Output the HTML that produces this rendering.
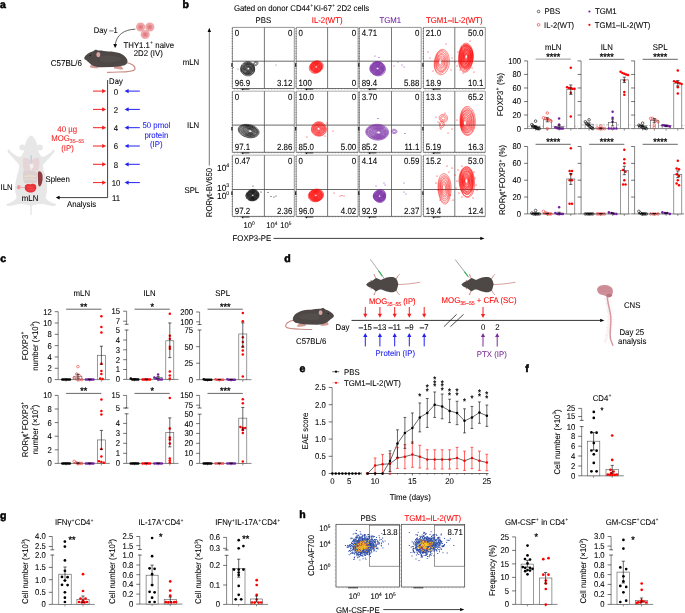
<!DOCTYPE html>
<html><head><meta charset="utf-8"><style>
html,body{margin:0;padding:0;background:#fff;}
svg{display:block;will-change:transform;text-rendering:geometricPrecision;font-family:"Liberation Sans", sans-serif;}
</style></head><body>
<svg width="685" height="613" viewBox="0 0 685 613">
<rect width="685" height="613" fill="#fff"/>
<text x="0.00" y="7.60" font-size="10.50" text-anchor="start" fill="#000" stroke="#000" font-weight="bold" stroke-width="0.55">a</text>
<circle cx="140.60" cy="27.00" r="4.6" fill="#f0a9ab" stroke="none" stroke-width="0.6" />
<circle cx="140.60" cy="27.00" r="2.6" fill="#e58a90" stroke="none" stroke-width="0.6" />
<circle cx="140.60" cy="27.00" r="1.0" fill="#d9737b" stroke="none" stroke-width="0.6" />
<circle cx="149.80" cy="27.00" r="4.6" fill="#f0a9ab" stroke="none" stroke-width="0.6" />
<circle cx="149.80" cy="27.00" r="2.6" fill="#e58a90" stroke="none" stroke-width="0.6" />
<circle cx="149.80" cy="27.00" r="1.0" fill="#d9737b" stroke="none" stroke-width="0.6" />
<circle cx="145.20" cy="34.50" r="4.6" fill="#f0a9ab" stroke="none" stroke-width="0.6" />
<circle cx="145.20" cy="34.50" r="2.6" fill="#e58a90" stroke="none" stroke-width="0.6" />
<circle cx="145.20" cy="34.50" r="1.0" fill="#d9737b" stroke="none" stroke-width="0.6" />
<path d="M135.3,29.2 C124,29.5 116.5,35 115.3,44.5" fill="none" stroke="#000" stroke-width="0.6" />
<path d="M115.1,48 L113.3,43.9 L117.1,44.3 Z" fill="#000" stroke="none" stroke-width="0.7" />
<text transform="translate(93.70,32.80) scale(1,1.07)" font-size="7.60" text-anchor="start" fill="#000" stroke="#000" stroke-width="0.07" >Day –1</text>
<text transform="translate(123.50,47.60) scale(1,1.07)" font-size="7.80" text-anchor="start" fill="#000" stroke="#000" stroke-width="0.07" >THY1.1<tspan font-size="4.4" dx="0.35" dy="-3.3">+</tspan><tspan dx="0.3" dy="3.3"> naive</tspan></text>
<text transform="translate(148.30,56.40) scale(1,1.07)" font-size="7.80" text-anchor="middle" fill="#000" stroke="#000" stroke-width="0.07" >2D2 (IV)</text>
<text transform="translate(50.80,65.60) scale(1,1.07)" font-size="8.00" text-anchor="start" fill="#000" stroke="#000" stroke-width="0.07" >C57BL/6</text>

<g id="mouseside">
<path d="M126,62.5 C131,63.2 136.2,66.2 134.8,69.6 C133,72.6 121,71.6 107.5,72.4" fill="none" stroke="#c98b86" stroke-width="1.1" stroke-linecap="round"/>
<path d="M91,64 L89.8,67.3 C92,68.2 95.5,68.5 98.5,68.3 L97,65.5 Z" fill="#d49a95"/>
<path d="M113.5,65.5 L114.2,68.6 C117,69.3 120.5,69.6 123.5,69.2 L121,65.8 Z" fill="#d49a95"/>
<path d="M84.4,57.4 C85.6,55.0 89.2,52.4 93.2,51.3 C94.5,49.5 96.8,49.0 97.9,50.6 C101.5,50.4 105,51.2 108.5,51.6 C116.5,51.6 123.5,53.6 126.6,58.4 C128.6,61.6 127.2,64.6 123.5,65.6 C120,66.5 116.5,66.9 112,67.1 L102,67.3 C97.5,67.3 93.6,66.4 90.8,64.2 C88.5,62.3 86.6,60.6 85.1,59.6 C84.3,59 84.1,58.1 84.4,57.4 Z" fill="#4d4745"/>
<path d="M100,56 C106,54.5 116,55 122,59 C118,62.5 108,63.2 100,61.5 Z" fill="#575150" opacity="0.7"/>
<ellipse cx="98.3" cy="54.6" rx="2.0" ry="2.6" fill="#d8a3a0"/>
<circle cx="90.3" cy="55.6" r="0.7" fill="#111"/>
</g>
<line x1="107.60" y1="80.00" x2="107.60" y2="197.60" stroke="#000" stroke-width="0.75" />
<line x1="107.60" y1="197.60" x2="58.50" y2="197.60" stroke="#000" stroke-width="0.75" />
<path d="M55.8,197.6 L59.6,195.8 L59.6,199.4 Z" fill="#000" stroke="none" stroke-width="0.7" />
<text transform="translate(109.10,83.50) scale(1,1.07)" font-size="7.70" text-anchor="start" fill="#000" stroke="#000" stroke-width="0.07" >Day</text>
<text transform="translate(116.00,94.50) scale(1,1.08)" font-size="7.80" text-anchor="middle" fill="#000" stroke="#000" stroke-width="0.07" >0</text>
<line x1="93.00" y1="91.10" x2="103.00" y2="91.10" stroke="#f42020" stroke-width="1.0" />
<path d="M106.20,91.10 L102.20,89.00 L102.20,93.20 Z" fill="#f42020" stroke="none" stroke-width="0.7" />
<line x1="139.80" y1="91.10" x2="127.80" y2="91.10" stroke="#2222f2" stroke-width="1.0" />
<path d="M124.60,91.10 L128.60,89.00 L128.60,93.20 Z" fill="#2222f2" stroke="none" stroke-width="0.7" />
<text transform="translate(116.00,112.80) scale(1,1.08)" font-size="7.80" text-anchor="middle" fill="#000" stroke="#000" stroke-width="0.07" >2</text>
<line x1="93.00" y1="109.40" x2="103.00" y2="109.40" stroke="#f42020" stroke-width="1.0" />
<path d="M106.20,109.40 L102.20,107.30 L102.20,111.50 Z" fill="#f42020" stroke="none" stroke-width="0.7" />
<line x1="139.80" y1="109.40" x2="127.80" y2="109.40" stroke="#2222f2" stroke-width="1.0" />
<path d="M124.60,109.40 L128.60,107.30 L128.60,111.50 Z" fill="#2222f2" stroke="none" stroke-width="0.7" />
<text transform="translate(116.00,131.10) scale(1,1.08)" font-size="7.80" text-anchor="middle" fill="#000" stroke="#000" stroke-width="0.07" >4</text>
<line x1="93.00" y1="127.70" x2="103.00" y2="127.70" stroke="#f42020" stroke-width="1.0" />
<path d="M106.20,127.70 L102.20,125.60 L102.20,129.80 Z" fill="#f42020" stroke="none" stroke-width="0.7" />
<line x1="139.80" y1="127.70" x2="127.80" y2="127.70" stroke="#2222f2" stroke-width="1.0" />
<path d="M124.60,127.70 L128.60,125.60 L128.60,129.80 Z" fill="#2222f2" stroke="none" stroke-width="0.7" />
<text transform="translate(116.00,149.40) scale(1,1.08)" font-size="7.80" text-anchor="middle" fill="#000" stroke="#000" stroke-width="0.07" >6</text>
<line x1="93.00" y1="146.00" x2="103.00" y2="146.00" stroke="#f42020" stroke-width="1.0" />
<path d="M106.20,146.00 L102.20,143.90 L102.20,148.10 Z" fill="#f42020" stroke="none" stroke-width="0.7" />
<line x1="139.80" y1="146.00" x2="127.80" y2="146.00" stroke="#2222f2" stroke-width="1.0" />
<path d="M124.60,146.00 L128.60,143.90 L128.60,148.10 Z" fill="#2222f2" stroke="none" stroke-width="0.7" />
<text transform="translate(116.00,167.70) scale(1,1.08)" font-size="7.80" text-anchor="middle" fill="#000" stroke="#000" stroke-width="0.07" >8</text>
<line x1="93.00" y1="164.30" x2="103.00" y2="164.30" stroke="#f42020" stroke-width="1.0" />
<path d="M106.20,164.30 L102.20,162.20 L102.20,166.40 Z" fill="#f42020" stroke="none" stroke-width="0.7" />
<line x1="139.80" y1="164.30" x2="127.80" y2="164.30" stroke="#2222f2" stroke-width="1.0" />
<path d="M124.60,164.30 L128.60,162.20 L128.60,166.40 Z" fill="#2222f2" stroke="none" stroke-width="0.7" />
<text transform="translate(116.00,186.00) scale(1,1.08)" font-size="7.80" text-anchor="middle" fill="#000" stroke="#000" stroke-width="0.07" >10</text>
<line x1="93.00" y1="182.60" x2="103.00" y2="182.60" stroke="#f42020" stroke-width="1.0" />
<path d="M106.20,182.60 L102.20,180.50 L102.20,184.70 Z" fill="#f42020" stroke="none" stroke-width="0.7" />
<line x1="139.80" y1="182.60" x2="127.80" y2="182.60" stroke="#2222f2" stroke-width="1.0" />
<path d="M124.60,182.60 L128.60,180.50 L128.60,184.70 Z" fill="#2222f2" stroke="none" stroke-width="0.7" />
<text transform="translate(116.00,200.80) scale(1,1.08)" font-size="7.80" text-anchor="middle" fill="#000" stroke="#000" stroke-width="0.07" >11</text>
<text transform="translate(67.20,131.90) scale(1,1.07)" font-size="7.80" text-anchor="middle" fill="#f42020" stroke="#f42020" stroke-width="0.07" >40 µg</text>
<text transform="translate(51.20,140.60) scale(1,1.07)" font-size="7.80" text-anchor="start" fill="#f42020" stroke="#f42020" stroke-width="0.07" >MOG<tspan font-size="5.2" dy="2.6">35–55</tspan></text>
<text transform="translate(67.50,150.50) scale(1,1.07)" font-size="7.80" text-anchor="middle" fill="#f42020" stroke="#f42020" stroke-width="0.07" >(IP)</text>
<text transform="translate(156.40,128.00) scale(1,1.07)" font-size="7.80" text-anchor="middle" fill="#2222f2" stroke="#2222f2" stroke-width="0.07" >50 pmol</text>
<text transform="translate(156.30,138.10) scale(1,1.07)" font-size="7.80" text-anchor="middle" fill="#2222f2" stroke="#2222f2" stroke-width="0.07" >protein</text>
<text transform="translate(156.30,147.10) scale(1,1.07)" font-size="7.80" text-anchor="middle" fill="#2222f2" stroke="#2222f2" stroke-width="0.07" >(IP)</text>
<g>
<path d="M31.10,135.60C30.75,135.83 29.68,136.30 29.00,137.00C28.32,137.70 27.57,138.80 27.00,139.80C26.43,140.80 26.00,141.88 25.60,143.00C25.20,144.12 24.83,145.30 24.60,146.50C24.37,147.70 24.50,149.02 24.20,150.20C23.90,151.38 23.40,152.53 22.80,153.60C22.20,154.67 21.50,156.17 20.60,156.60C19.70,157.03 18.57,156.67 17.40,156.20C16.23,155.73 14.73,154.60 13.60,153.80C12.47,153.00 11.37,152.10 10.60,151.40C9.83,150.70 9.48,149.78 9.00,149.60C8.52,149.42 7.88,149.87 7.70,150.30C7.52,150.73 7.58,151.58 7.90,152.20C8.22,152.82 8.82,153.10 9.60,154.00C10.38,154.90 11.50,156.33 12.60,157.60C13.70,158.87 15.13,160.37 16.20,161.60C17.27,162.83 18.57,163.68 19.00,165.00C19.43,166.32 19.17,167.58 18.80,169.50C18.43,171.42 17.38,174.00 16.80,176.50C16.22,179.00 15.55,181.92 15.30,184.50C15.05,187.08 15.08,189.82 15.30,192.00C15.52,194.18 16.75,196.23 16.60,197.60C16.45,198.97 15.40,199.37 14.40,200.20C13.40,201.03 11.87,201.97 10.60,202.60C9.33,203.23 7.47,203.50 6.80,204.00C6.13,204.50 6.07,205.28 6.60,205.60C7.13,205.92 8.60,206.02 10.00,205.90C11.40,205.78 13.25,205.20 15.00,204.90C16.75,204.60 18.75,204.18 20.50,204.10C22.25,204.02 24.02,204.22 25.50,204.40C26.98,204.58 28.60,204.93 29.40,205.20C30.20,205.47 29.88,205.87 30.30,206.00C30.72,206.13 31.48,206.13 31.90,206.00C32.32,205.87 32.00,205.47 32.80,205.20C33.60,204.93 35.22,204.58 36.70,204.40C38.18,204.22 39.95,204.02 41.70,204.10C43.45,204.18 45.45,204.60 47.20,204.90C48.95,205.20 50.80,205.78 52.20,205.90C53.60,206.02 55.07,205.92 55.60,205.60C56.13,205.28 56.07,204.50 55.40,204.00C54.73,203.50 52.87,203.23 51.60,202.60C50.33,201.97 48.80,201.03 47.80,200.20C46.80,199.37 45.75,198.97 45.60,197.60C45.45,196.23 46.68,194.18 46.90,192.00C47.12,189.82 47.15,187.08 46.90,184.50C46.65,181.92 45.98,179.00 45.40,176.50C44.82,174.00 43.77,171.42 43.40,169.50C43.03,167.58 42.77,166.32 43.20,165.00C43.63,163.68 44.93,162.83 46.00,161.60C47.07,160.37 48.50,158.87 49.60,157.60C50.70,156.33 51.82,154.90 52.60,154.00C53.38,153.10 53.98,152.82 54.30,152.20C54.62,151.58 54.68,150.73 54.50,150.30C54.32,149.87 53.68,149.42 53.20,149.60C52.72,149.78 52.37,150.70 51.60,151.40C50.83,152.10 49.73,153.00 48.60,153.80C47.47,154.60 45.97,155.73 44.80,156.20C43.63,156.67 42.50,157.03 41.60,156.60C40.70,156.17 40.00,154.67 39.40,153.60C38.80,152.53 38.30,151.38 38.00,150.20C37.70,149.02 37.83,147.70 37.60,146.50C37.37,145.30 37.00,144.12 36.60,143.00C36.20,141.88 35.77,140.80 35.20,139.80C34.63,138.80 33.88,137.70 33.20,137.00C32.52,136.30 31.45,135.83 31.10,135.60C30.75,135.37 31.45,135.37 31.10,135.60Z" fill="#e7e7e7"/>
<circle cx="22.4" cy="147.6" r="3.0" fill="#e7e7e7"/>
<circle cx="39.8" cy="147.6" r="3.0" fill="#e7e7e7"/>
<rect x="30.4" y="205" width="1.4" height="10" rx="0.6" fill="#e7e7e7"/>
<path d="M29.0,139 L27.5,135.5 M33.2,139 L34.7,135.5 M28.5,140.5 L24.5,138.5 M33.7,140.5 L37.7,138.5" stroke="#efefef" stroke-width="0.4"/>
<path d="M23.3,158.0 C22.6,162 22.6,167 24.0,170.8 L30.2,170.8 L30.2,160.5 C28.8,158.2 25.6,157.2 23.3,158.0 Z" fill="#e6d4d7"/>
<path d="M38.9,158.0 C39.6,162 39.6,167 38.2,170.8 L32.0,170.8 L32.0,160.5 C33.4,158.2 36.6,157.2 38.9,158.0 Z" fill="#e6d4d7"/>
<ellipse cx="31.6" cy="165.8" rx="2.0" ry="2.6" fill="#f4f0f0"/>
<line x1="31.1" y1="155.3" x2="31.1" y2="163.8" stroke="#98a8c8" stroke-width="0.6"/>
<path d="M23.2,171.6 C26,170.2 34,170.2 37.2,172.2 C38.2,175.8 37.6,180.6 36.2,183.2 L24.4,183.2 C22.8,180 22.7,175 23.2,171.6 Z" fill="#ddd0d1"/>
<path d="M24.4,176.4 C28,175.4 32,175.7 36.1,176.4" stroke="#ece2c6" stroke-width="1.2" fill="none"/>
<path d="M24.6,179.4 C28,178.8 32,179 35.8,179.4" stroke="#e9dfd0" stroke-width="0.8" fill="none"/>
<path d="M38.5,171.4 C41.5,170.9 43.0,174.4 42.6,178.9 C42.2,182.9 41.0,186.4 39.5,186.4 C38.0,186.4 38.0,182.0 38.0,178.0 C38.0,175.0 37.5,172.0 38.5,171.4 Z" fill="#8f3d42"/>
<path d="M25.3,185.2 C27.2,183.2 29.8,184 31.0,184.3 C33.0,183.2 36.0,184.0 36.3,186.5 C36.8,189.5 34.5,192.5 31.0,192.6 C27.5,192.6 24.7,190.5 24.8,188.0 C24.8,186.6 24.9,185.8 25.3,185.2 Z" fill="#ea3238"/>
<path d="M27,187.2 C29,186 31,188.2 33,187 M28,190 C30,189 32,190.2 34,189.4" stroke="#f47a7e" stroke-width="0.5" fill="none"/>
<line x1="20.5" y1="187.2" x2="25" y2="187.6" stroke="#e88a90" stroke-width="0.6"/>
<ellipse cx="18.8" cy="187.2" rx="1.9" ry="2.2" fill="#eba0a5"/>
</g>
<text transform="translate(45.50,182.20) scale(1,1.07)" font-size="7.80" text-anchor="start" fill="#000" stroke="#000" stroke-width="0.07" >Spleen</text>
<text transform="translate(0.60,190.20) scale(1,1.07)" font-size="7.80" text-anchor="start" fill="#000" stroke="#000" stroke-width="0.07" >ILN</text>
<text transform="translate(21.80,200.50) scale(1,1.07)" font-size="7.80" text-anchor="start" fill="#000" stroke="#000" stroke-width="0.07" >mLN</text>
<text transform="translate(67.00,206.60) scale(1,1.07)" font-size="7.80" text-anchor="start" fill="#000" stroke="#000" stroke-width="0.07" >Analysis</text>
<text x="182.60" y="7.60" font-size="10.50" text-anchor="start" fill="#000" stroke="#000" font-weight="bold" stroke-width="0.55">b</text>
<text transform="translate(233.90,11.00) scale(1,1.07)" font-size="7.80" text-anchor="start" fill="#000" stroke="#000" stroke-width="0.07" >Gated on donor CD44<tspan font-size="4.4" dx="0.4" dy="-3.3">+</tspan><tspan dx="0.6" dy="3.3">Ki-67</tspan><tspan font-size="4.4" dx="0.4" dy="-3.3">+</tspan><tspan dy="3.3"> 2D2 cells</tspan></text>
<text transform="translate(263.35,23.10) scale(1,1.07)" font-size="7.80" text-anchor="middle" fill="#000" stroke="#000" stroke-width="0.07" >PBS</text>
<text transform="translate(327.15,23.10) scale(1,1.07)" font-size="7.80" text-anchor="middle" fill="#ff0000" stroke="#ff0000" stroke-width="0.07" >IL-2(WT)</text>
<text transform="translate(390.25,23.10) scale(1,1.07)" font-size="7.80" text-anchor="middle" fill="#7222a0" stroke="#7222a0" stroke-width="0.07" >TGM1</text>
<text transform="translate(454.35,23.10) scale(1,1.07)" font-size="7.80" text-anchor="middle" fill="#ff0000" stroke="#ff0000" stroke-width="0.07" >TGM1–IL-2(WT)</text>
<text transform="translate(199.20,65.00) scale(1,1.07)" font-size="7.80" text-anchor="end" fill="#000" stroke="#000" stroke-width="0.07" >mLN</text>
<text transform="translate(199.20,128.30) scale(1,1.07)" font-size="7.80" text-anchor="end" fill="#000" stroke="#000" stroke-width="0.07" >ILN</text>
<text transform="translate(199.20,193.40) scale(1,1.07)" font-size="7.80" text-anchor="end" fill="#000" stroke="#000" stroke-width="0.07" >SPL</text>
<line x1="209.30" y1="31.00" x2="209.30" y2="165.50" stroke="#555" stroke-width="0.8" />
<path d="M209.3,27.8 L207.6,32 L211.0,32 Z" fill="#000" stroke="none" stroke-width="0.7" />
<text x="0.00" y="0.00" font-size="7.80" text-anchor="middle" fill="#000" stroke="#000" stroke-width="0.07" transform="translate(212.3,192.5) rotate(-90) scale(1,1.07)">RORγt-BV650</text>
<text transform="translate(232.60,241.00) scale(1,1.07)" font-size="7.80" text-anchor="start" fill="#000" stroke="#000" stroke-width="0.07" >FOXP3-PE</text>
<line x1="273.50" y1="238.40" x2="481.00" y2="238.40" stroke="#000" stroke-width="0.75" />
<path d="M484.5,238.4 L480.3,236.7 L480.3,240.1 Z" fill="#000" stroke="none" stroke-width="0.7" />
<text transform="translate(229.20,171.00) scale(1,1.05)" font-size="8.40" text-anchor="end" fill="#000" stroke="#000" stroke-width="0.07" >10<tspan font-size="5.2" dy="-3.4">4</tspan></text>
<text transform="translate(229.20,191.00) scale(1,1.05)" font-size="8.40" text-anchor="end" fill="#000" stroke="#000" stroke-width="0.07" >10<tspan font-size="5.2" dy="-3.4">3</tspan></text>
<text transform="translate(229.20,198.60) scale(1,1.05)" font-size="8.40" text-anchor="end" fill="#000" stroke="#000" stroke-width="0.07" >10<tspan font-size="5.2" dy="-3.4">0</tspan></text>
<text transform="translate(243.60,227.80) scale(1,1.08)" font-size="7.60" text-anchor="start" fill="#000" stroke="#000" stroke-width="0.07" >10<tspan font-size="4.8" dy="-2.8">0</tspan></text>
<text transform="translate(266.30,227.80) scale(1,1.08)" font-size="7.60" text-anchor="start" fill="#000" stroke="#000" stroke-width="0.07" >10<tspan font-size="4.8" dy="-2.8">4</tspan></text>
<text transform="translate(280.30,227.80) scale(1,1.08)" font-size="7.60" text-anchor="start" fill="#000" stroke="#000" stroke-width="0.07" >10<tspan font-size="4.8" dy="-2.8">5</tspan></text>
<line x1="232.40" y1="27.40" x2="294.30" y2="27.40" stroke="#8a8a8a" stroke-width="0.9" />
<line x1="294.30" y1="27.40" x2="294.30" y2="88.50" stroke="#8a8a8a" stroke-width="0.9" />
<line x1="232.40" y1="88.50" x2="294.30" y2="88.50" stroke="#555" stroke-width="0.85" />
<line x1="232.40" y1="27.40" x2="232.40" y2="88.50" stroke="#777" stroke-width="0.8" />
<line x1="232.20" y1="28.40" x2="232.20" y2="88.50" stroke="#333" stroke-width="0.9" stroke-dasharray="0.6,1.9"/>
<line x1="264.40" y1="27.40" x2="264.40" y2="88.50" stroke="#555" stroke-width="0.8" />
<line x1="232.40" y1="61.20" x2="294.30" y2="61.20" stroke="#444" stroke-width="0.8" />
<g stroke="#666" stroke-width="0.45"><line x1="234.4" y1="88.5" x2="234.4" y2="89.6"/><line x1="237.5" y1="88.5" x2="237.5" y2="89.6"/><line x1="240.6" y1="88.5" x2="240.6" y2="89.6"/><line x1="243.7" y1="88.5" x2="243.7" y2="89.6"/><line x1="246.8" y1="88.5" x2="246.8" y2="89.6"/><line x1="249.9" y1="88.5" x2="249.9" y2="89.6"/><line x1="253.0" y1="88.5" x2="253.0" y2="89.6"/><line x1="256.1" y1="88.5" x2="256.1" y2="89.6"/><line x1="259.2" y1="88.5" x2="259.2" y2="89.6"/><line x1="262.3" y1="88.5" x2="262.3" y2="89.6"/><line x1="265.4" y1="88.5" x2="265.4" y2="89.6"/><line x1="268.5" y1="88.5" x2="268.5" y2="89.6"/><line x1="271.6" y1="88.5" x2="271.6" y2="89.6"/><line x1="274.7" y1="88.5" x2="274.7" y2="89.6"/><line x1="277.8" y1="88.5" x2="277.8" y2="89.6"/><line x1="280.9" y1="88.5" x2="280.9" y2="89.6"/><line x1="284.0" y1="88.5" x2="284.0" y2="89.6"/><line x1="287.1" y1="88.5" x2="287.1" y2="89.6"/><line x1="290.2" y1="88.5" x2="290.2" y2="89.6"/><line x1="293.3" y1="88.5" x2="293.3" y2="89.6"/></g>
<line x1="241.40" y1="89.10" x2="249.40" y2="89.10" stroke="#222" stroke-width="0.9" />
<line x1="242.70" y1="89.00" x2="242.70" y2="90.30" stroke="#111" stroke-width="1.1" />
<line x1="231.90" y1="63.20" x2="231.90" y2="66.70" stroke="#111" stroke-width="1.1" />
<text transform="translate(234.80,36.20) scale(1,1.13)" font-size="7.90" text-anchor="start" fill="#000" stroke="#000" stroke-width="0.07" >0</text>
<text transform="translate(292.40,36.20) scale(1,1.13)" font-size="7.90" text-anchor="end" fill="#000" stroke="#000" stroke-width="0.07" >0</text>
<text transform="translate(234.80,85.70) scale(1,1.13)" font-size="7.90" text-anchor="start" fill="#000" stroke="#000" stroke-width="0.07" >96.9</text>
<text transform="translate(292.40,85.70) scale(1,1.13)" font-size="7.90" text-anchor="end" fill="#000" stroke="#000" stroke-width="0.07" >3.12</text>
<line x1="296.20" y1="27.40" x2="358.10" y2="27.40" stroke="#8a8a8a" stroke-width="0.9" />
<line x1="358.10" y1="27.40" x2="358.10" y2="88.50" stroke="#8a8a8a" stroke-width="0.9" />
<line x1="296.20" y1="88.50" x2="358.10" y2="88.50" stroke="#555" stroke-width="0.85" />
<line x1="296.20" y1="27.40" x2="296.20" y2="88.50" stroke="#777" stroke-width="0.8" />
<line x1="296.00" y1="28.40" x2="296.00" y2="88.50" stroke="#333" stroke-width="0.9" stroke-dasharray="0.6,1.9"/>
<line x1="327.60" y1="27.40" x2="327.60" y2="88.50" stroke="#555" stroke-width="0.8" />
<line x1="296.20" y1="61.20" x2="358.10" y2="61.20" stroke="#444" stroke-width="0.8" />
<g stroke="#666" stroke-width="0.45"><line x1="298.2" y1="88.5" x2="298.2" y2="89.6"/><line x1="301.3" y1="88.5" x2="301.3" y2="89.6"/><line x1="304.4" y1="88.5" x2="304.4" y2="89.6"/><line x1="307.5" y1="88.5" x2="307.5" y2="89.6"/><line x1="310.6" y1="88.5" x2="310.6" y2="89.6"/><line x1="313.7" y1="88.5" x2="313.7" y2="89.6"/><line x1="316.8" y1="88.5" x2="316.8" y2="89.6"/><line x1="319.9" y1="88.5" x2="319.9" y2="89.6"/><line x1="323.0" y1="88.5" x2="323.0" y2="89.6"/><line x1="326.1" y1="88.5" x2="326.1" y2="89.6"/><line x1="329.2" y1="88.5" x2="329.2" y2="89.6"/><line x1="332.3" y1="88.5" x2="332.3" y2="89.6"/><line x1="335.4" y1="88.5" x2="335.4" y2="89.6"/><line x1="338.5" y1="88.5" x2="338.5" y2="89.6"/><line x1="341.6" y1="88.5" x2="341.6" y2="89.6"/><line x1="344.7" y1="88.5" x2="344.7" y2="89.6"/><line x1="347.8" y1="88.5" x2="347.8" y2="89.6"/><line x1="350.9" y1="88.5" x2="350.9" y2="89.6"/><line x1="354.0" y1="88.5" x2="354.0" y2="89.6"/><line x1="357.1" y1="88.5" x2="357.1" y2="89.6"/></g>
<line x1="305.20" y1="89.10" x2="313.20" y2="89.10" stroke="#222" stroke-width="0.9" />
<line x1="306.50" y1="89.00" x2="306.50" y2="90.30" stroke="#111" stroke-width="1.1" />
<line x1="295.70" y1="63.20" x2="295.70" y2="66.70" stroke="#111" stroke-width="1.1" />
<text transform="translate(298.60,36.20) scale(1,1.13)" font-size="7.90" text-anchor="start" fill="#000" stroke="#000" stroke-width="0.07" >0</text>
<text transform="translate(356.20,36.20) scale(1,1.13)" font-size="7.90" text-anchor="end" fill="#000" stroke="#000" stroke-width="0.07" >0</text>
<text transform="translate(298.60,85.70) scale(1,1.13)" font-size="7.90" text-anchor="start" fill="#000" stroke="#000" stroke-width="0.07" >100</text>
<text transform="translate(356.20,85.70) scale(1,1.13)" font-size="7.90" text-anchor="end" fill="#000" stroke="#000" stroke-width="0.07" >0</text>
<line x1="359.30" y1="27.40" x2="421.20" y2="27.40" stroke="#8a8a8a" stroke-width="0.9" />
<line x1="421.20" y1="27.40" x2="421.20" y2="88.50" stroke="#8a8a8a" stroke-width="0.9" />
<line x1="359.30" y1="88.50" x2="421.20" y2="88.50" stroke="#555" stroke-width="0.85" />
<line x1="359.30" y1="27.40" x2="359.30" y2="88.50" stroke="#777" stroke-width="0.8" />
<line x1="359.10" y1="28.40" x2="359.10" y2="88.50" stroke="#333" stroke-width="0.9" stroke-dasharray="0.6,1.9"/>
<line x1="391.50" y1="27.40" x2="391.50" y2="88.50" stroke="#555" stroke-width="0.8" />
<line x1="359.30" y1="61.20" x2="421.20" y2="61.20" stroke="#444" stroke-width="0.8" />
<g stroke="#666" stroke-width="0.45"><line x1="361.3" y1="88.5" x2="361.3" y2="89.6"/><line x1="364.4" y1="88.5" x2="364.4" y2="89.6"/><line x1="367.5" y1="88.5" x2="367.5" y2="89.6"/><line x1="370.6" y1="88.5" x2="370.6" y2="89.6"/><line x1="373.7" y1="88.5" x2="373.7" y2="89.6"/><line x1="376.8" y1="88.5" x2="376.8" y2="89.6"/><line x1="379.9" y1="88.5" x2="379.9" y2="89.6"/><line x1="383.0" y1="88.5" x2="383.0" y2="89.6"/><line x1="386.1" y1="88.5" x2="386.1" y2="89.6"/><line x1="389.2" y1="88.5" x2="389.2" y2="89.6"/><line x1="392.3" y1="88.5" x2="392.3" y2="89.6"/><line x1="395.4" y1="88.5" x2="395.4" y2="89.6"/><line x1="398.5" y1="88.5" x2="398.5" y2="89.6"/><line x1="401.6" y1="88.5" x2="401.6" y2="89.6"/><line x1="404.7" y1="88.5" x2="404.7" y2="89.6"/><line x1="407.8" y1="88.5" x2="407.8" y2="89.6"/><line x1="410.9" y1="88.5" x2="410.9" y2="89.6"/><line x1="414.0" y1="88.5" x2="414.0" y2="89.6"/><line x1="417.1" y1="88.5" x2="417.1" y2="89.6"/><line x1="420.2" y1="88.5" x2="420.2" y2="89.6"/></g>
<line x1="368.30" y1="89.10" x2="376.30" y2="89.10" stroke="#222" stroke-width="0.9" />
<line x1="369.60" y1="89.00" x2="369.60" y2="90.30" stroke="#111" stroke-width="1.1" />
<line x1="358.80" y1="63.20" x2="358.80" y2="66.70" stroke="#111" stroke-width="1.1" />
<text transform="translate(361.70,36.20) scale(1,1.13)" font-size="7.90" text-anchor="start" fill="#000" stroke="#000" stroke-width="0.07" >4.71</text>
<text transform="translate(419.30,36.20) scale(1,1.13)" font-size="7.90" text-anchor="end" fill="#000" stroke="#000" stroke-width="0.07" >0</text>
<text transform="translate(361.70,85.70) scale(1,1.13)" font-size="7.90" text-anchor="start" fill="#000" stroke="#000" stroke-width="0.07" >89.4</text>
<text transform="translate(419.30,85.70) scale(1,1.13)" font-size="7.90" text-anchor="end" fill="#000" stroke="#000" stroke-width="0.07" >5.88</text>
<line x1="423.40" y1="27.40" x2="485.30" y2="27.40" stroke="#8a8a8a" stroke-width="0.9" />
<line x1="485.30" y1="27.40" x2="485.30" y2="88.50" stroke="#8a8a8a" stroke-width="0.9" />
<line x1="423.40" y1="88.50" x2="485.30" y2="88.50" stroke="#555" stroke-width="0.85" />
<line x1="423.40" y1="27.40" x2="423.40" y2="88.50" stroke="#777" stroke-width="0.8" />
<line x1="423.20" y1="28.40" x2="423.20" y2="88.50" stroke="#333" stroke-width="0.9" stroke-dasharray="0.6,1.9"/>
<line x1="454.80" y1="27.40" x2="454.80" y2="88.50" stroke="#555" stroke-width="0.8" />
<line x1="423.40" y1="61.20" x2="485.30" y2="61.20" stroke="#444" stroke-width="0.8" />
<g stroke="#666" stroke-width="0.45"><line x1="425.4" y1="88.5" x2="425.4" y2="89.6"/><line x1="428.5" y1="88.5" x2="428.5" y2="89.6"/><line x1="431.6" y1="88.5" x2="431.6" y2="89.6"/><line x1="434.7" y1="88.5" x2="434.7" y2="89.6"/><line x1="437.8" y1="88.5" x2="437.8" y2="89.6"/><line x1="440.9" y1="88.5" x2="440.9" y2="89.6"/><line x1="444.0" y1="88.5" x2="444.0" y2="89.6"/><line x1="447.1" y1="88.5" x2="447.1" y2="89.6"/><line x1="450.2" y1="88.5" x2="450.2" y2="89.6"/><line x1="453.3" y1="88.5" x2="453.3" y2="89.6"/><line x1="456.4" y1="88.5" x2="456.4" y2="89.6"/><line x1="459.5" y1="88.5" x2="459.5" y2="89.6"/><line x1="462.6" y1="88.5" x2="462.6" y2="89.6"/><line x1="465.7" y1="88.5" x2="465.7" y2="89.6"/><line x1="468.8" y1="88.5" x2="468.8" y2="89.6"/><line x1="471.9" y1="88.5" x2="471.9" y2="89.6"/><line x1="475.0" y1="88.5" x2="475.0" y2="89.6"/><line x1="478.1" y1="88.5" x2="478.1" y2="89.6"/><line x1="481.2" y1="88.5" x2="481.2" y2="89.6"/><line x1="484.3" y1="88.5" x2="484.3" y2="89.6"/></g>
<line x1="432.40" y1="89.10" x2="440.40" y2="89.10" stroke="#222" stroke-width="0.9" />
<line x1="433.70" y1="89.00" x2="433.70" y2="90.30" stroke="#111" stroke-width="1.1" />
<line x1="422.90" y1="63.20" x2="422.90" y2="66.70" stroke="#111" stroke-width="1.1" />
<text transform="translate(425.80,36.20) scale(1,1.13)" font-size="7.90" text-anchor="start" fill="#000" stroke="#000" stroke-width="0.07" >21.0</text>
<text transform="translate(483.40,36.20) scale(1,1.13)" font-size="7.90" text-anchor="end" fill="#000" stroke="#000" stroke-width="0.07" >50.0</text>
<text transform="translate(425.80,85.70) scale(1,1.13)" font-size="7.90" text-anchor="start" fill="#000" stroke="#000" stroke-width="0.07" >18.9</text>
<text transform="translate(483.40,85.70) scale(1,1.13)" font-size="7.90" text-anchor="end" fill="#000" stroke="#000" stroke-width="0.07" >10.1</text>
<line x1="232.40" y1="91.20" x2="294.30" y2="91.20" stroke="#c8c8c8" stroke-width="1.5" />
<line x1="294.30" y1="91.20" x2="294.30" y2="152.30" stroke="#8a8a8a" stroke-width="0.9" />
<line x1="232.40" y1="152.30" x2="294.30" y2="152.30" stroke="#555" stroke-width="0.85" />
<line x1="232.40" y1="91.20" x2="232.40" y2="152.30" stroke="#777" stroke-width="0.8" />
<line x1="232.20" y1="92.20" x2="232.20" y2="152.30" stroke="#333" stroke-width="0.9" stroke-dasharray="0.6,1.9"/>
<line x1="264.40" y1="91.20" x2="264.40" y2="152.30" stroke="#555" stroke-width="0.8" />
<line x1="232.40" y1="125.10" x2="294.30" y2="125.10" stroke="#444" stroke-width="0.8" />
<g stroke="#666" stroke-width="0.45"><line x1="234.4" y1="152.3" x2="234.4" y2="153.4"/><line x1="237.5" y1="152.3" x2="237.5" y2="153.4"/><line x1="240.6" y1="152.3" x2="240.6" y2="153.4"/><line x1="243.7" y1="152.3" x2="243.7" y2="153.4"/><line x1="246.8" y1="152.3" x2="246.8" y2="153.4"/><line x1="249.9" y1="152.3" x2="249.9" y2="153.4"/><line x1="253.0" y1="152.3" x2="253.0" y2="153.4"/><line x1="256.1" y1="152.3" x2="256.1" y2="153.4"/><line x1="259.2" y1="152.3" x2="259.2" y2="153.4"/><line x1="262.3" y1="152.3" x2="262.3" y2="153.4"/><line x1="265.4" y1="152.3" x2="265.4" y2="153.4"/><line x1="268.5" y1="152.3" x2="268.5" y2="153.4"/><line x1="271.6" y1="152.3" x2="271.6" y2="153.4"/><line x1="274.7" y1="152.3" x2="274.7" y2="153.4"/><line x1="277.8" y1="152.3" x2="277.8" y2="153.4"/><line x1="280.9" y1="152.3" x2="280.9" y2="153.4"/><line x1="284.0" y1="152.3" x2="284.0" y2="153.4"/><line x1="287.1" y1="152.3" x2="287.1" y2="153.4"/><line x1="290.2" y1="152.3" x2="290.2" y2="153.4"/><line x1="293.3" y1="152.3" x2="293.3" y2="153.4"/></g>
<line x1="241.40" y1="152.90" x2="249.40" y2="152.90" stroke="#222" stroke-width="0.9" />
<line x1="242.70" y1="152.80" x2="242.70" y2="154.10" stroke="#111" stroke-width="1.1" />
<line x1="231.90" y1="127.10" x2="231.90" y2="130.60" stroke="#111" stroke-width="1.1" />
<text transform="translate(234.80,100.00) scale(1,1.13)" font-size="7.90" text-anchor="start" fill="#000" stroke="#000" stroke-width="0.07" >0</text>
<text transform="translate(292.40,100.00) scale(1,1.13)" font-size="7.90" text-anchor="end" fill="#000" stroke="#000" stroke-width="0.07" >0</text>
<text transform="translate(234.80,149.50) scale(1,1.13)" font-size="7.90" text-anchor="start" fill="#000" stroke="#000" stroke-width="0.07" >97.1</text>
<text transform="translate(292.40,149.50) scale(1,1.13)" font-size="7.90" text-anchor="end" fill="#000" stroke="#000" stroke-width="0.07" >2.86</text>
<line x1="296.20" y1="91.20" x2="358.10" y2="91.20" stroke="#c8c8c8" stroke-width="1.5" />
<line x1="358.10" y1="91.20" x2="358.10" y2="152.30" stroke="#8a8a8a" stroke-width="0.9" />
<line x1="296.20" y1="152.30" x2="358.10" y2="152.30" stroke="#555" stroke-width="0.85" />
<line x1="296.20" y1="91.20" x2="296.20" y2="152.30" stroke="#777" stroke-width="0.8" />
<line x1="296.00" y1="92.20" x2="296.00" y2="152.30" stroke="#333" stroke-width="0.9" stroke-dasharray="0.6,1.9"/>
<line x1="327.60" y1="91.20" x2="327.60" y2="152.30" stroke="#555" stroke-width="0.8" />
<line x1="296.20" y1="125.10" x2="358.10" y2="125.10" stroke="#444" stroke-width="0.8" />
<g stroke="#666" stroke-width="0.45"><line x1="298.2" y1="152.3" x2="298.2" y2="153.4"/><line x1="301.3" y1="152.3" x2="301.3" y2="153.4"/><line x1="304.4" y1="152.3" x2="304.4" y2="153.4"/><line x1="307.5" y1="152.3" x2="307.5" y2="153.4"/><line x1="310.6" y1="152.3" x2="310.6" y2="153.4"/><line x1="313.7" y1="152.3" x2="313.7" y2="153.4"/><line x1="316.8" y1="152.3" x2="316.8" y2="153.4"/><line x1="319.9" y1="152.3" x2="319.9" y2="153.4"/><line x1="323.0" y1="152.3" x2="323.0" y2="153.4"/><line x1="326.1" y1="152.3" x2="326.1" y2="153.4"/><line x1="329.2" y1="152.3" x2="329.2" y2="153.4"/><line x1="332.3" y1="152.3" x2="332.3" y2="153.4"/><line x1="335.4" y1="152.3" x2="335.4" y2="153.4"/><line x1="338.5" y1="152.3" x2="338.5" y2="153.4"/><line x1="341.6" y1="152.3" x2="341.6" y2="153.4"/><line x1="344.7" y1="152.3" x2="344.7" y2="153.4"/><line x1="347.8" y1="152.3" x2="347.8" y2="153.4"/><line x1="350.9" y1="152.3" x2="350.9" y2="153.4"/><line x1="354.0" y1="152.3" x2="354.0" y2="153.4"/><line x1="357.1" y1="152.3" x2="357.1" y2="153.4"/></g>
<line x1="305.20" y1="152.90" x2="313.20" y2="152.90" stroke="#222" stroke-width="0.9" />
<line x1="306.50" y1="152.80" x2="306.50" y2="154.10" stroke="#111" stroke-width="1.1" />
<line x1="295.70" y1="127.10" x2="295.70" y2="130.60" stroke="#111" stroke-width="1.1" />
<text transform="translate(298.60,100.00) scale(1,1.13)" font-size="7.90" text-anchor="start" fill="#000" stroke="#000" stroke-width="0.07" >10.0</text>
<text transform="translate(356.20,100.00) scale(1,1.13)" font-size="7.90" text-anchor="end" fill="#000" stroke="#000" stroke-width="0.07" >0</text>
<text transform="translate(298.60,149.50) scale(1,1.13)" font-size="7.90" text-anchor="start" fill="#000" stroke="#000" stroke-width="0.07" >85.0</text>
<text transform="translate(356.20,149.50) scale(1,1.13)" font-size="7.90" text-anchor="end" fill="#000" stroke="#000" stroke-width="0.07" >5.00</text>
<line x1="359.30" y1="91.20" x2="421.20" y2="91.20" stroke="#c8c8c8" stroke-width="1.5" />
<line x1="421.20" y1="91.20" x2="421.20" y2="152.30" stroke="#8a8a8a" stroke-width="0.9" />
<line x1="359.30" y1="152.30" x2="421.20" y2="152.30" stroke="#555" stroke-width="0.85" />
<line x1="359.30" y1="91.20" x2="359.30" y2="152.30" stroke="#777" stroke-width="0.8" />
<line x1="359.10" y1="92.20" x2="359.10" y2="152.30" stroke="#333" stroke-width="0.9" stroke-dasharray="0.6,1.9"/>
<line x1="391.50" y1="91.20" x2="391.50" y2="152.30" stroke="#555" stroke-width="0.8" />
<line x1="359.30" y1="125.10" x2="421.20" y2="125.10" stroke="#444" stroke-width="0.8" />
<g stroke="#666" stroke-width="0.45"><line x1="361.3" y1="152.3" x2="361.3" y2="153.4"/><line x1="364.4" y1="152.3" x2="364.4" y2="153.4"/><line x1="367.5" y1="152.3" x2="367.5" y2="153.4"/><line x1="370.6" y1="152.3" x2="370.6" y2="153.4"/><line x1="373.7" y1="152.3" x2="373.7" y2="153.4"/><line x1="376.8" y1="152.3" x2="376.8" y2="153.4"/><line x1="379.9" y1="152.3" x2="379.9" y2="153.4"/><line x1="383.0" y1="152.3" x2="383.0" y2="153.4"/><line x1="386.1" y1="152.3" x2="386.1" y2="153.4"/><line x1="389.2" y1="152.3" x2="389.2" y2="153.4"/><line x1="392.3" y1="152.3" x2="392.3" y2="153.4"/><line x1="395.4" y1="152.3" x2="395.4" y2="153.4"/><line x1="398.5" y1="152.3" x2="398.5" y2="153.4"/><line x1="401.6" y1="152.3" x2="401.6" y2="153.4"/><line x1="404.7" y1="152.3" x2="404.7" y2="153.4"/><line x1="407.8" y1="152.3" x2="407.8" y2="153.4"/><line x1="410.9" y1="152.3" x2="410.9" y2="153.4"/><line x1="414.0" y1="152.3" x2="414.0" y2="153.4"/><line x1="417.1" y1="152.3" x2="417.1" y2="153.4"/><line x1="420.2" y1="152.3" x2="420.2" y2="153.4"/></g>
<line x1="368.30" y1="152.90" x2="376.30" y2="152.90" stroke="#222" stroke-width="0.9" />
<line x1="369.60" y1="152.80" x2="369.60" y2="154.10" stroke="#111" stroke-width="1.1" />
<line x1="358.80" y1="127.10" x2="358.80" y2="130.60" stroke="#111" stroke-width="1.1" />
<text transform="translate(361.70,100.00) scale(1,1.13)" font-size="7.90" text-anchor="start" fill="#000" stroke="#000" stroke-width="0.07" >3.70</text>
<text transform="translate(419.30,100.00) scale(1,1.13)" font-size="7.90" text-anchor="end" fill="#000" stroke="#000" stroke-width="0.07" >0</text>
<text transform="translate(361.70,149.50) scale(1,1.13)" font-size="7.90" text-anchor="start" fill="#000" stroke="#000" stroke-width="0.07" >85.2</text>
<text transform="translate(419.30,149.50) scale(1,1.13)" font-size="7.90" text-anchor="end" fill="#000" stroke="#000" stroke-width="0.07" >11.1</text>
<line x1="423.40" y1="91.20" x2="485.30" y2="91.20" stroke="#c8c8c8" stroke-width="1.5" />
<line x1="485.30" y1="91.20" x2="485.30" y2="152.30" stroke="#8a8a8a" stroke-width="0.9" />
<line x1="423.40" y1="152.30" x2="485.30" y2="152.30" stroke="#555" stroke-width="0.85" />
<line x1="423.40" y1="91.20" x2="423.40" y2="152.30" stroke="#777" stroke-width="0.8" />
<line x1="423.20" y1="92.20" x2="423.20" y2="152.30" stroke="#333" stroke-width="0.9" stroke-dasharray="0.6,1.9"/>
<line x1="454.80" y1="91.20" x2="454.80" y2="152.30" stroke="#555" stroke-width="0.8" />
<line x1="423.40" y1="125.10" x2="485.30" y2="125.10" stroke="#444" stroke-width="0.8" />
<g stroke="#666" stroke-width="0.45"><line x1="425.4" y1="152.3" x2="425.4" y2="153.4"/><line x1="428.5" y1="152.3" x2="428.5" y2="153.4"/><line x1="431.6" y1="152.3" x2="431.6" y2="153.4"/><line x1="434.7" y1="152.3" x2="434.7" y2="153.4"/><line x1="437.8" y1="152.3" x2="437.8" y2="153.4"/><line x1="440.9" y1="152.3" x2="440.9" y2="153.4"/><line x1="444.0" y1="152.3" x2="444.0" y2="153.4"/><line x1="447.1" y1="152.3" x2="447.1" y2="153.4"/><line x1="450.2" y1="152.3" x2="450.2" y2="153.4"/><line x1="453.3" y1="152.3" x2="453.3" y2="153.4"/><line x1="456.4" y1="152.3" x2="456.4" y2="153.4"/><line x1="459.5" y1="152.3" x2="459.5" y2="153.4"/><line x1="462.6" y1="152.3" x2="462.6" y2="153.4"/><line x1="465.7" y1="152.3" x2="465.7" y2="153.4"/><line x1="468.8" y1="152.3" x2="468.8" y2="153.4"/><line x1="471.9" y1="152.3" x2="471.9" y2="153.4"/><line x1="475.0" y1="152.3" x2="475.0" y2="153.4"/><line x1="478.1" y1="152.3" x2="478.1" y2="153.4"/><line x1="481.2" y1="152.3" x2="481.2" y2="153.4"/><line x1="484.3" y1="152.3" x2="484.3" y2="153.4"/></g>
<line x1="432.40" y1="152.90" x2="440.40" y2="152.90" stroke="#222" stroke-width="0.9" />
<line x1="433.70" y1="152.80" x2="433.70" y2="154.10" stroke="#111" stroke-width="1.1" />
<line x1="422.90" y1="127.10" x2="422.90" y2="130.60" stroke="#111" stroke-width="1.1" />
<text transform="translate(425.80,100.00) scale(1,1.13)" font-size="7.90" text-anchor="start" fill="#000" stroke="#000" stroke-width="0.07" >13.3</text>
<text transform="translate(483.40,100.00) scale(1,1.13)" font-size="7.90" text-anchor="end" fill="#000" stroke="#000" stroke-width="0.07" >65.2</text>
<text transform="translate(425.80,149.50) scale(1,1.13)" font-size="7.90" text-anchor="start" fill="#000" stroke="#000" stroke-width="0.07" >5.19</text>
<text transform="translate(483.40,149.50) scale(1,1.13)" font-size="7.90" text-anchor="end" fill="#000" stroke="#000" stroke-width="0.07" >16.3</text>
<line x1="232.40" y1="155.30" x2="294.30" y2="155.30" stroke="#c8c8c8" stroke-width="1.5" />
<line x1="294.30" y1="155.30" x2="294.30" y2="216.40" stroke="#8a8a8a" stroke-width="0.9" />
<line x1="232.40" y1="216.40" x2="294.30" y2="216.40" stroke="#555" stroke-width="0.85" />
<line x1="232.40" y1="155.30" x2="232.40" y2="216.40" stroke="#777" stroke-width="0.8" />
<line x1="232.20" y1="156.30" x2="232.20" y2="216.40" stroke="#333" stroke-width="0.9" stroke-dasharray="0.6,1.9"/>
<line x1="264.40" y1="155.30" x2="264.40" y2="216.40" stroke="#555" stroke-width="0.8" />
<line x1="232.40" y1="189.50" x2="294.30" y2="189.50" stroke="#444" stroke-width="0.8" />
<g stroke="#666" stroke-width="0.45"><line x1="234.4" y1="216.4" x2="234.4" y2="217.5"/><line x1="237.5" y1="216.4" x2="237.5" y2="217.5"/><line x1="240.6" y1="216.4" x2="240.6" y2="217.5"/><line x1="243.7" y1="216.4" x2="243.7" y2="217.5"/><line x1="246.8" y1="216.4" x2="246.8" y2="217.5"/><line x1="249.9" y1="216.4" x2="249.9" y2="217.5"/><line x1="253.0" y1="216.4" x2="253.0" y2="217.5"/><line x1="256.1" y1="216.4" x2="256.1" y2="217.5"/><line x1="259.2" y1="216.4" x2="259.2" y2="217.5"/><line x1="262.3" y1="216.4" x2="262.3" y2="217.5"/><line x1="265.4" y1="216.4" x2="265.4" y2="217.5"/><line x1="268.5" y1="216.4" x2="268.5" y2="217.5"/><line x1="271.6" y1="216.4" x2="271.6" y2="217.5"/><line x1="274.7" y1="216.4" x2="274.7" y2="217.5"/><line x1="277.8" y1="216.4" x2="277.8" y2="217.5"/><line x1="280.9" y1="216.4" x2="280.9" y2="217.5"/><line x1="284.0" y1="216.4" x2="284.0" y2="217.5"/><line x1="287.1" y1="216.4" x2="287.1" y2="217.5"/><line x1="290.2" y1="216.4" x2="290.2" y2="217.5"/><line x1="293.3" y1="216.4" x2="293.3" y2="217.5"/></g>
<line x1="241.40" y1="217.00" x2="249.40" y2="217.00" stroke="#222" stroke-width="0.9" />
<line x1="242.70" y1="216.90" x2="242.70" y2="218.20" stroke="#111" stroke-width="1.1" />
<line x1="231.90" y1="191.50" x2="231.90" y2="195.00" stroke="#111" stroke-width="1.1" />
<text transform="translate(234.80,164.10) scale(1,1.13)" font-size="7.90" text-anchor="start" fill="#000" stroke="#000" stroke-width="0.07" >0.47</text>
<text transform="translate(292.40,164.10) scale(1,1.13)" font-size="7.90" text-anchor="end" fill="#000" stroke="#000" stroke-width="0.07" >0</text>
<text transform="translate(234.80,213.60) scale(1,1.13)" font-size="7.90" text-anchor="start" fill="#000" stroke="#000" stroke-width="0.07" >97.2</text>
<text transform="translate(292.40,213.60) scale(1,1.13)" font-size="7.90" text-anchor="end" fill="#000" stroke="#000" stroke-width="0.07" >2.36</text>
<line x1="296.20" y1="155.30" x2="358.10" y2="155.30" stroke="#c8c8c8" stroke-width="1.5" />
<line x1="358.10" y1="155.30" x2="358.10" y2="216.40" stroke="#8a8a8a" stroke-width="0.9" />
<line x1="296.20" y1="216.40" x2="358.10" y2="216.40" stroke="#555" stroke-width="0.85" />
<line x1="296.20" y1="155.30" x2="296.20" y2="216.40" stroke="#777" stroke-width="0.8" />
<line x1="296.00" y1="156.30" x2="296.00" y2="216.40" stroke="#333" stroke-width="0.9" stroke-dasharray="0.6,1.9"/>
<line x1="327.60" y1="155.30" x2="327.60" y2="216.40" stroke="#555" stroke-width="0.8" />
<line x1="296.20" y1="189.50" x2="358.10" y2="189.50" stroke="#444" stroke-width="0.8" />
<g stroke="#666" stroke-width="0.45"><line x1="298.2" y1="216.4" x2="298.2" y2="217.5"/><line x1="301.3" y1="216.4" x2="301.3" y2="217.5"/><line x1="304.4" y1="216.4" x2="304.4" y2="217.5"/><line x1="307.5" y1="216.4" x2="307.5" y2="217.5"/><line x1="310.6" y1="216.4" x2="310.6" y2="217.5"/><line x1="313.7" y1="216.4" x2="313.7" y2="217.5"/><line x1="316.8" y1="216.4" x2="316.8" y2="217.5"/><line x1="319.9" y1="216.4" x2="319.9" y2="217.5"/><line x1="323.0" y1="216.4" x2="323.0" y2="217.5"/><line x1="326.1" y1="216.4" x2="326.1" y2="217.5"/><line x1="329.2" y1="216.4" x2="329.2" y2="217.5"/><line x1="332.3" y1="216.4" x2="332.3" y2="217.5"/><line x1="335.4" y1="216.4" x2="335.4" y2="217.5"/><line x1="338.5" y1="216.4" x2="338.5" y2="217.5"/><line x1="341.6" y1="216.4" x2="341.6" y2="217.5"/><line x1="344.7" y1="216.4" x2="344.7" y2="217.5"/><line x1="347.8" y1="216.4" x2="347.8" y2="217.5"/><line x1="350.9" y1="216.4" x2="350.9" y2="217.5"/><line x1="354.0" y1="216.4" x2="354.0" y2="217.5"/><line x1="357.1" y1="216.4" x2="357.1" y2="217.5"/></g>
<line x1="305.20" y1="217.00" x2="313.20" y2="217.00" stroke="#222" stroke-width="0.9" />
<line x1="306.50" y1="216.90" x2="306.50" y2="218.20" stroke="#111" stroke-width="1.1" />
<line x1="295.70" y1="191.50" x2="295.70" y2="195.00" stroke="#111" stroke-width="1.1" />
<text transform="translate(298.60,164.10) scale(1,1.13)" font-size="7.90" text-anchor="start" fill="#000" stroke="#000" stroke-width="0.07" >0</text>
<text transform="translate(356.20,164.10) scale(1,1.13)" font-size="7.90" text-anchor="end" fill="#000" stroke="#000" stroke-width="0.07" >0</text>
<text transform="translate(298.60,213.60) scale(1,1.13)" font-size="7.90" text-anchor="start" fill="#000" stroke="#000" stroke-width="0.07" >96.0</text>
<text transform="translate(356.20,213.60) scale(1,1.13)" font-size="7.90" text-anchor="end" fill="#000" stroke="#000" stroke-width="0.07" >4.02</text>
<line x1="359.30" y1="155.30" x2="421.20" y2="155.30" stroke="#c8c8c8" stroke-width="1.5" />
<line x1="421.20" y1="155.30" x2="421.20" y2="216.40" stroke="#8a8a8a" stroke-width="0.9" />
<line x1="359.30" y1="216.40" x2="421.20" y2="216.40" stroke="#555" stroke-width="0.85" />
<line x1="359.30" y1="155.30" x2="359.30" y2="216.40" stroke="#777" stroke-width="0.8" />
<line x1="359.10" y1="156.30" x2="359.10" y2="216.40" stroke="#333" stroke-width="0.9" stroke-dasharray="0.6,1.9"/>
<line x1="391.50" y1="155.30" x2="391.50" y2="216.40" stroke="#555" stroke-width="0.8" />
<line x1="359.30" y1="189.50" x2="421.20" y2="189.50" stroke="#444" stroke-width="0.8" />
<g stroke="#666" stroke-width="0.45"><line x1="361.3" y1="216.4" x2="361.3" y2="217.5"/><line x1="364.4" y1="216.4" x2="364.4" y2="217.5"/><line x1="367.5" y1="216.4" x2="367.5" y2="217.5"/><line x1="370.6" y1="216.4" x2="370.6" y2="217.5"/><line x1="373.7" y1="216.4" x2="373.7" y2="217.5"/><line x1="376.8" y1="216.4" x2="376.8" y2="217.5"/><line x1="379.9" y1="216.4" x2="379.9" y2="217.5"/><line x1="383.0" y1="216.4" x2="383.0" y2="217.5"/><line x1="386.1" y1="216.4" x2="386.1" y2="217.5"/><line x1="389.2" y1="216.4" x2="389.2" y2="217.5"/><line x1="392.3" y1="216.4" x2="392.3" y2="217.5"/><line x1="395.4" y1="216.4" x2="395.4" y2="217.5"/><line x1="398.5" y1="216.4" x2="398.5" y2="217.5"/><line x1="401.6" y1="216.4" x2="401.6" y2="217.5"/><line x1="404.7" y1="216.4" x2="404.7" y2="217.5"/><line x1="407.8" y1="216.4" x2="407.8" y2="217.5"/><line x1="410.9" y1="216.4" x2="410.9" y2="217.5"/><line x1="414.0" y1="216.4" x2="414.0" y2="217.5"/><line x1="417.1" y1="216.4" x2="417.1" y2="217.5"/><line x1="420.2" y1="216.4" x2="420.2" y2="217.5"/></g>
<line x1="368.30" y1="217.00" x2="376.30" y2="217.00" stroke="#222" stroke-width="0.9" />
<line x1="369.60" y1="216.90" x2="369.60" y2="218.20" stroke="#111" stroke-width="1.1" />
<line x1="358.80" y1="191.50" x2="358.80" y2="195.00" stroke="#111" stroke-width="1.1" />
<text transform="translate(361.70,164.10) scale(1,1.13)" font-size="7.90" text-anchor="start" fill="#000" stroke="#000" stroke-width="0.07" >4.14</text>
<text transform="translate(419.30,164.10) scale(1,1.13)" font-size="7.90" text-anchor="end" fill="#000" stroke="#000" stroke-width="0.07" >0.59</text>
<text transform="translate(361.70,213.60) scale(1,1.13)" font-size="7.90" text-anchor="start" fill="#000" stroke="#000" stroke-width="0.07" >92.9</text>
<text transform="translate(419.30,213.60) scale(1,1.13)" font-size="7.90" text-anchor="end" fill="#000" stroke="#000" stroke-width="0.07" >2.37</text>
<line x1="423.40" y1="155.30" x2="485.30" y2="155.30" stroke="#c8c8c8" stroke-width="1.5" />
<line x1="485.30" y1="155.30" x2="485.30" y2="216.40" stroke="#8a8a8a" stroke-width="0.9" />
<line x1="423.40" y1="216.40" x2="485.30" y2="216.40" stroke="#555" stroke-width="0.85" />
<line x1="423.40" y1="155.30" x2="423.40" y2="216.40" stroke="#777" stroke-width="0.8" />
<line x1="423.20" y1="156.30" x2="423.20" y2="216.40" stroke="#333" stroke-width="0.9" stroke-dasharray="0.6,1.9"/>
<line x1="454.80" y1="155.30" x2="454.80" y2="216.40" stroke="#555" stroke-width="0.8" />
<line x1="423.40" y1="189.50" x2="485.30" y2="189.50" stroke="#444" stroke-width="0.8" />
<g stroke="#666" stroke-width="0.45"><line x1="425.4" y1="216.4" x2="425.4" y2="217.5"/><line x1="428.5" y1="216.4" x2="428.5" y2="217.5"/><line x1="431.6" y1="216.4" x2="431.6" y2="217.5"/><line x1="434.7" y1="216.4" x2="434.7" y2="217.5"/><line x1="437.8" y1="216.4" x2="437.8" y2="217.5"/><line x1="440.9" y1="216.4" x2="440.9" y2="217.5"/><line x1="444.0" y1="216.4" x2="444.0" y2="217.5"/><line x1="447.1" y1="216.4" x2="447.1" y2="217.5"/><line x1="450.2" y1="216.4" x2="450.2" y2="217.5"/><line x1="453.3" y1="216.4" x2="453.3" y2="217.5"/><line x1="456.4" y1="216.4" x2="456.4" y2="217.5"/><line x1="459.5" y1="216.4" x2="459.5" y2="217.5"/><line x1="462.6" y1="216.4" x2="462.6" y2="217.5"/><line x1="465.7" y1="216.4" x2="465.7" y2="217.5"/><line x1="468.8" y1="216.4" x2="468.8" y2="217.5"/><line x1="471.9" y1="216.4" x2="471.9" y2="217.5"/><line x1="475.0" y1="216.4" x2="475.0" y2="217.5"/><line x1="478.1" y1="216.4" x2="478.1" y2="217.5"/><line x1="481.2" y1="216.4" x2="481.2" y2="217.5"/><line x1="484.3" y1="216.4" x2="484.3" y2="217.5"/></g>
<line x1="432.40" y1="217.00" x2="440.40" y2="217.00" stroke="#222" stroke-width="0.9" />
<line x1="433.70" y1="216.90" x2="433.70" y2="218.20" stroke="#111" stroke-width="1.1" />
<line x1="422.90" y1="191.50" x2="422.90" y2="195.00" stroke="#111" stroke-width="1.1" />
<text transform="translate(425.80,164.10) scale(1,1.13)" font-size="7.90" text-anchor="start" fill="#000" stroke="#000" stroke-width="0.07" >15.2</text>
<text transform="translate(483.40,164.10) scale(1,1.13)" font-size="7.90" text-anchor="end" fill="#000" stroke="#000" stroke-width="0.07" >53.0</text>
<text transform="translate(425.80,213.60) scale(1,1.13)" font-size="7.90" text-anchor="start" fill="#000" stroke="#000" stroke-width="0.07" >19.4</text>
<text transform="translate(483.40,213.60) scale(1,1.13)" font-size="7.90" text-anchor="end" fill="#000" stroke="#000" stroke-width="0.07" >12.4</text>
<g fill="none" stroke="#000" stroke-width="0.5" transform="rotate(-25 248.00 68.80)"><ellipse cx="248.00" cy="68.80" rx="7.22" ry="6.27" fill="#000" fill-opacity="0.3" stroke="none"/><path d="M254.6,68.8C254.5,69.7 254.4,70.5 254.1,71.4C253.8,72.2 253.4,73.2 252.7,73.9C252.0,74.6 250.9,75.3 249.8,75.6C248.7,75.9 247.3,75.9 246.2,75.7C245.1,75.4 244.0,74.7 243.2,74.1C242.4,73.4 241.7,72.5 241.3,71.6C240.9,70.7 240.7,69.7 240.6,68.8C240.6,67.9 240.8,66.8 241.2,65.9C241.6,65.0 242.2,64.1 243.0,63.4C243.9,62.7 245.0,62.1 246.2,61.8C247.3,61.5 248.7,61.5 249.8,61.8C251.0,62.1 252.1,62.8 252.8,63.5C253.6,64.3 254.0,65.3 254.3,66.2C254.6,67.0 254.6,67.9 254.6,68.8Z"/><path d="M254.1,68.8C254.1,69.6 254.1,70.4 253.8,71.2C253.5,72.0 253.1,73.0 252.5,73.6C251.8,74.3 250.7,74.9 249.7,75.1C248.7,75.3 247.4,75.1 246.5,74.8C245.5,74.5 244.7,73.8 244.0,73.2C243.3,72.6 242.8,71.9 242.4,71.2C241.9,70.4 241.5,69.6 241.4,68.8C241.2,68.0 241.2,66.9 241.5,66.1C241.9,65.2 242.6,64.3 243.4,63.7C244.2,63.1 245.3,62.7 246.4,62.5C247.4,62.3 248.7,62.4 249.7,62.7C250.6,63.0 251.6,63.6 252.3,64.2C253.0,64.8 253.4,65.7 253.7,66.4C254.0,67.2 254.1,68.0 254.1,68.8Z"/><path d="M253.5,68.8C253.5,69.5 253.4,70.2 253.2,70.9C252.9,71.6 252.5,72.4 251.9,72.9C251.3,73.5 250.4,74.0 249.5,74.1C248.6,74.3 247.6,74.2 246.7,74.0C245.9,73.8 245.1,73.3 244.4,72.8C243.7,72.4 243.1,71.7 242.7,71.1C242.2,70.4 241.9,69.6 241.8,68.8C241.7,68.0 241.8,67.1 242.2,66.3C242.6,65.6 243.2,64.8 244.0,64.3C244.7,63.8 245.7,63.4 246.6,63.2C247.6,63.1 248.7,63.1 249.5,63.4C250.4,63.6 251.3,64.1 251.9,64.7C252.5,65.3 252.8,66.0 253.1,66.7C253.4,67.4 253.4,68.1 253.5,68.8Z"/><path d="M253.0,68.8C253.0,69.4 252.9,70.1 252.6,70.7C252.4,71.3 252.0,71.9 251.5,72.4C250.9,72.9 250.2,73.4 249.4,73.6C248.6,73.8 247.7,73.7 246.9,73.5C246.1,73.4 245.4,72.9 244.8,72.5C244.2,72.0 243.7,71.4 243.4,70.8C243.0,70.2 242.8,69.5 242.7,68.8C242.7,68.1 242.8,67.3 243.1,66.7C243.4,66.1 244.0,65.4 244.6,65.0C245.3,64.5 246.1,64.2 246.9,64.1C247.7,63.9 248.6,63.9 249.4,64.1C250.1,64.3 250.9,64.7 251.5,65.2C252.0,65.6 252.4,66.3 252.7,66.9C252.9,67.5 253.0,68.2 253.0,68.8Z"/><path d="M252.1,68.8C252.1,69.3 252.1,69.8 251.9,70.3C251.7,70.9 251.5,71.5 251.0,71.9C250.6,72.3 249.9,72.7 249.3,72.9C248.6,73.1 247.8,73.1 247.1,72.9C246.5,72.7 245.8,72.3 245.3,71.9C244.8,71.6 244.4,71.0 244.1,70.5C243.8,70.0 243.6,69.4 243.6,68.8C243.6,68.2 243.7,67.6 243.9,67.0C244.2,66.5 244.6,65.9 245.1,65.5C245.7,65.0 246.4,64.7 247.1,64.5C247.8,64.4 248.6,64.4 249.3,64.5C250.0,64.7 250.7,65.2 251.1,65.6C251.6,66.0 251.8,66.7 252.0,67.2C252.2,67.7 252.2,68.3 252.1,68.8Z"/><path d="M251.5,68.8C251.4,69.2 251.4,69.6 251.2,70.1C251.1,70.5 250.9,71.0 250.6,71.3C250.2,71.7 249.7,72.1 249.1,72.2C248.6,72.4 247.9,72.3 247.3,72.2C246.8,72.1 246.3,71.7 245.8,71.4C245.4,71.1 245.1,70.6 244.9,70.2C244.6,69.8 244.5,69.3 244.4,68.8C244.4,68.3 244.4,67.8 244.6,67.3C244.8,66.8 245.2,66.3 245.6,65.9C246.0,65.5 246.7,65.2 247.3,65.0C247.9,64.9 248.6,64.9 249.2,65.1C249.8,65.2 250.4,65.7 250.8,66.1C251.1,66.5 251.3,67.0 251.4,67.5C251.5,67.9 251.5,68.4 251.5,68.8Z"/><path d="M250.9,68.8C250.9,69.2 251.0,69.5 250.9,69.9C250.8,70.2 250.6,70.7 250.3,71.0C250.0,71.3 249.5,71.6 249.1,71.7C248.6,71.8 248.0,71.8 247.5,71.6C247.1,71.5 246.7,71.2 246.3,70.9C246.0,70.6 245.8,70.3 245.6,69.9C245.4,69.6 245.2,69.2 245.2,68.8C245.2,68.4 245.2,68.0 245.4,67.6C245.6,67.2 245.9,66.8 246.2,66.5C246.6,66.3 247.1,66.0 247.5,65.9C248.0,65.8 248.6,65.8 249.0,66.0C249.5,66.1 249.9,66.4 250.2,66.7C250.5,67.0 250.7,67.4 250.8,67.7C250.9,68.1 250.9,68.4 250.9,68.8Z"/><path d="M250.4,68.8C250.4,69.1 250.4,69.3 250.3,69.6C250.2,69.9 250.0,70.2 249.8,70.4C249.6,70.6 249.2,70.8 248.9,70.8C248.6,70.9 248.1,70.9 247.8,70.8C247.5,70.7 247.2,70.6 246.9,70.4C246.6,70.2 246.4,70.0 246.2,69.7C246.0,69.4 245.9,69.1 245.8,68.8C245.8,68.5 245.8,68.1 246.0,67.8C246.1,67.5 246.4,67.2 246.7,67.0C247.0,66.8 247.4,66.7 247.8,66.6C248.1,66.5 248.6,66.5 248.9,66.6C249.3,66.7 249.6,66.9 249.9,67.1C250.1,67.4 250.3,67.7 250.4,68.0C250.4,68.2 250.4,68.5 250.4,68.8Z"/><path d="M249.8,68.8C249.8,69.0 249.8,69.2 249.7,69.3C249.6,69.5 249.5,69.7 249.4,69.9C249.2,70.0 249.0,70.2 248.8,70.2C248.5,70.3 248.2,70.3 248.0,70.2C247.8,70.2 247.5,70.1 247.3,69.9C247.2,69.8 247.0,69.6 246.9,69.4C246.8,69.2 246.7,69.0 246.7,68.8C246.6,68.6 246.7,68.3 246.8,68.1C246.9,67.9 247.1,67.7 247.3,67.6C247.5,67.5 247.8,67.4 248.0,67.3C248.2,67.3 248.5,67.3 248.8,67.3C249.0,67.4 249.3,67.5 249.4,67.7C249.6,67.8 249.7,68.0 249.7,68.2C249.8,68.4 249.8,68.6 249.8,68.8Z"/><ellipse cx="248.45" cy="68.80" rx="0.76" ry="0.66" fill="#fff" fill-opacity="0.9" stroke="none"/></g>
<g fill="none" stroke="#000" stroke-width="0.45" transform="rotate(0 255.60 63.60)"><ellipse cx="255.60" cy="63.60" rx="2.28" ry="1.90" fill="#000" fill-opacity="0.1" stroke="none"/><path d="M257.9,63.6C257.9,63.9 257.8,64.2 257.6,64.4C257.4,64.6 257.2,64.9 257.0,65.1C256.8,65.3 256.5,65.4 256.1,65.6C255.8,65.7 255.4,65.7 255.0,65.7C254.7,65.7 254.2,65.6 253.9,65.4C253.6,65.2 253.4,64.8 253.3,64.5C253.1,64.2 253.2,63.9 253.2,63.6C253.3,63.3 253.5,63.1 253.7,62.8C253.8,62.6 254.0,62.4 254.3,62.2C254.5,62.0 254.8,61.8 255.1,61.7C255.4,61.6 255.8,61.6 256.2,61.6C256.5,61.6 256.9,61.7 257.2,61.9C257.5,62.1 257.7,62.4 257.8,62.7C258.0,63.0 258.0,63.3 257.9,63.6Z"/><path d="M256.9,63.6C256.9,63.8 256.8,63.9 256.8,64.1C256.7,64.2 256.5,64.3 256.4,64.4C256.3,64.5 256.1,64.6 255.9,64.7C255.7,64.7 255.5,64.8 255.3,64.7C255.1,64.7 254.9,64.7 254.7,64.6C254.5,64.4 254.4,64.3 254.3,64.1C254.2,64.0 254.2,63.8 254.2,63.6C254.2,63.4 254.3,63.3 254.4,63.1C254.5,63.0 254.7,62.9 254.8,62.8C255.0,62.7 255.1,62.6 255.3,62.6C255.5,62.5 255.7,62.5 255.9,62.5C256.1,62.5 256.3,62.6 256.5,62.7C256.6,62.8 256.7,63.0 256.8,63.1C256.9,63.3 256.9,63.4 256.9,63.6Z"/><ellipse cx="255.60" cy="63.60" rx="0.50" ry="0.50" fill="#fff" fill-opacity="0.9" stroke="none"/></g>
<g fill="#000"><circle cx="233.50" cy="67.50" r="0.45"/><circle cx="238.00" cy="69.00" r="0.45"/><circle cx="241.00" cy="71.00" r="0.45"/><circle cx="276.00" cy="65.00" r="0.45"/><circle cx="258.00" cy="62.00" r="0.45"/></g>
<g fill="none" stroke="#ff0000" stroke-width="0.55" transform="rotate(0 316.20 66.80)"><ellipse cx="316.20" cy="66.80" rx="6.27" ry="6.08" fill="#ff0000" fill-opacity="0.55" stroke="none"/><path d="M323.1,66.8C323.0,67.8 322.5,68.7 322.0,69.5C321.4,70.3 320.7,70.9 320.0,71.4C319.3,72.0 318.5,72.4 317.6,72.8C316.7,73.1 315.7,73.4 314.7,73.3C313.7,73.3 312.5,72.9 311.6,72.4C310.8,71.8 310.0,70.8 309.6,69.9C309.2,69.0 309.2,67.8 309.4,66.8C309.5,65.8 310.1,64.9 310.6,64.2C311.1,63.4 311.9,62.9 312.6,62.4C313.3,61.9 314.1,61.5 314.9,61.3C315.7,61.0 316.7,60.8 317.6,60.8C318.5,60.9 319.7,61.1 320.5,61.6C321.3,62.1 322.2,62.9 322.7,63.8C323.1,64.7 323.2,65.8 323.1,66.8Z"/><path d="M322.3,66.8C322.2,67.6 321.7,68.5 321.3,69.2C320.8,69.9 320.3,70.5 319.6,71.0C319.0,71.5 318.3,72.0 317.5,72.3C316.7,72.6 315.7,72.9 314.8,72.8C313.9,72.7 312.8,72.4 312.1,71.8C311.3,71.3 310.7,70.4 310.4,69.5C310.0,68.7 310.0,67.6 310.2,66.8C310.3,66.0 310.8,65.1 311.2,64.5C311.7,63.8 312.3,63.3 312.9,62.8C313.6,62.4 314.2,62.0 315.0,61.7C315.8,61.5 316.6,61.2 317.5,61.3C318.4,61.3 319.4,61.6 320.1,62.0C320.9,62.5 321.6,63.3 322.0,64.1C322.4,64.9 322.4,66.0 322.3,66.8Z"/><path d="M321.7,66.8C321.6,67.6 321.2,68.3 320.9,69.0C320.5,69.6 319.9,70.2 319.3,70.6C318.8,71.1 318.1,71.5 317.4,71.7C316.6,72.0 315.8,72.1 315.0,72.0C314.2,72.0 313.3,71.6 312.6,71.2C312.0,70.7 311.4,69.9 311.1,69.2C310.8,68.5 310.7,67.6 310.8,66.8C310.8,66.0 311.2,65.3 311.6,64.6C312.0,64.0 312.5,63.5 313.1,63.1C313.7,62.7 314.4,62.4 315.1,62.2C315.8,62.0 316.6,61.9 317.3,62.0C318.1,62.1 318.9,62.3 319.6,62.7C320.2,63.1 320.9,63.8 321.2,64.5C321.6,65.1 321.7,66.0 321.7,66.8Z"/><path d="M321.1,66.8C321.0,67.5 320.7,68.2 320.4,68.7C320.0,69.3 319.5,69.8 319.0,70.2C318.5,70.6 317.9,71.0 317.2,71.2C316.6,71.4 315.8,71.5 315.1,71.5C314.4,71.4 313.6,71.1 313.0,70.7C312.4,70.3 311.8,69.6 311.5,69.0C311.3,68.3 311.2,67.5 311.3,66.8C311.4,66.1 311.8,65.4 312.2,64.9C312.5,64.4 313.1,64.0 313.6,63.7C314.2,63.4 314.7,63.1 315.3,63.0C315.9,62.9 316.5,62.7 317.1,62.8C317.8,62.8 318.5,62.9 319.1,63.3C319.7,63.6 320.3,64.1 320.6,64.7C321.0,65.3 321.1,66.1 321.1,66.8Z"/><path d="M320.2,66.8C320.2,67.4 319.9,67.9 319.7,68.4C319.4,68.9 319.0,69.3 318.6,69.7C318.2,70.1 317.7,70.5 317.1,70.7C316.5,70.9 315.8,71.0 315.2,71.0C314.6,70.9 313.9,70.6 313.4,70.2C312.9,69.9 312.5,69.2 312.2,68.6C312.0,68.1 312.0,67.4 312.1,66.8C312.2,66.2 312.5,65.7 312.8,65.2C313.0,64.7 313.5,64.3 313.9,64.0C314.3,63.7 314.9,63.4 315.4,63.3C315.9,63.2 316.5,63.1 317.0,63.2C317.6,63.3 318.2,63.5 318.7,63.8C319.1,64.1 319.6,64.6 319.9,65.1C320.1,65.6 320.2,66.2 320.2,66.8Z"/><path d="M319.7,66.8C319.6,67.3 319.3,67.8 319.1,68.1C318.8,68.5 318.5,68.8 318.1,69.1C317.7,69.4 317.4,69.7 316.9,69.8C316.5,70.0 315.9,70.2 315.4,70.1C314.9,70.1 314.3,70.0 313.8,69.7C313.4,69.4 313.0,68.9 312.8,68.4C312.6,67.9 312.6,67.3 312.6,66.8C312.7,66.3 313.0,65.8 313.3,65.4C313.6,65.1 313.9,64.8 314.3,64.5C314.7,64.3 315.1,64.1 315.5,64.0C316.0,63.8 316.4,63.7 316.9,63.7C317.4,63.8 318.0,63.9 318.4,64.1C318.8,64.4 319.3,64.8 319.5,65.3C319.7,65.7 319.7,66.3 319.7,66.8Z"/><path d="M319.0,66.8C319.0,67.2 318.8,67.6 318.6,67.9C318.4,68.2 318.1,68.5 317.8,68.7C317.5,69.0 317.2,69.2 316.8,69.3C316.4,69.4 316.0,69.5 315.6,69.5C315.2,69.4 314.7,69.3 314.4,69.0C314.0,68.8 313.7,68.4 313.5,68.0C313.4,67.7 313.3,67.2 313.4,66.8C313.4,66.4 313.6,66.0 313.8,65.7C314.0,65.4 314.3,65.1 314.6,64.9C314.9,64.6 315.3,64.5 315.6,64.4C316.0,64.3 316.4,64.3 316.8,64.3C317.2,64.4 317.6,64.5 317.9,64.7C318.2,64.9 318.6,65.3 318.8,65.6C318.9,66.0 319.0,66.4 319.0,66.8Z"/><path d="M318.4,66.8C318.3,67.1 318.2,67.4 318.1,67.7C317.9,67.9 317.7,68.2 317.5,68.3C317.2,68.5 317.0,68.7 316.7,68.8C316.4,68.9 316.0,68.9 315.7,68.9C315.4,68.8 315.0,68.7 314.8,68.5C314.5,68.3 314.3,68.0 314.2,67.7C314.1,67.5 314.0,67.1 314.1,66.8C314.1,66.5 314.2,66.2 314.4,66.0C314.6,65.7 314.8,65.5 315.0,65.4C315.2,65.2 315.5,65.1 315.8,65.0C316.1,65.0 316.3,64.9 316.6,65.0C316.9,65.0 317.2,65.1 317.5,65.2C317.8,65.4 318.0,65.6 318.2,65.9C318.3,66.1 318.4,66.5 318.4,66.8Z"/><path d="M317.6,66.8C317.6,67.0 317.5,67.2 317.4,67.4C317.3,67.5 317.2,67.7 317.0,67.8C316.9,67.9 316.7,68.1 316.5,68.2C316.3,68.2 316.1,68.3 315.9,68.3C315.6,68.3 315.4,68.2 315.2,68.0C315.0,67.9 314.9,67.7 314.8,67.5C314.7,67.3 314.7,67.0 314.7,66.8C314.8,66.6 314.9,66.4 315.0,66.2C315.1,66.1 315.2,65.9 315.4,65.8C315.5,65.7 315.7,65.6 315.9,65.6C316.1,65.5 316.3,65.5 316.5,65.5C316.7,65.5 316.9,65.6 317.1,65.7C317.3,65.8 317.5,66.0 317.6,66.2C317.6,66.4 317.7,66.6 317.6,66.8Z"/><ellipse cx="316.20" cy="66.80" rx="0.66" ry="0.64" fill="#fff" fill-opacity="0.9" stroke="none"/></g>
<g fill="none" stroke="#7222a0" stroke-width="0.6" transform="rotate(0 377.60 68.40)"><ellipse cx="377.60" cy="68.40" rx="7.22" ry="7.03" fill="#7222a0" fill-opacity="0.55" stroke="none"/><path d="M385.5,68.4C385.6,69.5 385.4,70.8 384.9,71.8C384.5,72.9 383.6,73.9 382.7,74.6C381.7,75.2 380.5,75.6 379.3,75.8C378.2,76.0 377.0,75.8 375.9,75.5C374.9,75.2 373.8,74.8 372.9,74.1C372.0,73.5 371.2,72.6 370.6,71.7C370.1,70.7 369.7,69.5 369.7,68.4C369.8,67.3 370.1,66.1 370.7,65.1C371.2,64.2 372.1,63.4 373.0,62.8C373.9,62.2 375.0,61.8 376.0,61.6C377.0,61.4 378.2,61.5 379.2,61.7C380.2,61.9 381.2,62.4 382.1,63.0C382.9,63.5 383.7,64.3 384.3,65.3C384.9,66.2 385.3,67.3 385.5,68.4Z"/><path d="M384.7,68.4C384.7,69.4 384.5,70.5 384.1,71.4C383.6,72.3 382.9,73.2 382.0,73.8C381.2,74.4 380.2,74.9 379.2,75.1C378.2,75.3 377.0,75.3 376.0,75.1C375.0,74.9 374.0,74.4 373.1,73.8C372.3,73.2 371.5,72.4 371.0,71.5C370.6,70.6 370.3,69.4 370.3,68.4C370.4,67.4 370.8,66.3 371.3,65.4C371.8,64.6 372.6,63.9 373.5,63.3C374.3,62.8 375.2,62.5 376.2,62.3C377.1,62.1 378.1,62.1 379.0,62.3C380.0,62.5 380.9,62.8 381.7,63.4C382.5,63.9 383.3,64.7 383.8,65.5C384.3,66.3 384.6,67.4 384.7,68.4Z"/><path d="M383.9,68.4C383.9,69.3 383.8,70.3 383.4,71.1C383.0,71.9 382.4,72.8 381.6,73.3C380.9,73.9 379.9,74.3 379.0,74.5C378.1,74.6 377.1,74.6 376.2,74.4C375.3,74.2 374.4,73.8 373.6,73.3C372.9,72.7 372.1,72.0 371.7,71.2C371.2,70.4 371.0,69.3 371.0,68.4C371.0,67.5 371.3,66.5 371.8,65.7C372.3,64.9 373.0,64.2 373.8,63.7C374.5,63.2 375.4,62.9 376.3,62.8C377.1,62.6 378.1,62.7 378.9,62.9C379.7,63.1 380.6,63.4 381.3,63.9C381.9,64.4 382.6,65.1 383.0,65.9C383.5,66.6 383.8,67.5 383.9,68.4Z"/><path d="M383.2,68.4C383.3,69.2 383.1,70.1 382.8,70.8C382.4,71.6 381.8,72.3 381.2,72.8C380.5,73.3 379.7,73.6 378.9,73.7C378.0,73.9 377.2,73.8 376.4,73.7C375.6,73.5 374.7,73.2 374.1,72.7C373.4,72.2 372.7,71.6 372.3,70.9C372.0,70.1 371.7,69.2 371.7,68.4C371.7,67.6 372.0,66.7 372.4,66.0C372.8,65.3 373.5,64.6 374.2,64.2C374.8,63.8 375.6,63.5 376.4,63.3C377.2,63.2 378.0,63.2 378.8,63.4C379.5,63.6 380.3,63.9 380.9,64.3C381.5,64.8 382.1,65.4 382.5,66.1C382.9,66.8 383.2,67.6 383.2,68.4Z"/><path d="M382.7,68.4C382.7,69.1 382.6,70.0 382.3,70.6C382.0,71.3 381.5,72.0 380.9,72.4C380.3,72.8 379.4,73.1 378.7,73.2C378.0,73.3 377.2,73.2 376.5,73.0C375.8,72.8 375.1,72.5 374.5,72.1C374.0,71.7 373.4,71.2 373.0,70.6C372.6,69.9 372.4,69.1 372.4,68.4C372.3,67.7 372.6,66.8 372.9,66.2C373.3,65.6 373.9,65.0 374.5,64.7C375.2,64.3 375.9,64.1 376.6,64.0C377.3,64.0 377.9,64.0 378.6,64.2C379.2,64.4 379.8,64.6 380.4,65.0C380.9,65.4 381.5,65.8 381.9,66.4C382.2,67.0 382.6,67.7 382.7,68.4Z"/><path d="M381.9,68.4C382.0,69.0 381.9,69.7 381.6,70.3C381.4,70.9 380.9,71.4 380.4,71.8C379.9,72.2 379.2,72.4 378.6,72.5C377.9,72.6 377.3,72.6 376.7,72.4C376.0,72.3 375.4,72.0 374.9,71.7C374.4,71.3 373.9,70.8 373.6,70.3C373.3,69.7 373.1,69.0 373.1,68.4C373.1,67.8 373.3,67.1 373.6,66.5C373.9,66.0 374.5,65.5 375.0,65.2C375.5,64.9 376.1,64.7 376.7,64.6C377.3,64.5 377.9,64.6 378.5,64.7C379.0,64.9 379.6,65.1 380.0,65.4C380.5,65.8 380.9,66.2 381.3,66.7C381.6,67.2 381.8,67.8 381.9,68.4Z"/><path d="M381.3,68.4C381.4,68.9 381.3,69.5 381.1,70.0C380.8,70.5 380.4,71.0 380.0,71.3C379.5,71.6 378.9,71.8 378.4,71.8C377.9,71.9 377.3,71.9 376.8,71.8C376.3,71.6 375.8,71.4 375.4,71.1C374.9,70.8 374.5,70.4 374.3,70.0C374.0,69.5 373.8,68.9 373.8,68.4C373.8,67.9 374.0,67.3 374.3,66.8C374.5,66.4 375.0,66.0 375.4,65.7C375.9,65.5 376.4,65.3 376.9,65.3C377.3,65.2 377.9,65.2 378.3,65.3C378.8,65.4 379.3,65.6 379.7,65.9C380.1,66.1 380.5,66.5 380.8,66.9C381.1,67.3 381.3,67.9 381.3,68.4Z"/><path d="M380.6,68.4C380.6,68.8 380.6,69.3 380.4,69.7C380.2,70.1 379.8,70.5 379.5,70.7C379.1,71.0 378.7,71.1 378.3,71.2C377.8,71.2 377.4,71.2 377.0,71.1C376.5,71.1 376.1,70.9 375.7,70.7C375.4,70.4 375.0,70.1 374.8,69.7C374.6,69.3 374.4,68.8 374.4,68.4C374.4,68.0 374.6,67.5 374.9,67.1C375.1,66.8 375.5,66.5 375.8,66.2C376.2,66.0 376.6,65.9 377.0,65.9C377.4,65.8 377.8,65.8 378.2,65.9C378.6,66.0 378.9,66.1 379.3,66.4C379.6,66.6 379.9,66.9 380.2,67.2C380.4,67.5 380.6,68.0 380.6,68.4Z"/><path d="M379.9,68.4C379.9,68.7 379.8,69.1 379.7,69.4C379.6,69.7 379.3,70.0 379.1,70.2C378.8,70.4 378.4,70.5 378.1,70.6C377.8,70.6 377.4,70.6 377.1,70.5C376.8,70.5 376.4,70.3 376.2,70.1C375.9,69.9 375.7,69.7 375.5,69.4C375.3,69.1 375.2,68.7 375.2,68.4C375.3,68.1 375.4,67.7 375.5,67.4C375.7,67.1 375.9,66.9 376.2,66.7C376.5,66.5 376.8,66.4 377.1,66.4C377.4,66.3 377.8,66.3 378.1,66.4C378.4,66.5 378.7,66.6 378.9,66.8C379.2,67.0 379.4,67.2 379.6,67.5C379.7,67.7 379.8,68.1 379.9,68.4Z"/><path d="M379.3,68.4C379.3,68.6 379.2,68.9 379.1,69.1C379.0,69.3 378.8,69.5 378.6,69.7C378.4,69.8 378.2,69.9 378.0,69.9C377.7,69.9 377.5,69.9 377.3,69.9C377.0,69.8 376.8,69.7 376.6,69.6C376.4,69.5 376.2,69.3 376.1,69.1C376.0,68.9 375.9,68.6 375.9,68.4C375.9,68.2 376.0,67.9 376.1,67.7C376.3,67.5 376.5,67.4 376.6,67.2C376.8,67.1 377.1,67.1 377.3,67.0C377.5,67.0 377.7,67.0 377.9,67.0C378.1,67.1 378.3,67.1 378.5,67.3C378.7,67.4 378.9,67.5 379.0,67.7C379.1,67.9 379.2,68.2 379.3,68.4Z"/><ellipse cx="377.60" cy="68.40" rx="0.76" ry="0.74" fill="#fff" fill-opacity="0.9" stroke="none"/></g>
<g fill="#7222a0"><circle cx="375.00" cy="56.00" r="0.5"/><circle cx="379.00" cy="57.50" r="0.5"/><circle cx="398.00" cy="62.00" r="0.5"/><circle cx="402.00" cy="65.00" r="0.5"/><circle cx="404.00" cy="67.00" r="0.5"/><circle cx="394.00" cy="66.00" r="0.5"/></g>
<g fill="none" stroke="#ff0000" stroke-width="0.45" transform="rotate(0 441.00 62.00)"><ellipse cx="441.00" cy="62.00" rx="7.22" ry="11.88" fill="#ff0000" fill-opacity="0.05" stroke="none"/><path d="M449.4,62.0C449.3,64.0 448.9,66.1 448.3,67.8C447.7,69.4 446.8,70.9 445.9,72.0C444.9,73.1 443.8,73.9 442.7,74.4C441.6,74.8 440.4,74.9 439.3,74.5C438.2,74.1 437.0,73.2 436.2,72.0C435.3,70.8 434.7,68.9 434.4,67.2C434.1,65.6 434.1,63.6 434.3,62.0C434.5,60.4 434.9,58.9 435.3,57.5C435.8,56.1 436.3,54.8 436.9,53.6C437.6,52.4 438.4,51.2 439.4,50.5C440.4,49.7 441.6,49.2 442.8,49.3C443.9,49.4 445.2,50.1 446.2,51.2C447.2,52.3 448.1,54.1 448.7,55.9C449.2,57.7 449.4,60.0 449.4,62.0Z"/><path d="M448.1,62.0C448.0,63.7 447.5,65.4 447.0,66.8C446.5,68.2 445.7,69.4 444.9,70.3C444.2,71.3 443.3,72.1 442.4,72.5C441.4,73.0 440.3,73.4 439.3,73.1C438.4,72.9 437.2,72.3 436.4,71.2C435.7,70.2 435.0,68.4 434.7,66.9C434.4,65.4 434.5,63.5 434.7,62.0C434.8,60.5 435.3,59.1 435.7,57.9C436.1,56.6 436.5,55.4 437.2,54.3C437.8,53.2 438.5,52.1 439.4,51.4C440.3,50.8 441.5,50.3 442.5,50.5C443.5,50.6 444.7,51.4 445.6,52.4C446.4,53.4 447.2,55.1 447.6,56.7C448.0,58.3 448.2,60.3 448.1,62.0Z"/><path d="M447.1,62.0C447.1,63.5 446.8,65.1 446.4,66.4C445.9,67.7 445.2,68.9 444.5,69.7C443.8,70.6 442.9,71.2 442.1,71.5C441.3,71.8 440.3,71.8 439.5,71.5C438.6,71.2 437.7,70.5 437.1,69.6C436.5,68.7 435.9,67.3 435.7,66.0C435.4,64.8 435.4,63.3 435.5,62.0C435.6,60.7 435.9,59.5 436.2,58.4C436.5,57.2 436.9,56.0 437.4,55.1C438.0,54.1 438.7,53.0 439.5,52.5C440.3,51.9 441.3,51.6 442.2,51.8C443.1,52.0 444.1,52.7 444.8,53.7C445.6,54.6 446.2,56.0 446.6,57.4C447.0,58.8 447.2,60.5 447.1,62.0Z"/><path d="M446.1,62.0C446.1,63.3 445.8,64.7 445.5,65.8C445.2,67.0 444.6,68.1 444.0,68.9C443.4,69.7 442.6,70.3 441.9,70.7C441.1,71.0 440.2,71.0 439.5,70.7C438.7,70.4 437.9,69.7 437.4,68.8C436.8,67.9 436.5,66.6 436.3,65.5C436.1,64.3 436.2,63.1 436.2,62.0C436.3,60.9 436.6,59.9 436.8,59.0C437.1,58.0 437.4,57.0 437.9,56.2C438.3,55.4 438.9,54.5 439.6,54.1C440.2,53.6 441.1,53.4 441.8,53.6C442.6,53.7 443.4,54.3 444.0,55.1C444.7,55.8 445.2,57.0 445.5,58.1C445.9,59.3 446.1,60.7 446.1,62.0Z"/><path d="M445.0,62.0C444.9,63.0 444.7,64.1 444.4,65.0C444.1,65.9 443.7,66.8 443.2,67.4C442.7,68.0 442.1,68.6 441.5,68.9C440.9,69.1 440.2,69.3 439.6,69.1C439.0,68.9 438.3,68.4 437.8,67.7C437.3,67.0 437.0,65.9 436.8,65.0C436.6,64.0 436.6,62.9 436.7,62.0C436.8,61.1 437.0,60.2 437.3,59.4C437.5,58.6 437.8,57.8 438.2,57.1C438.6,56.4 439.0,55.6 439.6,55.2C440.2,54.8 440.9,54.5 441.6,54.6C442.2,54.8 443.0,55.3 443.5,56.0C444.0,56.6 444.4,57.7 444.7,58.7C444.9,59.7 445.0,61.0 445.0,62.0Z"/><path d="M444.2,62.0C444.2,62.9 444.0,63.9 443.8,64.6C443.5,65.4 443.1,66.1 442.7,66.6C442.3,67.1 441.7,67.5 441.2,67.6C440.7,67.8 440.2,67.8 439.7,67.6C439.2,67.4 438.7,66.9 438.3,66.3C438.0,65.8 437.8,64.9 437.6,64.2C437.5,63.5 437.5,62.7 437.6,62.0C437.6,61.3 437.7,60.6 437.9,60.0C438.0,59.3 438.2,58.6 438.5,58.0C438.8,57.4 439.2,56.8 439.7,56.5C440.1,56.2 440.7,56.0 441.3,56.2C441.8,56.3 442.3,56.7 442.8,57.2C443.2,57.7 443.6,58.5 443.8,59.3C444.1,60.1 444.2,61.1 444.2,62.0Z"/><path d="M443.2,62.0C443.1,62.7 443.0,63.4 442.8,63.9C442.6,64.5 442.3,65.0 442.0,65.4C441.7,65.7 441.3,66.0 440.9,66.2C440.6,66.3 440.1,66.4 439.8,66.2C439.4,66.1 439.0,65.8 438.7,65.4C438.4,65.0 438.2,64.3 438.1,63.8C438.0,63.2 438.0,62.6 438.0,62.0C438.1,61.4 438.2,60.9 438.4,60.4C438.5,59.9 438.7,59.5 438.9,59.1C439.2,58.7 439.4,58.2 439.8,58.0C440.1,57.8 440.6,57.6 440.9,57.7C441.3,57.7 441.8,58.0 442.1,58.4C442.4,58.7 442.8,59.3 442.9,60.0C443.1,60.6 443.2,61.3 443.2,62.0Z"/><path d="M442.0,62.0C442.0,62.4 441.9,62.9 441.8,63.2C441.7,63.6 441.5,63.9 441.3,64.2C441.1,64.4 440.9,64.7 440.6,64.8C440.4,64.9 440.1,65.0 439.8,64.9C439.6,64.8 439.3,64.6 439.1,64.3C438.9,64.0 438.8,63.6 438.7,63.2C438.7,62.8 438.7,62.4 438.7,62.0C438.7,61.6 438.8,61.3 438.9,60.9C439.0,60.6 439.1,60.2 439.2,59.9C439.4,59.6 439.6,59.3 439.8,59.1C440.1,58.9 440.4,58.8 440.7,58.9C440.9,58.9 441.2,59.2 441.5,59.5C441.7,59.7 441.9,60.2 442.0,60.6C442.0,61.1 442.1,61.6 442.0,62.0Z"/><ellipse cx="440.10" cy="62.00" rx="0.76" ry="1.25" fill="#fff" fill-opacity="0.9" stroke="none"/></g>
<g fill="none" stroke="#ff0000" stroke-width="0.6" transform="rotate(0 466.30 56.80)"><ellipse cx="466.30" cy="56.80" rx="7.31" ry="12.92" fill="#ff0000" fill-opacity="0.4" stroke="none"/><path d="M473.2,56.8C473.1,58.6 472.8,60.3 472.4,62.0C472.0,63.6 471.5,65.3 470.8,66.7C470.1,68.2 469.2,69.8 468.1,70.7C467.0,71.7 465.5,72.4 464.3,72.1C463.1,71.9 461.6,70.7 460.7,69.2C459.8,67.7 459.1,65.3 458.8,63.2C458.4,61.1 458.5,58.8 458.6,56.8C458.7,54.8 459.0,52.8 459.5,51.0C460.0,49.3 460.7,47.4 461.5,46.2C462.3,44.9 463.5,43.9 464.6,43.5C465.7,43.1 466.9,43.2 468.0,43.8C469.0,44.3 470.1,45.4 470.9,46.7C471.7,47.9 472.3,49.7 472.7,51.4C473.1,53.0 473.2,55.0 473.2,56.8Z"/><path d="M472.9,56.8C472.8,58.5 472.4,60.1 472.0,61.6C471.6,63.1 471.0,64.4 470.3,65.7C469.6,67.0 468.9,68.5 467.9,69.4C466.9,70.3 465.6,71.2 464.5,71.0C463.3,70.8 461.9,69.7 461.1,68.3C460.2,67.0 459.7,64.6 459.4,62.7C459.1,60.8 459.2,58.7 459.3,56.8C459.4,54.9 459.6,53.1 460.0,51.4C460.4,49.8 461.0,48.0 461.8,46.8C462.6,45.7 463.7,44.9 464.7,44.6C465.7,44.3 466.9,44.7 467.8,45.2C468.7,45.7 469.6,46.7 470.4,47.7C471.1,48.8 471.9,50.2 472.3,51.7C472.7,53.2 472.9,55.1 472.9,56.8Z"/><path d="M472.3,56.8C472.2,58.3 471.6,59.7 471.2,61.0C470.8,62.2 470.3,63.2 469.7,64.3C469.1,65.5 468.6,66.9 467.7,67.7C466.9,68.6 465.7,69.5 464.7,69.4C463.7,69.3 462.4,68.4 461.6,67.1C460.9,65.9 460.3,63.9 460.0,62.2C459.7,60.4 459.7,58.5 459.7,56.8C459.8,55.1 459.9,53.3 460.3,51.7C460.7,50.1 461.3,48.5 462.1,47.5C462.9,46.5 463.9,45.8 464.9,45.6C465.8,45.3 466.8,45.6 467.7,46.0C468.6,46.4 469.5,47.1 470.2,48.1C471.0,49.1 471.7,50.4 472.1,51.9C472.4,53.4 472.5,55.3 472.3,56.8Z"/><path d="M471.6,56.8C471.6,58.1 471.2,59.5 470.9,60.7C470.5,61.9 470.0,62.9 469.5,63.9C468.9,64.8 468.3,65.9 467.6,66.6C466.8,67.3 465.8,68.1 464.9,68.0C463.9,68.0 462.8,67.3 462.0,66.3C461.3,65.2 460.7,63.4 460.4,61.8C460.1,60.2 460.2,58.4 460.3,56.8C460.3,55.2 460.5,53.6 460.9,52.2C461.3,50.8 461.8,49.2 462.4,48.2C463.1,47.3 464.1,46.5 464.9,46.3C465.8,46.0 466.8,46.4 467.6,46.9C468.4,47.4 469.1,48.4 469.7,49.3C470.3,50.3 470.8,51.4 471.1,52.7C471.4,53.9 471.6,55.5 471.6,56.8Z"/><path d="M471.3,56.8C471.1,58.0 470.7,59.2 470.3,60.2C469.9,61.2 469.5,62.0 469.0,62.9C468.6,63.8 468.1,64.9 467.4,65.6C466.8,66.3 465.8,67.2 465.0,67.2C464.1,67.1 463.0,66.4 462.4,65.4C461.8,64.5 461.3,62.6 461.1,61.2C460.9,59.8 461.0,58.2 461.1,56.8C461.2,55.4 461.4,54.1 461.7,52.9C462.1,51.7 462.5,50.4 463.0,49.6C463.6,48.7 464.4,48.0 465.1,47.7C465.9,47.4 466.7,47.6 467.5,47.9C468.2,48.2 469.0,48.8 469.5,49.6C470.1,50.4 470.8,51.6 471.0,52.8C471.3,54.0 471.4,55.6 471.3,56.8Z"/><path d="M470.6,56.8C470.6,57.9 470.2,59.0 469.9,59.9C469.6,60.8 469.3,61.6 468.8,62.4C468.4,63.2 467.9,64.1 467.3,64.7C466.7,65.3 465.9,66.1 465.1,66.0C464.4,66.0 463.4,65.4 462.8,64.5C462.2,63.7 461.8,62.1 461.6,60.8C461.4,59.5 461.6,58.0 461.7,56.8C461.8,55.6 462.0,54.4 462.3,53.4C462.6,52.4 463.0,51.3 463.5,50.6C464.0,49.8 464.7,49.2 465.3,49.0C465.9,48.7 466.7,48.8 467.3,49.1C467.9,49.4 468.6,50.0 469.1,50.7C469.6,51.4 470.1,52.3 470.3,53.4C470.6,54.4 470.7,55.7 470.6,56.8Z"/><path d="M470.1,56.8C470.0,57.8 469.7,58.7 469.4,59.4C469.1,60.2 468.8,60.8 468.4,61.4C468.0,62.0 467.6,62.8 467.1,63.3C466.6,63.8 465.9,64.4 465.3,64.4C464.7,64.4 463.9,64.0 463.4,63.3C462.9,62.6 462.5,61.3 462.3,60.2C462.1,59.1 462.2,57.9 462.3,56.8C462.4,55.7 462.6,54.8 462.9,53.9C463.1,53.0 463.4,52.0 463.8,51.4C464.3,50.7 464.8,50.1 465.4,49.8C466.0,49.5 466.6,49.5 467.2,49.8C467.8,50.0 468.4,50.5 468.9,51.1C469.3,51.8 469.8,52.7 470.0,53.7C470.2,54.6 470.2,55.8 470.1,56.8Z"/><path d="M469.3,56.8C469.3,57.6 469.1,58.3 468.9,59.0C468.7,59.7 468.4,60.3 468.1,60.9C467.8,61.5 467.5,62.2 467.1,62.6C466.6,63.1 466.0,63.4 465.5,63.4C464.9,63.3 464.3,62.8 463.9,62.2C463.5,61.5 463.2,60.5 463.0,59.6C462.9,58.7 462.9,57.7 463.0,56.8C463.0,55.9 463.1,55.1 463.3,54.3C463.5,53.5 463.8,52.7 464.2,52.1C464.5,51.5 465.0,50.9 465.5,50.7C466.0,50.4 466.6,50.5 467.1,50.7C467.6,50.9 468.1,51.4 468.5,52.0C468.8,52.6 469.1,53.5 469.3,54.3C469.4,55.1 469.4,56.0 469.3,56.8Z"/><path d="M468.8,56.8C468.7,57.4 468.6,58.0 468.4,58.6C468.2,59.1 468.1,59.6 467.8,60.2C467.6,60.7 467.3,61.3 466.9,61.7C466.6,62.0 466.0,62.4 465.6,62.3C465.2,62.2 464.6,61.7 464.3,61.2C464.0,60.6 463.8,59.7 463.7,59.0C463.6,58.3 463.6,57.5 463.6,56.8C463.6,56.1 463.6,55.3 463.8,54.6C463.9,54.0 464.1,53.2 464.5,52.7C464.8,52.2 465.2,51.9 465.7,51.8C466.1,51.7 466.5,51.8 466.9,52.0C467.3,52.3 467.7,52.6 468.0,53.1C468.3,53.5 468.5,54.2 468.7,54.8C468.8,55.4 468.8,56.2 468.8,56.8Z"/><path d="M468.3,56.8C468.3,57.3 468.1,57.8 468.0,58.3C467.9,58.7 467.7,59.1 467.5,59.5C467.3,59.9 467.1,60.4 466.8,60.6C466.5,60.9 466.1,61.1 465.7,61.1C465.4,61.0 465.0,60.7 464.7,60.3C464.5,59.9 464.2,59.2 464.1,58.6C464.0,58.1 464.0,57.4 464.1,56.8C464.1,56.2 464.2,55.6 464.4,55.2C464.5,54.7 464.7,54.2 465.0,53.9C465.2,53.6 465.5,53.3 465.8,53.2C466.1,53.1 466.5,53.2 466.8,53.3C467.0,53.4 467.3,53.6 467.6,54.0C467.8,54.3 468.0,54.8 468.2,55.2C468.3,55.7 468.3,56.3 468.3,56.8Z"/><path d="M467.7,56.8C467.7,57.2 467.6,57.5 467.5,57.8C467.4,58.1 467.2,58.3 467.1,58.6C467.0,58.8 466.8,59.2 466.6,59.4C466.4,59.6 466.2,59.9 465.9,59.8C465.7,59.8 465.3,59.6 465.2,59.3C465.0,59.0 464.8,58.5 464.8,58.1C464.7,57.7 464.8,57.2 464.8,56.8C464.8,56.4 464.9,56.0 464.9,55.6C465.0,55.3 465.2,54.9 465.3,54.6C465.5,54.4 465.7,54.2 465.9,54.1C466.2,54.0 466.4,54.0 466.6,54.2C466.9,54.3 467.1,54.4 467.3,54.7C467.4,54.9 467.6,55.3 467.7,55.6C467.8,56.0 467.8,56.4 467.7,56.8Z"/><ellipse cx="466.30" cy="56.80" rx="0.77" ry="1.36" fill="#fff" fill-opacity="0.9" stroke="none"/></g>
<g fill="#ff0000"><circle cx="428.00" cy="52.00" r="0.5"/><circle cx="430.00" cy="58.00" r="0.5"/><circle cx="433.00" cy="71.00" r="0.5"/><circle cx="446.00" cy="44.00" r="0.5"/><circle cx="452.00" cy="58.00" r="0.5"/><circle cx="455.00" cy="62.00" r="0.5"/><circle cx="457.00" cy="66.00" r="0.5"/><circle cx="460.00" cy="70.00" r="0.5"/><circle cx="463.00" cy="73.00" r="0.5"/><circle cx="470.00" cy="41.00" r="0.5"/><circle cx="472.00" cy="68.00" r="0.5"/><circle cx="474.00" cy="72.00" r="0.5"/><circle cx="458.00" cy="52.00" r="0.5"/><circle cx="451.00" cy="70.00" r="0.5"/></g>
<g fill="none" stroke="#000" stroke-width="0.5" transform="rotate(14 248.00 130.60)"><ellipse cx="248.00" cy="130.60" rx="10.45" ry="5.89" fill="#000" fill-opacity="0.25" stroke="none"/><path d="M259.3,130.6C259.3,131.5 259.0,132.5 258.3,133.4C257.7,134.3 256.7,135.2 255.4,135.8C254.1,136.5 252.4,137.1 250.7,137.3C249.0,137.5 247.0,137.4 245.4,137.1C243.8,136.8 242.2,136.1 241.1,135.5C240.0,134.8 239.3,133.9 238.8,133.1C238.4,132.3 238.2,131.4 238.3,130.6C238.3,129.8 238.6,129.0 239.2,128.2C239.8,127.5 240.6,126.7 241.7,126.1C242.8,125.6 244.2,125.0 245.6,124.8C247.1,124.5 248.9,124.4 250.5,124.5C252.1,124.6 253.8,125.0 255.1,125.6C256.4,126.1 257.6,127.0 258.3,127.8C258.9,128.7 259.3,129.7 259.3,130.6Z"/><path d="M258.5,130.6C258.6,131.4 258.2,132.4 257.6,133.1C257.0,133.9 256.1,134.8 255.0,135.4C253.8,136.0 252.2,136.5 250.7,136.7C249.2,136.9 247.3,136.9 245.8,136.6C244.3,136.3 242.9,135.7 241.9,135.1C240.9,134.5 240.2,133.7 239.7,132.9C239.3,132.2 239.1,131.3 239.2,130.6C239.3,129.9 239.6,129.1 240.2,128.4C240.8,127.8 241.7,127.1 242.7,126.7C243.7,126.2 244.9,125.8 246.2,125.6C247.5,125.4 249.0,125.3 250.4,125.4C251.7,125.5 253.3,125.7 254.5,126.2C255.7,126.6 256.8,127.4 257.5,128.1C258.2,128.8 258.5,129.8 258.5,130.6Z"/><path d="M257.7,130.6C257.6,131.4 257.3,132.2 256.8,132.9C256.3,133.6 255.4,134.3 254.4,134.8C253.4,135.3 252.0,135.7 250.6,135.9C249.3,136.0 247.7,135.9 246.4,135.7C245.2,135.4 244.0,134.9 243.1,134.4C242.2,133.9 241.6,133.2 241.2,132.6C240.8,131.9 240.6,131.3 240.6,130.6C240.6,129.9 240.8,129.3 241.3,128.6C241.7,128.0 242.5,127.4 243.3,127.0C244.2,126.5 245.4,126.1 246.6,125.9C247.8,125.6 249.2,125.5 250.5,125.6C251.8,125.7 253.2,126.0 254.3,126.5C255.4,126.9 256.3,127.6 256.9,128.3C257.4,129.0 257.7,129.8 257.7,130.6Z"/><path d="M257.0,130.6C257.0,131.3 256.7,132.0 256.2,132.6C255.7,133.2 254.9,133.9 254.0,134.3C253.1,134.8 251.8,135.2 250.6,135.3C249.5,135.5 248.0,135.4 246.9,135.2C245.7,135.0 244.7,134.5 243.9,134.0C243.1,133.6 242.6,132.9 242.3,132.4C241.9,131.8 241.8,131.2 241.9,130.6C241.9,130.0 242.2,129.4 242.6,128.9C243.0,128.4 243.6,127.9 244.4,127.5C245.1,127.1 246.1,126.8 247.1,126.6C248.1,126.4 249.3,126.3 250.4,126.4C251.6,126.4 252.8,126.7 253.8,127.0C254.7,127.4 255.6,128.0 256.2,128.6C256.7,129.2 257.0,129.9 257.0,130.6Z"/><path d="M256.0,130.6C256.0,131.2 255.7,131.8 255.3,132.3C254.9,132.8 254.2,133.4 253.4,133.7C252.6,134.1 251.6,134.5 250.6,134.6C249.6,134.7 248.4,134.6 247.4,134.5C246.5,134.3 245.6,133.9 244.9,133.5C244.3,133.1 243.9,132.5 243.6,132.1C243.3,131.6 243.2,131.1 243.1,130.6C243.1,130.1 243.2,129.6 243.5,129.1C243.9,128.7 244.4,128.2 245.0,127.8C245.7,127.4 246.6,127.1 247.5,127.0C248.4,126.8 249.5,126.7 250.5,126.8C251.5,126.9 252.6,127.1 253.4,127.5C254.2,127.8 255.0,128.3 255.4,128.9C255.9,129.4 256.1,130.0 256.0,130.6Z"/><path d="M255.0,130.6C255.0,131.1 254.8,131.6 254.4,132.0C254.1,132.5 253.6,132.9 252.9,133.2C252.3,133.5 251.4,133.8 250.6,133.9C249.7,134.0 248.7,134.0 247.9,133.9C247.1,133.7 246.3,133.4 245.7,133.1C245.2,132.7 244.8,132.3 244.5,131.9C244.2,131.5 244.1,131.0 244.1,130.6C244.1,130.2 244.2,129.7 244.5,129.3C244.8,128.9 245.3,128.5 245.9,128.2C246.5,128.0 247.2,127.7 248.0,127.6C248.8,127.5 249.7,127.5 250.5,127.5C251.3,127.6 252.1,127.8 252.8,128.1C253.5,128.3 254.1,128.8 254.5,129.2C254.8,129.6 255.0,130.1 255.0,130.6Z"/><path d="M254.2,130.6C254.2,131.0 254.0,131.4 253.7,131.8C253.4,132.1 253.0,132.5 252.5,132.7C252.0,133.0 251.2,133.2 250.6,133.3C249.9,133.4 249.1,133.3 248.4,133.2C247.8,133.1 247.1,132.8 246.7,132.6C246.2,132.3 245.9,132.0 245.7,131.6C245.4,131.3 245.3,130.9 245.3,130.6C245.3,130.3 245.5,129.9 245.7,129.6C246.0,129.3 246.4,129.0 246.8,128.7C247.3,128.5 247.9,128.3 248.5,128.2C249.1,128.1 249.8,128.0 250.5,128.1C251.1,128.1 251.9,128.3 252.4,128.5C253.0,128.7 253.5,129.1 253.8,129.4C254.1,129.8 254.2,130.2 254.2,130.6Z"/><path d="M253.4,130.6C253.4,130.9 253.3,131.2 253.0,131.5C252.8,131.8 252.5,132.1 252.0,132.2C251.6,132.4 251.1,132.6 250.5,132.6C250.0,132.7 249.4,132.7 248.9,132.6C248.4,132.5 248.0,132.3 247.7,132.1C247.3,131.9 247.1,131.6 246.9,131.4C246.8,131.1 246.7,130.9 246.6,130.6C246.6,130.3 246.7,130.1 246.9,129.8C247.0,129.6 247.3,129.3 247.7,129.2C248.0,129.0 248.5,128.8 249.0,128.7C249.4,128.7 250.0,128.6 250.5,128.6C251.0,128.7 251.6,128.8 252.0,129.0C252.4,129.2 252.8,129.4 253.1,129.7C253.3,130.0 253.4,130.3 253.4,130.6Z"/><path d="M252.4,130.6C252.4,130.8 252.3,131.0 252.2,131.2C252.0,131.4 251.8,131.6 251.5,131.7C251.3,131.9 250.9,132.0 250.5,132.0C250.2,132.1 249.7,132.1 249.4,132.0C249.0,131.9 248.7,131.8 248.5,131.7C248.2,131.5 248.0,131.3 247.9,131.2C247.8,131.0 247.7,130.8 247.7,130.6C247.8,130.4 247.8,130.2 248.0,130.1C248.1,129.9 248.3,129.7 248.6,129.6C248.8,129.5 249.1,129.4 249.4,129.3C249.8,129.3 250.1,129.3 250.5,129.3C250.8,129.3 251.2,129.4 251.5,129.5C251.8,129.6 252.0,129.8 252.2,130.0C252.3,130.2 252.4,130.4 252.4,130.6Z"/><ellipse cx="250.25" cy="130.60" rx="1.10" ry="0.62" fill="#fff" fill-opacity="0.9" stroke="none"/></g>
<g fill="none" stroke="#ff0000" stroke-width="0.45" transform="rotate(-20 318.60 128.80)"><ellipse cx="318.60" cy="128.80" rx="7.41" ry="6.65" fill="#ff0000" fill-opacity="0.25" stroke="none"/><path d="M326.2,128.8C326.3,129.8 326.3,130.9 325.9,131.9C325.5,132.9 324.8,134.0 323.9,134.8C323.0,135.5 321.7,136.0 320.5,136.2C319.3,136.4 317.9,136.3 316.8,136.0C315.7,135.6 314.6,135.0 313.7,134.3C312.9,133.6 312.2,132.7 311.8,131.7C311.4,130.8 311.2,129.8 311.2,128.8C311.3,127.8 311.6,126.8 312.0,126.0C312.5,125.1 313.2,124.2 314.0,123.6C314.8,122.9 315.8,122.3 316.9,122.0C317.9,121.8 319.3,121.7 320.4,121.9C321.4,122.1 322.6,122.7 323.4,123.4C324.3,124.0 324.9,125.0 325.4,125.9C325.8,126.8 326.1,127.8 326.2,128.8Z"/><path d="M325.2,128.8C325.4,129.7 325.5,130.7 325.2,131.6C324.9,132.6 324.3,133.7 323.5,134.4C322.7,135.1 321.5,135.6 320.4,135.8C319.3,136.0 317.9,135.8 316.9,135.4C315.9,135.1 314.9,134.4 314.2,133.7C313.5,133.1 312.9,132.2 312.5,131.4C312.2,130.6 311.9,129.7 311.9,128.8C311.9,127.9 312.2,127.0 312.6,126.2C312.9,125.4 313.6,124.6 314.3,124.0C315.1,123.4 316.1,122.9 317.0,122.7C318.0,122.4 319.2,122.5 320.2,122.7C321.1,122.9 322.1,123.5 322.8,124.1C323.5,124.7 324.0,125.5 324.4,126.3C324.8,127.1 325.1,127.9 325.2,128.8Z"/><path d="M324.7,128.8C324.8,129.6 324.7,130.5 324.4,131.3C324.1,132.1 323.6,133.0 322.9,133.6C322.2,134.2 321.1,134.7 320.2,134.9C319.2,135.1 318.0,135.0 317.1,134.7C316.2,134.5 315.3,133.9 314.6,133.3C313.9,132.7 313.4,131.9 313.1,131.2C312.8,130.4 312.7,129.6 312.7,128.8C312.8,128.0 313.0,127.2 313.4,126.5C313.8,125.9 314.3,125.2 314.9,124.7C315.6,124.2 316.4,123.7 317.2,123.5C318.1,123.2 319.1,123.2 320.0,123.3C320.9,123.5 321.8,123.9 322.5,124.4C323.2,125.0 323.7,125.7 324.1,126.4C324.4,127.2 324.7,128.0 324.7,128.8Z"/><path d="M324.1,128.8C324.1,129.5 324.1,130.3 323.8,131.0C323.5,131.8 323.0,132.5 322.4,133.0C321.7,133.5 320.8,134.0 319.9,134.1C319.1,134.3 318.1,134.2 317.3,133.9C316.5,133.7 315.7,133.2 315.1,132.7C314.5,132.2 314.1,131.5 313.8,130.9C313.5,130.2 313.4,129.5 313.5,128.8C313.5,128.1 313.7,127.4 314.0,126.8C314.4,126.2 314.8,125.6 315.4,125.2C315.9,124.7 316.6,124.3 317.4,124.1C318.1,123.9 319.1,123.8 319.8,124.0C320.6,124.1 321.4,124.5 322.0,125.0C322.6,125.4 323.1,126.1 323.4,126.7C323.7,127.4 324.0,128.1 324.1,128.8Z"/><path d="M323.2,128.8C323.3,129.4 323.3,130.1 323.1,130.7C322.9,131.4 322.5,132.1 321.9,132.6C321.4,133.0 320.5,133.4 319.8,133.5C319.1,133.6 318.2,133.5 317.5,133.2C316.8,133.0 316.2,132.6 315.7,132.1C315.2,131.7 314.8,131.1 314.5,130.6C314.3,130.0 314.1,129.4 314.1,128.8C314.1,128.2 314.3,127.6 314.5,127.0C314.8,126.5 315.2,125.9 315.7,125.5C316.2,125.1 316.9,124.8 317.5,124.7C318.2,124.5 319.0,124.5 319.6,124.7C320.3,124.9 320.9,125.2 321.4,125.6C321.9,126.0 322.3,126.6 322.6,127.1C322.8,127.6 323.1,128.2 323.2,128.8Z"/><path d="M322.4,128.8C322.4,129.3 322.4,129.9 322.2,130.4C322.0,130.9 321.7,131.4 321.3,131.8C320.8,132.2 320.2,132.5 319.6,132.6C319.0,132.7 318.2,132.6 317.7,132.5C317.1,132.3 316.5,132.0 316.1,131.6C315.7,131.3 315.3,130.8 315.1,130.3C314.9,129.8 314.8,129.3 314.9,128.8C314.9,128.3 315.1,127.8 315.3,127.4C315.5,126.9 315.8,126.5 316.2,126.1C316.6,125.7 317.1,125.4 317.7,125.2C318.2,125.0 319.0,125.0 319.5,125.1C320.1,125.3 320.7,125.6 321.1,126.0C321.5,126.4 321.8,126.9 322.0,127.3C322.2,127.8 322.3,128.3 322.4,128.8Z"/><path d="M321.7,128.8C321.7,129.2 321.7,129.7 321.5,130.1C321.4,130.5 321.1,130.9 320.8,131.2C320.4,131.5 319.9,131.8 319.4,131.9C318.9,132.0 318.3,132.0 317.8,131.8C317.4,131.7 316.9,131.4 316.5,131.1C316.2,130.8 315.9,130.4 315.7,130.0C315.6,129.6 315.5,129.2 315.5,128.8C315.6,128.4 315.7,128.0 315.9,127.6C316.0,127.2 316.3,126.9 316.6,126.6C317.0,126.3 317.4,126.1 317.9,126.0C318.3,125.9 318.9,125.9 319.3,126.0C319.8,126.1 320.2,126.3 320.5,126.6C320.9,126.9 321.1,127.3 321.3,127.6C321.5,128.0 321.6,128.4 321.7,128.8Z"/><path d="M321.0,128.8C321.0,129.1 321.0,129.5 320.9,129.8C320.8,130.1 320.5,130.4 320.3,130.7C320.0,130.9 319.6,131.1 319.2,131.1C318.8,131.2 318.4,131.1 318.0,131.0C317.7,130.9 317.3,130.7 317.1,130.5C316.8,130.3 316.6,130.0 316.5,129.7C316.3,129.4 316.3,129.1 316.3,128.8C316.3,128.5 316.4,128.2 316.5,127.9C316.6,127.6 316.8,127.3 317.1,127.1C317.3,126.9 317.7,126.7 318.0,126.6C318.4,126.5 318.8,126.5 319.2,126.6C319.5,126.7 319.9,126.9 320.1,127.1C320.4,127.3 320.6,127.6 320.7,127.9C320.8,128.2 320.9,128.5 321.0,128.8Z"/><path d="M320.2,128.8C320.2,129.0 320.2,129.2 320.1,129.5C320.1,129.7 319.9,129.9 319.7,130.1C319.5,130.2 319.3,130.4 319.0,130.4C318.8,130.5 318.4,130.5 318.2,130.4C317.9,130.3 317.7,130.2 317.5,130.0C317.3,129.9 317.2,129.6 317.1,129.4C317.0,129.2 317.0,129.0 317.0,128.8C317.0,128.6 317.1,128.4 317.2,128.2C317.3,128.0 317.4,127.8 317.6,127.7C317.8,127.5 318.0,127.3 318.2,127.3C318.4,127.2 318.8,127.2 319.0,127.2C319.2,127.3 319.5,127.4 319.7,127.6C319.8,127.8 320.0,128.0 320.0,128.2C320.1,128.4 320.2,128.6 320.2,128.8Z"/><ellipse cx="318.60" cy="128.80" rx="0.78" ry="0.70" fill="#fff" fill-opacity="0.9" stroke="none"/></g>
<g fill="#ff0000"><circle cx="307.00" cy="137.00" r="0.5"/><circle cx="333.00" cy="131.00" r="0.5"/><circle cx="325.00" cy="136.00" r="0.5"/><circle cx="327.00" cy="123.00" r="0.5"/></g>
<g fill="none" stroke="#7222a0" stroke-width="0.55" transform="rotate(10 376.80 132.20)"><ellipse cx="376.80" cy="132.20" rx="10.92" ry="7.41" fill="#7222a0" fill-opacity="0.35" stroke="none"/><path d="M388.4,132.2C388.2,133.4 387.7,134.5 386.9,135.5C386.1,136.5 385.1,137.5 383.8,138.2C382.6,138.9 380.9,139.5 379.3,139.8C377.8,140.1 375.9,140.1 374.2,139.8C372.6,139.6 370.9,139.0 369.6,138.3C368.3,137.6 367.2,136.6 366.5,135.6C365.9,134.5 365.7,133.3 365.8,132.2C365.9,131.1 366.5,130.0 367.2,129.1C368.0,128.1 369.0,127.3 370.2,126.5C371.3,125.8 372.7,125.1 374.3,124.7C375.8,124.3 377.8,123.9 379.5,124.1C381.3,124.2 383.3,124.7 384.7,125.5C386.1,126.2 387.3,127.5 387.9,128.6C388.5,129.7 388.6,131.0 388.4,132.2Z"/><path d="M387.7,132.2C387.5,133.3 387.0,134.3 386.2,135.2C385.5,136.1 384.4,136.9 383.3,137.6C382.1,138.2 380.7,138.7 379.2,138.9C377.8,139.2 376.1,139.3 374.6,139.1C373.1,139.0 371.5,138.5 370.3,137.9C369.1,137.3 367.9,136.3 367.3,135.4C366.7,134.4 366.6,133.2 366.7,132.2C366.8,131.2 367.5,130.2 368.2,129.3C368.9,128.5 369.9,127.7 370.9,127.1C372.0,126.4 373.3,125.8 374.7,125.4C376.1,125.1 377.9,124.8 379.4,124.9C381.0,125.0 382.8,125.5 384.1,126.1C385.4,126.8 386.5,127.9 387.1,128.9C387.7,129.9 387.8,131.1 387.7,132.2Z"/><path d="M387.0,132.2C386.8,133.2 386.2,134.1 385.5,134.9C384.8,135.7 383.8,136.4 382.7,137.0C381.7,137.5 380.4,137.9 379.1,138.1C377.9,138.3 376.4,138.4 375.1,138.2C373.8,138.1 372.4,137.8 371.2,137.2C370.1,136.7 369.0,135.9 368.4,135.1C367.8,134.2 367.5,133.1 367.6,132.2C367.7,131.3 368.4,130.3 369.0,129.5C369.7,128.8 370.7,128.1 371.7,127.6C372.7,127.0 373.8,126.5 375.1,126.2C376.4,125.8 377.9,125.5 379.4,125.6C380.8,125.7 382.5,126.0 383.7,126.6C384.9,127.2 386.0,128.2 386.6,129.1C387.1,130.1 387.2,131.2 387.0,132.2Z"/><path d="M386.0,132.2C385.9,133.1 385.5,133.9 384.9,134.7C384.3,135.4 383.4,136.1 382.5,136.6C381.5,137.1 380.3,137.5 379.2,137.7C378.0,137.9 376.7,137.9 375.5,137.7C374.3,137.5 373.0,137.2 372.1,136.7C371.1,136.2 370.2,135.4 369.7,134.7C369.2,134.0 369.0,133.0 369.0,132.2C369.1,131.4 369.6,130.6 370.2,129.9C370.8,129.2 371.6,128.6 372.5,128.1C373.4,127.6 374.4,127.1 375.5,126.8C376.6,126.5 378.0,126.2 379.3,126.3C380.6,126.4 382.1,126.7 383.2,127.2C384.2,127.8 385.1,128.7 385.6,129.5C386.1,130.3 386.2,131.3 386.0,132.2Z"/><path d="M385.2,132.2C385.1,133.0 384.7,133.7 384.2,134.4C383.7,135.0 382.9,135.6 382.1,136.1C381.2,136.5 380.1,136.8 379.1,137.0C378.1,137.2 376.9,137.2 375.9,137.1C374.8,136.9 373.7,136.7 372.8,136.2C371.9,135.8 371.0,135.1 370.6,134.5C370.1,133.8 369.9,132.9 370.1,132.2C370.2,131.5 370.7,130.7 371.2,130.1C371.8,129.6 372.5,129.1 373.3,128.6C374.1,128.2 375.0,127.8 375.9,127.5C376.9,127.3 378.1,127.1 379.2,127.1C380.3,127.2 381.6,127.5 382.5,127.9C383.5,128.4 384.3,129.1 384.7,129.8C385.2,130.5 385.3,131.4 385.2,132.2Z"/><path d="M384.5,132.2C384.4,132.9 384.1,133.6 383.6,134.1C383.1,134.7 382.4,135.2 381.7,135.6C380.9,136.0 380.0,136.2 379.1,136.4C378.2,136.5 377.2,136.5 376.3,136.4C375.4,136.3 374.4,136.0 373.7,135.6C372.9,135.2 372.2,134.7 371.8,134.1C371.4,133.5 371.3,132.8 371.4,132.2C371.5,131.6 371.9,131.0 372.4,130.5C372.8,130.0 373.4,129.5 374.1,129.2C374.8,128.8 375.5,128.4 376.3,128.2C377.2,128.0 378.2,127.8 379.2,127.8C380.1,127.8 381.3,128.1 382.1,128.5C382.9,128.8 383.6,129.5 384.0,130.1C384.4,130.7 384.6,131.5 384.5,132.2Z"/><path d="M383.5,132.2C383.4,132.8 383.1,133.3 382.7,133.8C382.3,134.2 381.7,134.7 381.1,135.0C380.5,135.3 379.8,135.5 379.0,135.6C378.3,135.8 377.4,135.8 376.7,135.7C375.9,135.6 375.1,135.4 374.5,135.0C373.9,134.7 373.3,134.3 373.0,133.8C372.7,133.3 372.5,132.7 372.6,132.2C372.6,131.7 372.9,131.1 373.2,130.7C373.6,130.2 374.1,129.8 374.6,129.5C375.2,129.1 375.9,128.8 376.7,128.6C377.4,128.4 378.3,128.3 379.1,128.4C380.0,128.5 380.9,128.7 381.6,129.0C382.2,129.4 382.8,129.9 383.1,130.5C383.5,131.0 383.5,131.6 383.5,132.2Z"/><path d="M382.7,132.2C382.6,132.7 382.4,133.1 382.1,133.5C381.8,133.9 381.3,134.3 380.8,134.5C380.3,134.8 379.6,135.0 379.0,135.0C378.4,135.1 377.7,135.1 377.1,135.0C376.5,134.9 375.8,134.8 375.3,134.5C374.8,134.2 374.3,133.9 374.1,133.5C373.8,133.1 373.6,132.6 373.7,132.2C373.7,131.8 374.0,131.3 374.3,131.0C374.6,130.6 375.0,130.3 375.5,130.0C376.0,129.8 376.5,129.5 377.1,129.4C377.7,129.2 378.4,129.1 379.0,129.2C379.7,129.2 380.5,129.4 381.0,129.7C381.5,129.9 382.0,130.4 382.3,130.8C382.6,131.2 382.7,131.7 382.7,132.2Z"/><path d="M381.7,132.2C381.7,132.5 381.5,132.9 381.3,133.2C381.0,133.5 380.7,133.8 380.3,134.0C379.9,134.2 379.4,134.3 379.0,134.4C378.5,134.5 377.9,134.5 377.5,134.4C377.0,134.4 376.5,134.2 376.1,134.0C375.7,133.8 375.3,133.5 375.1,133.2C374.9,132.9 374.9,132.5 374.9,132.2C374.9,131.9 375.1,131.5 375.4,131.3C375.6,131.0 375.9,130.8 376.3,130.6C376.6,130.3 377.0,130.1 377.5,130.0C377.9,129.9 378.5,129.8 379.0,129.8C379.5,129.9 380.1,130.0 380.6,130.2C381.0,130.4 381.3,130.8 381.5,131.1C381.7,131.4 381.8,131.9 381.7,132.2Z"/><path d="M380.8,132.2C380.8,132.4 380.6,132.7 380.5,132.9C380.3,133.1 380.1,133.3 379.8,133.4C379.6,133.6 379.3,133.7 378.9,133.8C378.6,133.9 378.2,133.9 377.8,133.8C377.5,133.8 377.1,133.6 376.9,133.5C376.6,133.3 376.4,133.1 376.2,132.9C376.1,132.7 376.1,132.4 376.1,132.2C376.2,132.0 376.3,131.8 376.5,131.6C376.6,131.4 376.8,131.2 377.0,131.1C377.3,130.9 377.5,130.8 377.9,130.7C378.2,130.6 378.6,130.5 379.0,130.5C379.3,130.5 379.8,130.6 380.0,130.8C380.3,130.9 380.6,131.2 380.7,131.4C380.8,131.7 380.9,132.0 380.8,132.2Z"/><ellipse cx="378.60" cy="132.20" rx="1.15" ry="0.78" fill="#fff" fill-opacity="0.9" stroke="none"/></g>
<g fill="none" stroke="#7222a0" stroke-width="0.5" transform="rotate(0 394.30 131.40)"><ellipse cx="394.30" cy="131.40" rx="2.66" ry="2.09" fill="#7222a0" fill-opacity="0.18" stroke="none"/><path d="M397.1,131.4C397.1,131.7 397.0,132.1 396.9,132.4C396.7,132.7 396.4,132.9 396.0,133.1C395.7,133.3 395.3,133.4 394.9,133.5C394.5,133.6 394.1,133.6 393.7,133.5C393.3,133.5 392.8,133.4 392.5,133.2C392.2,133.0 391.9,132.7 391.7,132.4C391.5,132.1 391.4,131.7 391.4,131.4C391.4,131.1 391.5,130.7 391.7,130.4C391.9,130.1 392.1,129.8 392.5,129.6C392.8,129.4 393.3,129.3 393.7,129.2C394.1,129.2 394.5,129.2 394.9,129.3C395.3,129.4 395.6,129.6 395.9,129.8C396.2,130.0 396.5,130.2 396.7,130.5C396.9,130.8 397.0,131.1 397.1,131.4Z"/><path d="M395.8,131.4C395.8,131.6 395.8,131.8 395.7,131.9C395.6,132.1 395.5,132.3 395.3,132.4C395.1,132.5 394.9,132.6 394.6,132.6C394.4,132.6 394.2,132.6 393.9,132.6C393.7,132.6 393.5,132.5 393.3,132.4C393.1,132.3 392.9,132.1 392.8,132.0C392.7,131.8 392.6,131.6 392.6,131.4C392.6,131.2 392.7,131.0 392.8,130.8C392.9,130.7 393.1,130.5 393.3,130.4C393.5,130.3 393.7,130.2 394.0,130.2C394.2,130.2 394.4,130.2 394.6,130.3C394.8,130.3 395.0,130.4 395.2,130.5C395.3,130.6 395.5,130.8 395.6,130.9C395.7,131.1 395.8,131.2 395.8,131.4Z"/><ellipse cx="394.30" cy="131.40" rx="0.50" ry="0.50" fill="#fff" fill-opacity="0.9" stroke="none"/></g>
<g fill="#7222a0"><circle cx="378.00" cy="118.50" r="0.6"/><circle cx="405.00" cy="133.50" r="0.6"/></g>
<g fill="none" stroke="#ff0000" stroke-width="0.45" transform="rotate(0 443.20 118.40)"><ellipse cx="443.20" cy="118.40" rx="4.37" ry="3.42" fill="#ff0000" fill-opacity="0.0" stroke="none"/><path d="M447.6,118.4C447.6,118.9 447.5,119.5 447.3,119.9C447.1,120.4 446.7,121.0 446.2,121.3C445.7,121.7 444.9,122.0 444.3,122.1C443.6,122.2 442.8,122.0 442.2,121.9C441.6,121.7 441.0,121.3 440.6,120.9C440.2,120.6 439.9,120.2 439.7,119.7C439.4,119.3 439.2,118.9 439.2,118.4C439.1,117.9 439.1,117.4 439.3,116.9C439.5,116.4 439.8,115.9 440.2,115.5C440.7,115.1 441.4,114.7 442.1,114.5C442.7,114.3 443.7,114.2 444.4,114.4C445.1,114.5 445.8,114.9 446.3,115.3C446.8,115.7 447.2,116.3 447.4,116.8C447.6,117.3 447.7,117.9 447.6,118.4Z"/><path d="M446.4,118.4C446.4,118.8 446.3,119.2 446.1,119.5C445.9,119.8 445.7,120.2 445.3,120.5C444.9,120.7 444.4,120.9 444.0,121.0C443.5,121.1 442.9,121.0 442.5,120.9C442.0,120.8 441.6,120.5 441.3,120.2C441.0,120.0 440.8,119.7 440.6,119.4C440.5,119.1 440.4,118.7 440.3,118.4C440.3,118.1 440.3,117.7 440.5,117.4C440.6,117.0 440.8,116.7 441.2,116.4C441.5,116.1 441.9,115.8 442.4,115.7C442.9,115.6 443.5,115.5 444.0,115.6C444.5,115.7 445.0,116.0 445.4,116.2C445.8,116.5 446.0,116.9 446.2,117.3C446.3,117.6 446.4,118.0 446.4,118.4Z"/><path d="M445.1,118.4C445.1,118.6 445.0,118.9 444.9,119.1C444.8,119.3 444.6,119.5 444.4,119.6C444.2,119.7 443.9,119.8 443.6,119.9C443.4,119.9 443.0,119.9 442.8,119.8C442.5,119.7 442.3,119.6 442.1,119.5C441.9,119.3 441.8,119.2 441.7,119.0C441.6,118.8 441.5,118.6 441.4,118.4C441.4,118.2 441.4,118.0 441.5,117.8C441.6,117.6 441.8,117.3 442.0,117.2C442.2,117.0 442.5,116.9 442.7,116.8C443.0,116.8 443.4,116.8 443.7,116.8C443.9,116.9 444.2,117.0 444.5,117.2C444.7,117.3 444.8,117.5 444.9,117.7C445.0,118.0 445.1,118.2 445.1,118.4Z"/><ellipse cx="443.20" cy="118.40" rx="0.50" ry="0.50" fill="#fff" fill-opacity="0.9" stroke="none"/></g>
<g fill="none" stroke="#ff0000" stroke-width="0.45" transform="rotate(0 441.60 124.60)"><ellipse cx="441.60" cy="124.60" rx="2.28" ry="3.23" fill="#ff0000" fill-opacity="0.0" stroke="none"/><path d="M444.3,124.6C444.3,125.1 444.1,125.7 443.9,126.2C443.7,126.6 443.3,126.9 443.0,127.2C442.7,127.4 442.4,127.6 442.1,127.7C441.8,127.8 441.4,127.9 441.1,127.8C440.8,127.7 440.4,127.5 440.2,127.2C439.9,126.9 439.7,126.4 439.5,126.0C439.4,125.6 439.3,125.1 439.3,124.6C439.2,124.1 439.2,123.5 439.3,123.1C439.5,122.6 439.7,122.1 440.0,121.8C440.3,121.5 440.7,121.4 441.1,121.4C441.4,121.4 441.8,121.5 442.1,121.6C442.4,121.7 442.7,121.8 443.1,122.0C443.4,122.3 443.8,122.6 444.0,123.0C444.2,123.4 444.4,124.1 444.3,124.6Z"/><path d="M443.2,124.6C443.2,124.9 443.1,125.3 442.9,125.5C442.8,125.8 442.6,125.9 442.4,126.1C442.2,126.2 442.1,126.2 441.9,126.3C441.7,126.3 441.5,126.4 441.3,126.3C441.1,126.3 440.9,126.2 440.8,126.0C440.6,125.9 440.5,125.6 440.4,125.4C440.4,125.2 440.3,124.9 440.3,124.6C440.3,124.3 440.3,124.0 440.4,123.8C440.4,123.5 440.6,123.2 440.7,123.1C440.9,122.9 441.1,122.8 441.3,122.8C441.5,122.8 441.7,122.8 441.9,122.9C442.1,123.0 442.2,123.0 442.4,123.2C442.6,123.3 442.8,123.5 442.9,123.7C443.1,123.9 443.2,124.3 443.2,124.6Z"/><ellipse cx="441.60" cy="124.60" rx="0.50" ry="0.50" fill="#fff" fill-opacity="0.9" stroke="none"/></g>
<g fill="none" stroke="#ff0000" stroke-width="0.5" transform="rotate(0 467.00 120.50)"><ellipse cx="467.00" cy="120.50" rx="7.79" ry="12.82" fill="#ff0000" fill-opacity="0.15" stroke="none"/><path d="M475.3,120.5C475.4,122.5 475.2,124.7 474.8,126.7C474.3,128.6 473.5,130.6 472.6,132.0C471.6,133.4 470.3,134.7 469.0,135.1C467.8,135.6 466.2,135.4 465.0,134.7C463.8,134.0 462.7,132.5 461.9,131.0C461.1,129.5 460.7,127.5 460.4,125.7C460.1,124.0 460.0,122.2 460.1,120.5C460.1,118.8 460.2,117.0 460.5,115.4C460.8,113.7 461.3,111.7 462.1,110.4C462.9,109.0 464.0,107.6 465.1,107.0C466.3,106.4 467.7,106.4 468.9,106.8C470.1,107.3 471.3,108.5 472.2,109.8C473.1,111.1 473.9,112.8 474.4,114.6C474.9,116.4 475.3,118.5 475.3,120.5Z"/><path d="M474.2,120.8C474.3,122.6 474.3,124.6 473.9,126.4C473.5,128.2 472.9,130.2 472.0,131.5C471.1,132.9 469.9,134.0 468.7,134.5C467.5,134.9 466.0,134.7 464.9,134.0C463.8,133.4 462.8,131.9 462.1,130.5C461.4,129.1 461.0,127.2 460.7,125.6C460.5,123.9 460.5,122.3 460.5,120.8C460.6,119.2 460.6,117.7 460.9,116.1C461.2,114.6 461.6,112.8 462.3,111.5C463.0,110.2 464.0,108.8 465.1,108.3C466.1,107.8 467.4,107.9 468.5,108.4C469.6,108.9 470.6,110.1 471.4,111.3C472.2,112.5 472.8,114.1 473.2,115.6C473.7,117.2 474.1,119.0 474.2,120.8Z"/><path d="M473.6,121.0C473.7,122.7 473.5,124.6 473.1,126.2C472.7,127.8 472.0,129.4 471.2,130.5C470.3,131.6 469.2,132.6 468.2,132.9C467.2,133.3 465.9,133.2 464.9,132.7C464.0,132.2 463.0,131.0 462.3,129.8C461.6,128.6 461.2,126.9 461.0,125.5C460.7,124.0 460.7,122.5 460.8,121.0C460.8,119.6 461.0,118.2 461.3,116.9C461.6,115.5 462.0,114.0 462.6,112.9C463.3,111.8 464.2,110.8 465.1,110.3C466.0,109.8 467.1,109.7 468.1,110.0C469.0,110.3 470.1,111.2 470.8,112.2C471.6,113.2 472.3,114.6 472.8,116.1C473.2,117.6 473.6,119.3 473.6,121.0Z"/><path d="M472.3,121.3C472.4,122.7 472.3,124.4 472.0,125.8C471.7,127.2 471.2,128.7 470.5,129.8C469.8,130.9 468.8,131.8 467.8,132.2C466.9,132.5 465.8,132.4 464.9,131.9C464.0,131.3 463.1,130.2 462.6,129.1C462.0,128.0 461.7,126.5 461.5,125.2C461.2,123.9 461.2,122.6 461.2,121.3C461.2,120.0 461.3,118.7 461.5,117.5C461.8,116.2 462.1,114.7 462.7,113.7C463.2,112.7 464.1,111.6 464.9,111.2C465.8,110.8 466.9,110.8 467.7,111.2C468.6,111.6 469.4,112.6 470.1,113.5C470.7,114.5 471.2,115.8 471.6,117.1C472.0,118.4 472.2,119.8 472.3,121.3Z"/><path d="M471.6,121.6C471.7,122.9 471.5,124.4 471.2,125.6C470.9,126.8 470.4,128.1 469.7,129.0C469.1,129.9 468.2,130.6 467.4,130.9C466.6,131.2 465.6,131.2 464.8,130.8C464.1,130.4 463.3,129.4 462.8,128.5C462.2,127.5 461.9,126.2 461.7,125.0C461.5,123.9 461.6,122.7 461.6,121.6C461.7,120.4 461.8,119.4 462.0,118.3C462.3,117.3 462.6,116.1 463.1,115.2C463.5,114.3 464.2,113.4 464.9,113.0C465.7,112.6 466.6,112.5 467.3,112.8C468.1,113.0 468.9,113.7 469.5,114.5C470.1,115.4 470.7,116.5 471.0,117.7C471.4,118.8 471.6,120.2 471.6,121.6Z"/><path d="M470.5,121.8C470.5,122.9 470.4,124.2 470.2,125.2C469.9,126.3 469.5,127.4 469.0,128.1C468.4,128.9 467.7,129.5 467.0,129.8C466.3,130.0 465.5,130.0 464.8,129.6C464.2,129.3 463.5,128.5 463.1,127.7C462.6,126.9 462.3,125.8 462.1,124.8C461.9,123.8 461.8,122.8 461.8,121.8C461.8,120.8 461.9,119.8 462.1,118.8C462.3,117.8 462.6,116.7 463.0,115.9C463.5,115.1 464.2,114.4 464.8,114.2C465.5,113.9 466.3,113.9 467.0,114.2C467.6,114.5 468.3,115.2 468.8,115.9C469.3,116.6 469.7,117.6 470.0,118.6C470.3,119.6 470.5,120.7 470.5,121.8Z"/><path d="M469.7,122.1C469.7,123.0 469.6,124.1 469.4,125.0C469.2,125.9 468.8,126.8 468.3,127.5C467.8,128.1 467.2,128.6 466.6,128.8C466.0,129.0 465.3,128.9 464.8,128.6C464.2,128.3 463.7,127.7 463.3,127.0C462.9,126.3 462.7,125.4 462.5,124.6C462.3,123.8 462.3,122.9 462.3,122.1C462.3,121.3 462.4,120.4 462.6,119.6C462.8,118.8 463.0,118.0 463.4,117.3C463.8,116.7 464.3,116.1 464.8,115.8C465.3,115.5 466.0,115.5 466.6,115.7C467.1,115.9 467.7,116.4 468.1,117.0C468.6,117.6 469.0,118.4 469.2,119.3C469.5,120.1 469.7,121.1 469.7,122.1Z"/><path d="M468.6,122.3C468.7,123.1 468.6,124.0 468.5,124.7C468.3,125.5 468.0,126.3 467.6,126.8C467.2,127.3 466.7,127.8 466.2,127.9C465.7,128.1 465.2,128.0 464.7,127.8C464.3,127.5 463.8,127.0 463.5,126.4C463.2,125.9 463.0,125.1 462.8,124.4C462.7,123.8 462.7,123.0 462.7,122.3C462.7,121.7 462.7,121.0 462.9,120.3C463.0,119.7 463.2,118.9 463.6,118.4C463.9,117.9 464.3,117.4 464.8,117.2C465.2,117.1 465.7,117.1 466.2,117.3C466.6,117.5 467.0,117.9 467.4,118.4C467.7,118.9 468.0,119.5 468.2,120.2C468.4,120.8 468.6,121.6 468.6,122.3Z"/><path d="M467.6,122.6C467.6,123.2 467.6,123.8 467.5,124.4C467.3,124.9 467.1,125.5 466.9,126.0C466.6,126.4 466.2,126.8 465.8,126.9C465.5,127.1 465.0,127.1 464.7,126.9C464.3,126.7 464.0,126.2 463.7,125.7C463.5,125.3 463.4,124.7 463.3,124.2C463.2,123.6 463.2,123.1 463.2,122.6C463.2,122.1 463.2,121.6 463.3,121.1C463.4,120.5 463.5,119.9 463.7,119.5C464.0,119.1 464.3,118.6 464.7,118.5C465.0,118.3 465.5,118.3 465.8,118.5C466.2,118.7 466.5,119.1 466.8,119.5C467.0,119.9 467.2,120.4 467.4,120.9C467.5,121.5 467.6,122.0 467.6,122.6Z"/><path d="M466.7,122.9C466.7,123.3 466.7,123.8 466.6,124.2C466.6,124.6 466.4,125.0 466.2,125.3C466.0,125.6 465.7,125.9 465.4,126.0C465.2,126.1 464.9,126.0 464.6,125.8C464.4,125.7 464.1,125.4 464.0,125.0C463.8,124.7 463.7,124.3 463.7,124.0C463.6,123.6 463.6,123.2 463.6,122.9C463.6,122.5 463.6,122.2 463.7,121.8C463.7,121.4 463.8,121.0 464.0,120.7C464.1,120.4 464.4,120.1 464.6,120.0C464.9,119.9 465.2,119.9 465.4,120.0C465.7,120.1 465.9,120.4 466.1,120.7C466.2,121.0 466.4,121.4 466.5,121.7C466.6,122.1 466.7,122.5 466.7,122.9Z"/><ellipse cx="464.75" cy="123.20" rx="0.82" ry="1.35" fill="#fff" fill-opacity="0.9" stroke="none"/></g>
<g fill="#ff0000"><circle cx="436.00" cy="117.00" r="0.5"/><circle cx="438.00" cy="122.00" r="0.5"/><circle cx="441.00" cy="129.00" r="0.5"/><circle cx="448.00" cy="133.00" r="0.5"/><circle cx="452.00" cy="129.00" r="0.5"/><circle cx="445.00" cy="113.00" r="0.5"/><circle cx="457.00" cy="120.00" r="0.5"/><circle cx="440.00" cy="128.00" r="0.5"/></g>
<g fill="none" stroke="#000" stroke-width="0.6" transform="rotate(0 252.80 195.30)"><ellipse cx="252.80" cy="195.30" rx="6.08" ry="5.61" fill="#000" fill-opacity="0.45" stroke="none"/><path d="M259.1,195.3C259.1,196.1 258.8,197.1 258.4,197.8C258.0,198.5 257.3,199.2 256.6,199.7C255.9,200.1 255.0,200.5 254.1,200.7C253.3,200.8 252.3,200.9 251.4,200.8C250.5,200.7 249.5,200.5 248.7,200.0C247.9,199.6 247.1,198.8 246.6,198.1C246.1,197.3 245.9,196.2 245.9,195.3C246.0,194.4 246.4,193.4 246.9,192.7C247.4,191.9 248.1,191.3 248.9,190.8C249.6,190.3 250.5,189.8 251.4,189.6C252.3,189.4 253.3,189.3 254.3,189.4C255.2,189.6 256.2,190.0 256.9,190.6C257.6,191.1 258.3,191.9 258.6,192.7C259.0,193.5 259.2,194.5 259.1,195.3Z"/><path d="M258.5,195.3C258.5,196.1 258.1,196.9 257.7,197.5C257.3,198.1 256.7,198.7 256.1,199.1C255.4,199.5 254.7,199.8 254.0,200.0C253.2,200.3 252.4,200.4 251.5,200.4C250.7,200.3 249.7,200.2 248.9,199.8C248.1,199.4 247.2,198.7 246.8,198.0C246.4,197.2 246.1,196.1 246.2,195.3C246.3,194.5 246.8,193.5 247.3,192.9C247.8,192.2 248.6,191.7 249.3,191.3C250.0,190.8 250.8,190.5 251.6,190.3C252.4,190.1 253.3,190.0 254.1,190.1C254.9,190.2 255.8,190.5 256.5,191.0C257.2,191.5 257.8,192.2 258.2,192.9C258.5,193.6 258.6,194.5 258.5,195.3Z"/><path d="M258.2,195.3C258.2,196.0 258.0,196.8 257.6,197.4C257.2,198.0 256.5,198.5 255.9,198.9C255.3,199.2 254.6,199.4 253.9,199.6C253.2,199.7 252.4,199.8 251.7,199.7C251.0,199.7 250.1,199.6 249.4,199.2C248.7,198.9 247.9,198.3 247.5,197.6C247.1,197.0 246.9,196.1 246.9,195.3C247.0,194.5 247.4,193.7 247.8,193.1C248.3,192.5 249.0,192.0 249.6,191.6C250.2,191.2 251.0,191.0 251.7,190.8C252.4,190.7 253.2,190.7 253.9,190.8C254.7,190.9 255.4,191.1 256.1,191.5C256.7,191.9 257.3,192.5 257.7,193.1C258.0,193.8 258.3,194.6 258.2,195.3Z"/><path d="M257.4,195.3C257.4,195.9 257.2,196.6 256.9,197.1C256.5,197.6 256.0,198.1 255.5,198.4C255.0,198.8 254.4,199.0 253.8,199.2C253.1,199.3 252.5,199.4 251.8,199.3C251.1,199.3 250.4,199.1 249.8,198.8C249.1,198.5 248.5,198.0 248.1,197.4C247.8,196.8 247.6,196.0 247.6,195.3C247.7,194.6 248.0,193.9 248.4,193.4C248.8,192.8 249.4,192.4 249.9,192.0C250.5,191.6 251.1,191.3 251.8,191.2C252.4,191.0 253.2,190.9 253.9,191.0C254.5,191.1 255.3,191.4 255.8,191.8C256.4,192.2 256.8,192.8 257.1,193.4C257.4,194.0 257.5,194.7 257.4,195.3Z"/><path d="M257.0,195.3C256.9,195.8 256.7,196.4 256.4,196.9C256.1,197.3 255.6,197.7 255.1,198.0C254.6,198.2 254.1,198.4 253.6,198.5C253.1,198.6 252.5,198.7 252.0,198.7C251.4,198.6 250.7,198.6 250.1,198.4C249.6,198.1 248.9,197.7 248.6,197.2C248.2,196.7 248.0,195.9 248.1,195.3C248.1,194.7 248.5,194.0 248.8,193.5C249.2,193.0 249.7,192.7 250.2,192.3C250.8,192.0 251.3,191.8 251.9,191.7C252.5,191.5 253.1,191.5 253.7,191.6C254.3,191.7 255.0,191.9 255.5,192.2C256.0,192.6 256.4,193.1 256.7,193.6C256.9,194.1 257.0,194.8 257.0,195.3Z"/><path d="M256.5,195.3C256.5,195.8 256.3,196.3 256.0,196.7C255.8,197.1 255.3,197.5 254.9,197.7C254.5,198.0 254.0,198.1 253.5,198.2C253.0,198.3 252.6,198.3 252.1,198.2C251.6,198.2 251.0,198.1 250.5,197.9C250.1,197.7 249.5,197.3 249.2,196.9C248.9,196.5 248.7,195.8 248.7,195.3C248.7,194.8 249.0,194.2 249.3,193.8C249.6,193.3 250.1,193.0 250.6,192.7C251.0,192.5 251.6,192.4 252.1,192.3C252.5,192.2 253.1,192.2 253.6,192.3C254.0,192.3 254.6,192.5 255.0,192.8C255.4,193.0 255.8,193.4 256.1,193.8C256.3,194.3 256.5,194.8 256.5,195.3Z"/><path d="M255.8,195.3C255.8,195.7 255.6,196.1 255.4,196.5C255.2,196.8 254.9,197.1 254.6,197.3C254.2,197.6 253.8,197.7 253.4,197.8C253.0,197.9 252.6,197.9 252.2,197.9C251.7,197.9 251.2,197.8 250.8,197.6C250.4,197.4 250.0,197.0 249.8,196.6C249.6,196.3 249.4,195.7 249.5,195.3C249.5,194.9 249.7,194.4 250.0,194.0C250.2,193.7 250.6,193.4 251.0,193.2C251.3,192.9 251.7,192.8 252.2,192.7C252.6,192.6 253.0,192.6 253.5,192.6C253.9,192.7 254.3,192.9 254.7,193.1C255.0,193.4 255.4,193.7 255.5,194.1C255.7,194.4 255.8,194.9 255.8,195.3Z"/><path d="M255.3,195.3C255.2,195.6 255.1,196.0 254.9,196.2C254.7,196.5 254.5,196.7 254.2,196.9C253.9,197.1 253.6,197.2 253.3,197.2C253.0,197.3 252.6,197.4 252.3,197.4C251.9,197.3 251.5,197.3 251.2,197.1C250.9,197.0 250.5,196.7 250.3,196.4C250.1,196.1 250.0,195.7 250.0,195.3C250.0,194.9 250.2,194.5 250.4,194.2C250.6,193.9 251.0,193.7 251.3,193.5C251.6,193.4 251.9,193.3 252.3,193.2C252.6,193.1 253.0,193.1 253.3,193.2C253.7,193.2 254.0,193.3 254.3,193.5C254.6,193.7 254.9,194.0 255.1,194.3C255.2,194.6 255.3,195.0 255.3,195.3Z"/><path d="M254.6,195.3C254.6,195.5 254.5,195.8 254.4,196.0C254.3,196.2 254.1,196.4 253.9,196.6C253.7,196.7 253.4,196.8 253.2,196.9C252.9,196.9 252.7,197.0 252.4,196.9C252.1,196.9 251.8,196.9 251.6,196.7C251.3,196.6 251.1,196.4 250.9,196.1C250.8,195.9 250.7,195.6 250.7,195.3C250.7,195.0 250.8,194.7 251.0,194.5C251.1,194.3 251.4,194.1 251.6,193.9C251.8,193.8 252.1,193.7 252.4,193.6C252.7,193.6 253.0,193.6 253.2,193.6C253.5,193.7 253.8,193.8 254.0,194.0C254.2,194.1 254.3,194.3 254.4,194.6C254.6,194.8 254.6,195.1 254.6,195.3Z"/><path d="M254.1,195.3C254.1,195.5 254.0,195.6 253.9,195.8C253.8,195.9 253.7,196.1 253.5,196.1C253.4,196.2 253.2,196.3 253.1,196.4C252.9,196.4 252.7,196.4 252.5,196.4C252.3,196.4 252.1,196.4 251.9,196.3C251.7,196.2 251.5,196.1 251.4,195.9C251.3,195.7 251.3,195.5 251.3,195.3C251.3,195.1 251.4,194.9 251.5,194.7C251.7,194.6 251.8,194.5 252.0,194.4C252.2,194.3 252.3,194.2 252.5,194.1C252.7,194.1 252.9,194.1 253.1,194.1C253.3,194.1 253.5,194.2 253.7,194.3C253.8,194.4 254.0,194.6 254.0,194.8C254.1,194.9 254.1,195.1 254.1,195.3Z"/><ellipse cx="252.80" cy="195.30" rx="0.64" ry="0.59" fill="#fff" fill-opacity="0.9" stroke="none"/></g>
<g fill="#000"><circle cx="253.00" cy="186.00" r="0.5"/><circle cx="261.00" cy="192.00" r="0.5"/><circle cx="268.00" cy="192.50" r="0.5"/><circle cx="271.00" cy="196.50" r="0.5"/><circle cx="274.00" cy="197.00" r="0.5"/><circle cx="276.00" cy="196.00" r="0.5"/></g>
<g fill="none" stroke="#ff0000" stroke-width="0.55" transform="rotate(0 315.80 195.30)"><ellipse cx="315.80" cy="195.30" rx="6.93" ry="6.27" fill="#ff0000" fill-opacity="0.55" stroke="none"/><path d="M323.6,195.3C323.5,196.3 323.0,197.4 322.5,198.2C321.9,199.0 321.1,199.7 320.2,200.3C319.3,200.8 318.4,201.2 317.4,201.5C316.4,201.7 315.2,201.8 314.2,201.7C313.1,201.6 312.0,201.2 311.1,200.7C310.2,200.1 309.3,199.2 308.8,198.3C308.4,197.4 308.2,196.3 308.3,195.3C308.4,194.3 308.9,193.3 309.5,192.5C310.0,191.8 310.9,191.1 311.7,190.6C312.5,190.1 313.4,189.7 314.3,189.5C315.3,189.2 316.3,189.0 317.4,189.1C318.4,189.2 319.6,189.4 320.5,189.9C321.5,190.4 322.4,191.3 323.0,192.2C323.5,193.1 323.7,194.3 323.6,195.3Z"/><path d="M322.9,195.3C322.9,196.2 322.5,197.2 322.0,198.0C321.5,198.8 320.7,199.5 319.9,200.0C319.1,200.5 318.2,200.9 317.3,201.1C316.3,201.3 315.3,201.3 314.3,201.2C313.4,201.0 312.3,200.7 311.5,200.1C310.7,199.6 310.0,198.8 309.6,198.0C309.2,197.2 309.0,196.2 309.1,195.3C309.1,194.4 309.6,193.5 310.1,192.8C310.6,192.1 311.3,191.5 312.0,191.0C312.8,190.6 313.6,190.2 314.5,190.0C315.3,189.8 316.3,189.6 317.2,189.7C318.2,189.8 319.2,190.0 320.1,190.4C320.9,190.9 321.8,191.7 322.3,192.5C322.8,193.3 323.0,194.4 322.9,195.3Z"/><path d="M322.4,195.3C322.4,196.1 322.0,197.1 321.5,197.8C321.0,198.5 320.3,199.1 319.5,199.5C318.8,200.0 317.9,200.2 317.1,200.4C316.2,200.5 315.3,200.6 314.5,200.4C313.7,200.3 312.7,200.0 312.0,199.6C311.3,199.1 310.5,198.5 310.1,197.8C309.7,197.0 309.5,196.1 309.6,195.3C309.6,194.5 310.0,193.6 310.5,193.0C311.0,192.4 311.7,191.8 312.4,191.4C313.1,191.0 313.8,190.8 314.6,190.6C315.4,190.4 316.2,190.3 317.1,190.3C317.9,190.4 318.9,190.5 319.7,190.9C320.4,191.3 321.3,192.0 321.7,192.7C322.2,193.4 322.5,194.5 322.4,195.3Z"/><path d="M321.8,195.3C321.8,196.1 321.4,196.9 321.0,197.6C320.6,198.2 319.8,198.7 319.2,199.1C318.5,199.5 317.7,199.7 317.0,199.9C316.2,200.0 315.4,200.0 314.6,199.9C313.9,199.8 313.1,199.5 312.4,199.1C311.8,198.7 311.1,198.1 310.7,197.5C310.4,196.9 310.2,196.0 310.2,195.3C310.3,194.6 310.7,193.8 311.1,193.2C311.5,192.7 312.2,192.2 312.8,191.9C313.4,191.5 314.1,191.3 314.8,191.2C315.4,191.0 316.2,190.9 316.9,190.9C317.6,191.0 318.5,191.1 319.2,191.4C319.9,191.8 320.7,192.3 321.1,193.0C321.6,193.6 321.8,194.5 321.8,195.3Z"/><path d="M321.0,195.3C321.0,196.0 320.7,196.7 320.4,197.3C320.0,197.8 319.4,198.3 318.8,198.7C318.2,199.0 317.5,199.3 316.8,199.4C316.2,199.5 315.4,199.5 314.8,199.4C314.1,199.3 313.4,199.0 312.8,198.7C312.3,198.3 311.7,197.8 311.4,197.2C311.1,196.6 311.0,195.9 311.0,195.3C311.1,194.7 311.4,194.0 311.7,193.5C312.1,193.0 312.6,192.6 313.1,192.3C313.7,192.0 314.3,191.8 314.9,191.6C315.5,191.5 316.1,191.4 316.8,191.4C317.4,191.4 318.2,191.6 318.8,191.9C319.4,192.2 320.1,192.7 320.4,193.3C320.8,193.8 321.0,194.6 321.0,195.3Z"/><path d="M320.3,195.3C320.3,195.9 320.1,196.5 319.7,197.0C319.4,197.5 318.9,197.9 318.3,198.2C317.8,198.5 317.2,198.6 316.7,198.7C316.1,198.8 315.5,198.8 314.9,198.7C314.4,198.6 313.8,198.4 313.3,198.1C312.8,197.8 312.3,197.4 312.0,197.0C311.7,196.5 311.5,195.8 311.6,195.3C311.6,194.8 311.8,194.2 312.1,193.7C312.4,193.3 313.0,192.9 313.4,192.6C313.9,192.3 314.4,192.2 315.0,192.0C315.5,191.9 316.1,191.9 316.7,191.9C317.2,192.0 317.9,192.1 318.4,192.3C318.9,192.6 319.5,193.1 319.8,193.5C320.2,194.0 320.4,194.7 320.3,195.3Z"/><path d="M319.5,195.3C319.5,195.8 319.3,196.3 319.1,196.7C318.8,197.1 318.4,197.5 318.0,197.7C317.5,198.0 317.0,198.2 316.5,198.2C316.1,198.3 315.5,198.3 315.1,198.2C314.6,198.1 314.1,198.0 313.7,197.7C313.3,197.5 312.9,197.1 312.6,196.7C312.4,196.3 312.3,195.8 312.3,195.3C312.3,194.8 312.5,194.3 312.7,194.0C313.0,193.6 313.4,193.2 313.8,193.0C314.2,192.8 314.6,192.6 315.1,192.5C315.6,192.4 316.0,192.4 316.5,192.4C317.0,192.5 317.5,192.6 318.0,192.8C318.4,193.1 318.8,193.4 319.1,193.9C319.4,194.3 319.5,194.8 319.5,195.3Z"/><path d="M318.8,195.3C318.8,195.7 318.6,196.1 318.4,196.4C318.1,196.7 317.8,197.0 317.5,197.2C317.1,197.4 316.8,197.6 316.4,197.7C316.0,197.7 315.6,197.8 315.2,197.8C314.8,197.7 314.3,197.6 314.0,197.4C313.6,197.2 313.3,196.8 313.1,196.5C312.9,196.1 312.9,195.7 312.9,195.3C313.0,194.9 313.2,194.5 313.4,194.2C313.6,194.0 313.9,193.7 314.2,193.5C314.5,193.3 314.9,193.2 315.2,193.1C315.6,193.0 316.0,192.9 316.4,192.9C316.8,192.9 317.3,193.0 317.6,193.2C318.0,193.4 318.4,193.7 318.6,194.1C318.8,194.4 318.8,194.9 318.8,195.3Z"/><path d="M318.1,195.3C318.1,195.6 318.0,195.9 317.8,196.2C317.7,196.4 317.4,196.7 317.2,196.8C316.9,197.0 316.6,197.2 316.3,197.2C316.0,197.3 315.6,197.3 315.3,197.2C315.0,197.2 314.7,197.1 314.4,196.9C314.2,196.7 313.9,196.4 313.8,196.2C313.7,195.9 313.6,195.6 313.6,195.3C313.7,195.0 313.8,194.7 314.0,194.5C314.1,194.3 314.3,194.1 314.6,193.9C314.8,193.7 315.1,193.6 315.4,193.5C315.6,193.5 316.0,193.4 316.3,193.5C316.6,193.5 316.9,193.6 317.2,193.7C317.4,193.9 317.7,194.1 317.9,194.4C318.0,194.7 318.1,195.0 318.1,195.3Z"/><path d="M317.4,195.3C317.4,195.5 317.3,195.7 317.2,195.9C317.1,196.1 316.9,196.2 316.7,196.3C316.5,196.5 316.3,196.5 316.1,196.6C315.9,196.6 315.7,196.7 315.5,196.6C315.2,196.6 315.0,196.5 314.8,196.4C314.6,196.3 314.5,196.1 314.4,195.9C314.3,195.7 314.2,195.5 314.2,195.3C314.3,195.1 314.4,194.9 314.5,194.7C314.6,194.6 314.8,194.4 314.9,194.3C315.1,194.2 315.3,194.1 315.5,194.1C315.7,194.0 315.9,194.0 316.1,194.0C316.3,194.0 316.6,194.1 316.8,194.2C317.0,194.3 317.2,194.5 317.3,194.7C317.4,194.8 317.4,195.1 317.4,195.3Z"/><ellipse cx="315.80" cy="195.30" rx="0.73" ry="0.66" fill="#fff" fill-opacity="0.9" stroke="none"/></g>
<g fill="#ff0000"><circle cx="334.00" cy="193.00" r="0.5"/><circle cx="340.00" cy="196.00" r="0.5"/><circle cx="342.00" cy="195.50" r="0.5"/><circle cx="344.00" cy="196.00" r="0.5"/></g>
<g fill="none" stroke="#7222a0" stroke-width="0.6" transform="rotate(0 379.60 196.20)"><ellipse cx="379.60" cy="196.20" rx="6.27" ry="5.89" fill="#7222a0" fill-opacity="0.55" stroke="none"/><path d="M385.7,196.2C385.6,197.1 385.5,197.9 385.2,198.7C384.9,199.5 384.4,200.5 383.8,201.1C383.1,201.7 382.1,202.3 381.1,202.5C380.2,202.7 379.0,202.5 378.1,202.3C377.2,202.0 376.4,201.4 375.7,200.8C375.0,200.2 374.4,199.5 374.0,198.7C373.6,198.0 373.3,197.1 373.2,196.2C373.2,195.3 373.4,194.4 373.8,193.6C374.2,192.8 374.8,192.0 375.5,191.4C376.2,190.8 377.1,190.2 378.1,189.9C379.0,189.5 380.2,189.3 381.2,189.5C382.2,189.7 383.4,190.2 384.1,190.9C384.8,191.6 385.3,192.6 385.6,193.5C385.8,194.4 385.8,195.3 385.7,196.2Z"/><path d="M385.2,196.2C385.2,197.0 385.1,197.8 384.7,198.5C384.4,199.3 383.9,200.0 383.3,200.6C382.7,201.1 381.7,201.5 380.9,201.6C380.1,201.8 379.1,201.6 378.3,201.4C377.5,201.2 376.7,200.9 376.0,200.4C375.3,200.0 374.6,199.4 374.2,198.7C373.7,198.0 373.4,197.0 373.4,196.2C373.4,195.4 373.8,194.5 374.2,193.7C374.6,193.0 375.2,192.4 375.9,191.8C376.6,191.3 377.3,190.7 378.2,190.5C379.1,190.2 380.2,190.0 381.1,190.1C382.0,190.3 383.0,190.8 383.7,191.4C384.3,192.0 384.7,193.0 385.0,193.8C385.3,194.6 385.2,195.4 385.2,196.2Z"/><path d="M384.7,196.2C384.7,196.9 384.6,197.7 384.3,198.3C384.0,199.0 383.5,199.7 382.9,200.1C382.4,200.6 381.5,200.9 380.8,201.1C380.0,201.2 379.2,201.1 378.4,201.0C377.7,200.8 377.0,200.5 376.3,200.0C375.7,199.6 375.1,199.1 374.7,198.4C374.3,197.8 374.1,196.9 374.1,196.2C374.1,195.5 374.4,194.7 374.8,194.0C375.2,193.4 375.7,192.8 376.3,192.3C376.9,191.8 377.6,191.2 378.3,191.0C379.1,190.7 380.1,190.5 380.9,190.7C381.8,190.8 382.7,191.3 383.3,191.8C383.9,192.4 384.3,193.2 384.5,194.0C384.8,194.7 384.8,195.5 384.7,196.2Z"/><path d="M384.1,196.2C384.1,196.8 384.0,197.5 383.7,198.1C383.5,198.7 383.1,199.3 382.6,199.8C382.1,200.2 381.4,200.6 380.7,200.7C380.0,200.9 379.2,200.8 378.5,200.6C377.9,200.4 377.2,200.1 376.7,199.7C376.1,199.3 375.6,198.7 375.3,198.2C374.9,197.6 374.7,196.9 374.7,196.2C374.7,195.5 375.0,194.8 375.3,194.3C375.6,193.7 376.1,193.2 376.6,192.7C377.2,192.3 377.8,191.9 378.5,191.6C379.2,191.4 380.0,191.2 380.8,191.3C381.5,191.5 382.3,191.9 382.9,192.3C383.4,192.8 383.8,193.6 384.0,194.2C384.2,194.9 384.2,195.6 384.1,196.2Z"/><path d="M383.5,196.2C383.5,196.8 383.5,197.3 383.3,197.9C383.1,198.4 382.8,199.0 382.3,199.4C381.9,199.8 381.2,200.1 380.6,200.2C380.0,200.3 379.3,200.2 378.7,200.0C378.1,199.8 377.5,199.5 377.1,199.2C376.6,198.9 376.1,198.4 375.8,197.9C375.5,197.4 375.3,196.8 375.3,196.2C375.3,195.6 375.5,195.0 375.7,194.5C376.0,193.9 376.5,193.5 376.9,193.1C377.4,192.7 378.0,192.3 378.6,192.1C379.2,191.9 380.0,191.8 380.6,191.9C381.3,192.0 382.0,192.4 382.4,192.8C382.9,193.3 383.2,193.9 383.4,194.5C383.5,195.1 383.5,195.6 383.5,196.2Z"/><path d="M383.2,196.2C383.1,196.7 383.0,197.2 382.8,197.7C382.6,198.1 382.3,198.6 381.9,198.9C381.5,199.2 380.9,199.5 380.4,199.6C379.9,199.7 379.3,199.6 378.8,199.5C378.3,199.3 377.8,199.1 377.4,198.8C377.0,198.5 376.7,198.1 376.4,197.6C376.2,197.2 376.0,196.7 376.0,196.2C376.0,195.7 376.1,195.2 376.3,194.7C376.6,194.3 376.9,193.8 377.3,193.5C377.7,193.1 378.2,192.8 378.7,192.6C379.3,192.5 379.9,192.4 380.5,192.5C381.1,192.6 381.7,192.9 382.1,193.2C382.5,193.6 382.8,194.2 383.0,194.7C383.2,195.1 383.2,195.7 383.2,196.2Z"/><path d="M382.5,196.2C382.5,196.6 382.4,197.0 382.3,197.4C382.1,197.8 381.8,198.2 381.5,198.5C381.2,198.7 380.7,199.0 380.3,199.1C379.9,199.2 379.3,199.2 378.9,199.1C378.5,199.0 378.0,198.7 377.7,198.5C377.3,198.2 377.0,197.8 376.8,197.5C376.7,197.1 376.6,196.6 376.6,196.2C376.6,195.8 376.7,195.4 376.9,195.0C377.1,194.6 377.4,194.3 377.7,194.0C378.0,193.7 378.4,193.4 378.9,193.2C379.3,193.1 379.9,193.0 380.4,193.1C380.8,193.2 381.4,193.4 381.7,193.7C382.0,194.0 382.3,194.5 382.4,194.9C382.6,195.3 382.6,195.8 382.5,196.2Z"/><path d="M381.9,196.2C381.9,196.5 381.8,196.8 381.7,197.2C381.6,197.5 381.4,197.8 381.2,198.0C380.9,198.3 380.5,198.5 380.2,198.5C379.8,198.6 379.4,198.5 379.1,198.4C378.7,198.3 378.4,198.2 378.1,198.0C377.8,197.8 377.5,197.5 377.3,197.2C377.2,196.9 377.0,196.5 377.0,196.2C377.0,195.9 377.1,195.5 377.3,195.2C377.5,194.8 377.7,194.6 378.0,194.3C378.3,194.1 378.6,193.9 379.0,193.7C379.4,193.6 379.8,193.5 380.2,193.6C380.6,193.7 381.1,193.9 381.3,194.2C381.6,194.4 381.7,194.8 381.8,195.2C381.9,195.5 381.9,195.9 381.9,196.2Z"/><path d="M381.4,196.2C381.4,196.5 381.3,196.7 381.3,196.9C381.2,197.2 381.0,197.5 380.8,197.6C380.6,197.8 380.3,197.9 380.0,198.0C379.8,198.0 379.5,198.0 379.2,197.9C378.9,197.8 378.7,197.7 378.4,197.6C378.2,197.4 378.0,197.2 377.9,197.0C377.7,196.8 377.7,196.5 377.7,196.2C377.7,195.9 377.8,195.7 377.9,195.4C378.0,195.2 378.2,195.0 378.4,194.8C378.6,194.6 378.8,194.4 379.1,194.2C379.4,194.1 379.8,194.1 380.1,194.1C380.4,194.2 380.7,194.4 380.9,194.6C381.1,194.8 381.2,195.2 381.3,195.4C381.4,195.7 381.4,195.9 381.4,196.2Z"/><path d="M380.9,196.2C380.9,196.4 380.8,196.6 380.7,196.7C380.7,196.9 380.6,197.0 380.4,197.2C380.3,197.3 380.1,197.4 379.9,197.4C379.7,197.5 379.5,197.5 379.3,197.4C379.1,197.4 378.9,197.3 378.8,197.2C378.6,197.1 378.5,196.9 378.4,196.7C378.3,196.6 378.2,196.4 378.2,196.2C378.2,196.0 378.3,195.8 378.4,195.6C378.4,195.5 378.6,195.3 378.7,195.2C378.9,195.0 379.1,194.9 379.3,194.9C379.5,194.8 379.7,194.8 379.9,194.8C380.1,194.8 380.4,195.0 380.5,195.1C380.7,195.2 380.8,195.5 380.8,195.6C380.9,195.8 380.9,196.0 380.9,196.2Z"/><ellipse cx="379.60" cy="196.20" rx="0.66" ry="0.62" fill="#fff" fill-opacity="0.9" stroke="none"/></g>
<g fill="#7222a0"><circle cx="384.00" cy="183.00" r="0.5"/><circle cx="385.00" cy="185.00" r="0.5"/><circle cx="376.00" cy="186.00" r="0.5"/><circle cx="404.00" cy="183.00" r="0.5"/><circle cx="406.00" cy="194.00" r="0.5"/><circle cx="404.00" cy="192.00" r="0.5"/></g>
<g fill="none" stroke="#ff0000" stroke-width="0.45" transform="rotate(0 444.80 187.50)"><ellipse cx="444.80" cy="187.50" rx="6.27" ry="14.25" fill="#ff0000" fill-opacity="0.06" stroke="none"/><path d="M451.1,187.5C451.2,189.6 451.0,191.9 450.7,193.9C450.3,195.9 449.8,198.1 449.1,199.8C448.4,201.4 447.4,203.0 446.4,203.6C445.4,204.3 444.2,204.2 443.2,203.6C442.2,202.9 441.2,201.3 440.5,199.7C439.8,198.1 439.2,196.1 438.8,194.0C438.4,192.0 438.1,189.7 438.0,187.5C438.0,185.3 438.1,182.6 438.5,180.6C438.9,178.6 439.8,176.7 440.6,175.5C441.4,174.4 442.5,173.9 443.4,173.7C444.3,173.6 445.3,174.0 446.1,174.5C447.0,175.0 447.8,175.8 448.5,177.0C449.2,178.1 449.9,179.7 450.3,181.4C450.8,183.2 451.1,185.4 451.1,187.5Z"/><path d="M450.1,187.5C450.2,189.3 450.1,191.3 449.8,193.1C449.6,195.0 449.2,197.2 448.6,198.7C448.0,200.2 447.1,201.8 446.2,202.4C445.3,202.9 444.1,202.8 443.2,202.1C442.3,201.5 441.5,200.0 440.8,198.5C440.1,197.1 439.6,195.3 439.2,193.5C438.8,191.7 438.5,189.5 438.4,187.5C438.4,185.5 438.6,183.1 439.1,181.3C439.5,179.6 440.3,178.1 441.1,177.2C441.8,176.3 442.7,176.0 443.5,175.8C444.3,175.7 445.1,175.8 445.8,176.2C446.6,176.6 447.3,177.2 447.9,178.2C448.6,179.2 449.1,180.7 449.5,182.2C449.9,183.8 450.0,185.7 450.1,187.5Z"/><path d="M449.4,187.5C449.4,189.1 449.3,190.8 449.1,192.4C448.9,194.1 448.6,196.0 448.0,197.4C447.5,198.7 446.7,200.1 445.9,200.6C445.1,201.1 444.1,200.9 443.3,200.3C442.5,199.7 441.8,198.3 441.2,197.0C440.7,195.8 440.2,194.2 439.9,192.6C439.6,191.0 439.3,189.2 439.3,187.5C439.3,185.8 439.4,183.7 439.8,182.2C440.1,180.8 440.8,179.4 441.4,178.6C442.1,177.7 442.8,177.4 443.5,177.2C444.2,176.9 444.9,177.0 445.6,177.3C446.3,177.6 447.0,178.1 447.5,179.1C448.1,180.0 448.6,181.4 448.9,182.8C449.2,184.2 449.3,185.9 449.4,187.5Z"/><path d="M448.7,187.5C448.7,188.9 448.7,190.5 448.5,191.9C448.3,193.4 448.0,195.0 447.5,196.2C447.0,197.3 446.3,198.4 445.6,198.8C444.9,199.1 444.0,198.9 443.4,198.4C442.7,197.9 442.1,196.7 441.6,195.6C441.1,194.5 440.8,193.2 440.5,191.8C440.2,190.5 440.0,189.0 440.0,187.5C440.0,186.0 440.1,184.3 440.4,183.0C440.7,181.7 441.2,180.5 441.8,179.8C442.3,179.0 443.0,178.7 443.6,178.5C444.2,178.4 444.8,178.5 445.3,178.9C445.9,179.2 446.5,179.7 446.9,180.5C447.4,181.3 447.8,182.3 448.1,183.5C448.4,184.7 448.6,186.1 448.7,187.5Z"/><path d="M447.8,187.5C447.9,188.7 447.8,189.9 447.6,191.1C447.5,192.3 447.2,193.6 446.8,194.5C446.4,195.4 445.8,196.4 445.3,196.7C444.7,197.0 444.0,196.8 443.5,196.4C442.9,196.0 442.4,195.1 442.0,194.2C441.6,193.3 441.3,192.3 441.0,191.2C440.8,190.0 440.5,188.8 440.5,187.5C440.4,186.2 440.5,184.7 440.8,183.6C441.0,182.5 441.6,181.5 442.0,180.9C442.5,180.2 443.1,180.1 443.6,179.9C444.1,179.8 444.6,180.0 445.1,180.2C445.6,180.5 446.1,180.9 446.5,181.5C446.8,182.2 447.2,183.1 447.5,184.1C447.7,185.1 447.8,186.3 447.8,187.5Z"/><path d="M447.0,187.5C447.0,188.4 447.0,189.4 446.9,190.4C446.8,191.4 446.6,192.6 446.3,193.4C446.0,194.2 445.5,195.0 445.0,195.2C444.6,195.5 444.0,195.3 443.5,194.9C443.1,194.5 442.7,193.7 442.3,193.0C442.0,192.2 441.7,191.4 441.5,190.5C441.3,189.6 441.1,188.5 441.1,187.5C441.1,186.5 441.2,185.2 441.4,184.4C441.6,183.5 442.0,182.7 442.4,182.2C442.8,181.8 443.3,181.7 443.7,181.6C444.1,181.5 444.4,181.7 444.8,181.9C445.2,182.1 445.5,182.5 445.8,183.0C446.1,183.5 446.4,184.2 446.6,184.9C446.8,185.7 446.9,186.6 447.0,187.5Z"/><path d="M446.3,187.5C446.3,188.2 446.3,189.0 446.2,189.8C446.1,190.5 445.9,191.3 445.7,191.9C445.4,192.4 445.1,193.0 444.7,193.1C444.4,193.3 443.9,193.2 443.6,192.9C443.3,192.6 443.0,192.0 442.7,191.5C442.5,190.9 442.3,190.3 442.2,189.6C442.1,189.0 442.0,188.2 441.9,187.5C441.9,186.8 441.9,185.9 442.1,185.2C442.2,184.6 442.5,183.9 442.7,183.5C443.0,183.1 443.3,182.8 443.7,182.7C444.0,182.6 444.3,182.7 444.6,182.9C444.9,183.1 445.2,183.4 445.4,183.8C445.7,184.2 445.9,184.8 446.0,185.4C446.2,186.0 446.3,186.8 446.3,187.5Z"/><path d="M445.4,187.5C445.5,188.0 445.5,188.5 445.4,189.0C445.3,189.5 445.2,190.0 445.1,190.4C444.9,190.8 444.6,191.2 444.4,191.3C444.2,191.4 443.9,191.4 443.7,191.2C443.4,191.1 443.2,190.7 443.0,190.4C442.8,190.0 442.7,189.5 442.6,189.1C442.5,188.6 442.4,188.0 442.4,187.5C442.4,187.0 442.5,186.4 442.6,185.9C442.7,185.5 442.9,185.1 443.1,184.9C443.3,184.6 443.5,184.5 443.7,184.5C443.9,184.4 444.1,184.5 444.3,184.6C444.5,184.7 444.7,184.9 444.9,185.1C445.0,185.4 445.2,185.8 445.3,186.2C445.4,186.5 445.4,187.0 445.4,187.5Z"/><ellipse cx="443.90" cy="187.50" rx="0.66" ry="1.50" fill="#fff" fill-opacity="0.9" stroke="none"/></g>
<g fill="none" stroke="#ff0000" stroke-width="0.55" transform="rotate(0 466.40 181.00)"><ellipse cx="466.40" cy="181.00" rx="7.79" ry="13.49" fill="#ff0000" fill-opacity="0.22" stroke="none"/><path d="M474.4,181.0C474.5,183.1 474.6,185.4 474.2,187.5C473.9,189.7 473.3,192.3 472.3,193.9C471.4,195.5 469.9,196.9 468.5,197.3C467.2,197.6 465.6,196.9 464.4,196.0C463.3,195.0 462.3,193.1 461.5,191.5C460.8,189.9 460.3,188.2 459.9,186.4C459.5,184.6 459.2,182.9 459.1,181.0C459.1,179.1 459.2,177.1 459.5,175.3C459.9,173.5 460.6,171.6 461.5,170.3C462.3,168.9 463.5,167.8 464.6,167.2C465.7,166.7 467.1,166.6 468.2,167.1C469.4,167.5 470.6,168.7 471.5,170.0C472.3,171.4 473.0,173.3 473.5,175.1C474.0,176.9 474.3,178.9 474.4,181.0Z"/><path d="M473.3,181.0C473.4,182.8 473.4,184.7 473.1,186.6C472.8,188.5 472.5,190.9 471.7,192.5C470.9,194.2 469.6,195.9 468.4,196.5C467.2,197.0 465.6,196.5 464.5,195.6C463.4,194.7 462.4,192.6 461.8,191.0C461.2,189.4 460.9,187.5 460.6,185.8C460.3,184.2 460.1,182.7 460.1,181.0C460.0,179.3 459.9,177.5 460.2,175.8C460.5,174.1 461.0,172.2 461.7,170.8C462.4,169.4 463.5,168.1 464.6,167.5C465.7,166.9 467.1,166.8 468.2,167.3C469.3,167.8 470.5,169.0 471.3,170.4C472.1,171.8 472.6,173.8 472.9,175.6C473.2,177.3 473.3,179.2 473.3,181.0Z"/><path d="M473.1,181.0C473.1,182.7 473.0,184.5 472.7,186.3C472.4,188.0 471.9,190.0 471.1,191.3C470.4,192.6 469.2,193.9 468.1,194.3C467.1,194.6 465.7,194.3 464.7,193.6C463.8,192.9 462.9,191.4 462.2,190.1C461.6,188.8 461.1,187.2 460.8,185.7C460.5,184.2 460.2,182.6 460.2,181.0C460.1,179.4 460.1,177.6 460.4,176.0C460.8,174.4 461.3,172.7 462.0,171.5C462.7,170.3 463.8,169.2 464.8,168.7C465.8,168.2 467.0,168.1 468.0,168.6C469.1,169.0 470.1,170.1 470.9,171.3C471.6,172.5 472.2,174.3 472.5,175.9C472.9,177.5 473.0,179.3 473.1,181.0Z"/><path d="M472.4,181.0C472.5,182.6 472.5,184.2 472.3,185.9C472.0,187.5 471.6,189.5 470.9,190.8C470.2,192.2 469.1,193.5 468.1,193.9C467.1,194.3 465.7,193.9 464.8,193.1C463.9,192.4 463.1,190.7 462.5,189.4C462.0,188.1 461.7,186.5 461.5,185.1C461.2,183.7 461.1,182.4 461.0,181.0C461.0,179.6 460.9,178.0 461.1,176.6C461.4,175.2 461.8,173.5 462.4,172.4C463.1,171.2 464.0,170.2 464.9,169.7C465.8,169.3 467.0,169.3 467.9,169.8C468.8,170.2 469.7,171.3 470.4,172.4C471.0,173.5 471.5,175.0 471.8,176.5C472.2,177.9 472.3,179.4 472.4,181.0Z"/><path d="M472.2,181.0C472.2,182.5 472.2,184.1 471.9,185.6C471.6,187.1 471.2,188.8 470.5,189.9C469.8,191.1 468.8,192.1 467.9,192.4C467.0,192.7 465.8,192.3 465.0,191.6C464.2,190.9 463.5,189.6 463.0,188.4C462.5,187.3 462.2,186.0 461.9,184.7C461.7,183.5 461.5,182.3 461.5,181.0C461.4,179.7 461.4,178.3 461.7,177.1C461.9,175.8 462.3,174.4 462.9,173.4C463.5,172.4 464.3,171.6 465.1,171.2C465.9,170.8 466.9,170.7 467.7,171.0C468.5,171.3 469.4,172.1 470.1,173.1C470.7,174.0 471.2,175.4 471.6,176.7C471.9,178.0 472.1,179.5 472.2,181.0Z"/><path d="M471.5,181.0C471.5,182.3 471.4,183.7 471.2,185.0C471.0,186.3 470.6,187.9 470.1,188.9C469.5,190.0 468.6,191.1 467.8,191.4C466.9,191.7 465.9,191.4 465.1,190.9C464.3,190.3 463.7,188.9 463.3,187.8C462.8,186.7 462.6,185.4 462.5,184.3C462.3,183.1 462.2,182.1 462.2,181.0C462.2,179.9 462.1,178.7 462.3,177.6C462.5,176.5 462.8,175.2 463.3,174.3C463.8,173.3 464.5,172.4 465.2,172.0C465.9,171.6 466.9,171.5 467.6,171.8C468.4,172.0 469.2,172.8 469.8,173.7C470.3,174.6 470.8,175.9 471.0,177.1C471.3,178.3 471.4,179.7 471.5,181.0Z"/><path d="M471.1,181.0C471.1,182.2 471.0,183.5 470.7,184.6C470.5,185.8 470.1,187.1 469.6,187.9C469.0,188.7 468.3,189.5 467.5,189.7C466.8,189.9 466.0,189.5 465.3,189.0C464.7,188.5 464.2,187.5 463.8,186.7C463.4,185.9 463.1,184.9 462.9,184.0C462.6,183.0 462.4,182.0 462.3,181.0C462.3,180.0 462.3,178.7 462.5,177.7C462.7,176.7 463.1,175.6 463.6,174.9C464.1,174.1 464.7,173.5 465.4,173.2C466.0,172.9 466.8,172.9 467.4,173.1C468.1,173.3 468.8,173.9 469.3,174.6C469.9,175.3 470.3,176.4 470.6,177.5C470.9,178.5 471.0,179.8 471.1,181.0Z"/><path d="M470.2,181.0C470.3,182.0 470.3,183.1 470.1,184.1C469.9,185.1 469.6,186.2 469.2,187.0C468.7,187.8 468.0,188.5 467.4,188.8C466.8,189.0 466.0,188.8 465.4,188.4C464.9,187.9 464.3,187.0 464.0,186.3C463.6,185.5 463.4,184.5 463.2,183.7C463.0,182.8 462.9,181.9 462.9,181.0C462.8,180.1 462.8,179.1 463.0,178.2C463.2,177.3 463.5,176.3 463.9,175.6C464.3,174.9 464.9,174.4 465.5,174.2C466.1,173.9 466.7,174.0 467.3,174.2C467.9,174.5 468.4,175.0 468.8,175.7C469.3,176.3 469.6,177.2 469.8,178.1C470.1,179.0 470.2,180.0 470.2,181.0Z"/><path d="M469.5,181.0C469.6,181.8 469.6,182.7 469.5,183.5C469.3,184.4 469.1,185.4 468.8,186.1C468.4,186.8 467.8,187.5 467.3,187.7C466.7,187.9 466.1,187.6 465.6,187.2C465.1,186.9 464.7,186.1 464.4,185.4C464.1,184.7 463.9,184.0 463.7,183.3C463.5,182.5 463.4,181.8 463.4,181.0C463.3,180.2 463.3,179.3 463.5,178.6C463.7,177.8 463.9,177.0 464.3,176.4C464.6,175.8 465.1,175.3 465.6,175.1C466.1,174.9 466.7,174.9 467.2,175.1C467.7,175.3 468.2,175.8 468.5,176.4C468.9,177.0 469.1,177.8 469.3,178.6C469.5,179.4 469.5,180.2 469.5,181.0Z"/><path d="M469.0,181.0C469.1,181.7 469.1,182.4 469.0,183.2C468.9,183.9 468.7,184.8 468.4,185.4C468.1,186.0 467.6,186.6 467.2,186.7C466.7,186.9 466.1,186.7 465.7,186.4C465.3,186.0 464.9,185.3 464.7,184.7C464.4,184.1 464.3,183.4 464.2,182.8C464.1,182.2 464.1,181.6 464.1,181.0C464.1,180.4 464.0,179.7 464.1,179.1C464.3,178.5 464.4,177.8 464.7,177.3C465.0,176.8 465.4,176.4 465.8,176.2C466.2,176.0 466.6,176.0 467.0,176.2C467.4,176.4 467.8,176.8 468.1,177.3C468.4,177.8 468.6,178.4 468.8,179.0C468.9,179.7 469.0,180.3 469.0,181.0Z"/><path d="M468.5,181.0C468.5,181.5 468.5,182.1 468.4,182.7C468.3,183.2 468.2,183.9 467.9,184.3C467.7,184.7 467.3,185.2 467.0,185.3C466.6,185.4 466.2,185.2 465.9,185.0C465.6,184.8 465.3,184.3 465.1,183.8C464.9,183.4 464.7,183.0 464.6,182.5C464.5,182.0 464.4,181.5 464.4,181.0C464.4,180.5 464.4,179.9 464.5,179.4C464.6,179.0 464.8,178.5 465.1,178.1C465.3,177.8 465.6,177.5 465.9,177.3C466.2,177.2 466.6,177.1 466.9,177.2C467.2,177.4 467.5,177.6 467.8,178.0C468.0,178.4 468.2,178.9 468.3,179.4C468.4,179.9 468.5,180.5 468.5,181.0Z"/><path d="M468.0,181.0C468.0,181.4 468.0,181.8 467.9,182.2C467.8,182.6 467.7,183.1 467.5,183.3C467.3,183.6 467.0,183.9 466.8,184.0C466.6,184.1 466.3,183.9 466.0,183.8C465.8,183.6 465.6,183.2 465.5,183.0C465.4,182.7 465.3,182.3 465.2,182.0C465.1,181.7 465.0,181.4 465.0,181.0C465.0,180.6 464.9,180.2 465.0,179.8C465.1,179.5 465.2,179.1 465.4,178.9C465.6,178.6 465.8,178.4 466.0,178.3C466.3,178.2 466.5,178.2 466.8,178.3C467.0,178.4 467.2,178.5 467.4,178.8C467.6,179.0 467.8,179.4 467.9,179.8C468.0,180.1 468.0,180.6 468.0,181.0Z"/><ellipse cx="466.40" cy="181.00" rx="0.82" ry="1.42" fill="#fff" fill-opacity="0.9" stroke="none"/></g>
<g fill="#ff0000"><circle cx="437.00" cy="176.00" r="0.55"/><circle cx="438.00" cy="190.00" r="0.55"/><circle cx="440.00" cy="200.00" r="0.55"/><circle cx="452.00" cy="168.00" r="0.55"/><circle cx="455.00" cy="175.00" r="0.55"/><circle cx="456.00" cy="188.00" r="0.55"/><circle cx="459.00" cy="193.00" r="0.55"/><circle cx="462.00" cy="197.00" r="0.55"/><circle cx="470.00" cy="170.00" r="0.55"/><circle cx="474.00" cy="172.00" r="0.55"/><circle cx="476.00" cy="185.00" r="0.55"/><circle cx="450.00" cy="195.00" r="0.55"/><circle cx="436.00" cy="183.00" r="0.55"/><circle cx="449.00" cy="172.00" r="0.55"/><circle cx="453.00" cy="200.00" r="0.55"/><circle cx="457.00" cy="181.00" r="0.55"/><circle cx="473.00" cy="198.00" r="0.55"/><circle cx="477.00" cy="190.00" r="0.55"/><circle cx="447.00" cy="166.00" r="0.55"/><circle cx="458.00" cy="170.00" r="0.55"/><circle cx="462.00" cy="166.00" r="0.55"/><circle cx="475.00" cy="178.00" r="0.55"/></g>
<circle cx="538.60" cy="11.50" r="1.3" fill="none" stroke="#000" stroke-width="0.55" />
<text transform="translate(544.60,14.30) scale(1,1.07)" font-size="7.80" text-anchor="start" fill="#000" stroke="#000" stroke-width="0.07" >PBS</text>
<circle cx="589.40" cy="11.50" r="1.1" fill="#7222a0" stroke="none" stroke-width="0.6" />
<text transform="translate(594.90,14.30) scale(1,1.07)" font-size="7.80" text-anchor="start" fill="#000" stroke="#000" stroke-width="0.07" >TGM1</text>
<circle cx="538.60" cy="24.80" r="1.3" fill="none" stroke="#ff0000" stroke-width="0.55" />
<text transform="translate(544.10,28.10) scale(1,1.07)" font-size="7.60" text-anchor="start" fill="#000" stroke="#000" stroke-width="0.07" >IL-2(WT)</text>
<circle cx="589.40" cy="24.80" r="1.1" fill="#ff0000" stroke="none" stroke-width="0.6" />
<text transform="translate(594.80,28.10) scale(1,1.07)" font-size="7.65" text-anchor="start" fill="#000" stroke="#000" stroke-width="0.07" >TGM1–IL-2(WT)</text>
<line x1="527.60" y1="60.90" x2="527.60" y2="128.60" stroke="#444" stroke-width="0.65" />
<line x1="524.10" y1="128.60" x2="527.60" y2="128.60" stroke="#000" stroke-width="0.55" />
<text transform="translate(521.10,131.55) scale(1,1.1)" font-size="7.70" text-anchor="end" fill="#000" stroke="#000" stroke-width="0.07" >0</text>
<line x1="524.10" y1="115.06" x2="527.60" y2="115.06" stroke="#000" stroke-width="0.55" />
<text transform="translate(521.10,118.01) scale(1,1.1)" font-size="7.70" text-anchor="end" fill="#000" stroke="#000" stroke-width="0.07" >20</text>
<line x1="524.10" y1="101.52" x2="527.60" y2="101.52" stroke="#000" stroke-width="0.55" />
<text transform="translate(521.10,104.47) scale(1,1.1)" font-size="7.70" text-anchor="end" fill="#000" stroke="#000" stroke-width="0.07" >40</text>
<line x1="524.10" y1="87.98" x2="527.60" y2="87.98" stroke="#000" stroke-width="0.55" />
<text transform="translate(521.10,90.93) scale(1,1.1)" font-size="7.70" text-anchor="end" fill="#000" stroke="#000" stroke-width="0.07" >60</text>
<line x1="524.10" y1="74.44" x2="527.60" y2="74.44" stroke="#000" stroke-width="0.55" />
<text transform="translate(521.10,77.39) scale(1,1.1)" font-size="7.70" text-anchor="end" fill="#000" stroke="#000" stroke-width="0.07" >80</text>
<line x1="524.10" y1="60.90" x2="527.60" y2="60.90" stroke="#000" stroke-width="0.55" />
<text transform="translate(521.10,63.85) scale(1,1.1)" font-size="7.70" text-anchor="end" fill="#000" stroke="#000" stroke-width="0.07" >100</text>
<line x1="581.10" y1="60.90" x2="581.10" y2="128.60" stroke="#444" stroke-width="0.65" />
<line x1="577.60" y1="128.60" x2="581.10" y2="128.60" stroke="#000" stroke-width="0.55" />
<line x1="577.60" y1="115.06" x2="581.10" y2="115.06" stroke="#000" stroke-width="0.55" />
<line x1="577.60" y1="101.52" x2="581.10" y2="101.52" stroke="#000" stroke-width="0.55" />
<line x1="577.60" y1="87.98" x2="581.10" y2="87.98" stroke="#000" stroke-width="0.55" />
<line x1="577.60" y1="74.44" x2="581.10" y2="74.44" stroke="#000" stroke-width="0.55" />
<line x1="577.60" y1="60.90" x2="581.10" y2="60.90" stroke="#000" stroke-width="0.55" />
<line x1="634.60" y1="60.90" x2="634.60" y2="128.60" stroke="#444" stroke-width="0.65" />
<line x1="631.10" y1="128.60" x2="634.60" y2="128.60" stroke="#000" stroke-width="0.55" />
<line x1="631.10" y1="115.06" x2="634.60" y2="115.06" stroke="#000" stroke-width="0.55" />
<line x1="631.10" y1="101.52" x2="634.60" y2="101.52" stroke="#000" stroke-width="0.55" />
<line x1="631.10" y1="87.98" x2="634.60" y2="87.98" stroke="#000" stroke-width="0.55" />
<line x1="631.10" y1="74.44" x2="634.60" y2="74.44" stroke="#000" stroke-width="0.55" />
<line x1="631.10" y1="60.90" x2="634.60" y2="60.90" stroke="#000" stroke-width="0.55" />
<text x="0.00" y="0.00" font-size="7.80" text-anchor="middle" fill="#000" stroke="#000" stroke-width="0.07" transform="translate(502.6,94.5) rotate(-90) scale(1,1.07)">FOXP3<tspan font-size="4.4" dx="0.35" dy="-3.3">+</tspan><tspan dx="0.5" dy="3.3"> (%)</tspan></text>
<text x="0.00" y="0.00" font-size="7.80" text-anchor="middle" fill="#000" stroke="#000" stroke-width="0.07" transform="translate(505.2,180) rotate(-90) scale(1,1.07)">RORγt<tspan font-size="4.4" dx="0.35" dy="-3.3">+</tspan><tspan dx="0.5" dy="3.3">FOXP3</tspan><tspan font-size="4.4" dx="0.35" dy="-3.3">+</tspan><tspan dx="0.5" dy="3.3"> (%)</tspan></text>
<text transform="translate(553.20,49.80) scale(1,1.07)" font-size="7.80" text-anchor="middle" fill="#000" stroke="#000" stroke-width="0.07" >mLN</text>
<text transform="translate(606.70,49.80) scale(1,1.07)" font-size="7.80" text-anchor="middle" fill="#000" stroke="#000" stroke-width="0.07" >ILN</text>
<text transform="translate(660.20,49.80) scale(1,1.07)" font-size="7.80" text-anchor="middle" fill="#000" stroke="#000" stroke-width="0.07" >SPL</text>
<line x1="527.60" y1="128.60" x2="577.10" y2="128.60" stroke="#444" stroke-width="0.65" />
<line x1="535.60" y1="128.60" x2="535.60" y2="130.60" stroke="#444" stroke-width="0.6" />
<line x1="547.30" y1="128.60" x2="547.30" y2="130.60" stroke="#444" stroke-width="0.6" />
<line x1="559.10" y1="128.60" x2="559.10" y2="130.60" stroke="#444" stroke-width="0.6" />
<line x1="570.80" y1="128.60" x2="570.80" y2="130.60" stroke="#444" stroke-width="0.6" />
<line x1="528.10" y1="126.23" x2="577.60" y2="126.23" stroke="#777" stroke-width="0.5" stroke-dasharray="2.2,1.3"/>
<rect x="531.60" y="126.57" width="8.00" height="2.03" fill="#fff" stroke="#555" stroke-width="0.6" />
<g fill="none" stroke="#000" stroke-width="0.6"><circle cx="535.60" cy="121.15" r="1.3"/><circle cx="531.85" cy="124.54" r="1.3"/><circle cx="532.79" cy="125.89" r="1.3"/><circle cx="533.73" cy="126.57" r="1.3"/><circle cx="534.66" cy="127.25" r="1.3"/><circle cx="535.60" cy="127.25" r="1.3"/><circle cx="536.54" cy="127.92" r="1.3"/><circle cx="537.48" cy="128.60" r="1.3"/><circle cx="538.41" cy="128.60" r="1.3"/><circle cx="539.35" cy="128.60" r="1.3"/></g>
<line x1="535.60" y1="127.25" x2="535.60" y2="125.89" stroke="#000" stroke-width="0.6" />
<line x1="534.00" y1="127.25" x2="537.20" y2="127.25" stroke="#000" stroke-width="0.6" />
<line x1="534.00" y1="125.89" x2="537.20" y2="125.89" stroke="#000" stroke-width="0.6" />
<rect x="543.30" y="119.80" width="8.00" height="8.80" fill="#fff" stroke="#555" stroke-width="0.6" />
<g fill="none" stroke="#f03838" stroke-width="0.6"><circle cx="547.30" cy="113.03" r="1.3"/><circle cx="543.55" cy="117.77" r="1.3"/><circle cx="545.43" cy="118.44" r="1.3"/><circle cx="547.30" cy="119.12" r="1.3"/><circle cx="549.18" cy="119.80" r="1.3"/><circle cx="551.05" cy="121.15" r="1.3"/><circle cx="547.30" cy="128.60" r="1.3"/></g>
<line x1="547.30" y1="121.83" x2="547.30" y2="117.77" stroke="#000" stroke-width="0.6" />
<line x1="545.70" y1="121.83" x2="548.90" y2="121.83" stroke="#000" stroke-width="0.6" />
<line x1="545.70" y1="117.77" x2="548.90" y2="117.77" stroke="#000" stroke-width="0.6" />
<rect x="555.10" y="126.57" width="8.00" height="2.03" fill="#fff" stroke="#555" stroke-width="0.6" />
<g fill="#7222a0"><circle cx="559.10" cy="118.44" r="1.25"/><circle cx="559.10" cy="124.54" r="1.25"/><circle cx="555.35" cy="127.25" r="1.25"/><circle cx="556.85" cy="127.92" r="1.25"/><circle cx="558.35" cy="128.60" r="1.25"/><circle cx="559.85" cy="128.60" r="1.25"/><circle cx="561.35" cy="128.60" r="1.25"/><circle cx="562.85" cy="128.60" r="1.25"/></g>
<line x1="559.10" y1="127.92" x2="559.10" y2="125.21" stroke="#000" stroke-width="0.6" />
<line x1="557.50" y1="127.92" x2="560.70" y2="127.92" stroke="#000" stroke-width="0.6" />
<line x1="557.50" y1="125.21" x2="560.70" y2="125.21" stroke="#000" stroke-width="0.6" />
<rect x="566.80" y="89.67" width="8.00" height="38.93" fill="#fff" stroke="#555" stroke-width="0.6" />
<g fill="#ff0000"><circle cx="570.80" cy="67.67" r="1.25"/><circle cx="567.05" cy="87.30" r="1.25"/><circle cx="568.93" cy="87.98" r="1.25"/><circle cx="570.80" cy="87.98" r="1.25"/><circle cx="572.68" cy="88.66" r="1.25"/><circle cx="574.55" cy="88.66" r="1.25"/><circle cx="570.80" cy="92.72" r="1.25"/><circle cx="570.80" cy="116.41" r="1.25"/></g>
<line x1="570.80" y1="94.41" x2="570.80" y2="84.93" stroke="#000" stroke-width="0.6" />
<line x1="569.20" y1="94.41" x2="572.40" y2="94.41" stroke="#000" stroke-width="0.6" />
<line x1="569.20" y1="84.93" x2="572.40" y2="84.93" stroke="#000" stroke-width="0.6" />
<line x1="535.60" y1="59.10" x2="570.80" y2="59.10" stroke="#aaa" stroke-width="1.3" />
<text transform="translate(553.20,60.20) scale(1,1.07)" font-size="9.00" text-anchor="middle" fill="#000" stroke="#000" stroke-width="0.25">****</text>
<line x1="581.10" y1="128.60" x2="630.60" y2="128.60" stroke="#444" stroke-width="0.65" />
<line x1="589.10" y1="128.60" x2="589.10" y2="130.60" stroke="#444" stroke-width="0.6" />
<line x1="600.80" y1="128.60" x2="600.80" y2="130.60" stroke="#444" stroke-width="0.6" />
<line x1="612.60" y1="128.60" x2="612.60" y2="130.60" stroke="#444" stroke-width="0.6" />
<line x1="624.30" y1="128.60" x2="624.30" y2="130.60" stroke="#444" stroke-width="0.6" />
<line x1="581.60" y1="124.88" x2="631.10" y2="124.88" stroke="#777" stroke-width="0.5" stroke-dasharray="2.2,1.3"/>
<rect x="585.10" y="124.20" width="8.00" height="4.40" fill="#fff" stroke="#555" stroke-width="0.6" />
<g fill="none" stroke="#000" stroke-width="0.6"><circle cx="589.10" cy="119.80" r="1.3"/><circle cx="585.35" cy="121.83" r="1.3"/><circle cx="586.42" cy="123.18" r="1.3"/><circle cx="587.49" cy="124.54" r="1.3"/><circle cx="588.56" cy="125.21" r="1.3"/><circle cx="589.64" cy="126.57" r="1.3"/><circle cx="590.71" cy="127.25" r="1.3"/><circle cx="591.78" cy="127.92" r="1.3"/><circle cx="592.85" cy="128.60" r="1.3"/></g>
<line x1="589.10" y1="125.55" x2="589.10" y2="122.85" stroke="#000" stroke-width="0.6" />
<line x1="587.50" y1="125.55" x2="590.70" y2="125.55" stroke="#000" stroke-width="0.6" />
<line x1="587.50" y1="122.85" x2="590.70" y2="122.85" stroke="#000" stroke-width="0.6" />
<rect x="596.80" y="128.26" width="8.00" height="0.34" fill="#fff" stroke="#555" stroke-width="0.6" />
<g fill="none" stroke="#f03838" stroke-width="0.6"><circle cx="600.80" cy="125.89" r="1.3"/><circle cx="597.05" cy="127.92" r="1.3"/><circle cx="598.93" cy="128.60" r="1.3"/><circle cx="600.80" cy="128.60" r="1.3"/><circle cx="602.68" cy="128.60" r="1.3"/><circle cx="604.55" cy="128.60" r="1.3"/></g>
<line x1="600.80" y1="128.60" x2="600.80" y2="127.92" stroke="#000" stroke-width="0.6" />
<line x1="599.20" y1="128.60" x2="602.40" y2="128.60" stroke="#000" stroke-width="0.6" />
<line x1="599.20" y1="127.92" x2="602.40" y2="127.92" stroke="#000" stroke-width="0.6" />
<rect x="608.60" y="122.51" width="8.00" height="6.09" fill="#fff" stroke="#555" stroke-width="0.6" />
<g fill="#7222a0"><circle cx="612.60" cy="111.67" r="1.25"/><circle cx="612.60" cy="117.77" r="1.25"/><circle cx="612.60" cy="121.83" r="1.25"/><circle cx="608.85" cy="128.60" r="1.25"/><circle cx="611.35" cy="128.60" r="1.25"/><circle cx="613.85" cy="128.60" r="1.25"/><circle cx="616.35" cy="128.60" r="1.25"/></g>
<line x1="612.60" y1="125.89" x2="612.60" y2="119.12" stroke="#000" stroke-width="0.6" />
<line x1="611.00" y1="125.89" x2="614.20" y2="125.89" stroke="#000" stroke-width="0.6" />
<line x1="611.00" y1="119.12" x2="614.20" y2="119.12" stroke="#000" stroke-width="0.6" />
<rect x="620.30" y="79.86" width="8.00" height="48.74" fill="#fff" stroke="#555" stroke-width="0.6" />
<g fill="#ff0000"><circle cx="620.55" cy="71.73" r="1.25"/><circle cx="622.43" cy="73.09" r="1.25"/><circle cx="624.30" cy="73.76" r="1.25"/><circle cx="626.18" cy="74.44" r="1.25"/><circle cx="628.05" cy="75.12" r="1.25"/><circle cx="624.30" cy="80.53" r="1.25"/><circle cx="624.30" cy="92.04" r="1.25"/><circle cx="624.30" cy="94.75" r="1.25"/></g>
<line x1="624.30" y1="82.56" x2="624.30" y2="77.15" stroke="#000" stroke-width="0.6" />
<line x1="622.70" y1="82.56" x2="625.90" y2="82.56" stroke="#000" stroke-width="0.6" />
<line x1="622.70" y1="77.15" x2="625.90" y2="77.15" stroke="#000" stroke-width="0.6" />
<line x1="589.10" y1="59.30" x2="624.30" y2="59.30" stroke="#000" stroke-width="0.6" />
<text transform="translate(606.70,60.20) scale(1,1.07)" font-size="9.00" text-anchor="middle" fill="#000" stroke="#000" stroke-width="0.25">****</text>
<line x1="634.60" y1="128.60" x2="684.10" y2="128.60" stroke="#444" stroke-width="0.65" />
<line x1="642.60" y1="128.60" x2="642.60" y2="130.60" stroke="#444" stroke-width="0.6" />
<line x1="654.30" y1="128.60" x2="654.30" y2="130.60" stroke="#444" stroke-width="0.6" />
<line x1="666.10" y1="128.60" x2="666.10" y2="130.60" stroke="#444" stroke-width="0.6" />
<line x1="677.80" y1="128.60" x2="677.80" y2="130.60" stroke="#444" stroke-width="0.6" />
<line x1="635.10" y1="125.55" x2="684.60" y2="125.55" stroke="#777" stroke-width="0.5" stroke-dasharray="2.2,1.3"/>
<rect x="638.60" y="125.89" width="8.00" height="2.71" fill="#fff" stroke="#555" stroke-width="0.6" />
<g fill="none" stroke="#000" stroke-width="0.6"><circle cx="642.60" cy="123.18" r="1.3"/><circle cx="638.85" cy="125.21" r="1.3"/><circle cx="640.10" cy="125.89" r="1.3"/><circle cx="641.35" cy="126.57" r="1.3"/><circle cx="642.60" cy="127.25" r="1.3"/><circle cx="643.85" cy="127.92" r="1.3"/><circle cx="645.10" cy="127.92" r="1.3"/><circle cx="646.35" cy="128.60" r="1.3"/></g>
<line x1="642.60" y1="126.57" x2="642.60" y2="125.21" stroke="#000" stroke-width="0.6" />
<line x1="641.00" y1="126.57" x2="644.20" y2="126.57" stroke="#000" stroke-width="0.6" />
<line x1="641.00" y1="125.21" x2="644.20" y2="125.21" stroke="#000" stroke-width="0.6" />
<rect x="650.30" y="120.68" width="8.00" height="7.92" fill="#fff" stroke="#555" stroke-width="0.6" />
<g fill="none" stroke="#f03838" stroke-width="0.6"><circle cx="650.55" cy="118.44" r="1.3"/><circle cx="652.43" cy="118.44" r="1.3"/><circle cx="654.30" cy="119.80" r="1.3"/><circle cx="656.18" cy="120.48" r="1.3"/><circle cx="658.05" cy="121.83" r="1.3"/><circle cx="654.30" cy="125.21" r="1.3"/><circle cx="654.30" cy="127.25" r="1.3"/></g>
<line x1="654.30" y1="122.71" x2="654.30" y2="118.65" stroke="#000" stroke-width="0.6" />
<line x1="652.70" y1="122.71" x2="655.90" y2="122.71" stroke="#000" stroke-width="0.6" />
<line x1="652.70" y1="118.65" x2="655.90" y2="118.65" stroke="#000" stroke-width="0.6" />
<rect x="662.10" y="125.55" width="8.00" height="3.05" fill="#fff" stroke="#555" stroke-width="0.6" />
<g fill="#7222a0"><circle cx="662.35" cy="125.21" r="1.25"/><circle cx="663.85" cy="125.21" r="1.25"/><circle cx="665.35" cy="125.89" r="1.25"/><circle cx="666.85" cy="125.89" r="1.25"/><circle cx="668.35" cy="125.89" r="1.25"/><circle cx="669.85" cy="126.57" r="1.25"/></g>
<line x1="666.10" y1="126.23" x2="666.10" y2="124.88" stroke="#000" stroke-width="0.6" />
<line x1="664.50" y1="126.23" x2="667.70" y2="126.23" stroke="#000" stroke-width="0.6" />
<line x1="664.50" y1="124.88" x2="667.70" y2="124.88" stroke="#000" stroke-width="0.6" />
<rect x="673.80" y="83.24" width="8.00" height="45.36" fill="#fff" stroke="#555" stroke-width="0.6" />
<g fill="#ff0000"><circle cx="677.80" cy="70.38" r="1.25"/><circle cx="674.05" cy="81.21" r="1.25"/><circle cx="675.93" cy="81.89" r="1.25"/><circle cx="677.80" cy="82.56" r="1.25"/><circle cx="679.68" cy="83.24" r="1.25"/><circle cx="681.55" cy="83.92" r="1.25"/><circle cx="677.80" cy="87.30" r="1.25"/><circle cx="677.80" cy="93.40" r="1.25"/></g>
<line x1="677.80" y1="85.95" x2="677.80" y2="80.53" stroke="#000" stroke-width="0.6" />
<line x1="676.20" y1="85.95" x2="679.40" y2="85.95" stroke="#000" stroke-width="0.6" />
<line x1="676.20" y1="80.53" x2="679.40" y2="80.53" stroke="#000" stroke-width="0.6" />
<line x1="642.60" y1="59.30" x2="677.80" y2="59.30" stroke="#000" stroke-width="0.6" />
<text transform="translate(660.20,60.20) scale(1,1.07)" font-size="9.00" text-anchor="middle" fill="#000" stroke="#000" stroke-width="0.25">****</text>
<line x1="527.60" y1="146.50" x2="527.60" y2="213.90" stroke="#444" stroke-width="0.65" />
<line x1="524.10" y1="213.90" x2="527.60" y2="213.90" stroke="#000" stroke-width="0.55" />
<text transform="translate(521.10,216.85) scale(1,1.1)" font-size="7.70" text-anchor="end" fill="#000" stroke="#000" stroke-width="0.07" >0</text>
<line x1="524.10" y1="197.05" x2="527.60" y2="197.05" stroke="#000" stroke-width="0.55" />
<text transform="translate(521.10,200.00) scale(1,1.1)" font-size="7.70" text-anchor="end" fill="#000" stroke="#000" stroke-width="0.07" >20</text>
<line x1="524.10" y1="180.20" x2="527.60" y2="180.20" stroke="#000" stroke-width="0.55" />
<text transform="translate(521.10,183.15) scale(1,1.1)" font-size="7.70" text-anchor="end" fill="#000" stroke="#000" stroke-width="0.07" >40</text>
<line x1="524.10" y1="163.35" x2="527.60" y2="163.35" stroke="#000" stroke-width="0.55" />
<text transform="translate(521.10,166.30) scale(1,1.1)" font-size="7.70" text-anchor="end" fill="#000" stroke="#000" stroke-width="0.07" >60</text>
<line x1="524.10" y1="146.50" x2="527.60" y2="146.50" stroke="#000" stroke-width="0.55" />
<text transform="translate(521.10,149.45) scale(1,1.1)" font-size="7.70" text-anchor="end" fill="#000" stroke="#000" stroke-width="0.07" >80</text>
<line x1="527.60" y1="213.90" x2="577.10" y2="213.90" stroke="#444" stroke-width="0.65" />
<line x1="535.60" y1="213.90" x2="535.60" y2="215.90" stroke="#444" stroke-width="0.6" />
<line x1="547.30" y1="213.90" x2="547.30" y2="215.90" stroke="#444" stroke-width="0.6" />
<line x1="559.10" y1="213.90" x2="559.10" y2="215.90" stroke="#444" stroke-width="0.6" />
<line x1="570.80" y1="213.90" x2="570.80" y2="215.90" stroke="#444" stroke-width="0.6" />
<rect x="531.60" y="213.48" width="8.00" height="0.42" fill="#fff" stroke="#555" stroke-width="0.6" />
<g fill="none" stroke="#000" stroke-width="0.6"><circle cx="535.60" cy="210.53" r="1.3"/><circle cx="531.85" cy="213.06" r="1.3"/><circle cx="533.35" cy="213.90" r="1.3"/><circle cx="534.85" cy="213.90" r="1.3"/><circle cx="536.35" cy="213.90" r="1.3"/><circle cx="537.85" cy="213.90" r="1.3"/><circle cx="539.35" cy="213.90" r="1.3"/></g>
<line x1="535.60" y1="213.73" x2="535.60" y2="213.23" stroke="#000" stroke-width="0.6" />
<line x1="534.00" y1="213.73" x2="537.20" y2="213.73" stroke="#000" stroke-width="0.6" />
<line x1="534.00" y1="213.23" x2="537.20" y2="213.23" stroke="#000" stroke-width="0.6" />
<rect x="543.30" y="213.48" width="8.00" height="0.42" fill="#fff" stroke="#555" stroke-width="0.6" />
<g fill="none" stroke="#f03838" stroke-width="0.6"><circle cx="543.55" cy="211.37" r="1.3"/><circle cx="545.05" cy="213.06" r="1.3"/><circle cx="546.55" cy="213.06" r="1.3"/><circle cx="548.05" cy="213.90" r="1.3"/><circle cx="549.55" cy="213.90" r="1.3"/><circle cx="551.05" cy="213.90" r="1.3"/></g>
<line x1="547.30" y1="213.73" x2="547.30" y2="213.23" stroke="#000" stroke-width="0.6" />
<line x1="545.70" y1="213.73" x2="548.90" y2="213.73" stroke="#000" stroke-width="0.6" />
<line x1="545.70" y1="213.23" x2="548.90" y2="213.23" stroke="#000" stroke-width="0.6" />
<rect x="555.10" y="213.06" width="8.00" height="0.84" fill="#fff" stroke="#555" stroke-width="0.6" />
<g fill="#7222a0"><circle cx="559.10" cy="207.16" r="1.25"/><circle cx="555.35" cy="213.06" r="1.25"/><circle cx="557.23" cy="213.90" r="1.25"/><circle cx="559.10" cy="213.90" r="1.25"/><circle cx="560.98" cy="213.90" r="1.25"/><circle cx="562.85" cy="213.90" r="1.25"/></g>
<line x1="559.10" y1="213.90" x2="559.10" y2="212.22" stroke="#000" stroke-width="0.6" />
<line x1="557.50" y1="213.90" x2="560.70" y2="213.90" stroke="#000" stroke-width="0.6" />
<line x1="557.50" y1="212.22" x2="560.70" y2="212.22" stroke="#000" stroke-width="0.6" />
<rect x="566.80" y="178.94" width="8.00" height="34.96" fill="#fff" stroke="#555" stroke-width="0.6" />
<g fill="#ff0000"><circle cx="570.80" cy="148.19" r="1.25"/><circle cx="569.60" cy="170.93" r="1.25"/><circle cx="572.00" cy="170.93" r="1.25"/><circle cx="570.80" cy="174.30" r="1.25"/><circle cx="569.60" cy="180.20" r="1.25"/><circle cx="572.00" cy="180.20" r="1.25"/><circle cx="569.60" cy="203.79" r="1.25"/><circle cx="572.00" cy="203.79" r="1.25"/></g>
<line x1="570.80" y1="184.41" x2="570.80" y2="173.46" stroke="#000" stroke-width="0.6" />
<line x1="569.20" y1="184.41" x2="572.40" y2="184.41" stroke="#000" stroke-width="0.6" />
<line x1="569.20" y1="173.46" x2="572.40" y2="173.46" stroke="#000" stroke-width="0.6" />
<line x1="535.60" y1="144.30" x2="570.80" y2="144.30" stroke="#000" stroke-width="0.6" />
<text transform="translate(553.20,145.20) scale(1,1.07)" font-size="9.00" text-anchor="middle" fill="#000" stroke="#000" stroke-width="0.25">****</text>
<line x1="581.10" y1="146.50" x2="581.10" y2="213.90" stroke="#444" stroke-width="0.65" />
<line x1="577.60" y1="213.90" x2="581.10" y2="213.90" stroke="#000" stroke-width="0.55" />
<line x1="577.60" y1="197.05" x2="581.10" y2="197.05" stroke="#000" stroke-width="0.55" />
<line x1="577.60" y1="180.20" x2="581.10" y2="180.20" stroke="#000" stroke-width="0.55" />
<line x1="577.60" y1="163.35" x2="581.10" y2="163.35" stroke="#000" stroke-width="0.55" />
<line x1="577.60" y1="146.50" x2="581.10" y2="146.50" stroke="#000" stroke-width="0.55" />
<line x1="581.10" y1="213.90" x2="630.60" y2="213.90" stroke="#444" stroke-width="0.65" />
<line x1="589.10" y1="213.90" x2="589.10" y2="215.90" stroke="#444" stroke-width="0.6" />
<line x1="600.80" y1="213.90" x2="600.80" y2="215.90" stroke="#444" stroke-width="0.6" />
<line x1="612.60" y1="213.90" x2="612.60" y2="215.90" stroke="#444" stroke-width="0.6" />
<line x1="624.30" y1="213.90" x2="624.30" y2="215.90" stroke="#444" stroke-width="0.6" />
<rect x="585.10" y="213.65" width="8.00" height="0.25" fill="#fff" stroke="#555" stroke-width="0.6" />
<g fill="none" stroke="#000" stroke-width="0.6"><circle cx="585.35" cy="213.90" r="1.3"/><circle cx="587.23" cy="213.90" r="1.3"/><circle cx="589.10" cy="213.90" r="1.3"/><circle cx="590.98" cy="213.90" r="1.3"/><circle cx="592.85" cy="213.90" r="1.3"/></g>
<line x1="589.10" y1="213.82" x2="589.10" y2="213.48" stroke="#000" stroke-width="0.6" />
<line x1="587.50" y1="213.82" x2="590.70" y2="213.82" stroke="#000" stroke-width="0.6" />
<line x1="587.50" y1="213.48" x2="590.70" y2="213.48" stroke="#000" stroke-width="0.6" />
<rect x="596.80" y="213.65" width="8.00" height="0.25" fill="#fff" stroke="#555" stroke-width="0.6" />
<g fill="none" stroke="#f03838" stroke-width="0.6"><circle cx="597.05" cy="213.90" r="1.3"/><circle cx="598.93" cy="213.90" r="1.3"/><circle cx="600.80" cy="213.90" r="1.3"/><circle cx="602.68" cy="213.90" r="1.3"/><circle cx="604.55" cy="213.90" r="1.3"/></g>
<line x1="600.80" y1="213.82" x2="600.80" y2="213.48" stroke="#000" stroke-width="0.6" />
<line x1="599.20" y1="213.82" x2="602.40" y2="213.82" stroke="#000" stroke-width="0.6" />
<line x1="599.20" y1="213.48" x2="602.40" y2="213.48" stroke="#000" stroke-width="0.6" />
<rect x="608.60" y="213.06" width="8.00" height="0.84" fill="#fff" stroke="#555" stroke-width="0.6" />
<g fill="#7222a0"><circle cx="608.85" cy="212.22" r="1.25"/><circle cx="611.35" cy="213.06" r="1.25"/><circle cx="613.85" cy="213.90" r="1.25"/><circle cx="616.35" cy="213.90" r="1.25"/></g>
<line x1="612.60" y1="213.48" x2="612.60" y2="212.64" stroke="#000" stroke-width="0.6" />
<line x1="611.00" y1="213.48" x2="614.20" y2="213.48" stroke="#000" stroke-width="0.6" />
<line x1="611.00" y1="212.64" x2="614.20" y2="212.64" stroke="#000" stroke-width="0.6" />
<rect x="620.30" y="170.51" width="8.00" height="43.39" fill="#fff" stroke="#555" stroke-width="0.6" />
<g fill="#ff0000"><circle cx="624.30" cy="149.87" r="1.25"/><circle cx="624.30" cy="159.14" r="1.25"/><circle cx="624.30" cy="163.35" r="1.25"/><circle cx="623.10" cy="170.09" r="1.25"/><circle cx="625.50" cy="171.78" r="1.25"/><circle cx="624.30" cy="180.20" r="1.25"/><circle cx="623.10" cy="184.41" r="1.25"/><circle cx="625.50" cy="184.41" r="1.25"/></g>
<line x1="624.30" y1="174.72" x2="624.30" y2="166.30" stroke="#000" stroke-width="0.6" />
<line x1="622.70" y1="174.72" x2="625.90" y2="174.72" stroke="#000" stroke-width="0.6" />
<line x1="622.70" y1="166.30" x2="625.90" y2="166.30" stroke="#000" stroke-width="0.6" />
<line x1="589.10" y1="144.30" x2="624.30" y2="144.30" stroke="#000" stroke-width="0.6" />
<text transform="translate(606.70,145.20) scale(1,1.07)" font-size="9.00" text-anchor="middle" fill="#000" stroke="#000" stroke-width="0.25">****</text>
<line x1="634.60" y1="146.50" x2="634.60" y2="213.90" stroke="#444" stroke-width="0.65" />
<line x1="631.10" y1="213.90" x2="634.60" y2="213.90" stroke="#000" stroke-width="0.55" />
<line x1="631.10" y1="197.05" x2="634.60" y2="197.05" stroke="#000" stroke-width="0.55" />
<line x1="631.10" y1="180.20" x2="634.60" y2="180.20" stroke="#000" stroke-width="0.55" />
<line x1="631.10" y1="163.35" x2="634.60" y2="163.35" stroke="#000" stroke-width="0.55" />
<line x1="631.10" y1="146.50" x2="634.60" y2="146.50" stroke="#000" stroke-width="0.55" />
<line x1="634.60" y1="213.90" x2="684.10" y2="213.90" stroke="#444" stroke-width="0.65" />
<line x1="642.60" y1="213.90" x2="642.60" y2="215.90" stroke="#444" stroke-width="0.6" />
<line x1="654.30" y1="213.90" x2="654.30" y2="215.90" stroke="#444" stroke-width="0.6" />
<line x1="666.10" y1="213.90" x2="666.10" y2="215.90" stroke="#444" stroke-width="0.6" />
<line x1="677.80" y1="213.90" x2="677.80" y2="215.90" stroke="#444" stroke-width="0.6" />
<rect x="638.60" y="213.31" width="8.00" height="0.59" fill="#fff" stroke="#555" stroke-width="0.6" />
<g fill="none" stroke="#000" stroke-width="0.6"><circle cx="638.85" cy="211.37" r="1.3"/><circle cx="640.35" cy="213.06" r="1.3"/><circle cx="641.85" cy="213.90" r="1.3"/><circle cx="643.35" cy="213.90" r="1.3"/><circle cx="644.85" cy="213.90" r="1.3"/><circle cx="646.35" cy="213.90" r="1.3"/></g>
<line x1="642.60" y1="213.56" x2="642.60" y2="213.06" stroke="#000" stroke-width="0.6" />
<line x1="641.00" y1="213.56" x2="644.20" y2="213.56" stroke="#000" stroke-width="0.6" />
<line x1="641.00" y1="213.06" x2="644.20" y2="213.06" stroke="#000" stroke-width="0.6" />
<rect x="650.30" y="213.65" width="8.00" height="0.25" fill="#fff" stroke="#555" stroke-width="0.6" />
<g fill="none" stroke="#f03838" stroke-width="0.6"><circle cx="650.55" cy="213.90" r="1.3"/><circle cx="653.05" cy="213.90" r="1.3"/><circle cx="655.55" cy="213.90" r="1.3"/><circle cx="658.05" cy="213.90" r="1.3"/></g>
<line x1="654.30" y1="213.82" x2="654.30" y2="213.48" stroke="#000" stroke-width="0.6" />
<line x1="652.70" y1="213.82" x2="655.90" y2="213.82" stroke="#000" stroke-width="0.6" />
<line x1="652.70" y1="213.48" x2="655.90" y2="213.48" stroke="#000" stroke-width="0.6" />
<rect x="662.10" y="213.06" width="8.00" height="0.84" fill="#fff" stroke="#555" stroke-width="0.6" />
<g fill="#7222a0"><circle cx="662.35" cy="212.22" r="1.25"/><circle cx="664.85" cy="213.06" r="1.25"/><circle cx="667.35" cy="213.06" r="1.25"/><circle cx="669.85" cy="213.90" r="1.25"/></g>
<line x1="666.10" y1="213.48" x2="666.10" y2="212.64" stroke="#000" stroke-width="0.6" />
<line x1="664.50" y1="213.48" x2="667.70" y2="213.48" stroke="#000" stroke-width="0.6" />
<line x1="664.50" y1="212.64" x2="667.70" y2="212.64" stroke="#000" stroke-width="0.6" />
<rect x="673.80" y="174.30" width="8.00" height="39.60" fill="#fff" stroke="#555" stroke-width="0.6" />
<g fill="#ff0000"><circle cx="677.80" cy="160.82" r="1.25"/><circle cx="676.60" cy="168.41" r="1.25"/><circle cx="679.00" cy="169.25" r="1.25"/><circle cx="676.60" cy="174.30" r="1.25"/><circle cx="679.00" cy="175.99" r="1.25"/><circle cx="677.80" cy="180.20" r="1.25"/><circle cx="676.60" cy="183.57" r="1.25"/><circle cx="679.00" cy="185.25" r="1.25"/></g>
<line x1="677.80" y1="177.67" x2="677.80" y2="170.93" stroke="#000" stroke-width="0.6" />
<line x1="676.20" y1="177.67" x2="679.40" y2="177.67" stroke="#000" stroke-width="0.6" />
<line x1="676.20" y1="170.93" x2="679.40" y2="170.93" stroke="#000" stroke-width="0.6" />
<line x1="642.60" y1="144.30" x2="677.80" y2="144.30" stroke="#000" stroke-width="0.6" />
<text transform="translate(660.20,145.20) scale(1,1.07)" font-size="9.00" text-anchor="middle" fill="#000" stroke="#000" stroke-width="0.25">****</text>
<text x="0.30" y="262.30" font-size="10.50" text-anchor="start" fill="#000" stroke="#000" font-weight="bold" stroke-width="0.55">c</text>
<text transform="translate(81.80,295.70) scale(1,1.07)" font-size="7.80" text-anchor="middle" fill="#000" stroke="#000" stroke-width="0.07" >mLN</text>
<text transform="translate(149.50,295.70) scale(1,1.07)" font-size="7.80" text-anchor="middle" fill="#000" stroke="#000" stroke-width="0.07" >ILN</text>
<text transform="translate(222.70,295.70) scale(1,1.07)" font-size="7.80" text-anchor="middle" fill="#000" stroke="#000" stroke-width="0.07" >SPL</text>
<text x="0.00" y="0.00" font-size="7.80" text-anchor="middle" fill="#000" stroke="#000" stroke-width="0.07" transform="translate(28.00,346.00) rotate(-90) scale(1,1.07)">FOXP3<tspan font-size="4.4" dx="0.35" dy="-3.3">+</tspan></text>
<text x="0.00" y="0.00" font-size="7.80" text-anchor="middle" fill="#000" stroke="#000" stroke-width="0.07" transform="translate(37.60,346.00) rotate(-90) scale(1,1.07)">number (×10<tspan font-size="4.6" dy="-3">3</tspan><tspan dy="3">)</tspan></text>
<text x="0.00" y="0.00" font-size="7.80" text-anchor="middle" fill="#000" stroke="#000" stroke-width="0.07" transform="translate(28.00,429.50) rotate(-90) scale(1,1.07)">RORγt<tspan font-size="4.4" dx="0.35" dy="-3.3">+</tspan><tspan dx="0.5" dy="3.3">FOXP3</tspan><tspan font-size="4.4" dx="0.35" dy="-3.3">+</tspan></text>
<text x="0.00" y="0.00" font-size="7.80" text-anchor="middle" fill="#000" stroke="#000" stroke-width="0.07" transform="translate(37.60,429.50) rotate(-90) scale(1,1.07)">number (×10<tspan font-size="4.6" dy="-3">3</tspan><tspan dy="3">)</tspan></text>
<line x1="58.20" y1="311.70" x2="58.20" y2="379.60" stroke="#444" stroke-width="0.65" />
<line x1="54.70" y1="379.60" x2="58.20" y2="379.60" stroke="#000" stroke-width="0.55" />
<text transform="translate(51.70,382.55) scale(1,1.1)" font-size="7.70" text-anchor="end" fill="#000" stroke="#000" stroke-width="0.07" >0</text>
<line x1="54.70" y1="368.28" x2="58.20" y2="368.28" stroke="#000" stroke-width="0.55" />
<text transform="translate(51.70,371.23) scale(1,1.1)" font-size="7.70" text-anchor="end" fill="#000" stroke="#000" stroke-width="0.07" >2</text>
<line x1="54.70" y1="356.96" x2="58.20" y2="356.96" stroke="#000" stroke-width="0.55" />
<text transform="translate(51.70,359.91) scale(1,1.1)" font-size="7.70" text-anchor="end" fill="#000" stroke="#000" stroke-width="0.07" >4</text>
<line x1="54.70" y1="345.64" x2="58.20" y2="345.64" stroke="#000" stroke-width="0.55" />
<text transform="translate(51.70,348.59) scale(1,1.1)" font-size="7.70" text-anchor="end" fill="#000" stroke="#000" stroke-width="0.07" >6</text>
<line x1="54.70" y1="334.32" x2="58.20" y2="334.32" stroke="#000" stroke-width="0.55" />
<text transform="translate(51.70,337.27) scale(1,1.1)" font-size="7.70" text-anchor="end" fill="#000" stroke="#000" stroke-width="0.07" >8</text>
<line x1="54.70" y1="323.00" x2="58.20" y2="323.00" stroke="#000" stroke-width="0.55" />
<text transform="translate(51.70,325.95) scale(1,1.1)" font-size="7.70" text-anchor="end" fill="#000" stroke="#000" stroke-width="0.07" >10</text>
<line x1="54.70" y1="311.68" x2="58.20" y2="311.68" stroke="#000" stroke-width="0.55" />
<text transform="translate(51.70,314.63) scale(1,1.1)" font-size="7.70" text-anchor="end" fill="#000" stroke="#000" stroke-width="0.07" >12</text>
<line x1="58.20" y1="379.60" x2="109.80" y2="379.60" stroke="#444" stroke-width="0.65" />
<line x1="66.10" y1="379.60" x2="66.10" y2="381.60" stroke="#444" stroke-width="0.6" />
<line x1="77.90" y1="379.60" x2="77.90" y2="381.60" stroke="#444" stroke-width="0.6" />
<line x1="89.70" y1="379.60" x2="89.70" y2="381.60" stroke="#444" stroke-width="0.6" />
<line x1="101.40" y1="379.60" x2="101.40" y2="381.60" stroke="#444" stroke-width="0.6" />
<rect x="62.10" y="379.32" width="8.00" height="0.28" fill="#fff" stroke="#555" stroke-width="0.6" />
<g fill="#000"><circle cx="62.35" cy="379.60" r="1.25"/><circle cx="63.85" cy="379.60" r="1.25"/><circle cx="65.35" cy="379.60" r="1.25"/><circle cx="66.85" cy="379.60" r="1.25"/><circle cx="68.35" cy="379.60" r="1.25"/><circle cx="69.85" cy="379.60" r="1.25"/></g>
<line x1="66.10" y1="379.43" x2="66.10" y2="379.20" stroke="#000" stroke-width="0.6" />
<line x1="64.50" y1="379.43" x2="67.70" y2="379.43" stroke="#000" stroke-width="0.6" />
<line x1="64.50" y1="379.20" x2="67.70" y2="379.20" stroke="#000" stroke-width="0.6" />
<rect x="73.90" y="376.20" width="8.00" height="3.40" fill="#fff" stroke="#555" stroke-width="0.6" />
<g fill="none" stroke="#f03838" stroke-width="0.6"><circle cx="77.90" cy="366.58" r="1.3"/><circle cx="76.70" cy="373.94" r="1.3"/><circle cx="79.10" cy="375.64" r="1.3"/><circle cx="74.15" cy="377.90" r="1.3"/><circle cx="76.65" cy="379.03" r="1.3"/><circle cx="79.15" cy="379.60" r="1.3"/><circle cx="81.65" cy="379.60" r="1.3"/></g>
<line x1="77.90" y1="378.19" x2="77.90" y2="374.22" stroke="#000" stroke-width="0.6" />
<line x1="76.30" y1="378.19" x2="79.50" y2="378.19" stroke="#000" stroke-width="0.6" />
<line x1="76.30" y1="374.22" x2="79.50" y2="374.22" stroke="#000" stroke-width="0.6" />
<rect x="85.70" y="379.32" width="8.00" height="0.28" fill="#fff" stroke="#555" stroke-width="0.6" />
<g fill="#7222a0"><circle cx="85.95" cy="379.60" r="1.25"/><circle cx="87.45" cy="379.60" r="1.25"/><circle cx="88.95" cy="379.60" r="1.25"/><circle cx="90.45" cy="379.60" r="1.25"/><circle cx="91.95" cy="379.60" r="1.25"/><circle cx="93.45" cy="379.60" r="1.25"/></g>
<line x1="89.70" y1="379.43" x2="89.70" y2="379.20" stroke="#000" stroke-width="0.6" />
<line x1="88.10" y1="379.43" x2="91.30" y2="379.43" stroke="#000" stroke-width="0.6" />
<line x1="88.10" y1="379.20" x2="91.30" y2="379.20" stroke="#000" stroke-width="0.6" />
<rect x="97.40" y="355.26" width="8.00" height="24.34" fill="#fff" stroke="#555" stroke-width="0.6" />
<g fill="#ff0000"><circle cx="101.40" cy="316.21" r="1.25"/><circle cx="101.40" cy="326.96" r="1.25"/><circle cx="101.40" cy="332.62" r="1.25"/><circle cx="101.40" cy="363.75" r="1.25"/><circle cx="101.40" cy="371.11" r="1.25"/><circle cx="101.40" cy="373.94" r="1.25"/><circle cx="100.20" cy="378.47" r="1.25"/><circle cx="102.60" cy="379.03" r="1.25"/></g>
<line x1="101.40" y1="364.32" x2="101.40" y2="346.21" stroke="#000" stroke-width="0.6" />
<line x1="99.80" y1="364.32" x2="103.00" y2="364.32" stroke="#000" stroke-width="0.6" />
<line x1="99.80" y1="346.21" x2="103.00" y2="346.21" stroke="#000" stroke-width="0.6" />
<line x1="66.10" y1="309.20" x2="101.40" y2="309.20" stroke="#000" stroke-width="0.6" />
<text transform="translate(83.75,310.20) scale(1,1.07)" font-size="9.00" text-anchor="middle" fill="#000" stroke="#000" stroke-width="0.25">**</text>
<line x1="126.60" y1="311.20" x2="126.60" y2="324.30" stroke="#444" stroke-width="0.65" />
<line x1="124.70" y1="324.30" x2="128.50" y2="324.30" stroke="#000" stroke-width="0.6" />
<line x1="126.60" y1="330.00" x2="126.60" y2="379.40" stroke="#444" stroke-width="0.65" />
<line x1="124.70" y1="330.00" x2="128.50" y2="330.00" stroke="#000" stroke-width="0.6" />
<line x1="123.10" y1="311.20" x2="126.60" y2="311.20" stroke="#000" stroke-width="0.55" />
<text transform="translate(120.10,314.15) scale(1,1.1)" font-size="7.70" text-anchor="end" fill="#000" stroke="#000" stroke-width="0.07" >15</text>
<line x1="123.10" y1="321.20" x2="126.60" y2="321.20" stroke="#000" stroke-width="0.55" />
<text transform="translate(120.10,324.15) scale(1,1.1)" font-size="7.70" text-anchor="end" fill="#000" stroke="#000" stroke-width="0.07" >7</text>
<text transform="translate(120.10,332.95) scale(1,1.1)" font-size="7.70" text-anchor="end" fill="#000" stroke="#000" stroke-width="0.07" >5</text>
<line x1="123.10" y1="340.00" x2="126.60" y2="340.00" stroke="#000" stroke-width="0.55" />
<text transform="translate(120.10,342.95) scale(1,1.1)" font-size="7.70" text-anchor="end" fill="#000" stroke="#000" stroke-width="0.07" >4</text>
<line x1="123.10" y1="349.80" x2="126.60" y2="349.80" stroke="#000" stroke-width="0.55" />
<text transform="translate(120.10,352.75) scale(1,1.1)" font-size="7.70" text-anchor="end" fill="#000" stroke="#000" stroke-width="0.07" >3</text>
<line x1="123.10" y1="359.70" x2="126.60" y2="359.70" stroke="#000" stroke-width="0.55" />
<text transform="translate(120.10,362.65) scale(1,1.1)" font-size="7.70" text-anchor="end" fill="#000" stroke="#000" stroke-width="0.07" >2</text>
<line x1="123.10" y1="369.50" x2="126.60" y2="369.50" stroke="#000" stroke-width="0.55" />
<text transform="translate(120.10,372.45) scale(1,1.1)" font-size="7.70" text-anchor="end" fill="#000" stroke="#000" stroke-width="0.07" >1</text>
<line x1="123.10" y1="379.40" x2="126.60" y2="379.40" stroke="#000" stroke-width="0.55" />
<text transform="translate(120.10,382.35) scale(1,1.1)" font-size="7.70" text-anchor="end" fill="#000" stroke="#000" stroke-width="0.07" >0</text>
<line x1="126.60" y1="379.40" x2="178.50" y2="379.40" stroke="#444" stroke-width="0.65" />
<line x1="134.50" y1="379.40" x2="134.50" y2="381.40" stroke="#444" stroke-width="0.6" />
<line x1="146.30" y1="379.40" x2="146.30" y2="381.40" stroke="#444" stroke-width="0.6" />
<line x1="158.10" y1="379.40" x2="158.10" y2="381.40" stroke="#444" stroke-width="0.6" />
<line x1="169.80" y1="379.40" x2="169.80" y2="381.40" stroke="#444" stroke-width="0.6" />
<rect x="130.50" y="378.90" width="8.00" height="0.50" fill="#fff" stroke="#555" stroke-width="0.6" />
<g fill="#000"><circle cx="130.75" cy="378.41" r="1.25"/><circle cx="132.25" cy="379.40" r="1.25"/><circle cx="133.75" cy="379.40" r="1.25"/><circle cx="135.25" cy="379.40" r="1.25"/><circle cx="136.75" cy="379.40" r="1.25"/><circle cx="138.25" cy="379.40" r="1.25"/></g>
<line x1="134.50" y1="379.10" x2="134.50" y2="378.71" stroke="#000" stroke-width="0.6" />
<line x1="132.90" y1="379.10" x2="136.10" y2="379.10" stroke="#000" stroke-width="0.6" />
<line x1="132.90" y1="378.71" x2="136.10" y2="378.71" stroke="#000" stroke-width="0.6" />
<rect x="142.30" y="379.20" width="8.00" height="0.20" fill="#fff" stroke="#555" stroke-width="0.6" />
<g fill="#ff0000"><circle cx="142.55" cy="379.40" r="1.25"/><circle cx="144.05" cy="379.40" r="1.25"/><circle cx="145.55" cy="379.40" r="1.25"/><circle cx="147.05" cy="379.40" r="1.25"/><circle cx="148.55" cy="379.40" r="1.25"/><circle cx="150.05" cy="379.40" r="1.25"/></g>
<line x1="146.30" y1="379.30" x2="146.30" y2="379.10" stroke="#000" stroke-width="0.6" />
<line x1="144.70" y1="379.30" x2="147.90" y2="379.30" stroke="#000" stroke-width="0.6" />
<line x1="144.70" y1="379.10" x2="147.90" y2="379.10" stroke="#000" stroke-width="0.6" />
<rect x="154.10" y="377.42" width="8.00" height="1.98" fill="#fff" stroke="#555" stroke-width="0.6" />
<g fill="#7222a0"><circle cx="158.10" cy="374.45" r="1.25"/><circle cx="154.35" cy="377.42" r="1.25"/><circle cx="156.22" cy="378.41" r="1.25"/><circle cx="158.10" cy="379.40" r="1.25"/><circle cx="159.97" cy="379.40" r="1.25"/><circle cx="161.85" cy="379.40" r="1.25"/></g>
<line x1="158.10" y1="378.41" x2="158.10" y2="376.43" stroke="#000" stroke-width="0.6" />
<line x1="156.50" y1="378.41" x2="159.70" y2="378.41" stroke="#000" stroke-width="0.6" />
<line x1="156.50" y1="376.43" x2="159.70" y2="376.43" stroke="#000" stroke-width="0.6" />
<rect x="165.80" y="340.79" width="8.00" height="38.61" fill="#fff" stroke="#555" stroke-width="0.6" />
<g fill="#ff0000"><circle cx="169.80" cy="313.70" r="1.25"/><circle cx="169.80" cy="335.84" r="1.25"/><circle cx="169.80" cy="338.81" r="1.25"/><circle cx="169.80" cy="346.73" r="1.25"/><circle cx="169.80" cy="348.71" r="1.25"/><circle cx="169.80" cy="371.48" r="1.25"/><circle cx="169.80" cy="375.44" r="1.25"/><circle cx="169.80" cy="378.41" r="1.25"/></g>
<line x1="169.80" y1="357.62" x2="169.80" y2="322.95" stroke="#000" stroke-width="0.6" />
<line x1="168.20" y1="357.62" x2="171.40" y2="357.62" stroke="#000" stroke-width="0.6" />
<line x1="168.20" y1="322.95" x2="171.40" y2="322.95" stroke="#000" stroke-width="0.6" />
<line x1="134.50" y1="309.20" x2="169.80" y2="309.20" stroke="#000" stroke-width="0.6" />
<text transform="translate(152.15,310.20) scale(1,1.07)" font-size="9.00" text-anchor="middle" fill="#000" stroke="#000" stroke-width="0.25">*</text>
<line x1="199.60" y1="312.00" x2="199.60" y2="324.50" stroke="#444" stroke-width="0.65" />
<line x1="197.70" y1="324.50" x2="201.50" y2="324.50" stroke="#000" stroke-width="0.6" />
<line x1="199.60" y1="330.00" x2="199.60" y2="379.70" stroke="#444" stroke-width="0.65" />
<line x1="197.70" y1="330.00" x2="201.50" y2="330.00" stroke="#000" stroke-width="0.6" />
<line x1="196.10" y1="312.00" x2="199.60" y2="312.00" stroke="#000" stroke-width="0.55" />
<text transform="translate(193.10,314.95) scale(1,1.1)" font-size="7.70" text-anchor="end" fill="#000" stroke="#000" stroke-width="0.07" >200</text>
<line x1="196.10" y1="321.80" x2="199.60" y2="321.80" stroke="#000" stroke-width="0.55" />
<text transform="translate(193.10,324.75) scale(1,1.1)" font-size="7.70" text-anchor="end" fill="#000" stroke="#000" stroke-width="0.07" >100</text>
<text transform="translate(193.10,332.95) scale(1,1.1)" font-size="7.70" text-anchor="end" fill="#000" stroke="#000" stroke-width="0.07" >75</text>
<line x1="196.10" y1="346.70" x2="199.60" y2="346.70" stroke="#000" stroke-width="0.55" />
<text transform="translate(193.10,349.65) scale(1,1.1)" font-size="7.70" text-anchor="end" fill="#000" stroke="#000" stroke-width="0.07" >50</text>
<line x1="196.10" y1="363.20" x2="199.60" y2="363.20" stroke="#000" stroke-width="0.55" />
<text transform="translate(193.10,366.15) scale(1,1.1)" font-size="7.70" text-anchor="end" fill="#000" stroke="#000" stroke-width="0.07" >25</text>
<line x1="196.10" y1="379.70" x2="199.60" y2="379.70" stroke="#000" stroke-width="0.55" />
<text transform="translate(193.10,382.65) scale(1,1.1)" font-size="7.70" text-anchor="end" fill="#000" stroke="#000" stroke-width="0.07" >0</text>
<line x1="199.60" y1="379.70" x2="251.50" y2="379.70" stroke="#444" stroke-width="0.65" />
<line x1="207.50" y1="379.70" x2="207.50" y2="381.70" stroke="#444" stroke-width="0.6" />
<line x1="219.30" y1="379.70" x2="219.30" y2="381.70" stroke="#444" stroke-width="0.6" />
<line x1="231.10" y1="379.70" x2="231.10" y2="381.70" stroke="#444" stroke-width="0.6" />
<line x1="242.80" y1="379.70" x2="242.80" y2="381.70" stroke="#444" stroke-width="0.6" />
<rect x="203.50" y="379.50" width="8.00" height="0.20" fill="#fff" stroke="#555" stroke-width="0.6" />
<g fill="#000"><circle cx="203.75" cy="379.37" r="1.25"/><circle cx="205.25" cy="379.70" r="1.25"/><circle cx="206.75" cy="379.70" r="1.25"/><circle cx="208.25" cy="379.70" r="1.25"/><circle cx="209.75" cy="379.70" r="1.25"/><circle cx="211.25" cy="379.70" r="1.25"/></g>
<line x1="207.50" y1="379.57" x2="207.50" y2="379.43" stroke="#000" stroke-width="0.6" />
<line x1="205.90" y1="379.57" x2="209.10" y2="379.57" stroke="#000" stroke-width="0.6" />
<line x1="205.90" y1="379.43" x2="209.10" y2="379.43" stroke="#000" stroke-width="0.6" />
<rect x="215.30" y="379.50" width="8.00" height="0.20" fill="#fff" stroke="#555" stroke-width="0.6" />
<g fill="#f04848"><circle cx="215.55" cy="379.37" r="1.25"/><circle cx="217.05" cy="379.70" r="1.25"/><circle cx="218.55" cy="379.70" r="1.25"/><circle cx="220.05" cy="379.70" r="1.25"/><circle cx="221.55" cy="379.70" r="1.25"/><circle cx="223.05" cy="379.70" r="1.25"/></g>
<line x1="219.30" y1="379.57" x2="219.30" y2="379.43" stroke="#000" stroke-width="0.6" />
<line x1="217.70" y1="379.57" x2="220.90" y2="379.57" stroke="#000" stroke-width="0.6" />
<line x1="217.70" y1="379.43" x2="220.90" y2="379.43" stroke="#000" stroke-width="0.6" />
<rect x="227.10" y="379.50" width="8.00" height="0.20" fill="#fff" stroke="#555" stroke-width="0.6" />
<g fill="#7222a0"><circle cx="227.35" cy="379.37" r="1.25"/><circle cx="228.85" cy="379.70" r="1.25"/><circle cx="230.35" cy="379.70" r="1.25"/><circle cx="231.85" cy="379.70" r="1.25"/><circle cx="233.35" cy="379.70" r="1.25"/><circle cx="234.85" cy="379.70" r="1.25"/></g>
<line x1="231.10" y1="379.57" x2="231.10" y2="379.43" stroke="#000" stroke-width="0.6" />
<line x1="229.50" y1="379.57" x2="232.70" y2="379.57" stroke="#000" stroke-width="0.6" />
<line x1="229.50" y1="379.43" x2="232.70" y2="379.43" stroke="#000" stroke-width="0.6" />
<rect x="238.80" y="333.97" width="8.00" height="45.73" fill="#fff" stroke="#555" stroke-width="0.6" />
<g fill="#ff0000"><circle cx="242.80" cy="312.98" r="1.25"/><circle cx="242.80" cy="321.31" r="1.25"/><circle cx="242.80" cy="337.29" r="1.25"/><circle cx="242.80" cy="341.93" r="1.25"/><circle cx="242.80" cy="346.56" r="1.25"/><circle cx="242.80" cy="350.54" r="1.25"/><circle cx="242.80" cy="354.52" r="1.25"/><circle cx="242.80" cy="376.39" r="1.25"/></g>
<line x1="242.80" y1="347.23" x2="242.80" y2="322.88" stroke="#000" stroke-width="0.6" />
<line x1="241.20" y1="347.23" x2="244.40" y2="347.23" stroke="#000" stroke-width="0.6" />
<line x1="241.20" y1="322.88" x2="244.40" y2="322.88" stroke="#000" stroke-width="0.6" />
<line x1="207.50" y1="309.20" x2="242.80" y2="309.20" stroke="#000" stroke-width="0.6" />
<text transform="translate(225.15,310.20) scale(1,1.07)" font-size="9.00" text-anchor="middle" fill="#000" stroke="#000" stroke-width="0.25">***</text>
<line x1="58.20" y1="395.40" x2="58.20" y2="463.40" stroke="#444" stroke-width="0.65" />
<line x1="54.70" y1="463.40" x2="58.20" y2="463.40" stroke="#000" stroke-width="0.55" />
<text transform="translate(51.70,466.35) scale(1,1.1)" font-size="7.70" text-anchor="end" fill="#000" stroke="#000" stroke-width="0.07" >0</text>
<line x1="54.70" y1="449.80" x2="58.20" y2="449.80" stroke="#000" stroke-width="0.55" />
<text transform="translate(51.70,452.75) scale(1,1.1)" font-size="7.70" text-anchor="end" fill="#000" stroke="#000" stroke-width="0.07" >2</text>
<line x1="54.70" y1="436.20" x2="58.20" y2="436.20" stroke="#000" stroke-width="0.55" />
<text transform="translate(51.70,439.15) scale(1,1.1)" font-size="7.70" text-anchor="end" fill="#000" stroke="#000" stroke-width="0.07" >4</text>
<line x1="54.70" y1="422.60" x2="58.20" y2="422.60" stroke="#000" stroke-width="0.55" />
<text transform="translate(51.70,425.55) scale(1,1.1)" font-size="7.70" text-anchor="end" fill="#000" stroke="#000" stroke-width="0.07" >6</text>
<line x1="54.70" y1="409.00" x2="58.20" y2="409.00" stroke="#000" stroke-width="0.55" />
<text transform="translate(51.70,411.95) scale(1,1.1)" font-size="7.70" text-anchor="end" fill="#000" stroke="#000" stroke-width="0.07" >8</text>
<line x1="54.70" y1="395.40" x2="58.20" y2="395.40" stroke="#000" stroke-width="0.55" />
<text transform="translate(51.70,398.35) scale(1,1.1)" font-size="7.70" text-anchor="end" fill="#000" stroke="#000" stroke-width="0.07" >10</text>
<line x1="58.20" y1="463.40" x2="109.80" y2="463.40" stroke="#444" stroke-width="0.65" />
<line x1="66.10" y1="463.40" x2="66.10" y2="465.40" stroke="#444" stroke-width="0.6" />
<line x1="77.90" y1="463.40" x2="77.90" y2="465.40" stroke="#444" stroke-width="0.6" />
<line x1="89.70" y1="463.40" x2="89.70" y2="465.40" stroke="#444" stroke-width="0.6" />
<line x1="101.40" y1="463.40" x2="101.40" y2="465.40" stroke="#444" stroke-width="0.6" />
<rect x="62.10" y="463.26" width="8.00" height="0.14" fill="#fff" stroke="#555" stroke-width="0.6" />
<g fill="#000"><circle cx="62.35" cy="463.40" r="1.25"/><circle cx="63.85" cy="463.40" r="1.25"/><circle cx="65.35" cy="463.40" r="1.25"/><circle cx="66.85" cy="463.40" r="1.25"/><circle cx="68.35" cy="463.40" r="1.25"/><circle cx="69.85" cy="463.40" r="1.25"/></g>
<line x1="66.10" y1="463.33" x2="66.10" y2="463.20" stroke="#000" stroke-width="0.6" />
<line x1="64.50" y1="463.33" x2="67.70" y2="463.33" stroke="#000" stroke-width="0.6" />
<line x1="64.50" y1="463.20" x2="67.70" y2="463.20" stroke="#000" stroke-width="0.6" />
<rect x="73.90" y="463.06" width="8.00" height="0.34" fill="#fff" stroke="#555" stroke-width="0.6" />
<g fill="none" stroke="#f03838" stroke-width="0.6"><circle cx="74.15" cy="461.36" r="1.3"/><circle cx="76.03" cy="462.72" r="1.3"/><circle cx="77.90" cy="463.40" r="1.3"/><circle cx="79.78" cy="463.40" r="1.3"/><circle cx="81.65" cy="463.40" r="1.3"/></g>
<line x1="77.90" y1="463.20" x2="77.90" y2="462.92" stroke="#000" stroke-width="0.6" />
<line x1="76.30" y1="463.20" x2="79.50" y2="463.20" stroke="#000" stroke-width="0.6" />
<line x1="76.30" y1="462.92" x2="79.50" y2="462.92" stroke="#000" stroke-width="0.6" />
<rect x="85.70" y="463.26" width="8.00" height="0.14" fill="#fff" stroke="#555" stroke-width="0.6" />
<g fill="#7222a0"><circle cx="85.95" cy="463.40" r="1.25"/><circle cx="87.45" cy="463.40" r="1.25"/><circle cx="88.95" cy="463.40" r="1.25"/><circle cx="90.45" cy="463.40" r="1.25"/><circle cx="91.95" cy="463.40" r="1.25"/><circle cx="93.45" cy="463.40" r="1.25"/></g>
<line x1="89.70" y1="463.33" x2="89.70" y2="463.20" stroke="#000" stroke-width="0.6" />
<line x1="88.10" y1="463.33" x2="91.30" y2="463.33" stroke="#000" stroke-width="0.6" />
<line x1="88.10" y1="463.20" x2="91.30" y2="463.20" stroke="#000" stroke-width="0.6" />
<rect x="97.40" y="439.94" width="8.00" height="23.46" fill="#fff" stroke="#555" stroke-width="0.6" />
<g fill="#ff0000"><circle cx="101.40" cy="399.48" r="1.25"/><circle cx="101.40" cy="411.04" r="1.25"/><circle cx="101.40" cy="414.44" r="1.25"/><circle cx="101.40" cy="449.12" r="1.25"/><circle cx="101.40" cy="456.60" r="1.25"/><circle cx="99.00" cy="461.36" r="1.25"/><circle cx="101.40" cy="462.04" r="1.25"/><circle cx="103.80" cy="462.72" r="1.25"/></g>
<line x1="101.40" y1="449.46" x2="101.40" y2="430.42" stroke="#000" stroke-width="0.6" />
<line x1="99.80" y1="449.46" x2="103.00" y2="449.46" stroke="#000" stroke-width="0.6" />
<line x1="99.80" y1="430.42" x2="103.00" y2="430.42" stroke="#000" stroke-width="0.6" />
<line x1="66.10" y1="393.40" x2="101.40" y2="393.40" stroke="#000" stroke-width="0.6" />
<text transform="translate(83.75,394.40) scale(1,1.07)" font-size="9.00" text-anchor="middle" fill="#000" stroke="#000" stroke-width="0.25">**</text>
<line x1="126.60" y1="395.40" x2="126.60" y2="408.00" stroke="#444" stroke-width="0.65" />
<line x1="124.70" y1="408.00" x2="128.50" y2="408.00" stroke="#000" stroke-width="0.6" />
<line x1="126.60" y1="413.80" x2="126.60" y2="463.40" stroke="#444" stroke-width="0.65" />
<line x1="124.70" y1="413.80" x2="128.50" y2="413.80" stroke="#000" stroke-width="0.6" />
<line x1="123.10" y1="395.40" x2="126.60" y2="395.40" stroke="#000" stroke-width="0.55" />
<text transform="translate(120.10,398.35) scale(1,1.1)" font-size="7.70" text-anchor="end" fill="#000" stroke="#000" stroke-width="0.07" >15</text>
<line x1="123.10" y1="408.00" x2="126.60" y2="408.00" stroke="#000" stroke-width="0.55" />
<text transform="translate(120.10,410.95) scale(1,1.1)" font-size="7.70" text-anchor="end" fill="#000" stroke="#000" stroke-width="0.07" >5</text>
<line x1="123.10" y1="423.40" x2="126.60" y2="423.40" stroke="#000" stroke-width="0.55" />
<text transform="translate(120.10,426.35) scale(1,1.1)" font-size="7.70" text-anchor="end" fill="#000" stroke="#000" stroke-width="0.07" >4</text>
<line x1="123.10" y1="433.40" x2="126.60" y2="433.40" stroke="#000" stroke-width="0.55" />
<text transform="translate(120.10,436.35) scale(1,1.1)" font-size="7.70" text-anchor="end" fill="#000" stroke="#000" stroke-width="0.07" >3</text>
<line x1="123.10" y1="443.30" x2="126.60" y2="443.30" stroke="#000" stroke-width="0.55" />
<text transform="translate(120.10,446.25) scale(1,1.1)" font-size="7.70" text-anchor="end" fill="#000" stroke="#000" stroke-width="0.07" >2</text>
<line x1="123.10" y1="453.30" x2="126.60" y2="453.30" stroke="#000" stroke-width="0.55" />
<text transform="translate(120.10,456.25) scale(1,1.1)" font-size="7.70" text-anchor="end" fill="#000" stroke="#000" stroke-width="0.07" >1</text>
<line x1="123.10" y1="463.40" x2="126.60" y2="463.40" stroke="#000" stroke-width="0.55" />
<text transform="translate(120.10,466.35) scale(1,1.1)" font-size="7.70" text-anchor="end" fill="#000" stroke="#000" stroke-width="0.07" >0</text>
<line x1="126.60" y1="463.40" x2="178.50" y2="463.40" stroke="#444" stroke-width="0.65" />
<line x1="134.50" y1="463.40" x2="134.50" y2="465.40" stroke="#444" stroke-width="0.6" />
<line x1="146.30" y1="463.40" x2="146.30" y2="465.40" stroke="#444" stroke-width="0.6" />
<line x1="158.10" y1="463.40" x2="158.10" y2="465.40" stroke="#444" stroke-width="0.6" />
<line x1="169.80" y1="463.40" x2="169.80" y2="465.40" stroke="#444" stroke-width="0.6" />
<rect x="130.50" y="463.20" width="8.00" height="0.20" fill="#fff" stroke="#555" stroke-width="0.6" />
<g fill="#000"><circle cx="130.75" cy="463.40" r="1.25"/><circle cx="132.25" cy="463.40" r="1.25"/><circle cx="133.75" cy="463.40" r="1.25"/><circle cx="135.25" cy="463.40" r="1.25"/><circle cx="136.75" cy="463.40" r="1.25"/><circle cx="138.25" cy="463.40" r="1.25"/></g>
<line x1="134.50" y1="463.30" x2="134.50" y2="463.10" stroke="#000" stroke-width="0.6" />
<line x1="132.90" y1="463.30" x2="136.10" y2="463.30" stroke="#000" stroke-width="0.6" />
<line x1="132.90" y1="463.10" x2="136.10" y2="463.10" stroke="#000" stroke-width="0.6" />
<rect x="142.30" y="463.20" width="8.00" height="0.20" fill="#fff" stroke="#555" stroke-width="0.6" />
<g fill="#ff0000"><circle cx="142.55" cy="463.40" r="1.25"/><circle cx="144.42" cy="463.40" r="1.25"/><circle cx="146.30" cy="463.40" r="1.25"/><circle cx="148.17" cy="463.40" r="1.25"/><circle cx="150.05" cy="463.40" r="1.25"/></g>
<line x1="146.30" y1="463.30" x2="146.30" y2="463.10" stroke="#000" stroke-width="0.6" />
<line x1="144.70" y1="463.30" x2="147.90" y2="463.30" stroke="#000" stroke-width="0.6" />
<line x1="144.70" y1="463.10" x2="147.90" y2="463.10" stroke="#000" stroke-width="0.6" />
<rect x="154.10" y="463.20" width="8.00" height="0.20" fill="#fff" stroke="#555" stroke-width="0.6" />
<g fill="#7222a0"><circle cx="154.35" cy="463.40" r="1.25"/><circle cx="156.22" cy="463.40" r="1.25"/><circle cx="158.10" cy="463.40" r="1.25"/><circle cx="159.97" cy="463.40" r="1.25"/><circle cx="161.85" cy="463.40" r="1.25"/></g>
<line x1="158.10" y1="463.30" x2="158.10" y2="463.10" stroke="#000" stroke-width="0.6" />
<line x1="156.50" y1="463.30" x2="159.70" y2="463.30" stroke="#000" stroke-width="0.6" />
<line x1="156.50" y1="463.10" x2="159.70" y2="463.10" stroke="#000" stroke-width="0.6" />
<rect x="165.80" y="432.40" width="8.00" height="31.00" fill="#fff" stroke="#555" stroke-width="0.6" />
<g fill="#ff0000"><circle cx="169.80" cy="397.92" r="1.25"/><circle cx="169.80" cy="428.40" r="1.25"/><circle cx="169.80" cy="437.40" r="1.25"/><circle cx="169.80" cy="439.40" r="1.25"/><circle cx="169.80" cy="443.40" r="1.25"/><circle cx="169.80" cy="458.40" r="1.25"/><circle cx="169.80" cy="460.40" r="1.25"/><circle cx="169.80" cy="462.40" r="1.25"/></g>
<line x1="169.80" y1="446.90" x2="169.80" y2="417.90" stroke="#000" stroke-width="0.6" />
<line x1="168.20" y1="446.90" x2="171.40" y2="446.90" stroke="#000" stroke-width="0.6" />
<line x1="168.20" y1="417.90" x2="171.40" y2="417.90" stroke="#000" stroke-width="0.6" />
<line x1="134.50" y1="393.40" x2="169.80" y2="393.40" stroke="#000" stroke-width="0.6" />
<text transform="translate(152.15,394.40) scale(1,1.07)" font-size="9.00" text-anchor="middle" fill="#000" stroke="#000" stroke-width="0.25">*</text>
<line x1="199.60" y1="395.40" x2="199.60" y2="408.00" stroke="#444" stroke-width="0.65" />
<line x1="197.70" y1="408.00" x2="201.50" y2="408.00" stroke="#000" stroke-width="0.6" />
<line x1="199.60" y1="414.20" x2="199.60" y2="463.40" stroke="#444" stroke-width="0.65" />
<line x1="197.70" y1="414.20" x2="201.50" y2="414.20" stroke="#000" stroke-width="0.6" />
<line x1="196.10" y1="395.40" x2="199.60" y2="395.40" stroke="#000" stroke-width="0.55" />
<text transform="translate(193.10,398.35) scale(1,1.1)" font-size="7.70" text-anchor="end" fill="#000" stroke="#000" stroke-width="0.07" >150</text>
<line x1="196.10" y1="405.20" x2="199.60" y2="405.20" stroke="#000" stroke-width="0.55" />
<text transform="translate(193.10,408.15) scale(1,1.1)" font-size="7.70" text-anchor="end" fill="#000" stroke="#000" stroke-width="0.07" >75</text>
<text transform="translate(193.10,417.15) scale(1,1.1)" font-size="7.70" text-anchor="end" fill="#000" stroke="#000" stroke-width="0.07" >50</text>
<line x1="196.10" y1="423.60" x2="199.60" y2="423.60" stroke="#000" stroke-width="0.55" />
<text transform="translate(193.10,426.55) scale(1,1.1)" font-size="7.70" text-anchor="end" fill="#000" stroke="#000" stroke-width="0.07" >40</text>
<line x1="196.10" y1="433.40" x2="199.60" y2="433.40" stroke="#000" stroke-width="0.55" />
<text transform="translate(193.10,436.35) scale(1,1.1)" font-size="7.70" text-anchor="end" fill="#000" stroke="#000" stroke-width="0.07" >30</text>
<line x1="196.10" y1="443.30" x2="199.60" y2="443.30" stroke="#000" stroke-width="0.55" />
<text transform="translate(193.10,446.25) scale(1,1.1)" font-size="7.70" text-anchor="end" fill="#000" stroke="#000" stroke-width="0.07" >20</text>
<line x1="196.10" y1="453.30" x2="199.60" y2="453.30" stroke="#000" stroke-width="0.55" />
<text transform="translate(193.10,456.25) scale(1,1.1)" font-size="7.70" text-anchor="end" fill="#000" stroke="#000" stroke-width="0.07" >10</text>
<line x1="196.10" y1="463.40" x2="199.60" y2="463.40" stroke="#000" stroke-width="0.55" />
<text transform="translate(193.10,466.35) scale(1,1.1)" font-size="7.70" text-anchor="end" fill="#000" stroke="#000" stroke-width="0.07" >0</text>
<line x1="199.60" y1="463.40" x2="251.50" y2="463.40" stroke="#444" stroke-width="0.65" />
<line x1="207.50" y1="463.40" x2="207.50" y2="465.40" stroke="#444" stroke-width="0.6" />
<line x1="219.30" y1="463.40" x2="219.30" y2="465.40" stroke="#444" stroke-width="0.6" />
<line x1="231.10" y1="463.40" x2="231.10" y2="465.40" stroke="#444" stroke-width="0.6" />
<line x1="242.80" y1="463.40" x2="242.80" y2="465.40" stroke="#444" stroke-width="0.6" />
<rect x="203.50" y="463.20" width="8.00" height="0.20" fill="#fff" stroke="#555" stroke-width="0.6" />
<g fill="#000"><circle cx="203.75" cy="463.40" r="1.25"/><circle cx="205.25" cy="463.40" r="1.25"/><circle cx="206.75" cy="463.40" r="1.25"/><circle cx="208.25" cy="463.40" r="1.25"/><circle cx="209.75" cy="463.40" r="1.25"/><circle cx="211.25" cy="463.40" r="1.25"/></g>
<line x1="207.50" y1="463.30" x2="207.50" y2="463.10" stroke="#000" stroke-width="0.6" />
<line x1="205.90" y1="463.30" x2="209.10" y2="463.30" stroke="#000" stroke-width="0.6" />
<line x1="205.90" y1="463.10" x2="209.10" y2="463.10" stroke="#000" stroke-width="0.6" />
<rect x="215.30" y="463.20" width="8.00" height="0.20" fill="#fff" stroke="#555" stroke-width="0.6" />
<g fill="#f04848"><circle cx="215.55" cy="463.40" r="1.25"/><circle cx="217.42" cy="463.40" r="1.25"/><circle cx="219.30" cy="463.40" r="1.25"/><circle cx="221.17" cy="463.40" r="1.25"/><circle cx="223.05" cy="463.40" r="1.25"/></g>
<line x1="219.30" y1="463.30" x2="219.30" y2="463.10" stroke="#000" stroke-width="0.6" />
<line x1="217.70" y1="463.30" x2="220.90" y2="463.30" stroke="#000" stroke-width="0.6" />
<line x1="217.70" y1="463.10" x2="220.90" y2="463.10" stroke="#000" stroke-width="0.6" />
<rect x="227.10" y="463.20" width="8.00" height="0.20" fill="#fff" stroke="#555" stroke-width="0.6" />
<g fill="#7222a0"><circle cx="227.35" cy="463.40" r="1.25"/><circle cx="229.22" cy="463.40" r="1.25"/><circle cx="231.10" cy="463.40" r="1.25"/><circle cx="232.97" cy="463.40" r="1.25"/><circle cx="234.85" cy="463.40" r="1.25"/></g>
<line x1="231.10" y1="463.30" x2="231.10" y2="463.10" stroke="#000" stroke-width="0.6" />
<line x1="229.50" y1="463.30" x2="232.70" y2="463.30" stroke="#000" stroke-width="0.6" />
<line x1="229.50" y1="463.10" x2="232.70" y2="463.10" stroke="#000" stroke-width="0.6" />
<rect x="238.80" y="418.14" width="8.00" height="45.26" fill="#fff" stroke="#555" stroke-width="0.6" />
<g fill="#ff0000"><circle cx="242.80" cy="399.32" r="1.25"/><circle cx="242.80" cy="403.24" r="1.25"/><circle cx="240.40" cy="426.99" r="1.25"/><circle cx="242.80" cy="427.98" r="1.25"/><circle cx="245.20" cy="427.98" r="1.25"/><circle cx="242.80" cy="429.94" r="1.25"/><circle cx="242.80" cy="432.90" r="1.25"/><circle cx="242.80" cy="461.43" r="1.25"/></g>
<line x1="242.80" y1="429.94" x2="242.80" y2="407.42" stroke="#000" stroke-width="0.6" />
<line x1="241.20" y1="429.94" x2="244.40" y2="429.94" stroke="#000" stroke-width="0.6" />
<line x1="241.20" y1="407.42" x2="244.40" y2="407.42" stroke="#000" stroke-width="0.6" />
<line x1="207.50" y1="393.40" x2="242.80" y2="393.40" stroke="#000" stroke-width="0.6" />
<text transform="translate(225.15,394.40) scale(1,1.07)" font-size="9.00" text-anchor="middle" fill="#000" stroke="#000" stroke-width="0.25">***</text>
<text x="284.20" y="261.80" font-size="10.50" text-anchor="start" fill="#000" stroke="#000" font-weight="bold" stroke-width="0.55">d</text>
<use href="#mouseside" transform="matrix(-0.95,0,0,0.95,413.98,260.76)"/>
<text transform="translate(311.20,343.60) scale(1,1.07)" font-size="7.80" text-anchor="middle" fill="#000" stroke="#000" stroke-width="0.07" >C57BL/6</text>
<g id="mousetop">
<path d="M397.8,284.6 C404,284.4 412,283.8 419.8,282.3" fill="none" stroke="#c98b86" stroke-width="0.8" stroke-linecap="round"/>
<path d="M375.8,278.4 L374.5,275.2 M375.8,290.8 L374.5,294.0 M396.0,279.2 L398.3,275.6 L399.4,274.5 M396.0,290.0 L398.3,293.6 L399.4,294.7" fill="none" stroke="#c98b86" stroke-width="0.9" stroke-linecap="round"/>
<circle cx="374.3" cy="274.8" r="0.8" fill="#d49a95"/><circle cx="374.3" cy="294.4" r="0.8" fill="#d49a95"/>
<path d="M366.10,284.60C366.35,284.33 366.93,283.50 367.60,283.00C368.27,282.50 369.27,282.03 370.10,281.60C370.93,281.17 371.85,280.83 372.60,280.40C373.35,279.97 374.00,279.42 374.60,279.00C375.20,278.58 375.70,277.97 376.20,277.90C376.70,277.83 377.03,278.32 377.60,278.60C378.17,278.88 378.93,279.42 379.60,279.60C380.27,279.78 380.87,279.87 381.60,279.70C382.33,279.53 383.13,278.95 384.00,278.60C384.87,278.25 385.80,277.87 386.80,277.60C387.80,277.33 388.97,277.10 390.00,277.00C391.03,276.90 392.10,276.83 393.00,277.00C393.90,277.17 394.73,277.50 395.40,278.00C396.07,278.50 396.58,279.27 397.00,280.00C397.42,280.73 397.70,281.63 397.90,282.40C398.10,283.17 398.35,283.47 398.20,284.60C398.05,285.73 397.47,288.10 397.00,289.20C396.53,290.30 396.07,290.70 395.40,291.20C394.73,291.70 393.90,292.03 393.00,292.20C392.10,292.37 391.03,292.30 390.00,292.20C388.97,292.10 387.80,291.87 386.80,291.60C385.80,291.33 384.87,290.95 384.00,290.60C383.13,290.25 382.33,289.67 381.60,289.50C380.87,289.33 380.27,289.42 379.60,289.60C378.93,289.78 378.17,290.32 377.60,290.60C377.03,290.88 376.70,291.37 376.20,291.30C375.70,291.23 375.20,290.62 374.60,290.20C374.00,289.78 373.35,289.23 372.60,288.80C371.85,288.37 370.93,288.03 370.10,287.60C369.27,287.17 368.27,286.70 367.60,286.20C366.93,285.70 366.35,284.87 366.10,284.60C365.85,284.33 365.85,284.87 366.10,284.60Z" fill="#4d4745"/>
<ellipse cx="371.3" cy="280.6" rx="0.9" ry="0.7" fill="#c98b86"/>
<ellipse cx="371.3" cy="288.6" rx="0.9" ry="0.7" fill="#c98b86"/>
</g>
<line x1="370.20" y1="259.10" x2="384.30" y2="278.60" stroke="#9a9a9a" stroke-width="0.9" />
<line x1="378.60" y1="270.90" x2="382.30" y2="276.10" stroke="#2eb84a" stroke-width="1.1" />
<line x1="370.20" y1="259.10" x2="376.50" y2="267.90" stroke="#d0d0d0" stroke-width="0.5" />
<use href="#mousetop" transform="translate(95.3,0)"/>
<line x1="455.20" y1="259.60" x2="469.00" y2="277.50" stroke="#9a9a9a" stroke-width="0.9" />
<line x1="464.40" y1="271.60" x2="468.00" y2="276.50" stroke="#2eb84a" stroke-width="1.1" />
<text transform="translate(368.90,303.70) scale(1,1.07)" font-size="7.60" text-anchor="start" fill="#ff0000" stroke="#ff0000" stroke-width="0.07" >MOG<tspan font-size="5.1" dy="2.0">35–55</tspan><tspan dy="-2.0"> (IP)</tspan></text>
<text transform="translate(441.60,303.20) scale(1,1.07)" font-size="7.80" text-anchor="start" fill="#ff0000" stroke="#ff0000" stroke-width="0.07" >MOG<tspan font-size="5.2" dy="2.0">35–55</tspan><tspan dy="-2.0"> + CFA (SC)</tspan></text>
<line x1="351.50" y1="320.40" x2="600.50" y2="320.40" stroke="#000" stroke-width="0.8" />
<path d="M604.3,320.4 L600.2,318.7 L600.2,322.1 Z" fill="#000" stroke="none" stroke-width="0.7" />
<line x1="443.90" y1="326.70" x2="456.60" y2="314.30" stroke="#000" stroke-width="0.7" />
<line x1="450.40" y1="326.70" x2="463.60" y2="314.30" stroke="#000" stroke-width="0.7" />
<text transform="translate(335.50,330.20) scale(1,1.07)" font-size="7.80" text-anchor="start" fill="#000" stroke="#000" stroke-width="0.07" >Day</text>
<text transform="translate(365.30,330.20) scale(1,1.07)" font-size="7.80" text-anchor="middle" fill="#000" stroke="#000" stroke-width="0.07" >–15</text>
<line x1="365.30" y1="307.00" x2="365.30" y2="314.60" stroke="#f42020" stroke-width="1.0" />
<path d="M365.30,317.80 L363.20,313.80 L367.40,313.80 Z" fill="#f42020" stroke="none" stroke-width="0.7" />
<line x1="365.30" y1="346.40" x2="365.30" y2="336.20" stroke="#2222f2" stroke-width="1.0" />
<path d="M365.30,333.00 L363.20,337.00 L367.40,337.00 Z" fill="#2222f2" stroke="none" stroke-width="0.7" />
<text transform="translate(379.90,330.20) scale(1,1.07)" font-size="7.80" text-anchor="middle" fill="#000" stroke="#000" stroke-width="0.07" >–13</text>
<line x1="379.90" y1="307.00" x2="379.90" y2="314.60" stroke="#f42020" stroke-width="1.0" />
<path d="M379.90,317.80 L377.80,313.80 L382.00,313.80 Z" fill="#f42020" stroke="none" stroke-width="0.7" />
<line x1="379.90" y1="346.40" x2="379.90" y2="336.20" stroke="#2222f2" stroke-width="1.0" />
<path d="M379.90,333.00 L377.80,337.00 L382.00,337.00 Z" fill="#2222f2" stroke="none" stroke-width="0.7" />
<text transform="translate(394.70,330.20) scale(1,1.07)" font-size="7.80" text-anchor="middle" fill="#000" stroke="#000" stroke-width="0.07" >–11</text>
<line x1="394.70" y1="307.00" x2="394.70" y2="314.60" stroke="#f42020" stroke-width="1.0" />
<path d="M394.70,317.80 L392.60,313.80 L396.80,313.80 Z" fill="#f42020" stroke="none" stroke-width="0.7" />
<line x1="394.70" y1="346.40" x2="394.70" y2="336.20" stroke="#2222f2" stroke-width="1.0" />
<path d="M394.70,333.00 L392.60,337.00 L396.80,337.00 Z" fill="#2222f2" stroke="none" stroke-width="0.7" />
<text transform="translate(409.30,330.20) scale(1,1.07)" font-size="7.80" text-anchor="middle" fill="#000" stroke="#000" stroke-width="0.07" >–9</text>
<line x1="409.30" y1="307.00" x2="409.30" y2="314.60" stroke="#f42020" stroke-width="1.0" />
<path d="M409.30,317.80 L407.20,313.80 L411.40,313.80 Z" fill="#f42020" stroke="none" stroke-width="0.7" />
<line x1="409.30" y1="346.40" x2="409.30" y2="336.20" stroke="#2222f2" stroke-width="1.0" />
<path d="M409.30,333.00 L407.20,337.00 L411.40,337.00 Z" fill="#2222f2" stroke="none" stroke-width="0.7" />
<text transform="translate(424.20,330.20) scale(1,1.07)" font-size="7.80" text-anchor="middle" fill="#000" stroke="#000" stroke-width="0.07" >–7</text>
<line x1="424.20" y1="307.00" x2="424.20" y2="314.60" stroke="#f42020" stroke-width="1.0" />
<path d="M424.20,317.80 L422.10,313.80 L426.30,313.80 Z" fill="#f42020" stroke="none" stroke-width="0.7" />
<line x1="424.20" y1="346.40" x2="424.20" y2="336.20" stroke="#2222f2" stroke-width="1.0" />
<path d="M424.20,333.00 L422.10,337.00 L426.30,337.00 Z" fill="#2222f2" stroke="none" stroke-width="0.7" />
<text transform="translate(395.30,356.40) scale(1,1.07)" font-size="7.80" text-anchor="middle" fill="#2222f2" stroke="#2222f2" stroke-width="0.07" >Protein (IP)</text>
<line x1="483.00" y1="307.00" x2="483.00" y2="314.80" stroke="#f42020" stroke-width="1.0" />
<path d="M483.00,318.00 L480.90,314.00 L485.10,314.00 Z" fill="#f42020" stroke="none" stroke-width="0.7" />
<text transform="translate(483.20,330.20) scale(1,1.07)" font-size="7.80" text-anchor="middle" fill="#000" stroke="#000" stroke-width="0.07" >0</text>
<text transform="translate(497.50,330.20) scale(1,1.07)" font-size="7.80" text-anchor="middle" fill="#000" stroke="#000" stroke-width="0.07" >2</text>
<line x1="483.00" y1="346.60" x2="483.00" y2="336.20" stroke="#7b2d9b" stroke-width="1.0" />
<path d="M483.00,333.00 L480.90,337.00 L485.10,337.00 Z" fill="#7b2d9b" stroke="none" stroke-width="0.7" />
<line x1="497.20" y1="346.60" x2="497.20" y2="336.20" stroke="#7b2d9b" stroke-width="1.0" />
<path d="M497.20,333.00 L495.10,337.00 L499.30,337.00 Z" fill="#7b2d9b" stroke="none" stroke-width="0.7" />
<text transform="translate(491.80,357.00) scale(1,1.07)" font-size="7.80" text-anchor="middle" fill="#7b2d9b" stroke="#7b2d9b" stroke-width="0.07" >PTX (IP)</text>
<g>
<path d="M607.5,299.0 l-3.2,-0.5 M607.9,300.6 l-3.0,-0.4 M608.3,302.2 l-2.7,-0.3 M608.6,303.8 l-3.4,-0.3 M609.0,305.4 l-3.1,-0.6 M609.3,307.0 l-2.9,-0.5 M609.6,308.6 l-2.7,-0.4 M609.8,310.2 l-3.3,-0.3 M610.0,311.8 l-3.1,-0.3 M610.2,313.4 l-2.8,-0.6 M610.4,315.0 l-2.6,-0.5 M610.4,316.6 l-3.3,-0.4 M610.5,318.2 l-3.0,-0.3 M610.5,319.8 l-2.8,-0.3 M610.4,321.4 l-3.4,-0.6 M610.4,323.0 l-3.2,-0.5 M610.2,324.6 l-3.0,-0.4 M610.0,326.2 l-2.7,-0.3 M609.8,327.8 l-3.4,-0.3 M609.6,329.4 l-3.1,-0.6 M609.3,331.0 l-2.9,-0.5 M609.0,332.6 l-2.7,-0.4 M608.6,334.2 l-3.3,-0.3 M608.3,335.8 l-3.1,-0.3 M607.9,337.4 l-2.8,-0.6 M607.5,339.0 l-2.6,-0.5 M607.1,340.6 l-3.3,-0.4 M606.7,342.2 l-3.0,-0.3 " stroke="#f0d0d4" stroke-width="0.5" fill="none"/>
<path d="M609.3,300.0 l1.6,0.4 M609.9,302.4 l1.6,0.4 M610.5,304.8 l1.6,0.4 M610.9,307.2 l1.6,0.4 M611.3,309.6 l1.6,0.4 M611.7,312.0 l1.6,0.4 M611.9,314.4 l1.6,0.4 M612.1,316.8 l1.6,0.4 M612.1,319.2 l1.6,0.4 M612.0,321.6 l1.6,0.4 M611.9,324.0 l1.6,0.4 M611.6,326.4 l1.6,0.4 M611.3,328.8 l1.6,0.4 M610.9,331.2 l1.6,0.4 M610.4,333.6 l1.6,0.4 M609.8,336.0 l1.6,0.4 M609.2,338.4 l1.6,0.4 M608.6,340.8 l1.6,0.4 M608.0,343.2 l1.6,0.4 " stroke="#f2dadd" stroke-width="0.4" fill="none"/>
<path d="M607.3,296.0 C607.3,303 610.2,309 610.8,317 C611.4,325 609.4,332 610.4,338 C611,341.5 612.3,343.8 612.9,345.3" fill="none" stroke="#d49aa2" stroke-width="1.5" stroke-linecap="round"/>
<path d="M597.2,290.5 C596.6,287.5 599.5,285.2 603.5,285.0 C608.5,284.8 612.6,286.8 612.9,290.3 C613.1,292.8 612.4,295.5 610.6,296.8 C609.3,297.6 607.5,297.6 606.4,296.6 C605.5,295.6 603.5,295.2 601.5,294.8 C599.2,294.2 597.6,292.8 597.2,290.5 Z" fill="#cf8f98"/>
<path d="M606.8,294.2 C608.5,293.2 611.5,293.6 612.3,295.2 C611.5,297.2 608.5,297.8 606.8,296.5 Z" fill="#b87580"/>
<path d="M599,289.2 C601.5,287.6 606,287.4 609.5,288.4 M598.8,291.6 C602,290.6 606.5,290.8 610.5,291.6" stroke="#bf7d88" stroke-width="0.45" fill="none"/>
</g>
<text transform="translate(632.20,307.50) scale(1,1.07)" font-size="7.80" text-anchor="middle" fill="#000" stroke="#000" stroke-width="0.07" >CNS</text>
<text transform="translate(631.80,335.00) scale(1,1.07)" font-size="7.80" text-anchor="middle" fill="#000" stroke="#000" stroke-width="0.07" >Day 25</text>
<text transform="translate(632.20,343.70) scale(1,1.07)" font-size="7.80" text-anchor="middle" fill="#000" stroke="#000" stroke-width="0.07" >analysis</text>
<text x="299.60" y="372.30" font-size="10.50" text-anchor="start" fill="#000" stroke="#000" font-weight="bold" stroke-width="0.55">e</text>
<line x1="332.30" y1="371.70" x2="339.30" y2="371.70" stroke="#000" stroke-width="0.6" />
<circle cx="336.00" cy="371.70" r="1.1" fill="#000" stroke="none" stroke-width="0.6" />
<text transform="translate(344.00,374.90) scale(1,1.07)" font-size="7.80" text-anchor="start" fill="#000" stroke="#000" stroke-width="0.07" >PBS</text>
<line x1="332.30" y1="382.80" x2="339.30" y2="382.80" stroke="#ff8080" stroke-width="0.6" />
<circle cx="336.00" cy="382.80" r="1.1" fill="#ff0000" stroke="none" stroke-width="0.6" />
<text transform="translate(344.00,385.80) scale(1,1.07)" font-size="7.80" text-anchor="start" fill="#000" stroke="#000" stroke-width="0.07" >TGM1–IL-2(WT)</text>
<line x1="332.20" y1="387.60" x2="332.20" y2="473.50" stroke="#444" stroke-width="0.65" />
<line x1="328.70" y1="473.50" x2="332.20" y2="473.50" stroke="#000" stroke-width="0.55" />
<text transform="translate(325.70,476.45) scale(1,1.1)" font-size="7.70" text-anchor="end" fill="#000" stroke="#000" stroke-width="0.07" >0</text>
<line x1="328.70" y1="456.30" x2="332.20" y2="456.30" stroke="#000" stroke-width="0.55" />
<text transform="translate(325.70,459.25) scale(1,1.1)" font-size="7.70" text-anchor="end" fill="#000" stroke="#000" stroke-width="0.07" >0.5</text>
<line x1="328.70" y1="439.10" x2="332.20" y2="439.10" stroke="#000" stroke-width="0.55" />
<text transform="translate(325.70,442.05) scale(1,1.1)" font-size="7.70" text-anchor="end" fill="#000" stroke="#000" stroke-width="0.07" >1.0</text>
<line x1="328.70" y1="421.90" x2="332.20" y2="421.90" stroke="#000" stroke-width="0.55" />
<text transform="translate(325.70,424.85) scale(1,1.1)" font-size="7.70" text-anchor="end" fill="#000" stroke="#000" stroke-width="0.07" >1.5</text>
<line x1="328.70" y1="404.70" x2="332.20" y2="404.70" stroke="#000" stroke-width="0.55" />
<text transform="translate(325.70,407.65) scale(1,1.1)" font-size="7.70" text-anchor="end" fill="#000" stroke="#000" stroke-width="0.07" >2.0</text>
<line x1="328.70" y1="387.50" x2="332.20" y2="387.50" stroke="#000" stroke-width="0.55" />
<text transform="translate(325.70,390.45) scale(1,1.1)" font-size="7.70" text-anchor="end" fill="#000" stroke="#000" stroke-width="0.07" >2.5</text>
<line x1="332.20" y1="473.50" x2="361.20" y2="473.50" stroke="#000" stroke-width="0.6" />
<line x1="366.40" y1="473.50" x2="488.50" y2="473.50" stroke="#000" stroke-width="0.6" />
<line x1="332.40" y1="473.50" x2="332.40" y2="475.50" stroke="#000" stroke-width="0.6" />
<line x1="349.05" y1="473.50" x2="349.05" y2="475.50" stroke="#000" stroke-width="0.6" />
<line x1="375.10" y1="473.50" x2="375.10" y2="475.50" stroke="#000" stroke-width="0.6" />
<line x1="412.35" y1="473.50" x2="412.35" y2="475.50" stroke="#000" stroke-width="0.6" />
<line x1="449.60" y1="473.50" x2="449.60" y2="475.50" stroke="#000" stroke-width="0.6" />
<line x1="486.85" y1="473.50" x2="486.85" y2="475.50" stroke="#000" stroke-width="0.6" />
<line x1="335.73" y1="473.50" x2="335.73" y2="474.60" stroke="#000" stroke-width="0.5" />
<line x1="339.06" y1="473.50" x2="339.06" y2="474.60" stroke="#000" stroke-width="0.5" />
<line x1="342.39" y1="473.50" x2="342.39" y2="474.60" stroke="#000" stroke-width="0.5" />
<line x1="345.72" y1="473.50" x2="345.72" y2="474.60" stroke="#000" stroke-width="0.5" />
<line x1="352.38" y1="473.50" x2="352.38" y2="474.60" stroke="#000" stroke-width="0.5" />
<line x1="355.71" y1="473.50" x2="355.71" y2="474.60" stroke="#000" stroke-width="0.5" />
<line x1="359.04" y1="473.50" x2="359.04" y2="474.60" stroke="#000" stroke-width="0.5" />
<line x1="367.65" y1="473.50" x2="367.65" y2="474.60" stroke="#000" stroke-width="0.5" />
<line x1="382.55" y1="473.50" x2="382.55" y2="474.60" stroke="#000" stroke-width="0.5" />
<line x1="390.00" y1="473.50" x2="390.00" y2="474.60" stroke="#000" stroke-width="0.5" />
<line x1="397.45" y1="473.50" x2="397.45" y2="474.60" stroke="#000" stroke-width="0.5" />
<line x1="404.90" y1="473.50" x2="404.90" y2="474.60" stroke="#000" stroke-width="0.5" />
<line x1="419.80" y1="473.50" x2="419.80" y2="474.60" stroke="#000" stroke-width="0.5" />
<line x1="427.25" y1="473.50" x2="427.25" y2="474.60" stroke="#000" stroke-width="0.5" />
<line x1="434.70" y1="473.50" x2="434.70" y2="474.60" stroke="#000" stroke-width="0.5" />
<line x1="442.15" y1="473.50" x2="442.15" y2="474.60" stroke="#000" stroke-width="0.5" />
<line x1="457.05" y1="473.50" x2="457.05" y2="474.60" stroke="#000" stroke-width="0.5" />
<line x1="464.50" y1="473.50" x2="464.50" y2="474.60" stroke="#000" stroke-width="0.5" />
<line x1="471.95" y1="473.50" x2="471.95" y2="474.60" stroke="#000" stroke-width="0.5" />
<line x1="479.40" y1="473.50" x2="479.40" y2="474.60" stroke="#000" stroke-width="0.5" />
<line x1="361.20" y1="472.20" x2="361.20" y2="474.80" stroke="#000" stroke-width="0.5" />
<line x1="366.40" y1="472.20" x2="366.40" y2="474.80" stroke="#000" stroke-width="0.5" />
<text transform="translate(332.40,483.60) scale(1,1.07)" font-size="7.80" text-anchor="middle" fill="#000" stroke="#000" stroke-width="0.07" >0</text>
<text transform="translate(349.05,483.60) scale(1,1.07)" font-size="7.80" text-anchor="middle" fill="#000" stroke="#000" stroke-width="0.07" >5</text>
<text transform="translate(375.10,483.60) scale(1,1.07)" font-size="7.80" text-anchor="middle" fill="#000" stroke="#000" stroke-width="0.07" >10</text>
<text transform="translate(412.35,483.60) scale(1,1.07)" font-size="7.80" text-anchor="middle" fill="#000" stroke="#000" stroke-width="0.07" >15</text>
<text transform="translate(449.60,483.60) scale(1,1.07)" font-size="7.80" text-anchor="middle" fill="#000" stroke="#000" stroke-width="0.07" >20</text>
<text transform="translate(486.85,483.60) scale(1,1.07)" font-size="7.80" text-anchor="middle" fill="#000" stroke="#000" stroke-width="0.07" >25</text>
<text transform="translate(410.30,500.00) scale(1,1.07)" font-size="7.80" text-anchor="middle" fill="#000" stroke="#000" stroke-width="0.07" >Time (days)</text>
<text x="0.00" y="0.00" font-size="7.80" text-anchor="middle" fill="#000" stroke="#000" stroke-width="0.07" transform="translate(308.2,431) rotate(-90) scale(1,1.07)">EAE score</text>
<polyline points="367.65,473.50 375.10,465.59 382.55,464.21 390.00,463.87 397.45,458.02 404.90,456.64 412.35,454.58 419.80,456.64 427.25,459.40 434.70,459.40 442.15,459.40 449.60,459.40 457.05,458.02 464.50,460.77 471.95,458.02 479.40,460.77 486.85,462.49" fill="none" stroke="#000" stroke-width="0.6"/>
<line x1="375.10" y1="473.16" x2="375.10" y2="458.02" stroke="#ff2020" stroke-width="0.7" />
<line x1="373.70" y1="473.16" x2="376.50" y2="473.16" stroke="#ff2020" stroke-width="0.7" />
<line x1="373.70" y1="458.02" x2="376.50" y2="458.02" stroke="#ff2020" stroke-width="0.7" />
<line x1="382.55" y1="473.84" x2="382.55" y2="454.58" stroke="#ff2020" stroke-width="0.7" />
<line x1="381.15" y1="473.84" x2="383.95" y2="473.84" stroke="#ff2020" stroke-width="0.7" />
<line x1="381.15" y1="454.58" x2="383.95" y2="454.58" stroke="#ff2020" stroke-width="0.7" />
<line x1="390.00" y1="474.19" x2="390.00" y2="453.55" stroke="#ff2020" stroke-width="0.7" />
<line x1="388.60" y1="474.19" x2="391.40" y2="474.19" stroke="#ff2020" stroke-width="0.7" />
<line x1="388.60" y1="453.55" x2="391.40" y2="453.55" stroke="#ff2020" stroke-width="0.7" />
<line x1="397.45" y1="468.34" x2="397.45" y2="447.70" stroke="#ff2020" stroke-width="0.7" />
<line x1="396.05" y1="468.34" x2="398.85" y2="468.34" stroke="#ff2020" stroke-width="0.7" />
<line x1="396.05" y1="447.70" x2="398.85" y2="447.70" stroke="#ff2020" stroke-width="0.7" />
<line x1="404.90" y1="468.68" x2="404.90" y2="444.60" stroke="#ff2020" stroke-width="0.7" />
<line x1="403.50" y1="468.68" x2="406.30" y2="468.68" stroke="#ff2020" stroke-width="0.7" />
<line x1="403.50" y1="444.60" x2="406.30" y2="444.60" stroke="#ff2020" stroke-width="0.7" />
<line x1="412.35" y1="467.31" x2="412.35" y2="441.85" stroke="#ff2020" stroke-width="0.7" />
<line x1="410.95" y1="467.31" x2="413.75" y2="467.31" stroke="#ff2020" stroke-width="0.7" />
<line x1="410.95" y1="441.85" x2="413.75" y2="441.85" stroke="#ff2020" stroke-width="0.7" />
<line x1="419.80" y1="468.00" x2="419.80" y2="445.29" stroke="#ff2020" stroke-width="0.7" />
<line x1="418.40" y1="468.00" x2="421.20" y2="468.00" stroke="#ff2020" stroke-width="0.7" />
<line x1="418.40" y1="445.29" x2="421.20" y2="445.29" stroke="#ff2020" stroke-width="0.7" />
<line x1="427.25" y1="469.03" x2="427.25" y2="449.76" stroke="#ff2020" stroke-width="0.7" />
<line x1="425.85" y1="469.03" x2="428.65" y2="469.03" stroke="#ff2020" stroke-width="0.7" />
<line x1="425.85" y1="449.76" x2="428.65" y2="449.76" stroke="#ff2020" stroke-width="0.7" />
<line x1="434.70" y1="469.03" x2="434.70" y2="449.76" stroke="#ff2020" stroke-width="0.7" />
<line x1="433.30" y1="469.03" x2="436.10" y2="469.03" stroke="#ff2020" stroke-width="0.7" />
<line x1="433.30" y1="449.76" x2="436.10" y2="449.76" stroke="#ff2020" stroke-width="0.7" />
<line x1="442.15" y1="469.03" x2="442.15" y2="449.76" stroke="#ff2020" stroke-width="0.7" />
<line x1="440.75" y1="469.03" x2="443.55" y2="469.03" stroke="#ff2020" stroke-width="0.7" />
<line x1="440.75" y1="449.76" x2="443.55" y2="449.76" stroke="#ff2020" stroke-width="0.7" />
<line x1="449.60" y1="469.03" x2="449.60" y2="449.76" stroke="#ff2020" stroke-width="0.7" />
<line x1="448.20" y1="469.03" x2="451.00" y2="469.03" stroke="#ff2020" stroke-width="0.7" />
<line x1="448.20" y1="449.76" x2="451.00" y2="449.76" stroke="#ff2020" stroke-width="0.7" />
<line x1="457.05" y1="468.68" x2="457.05" y2="447.36" stroke="#ff2020" stroke-width="0.7" />
<line x1="455.65" y1="468.68" x2="458.45" y2="468.68" stroke="#ff2020" stroke-width="0.7" />
<line x1="455.65" y1="447.36" x2="458.45" y2="447.36" stroke="#ff2020" stroke-width="0.7" />
<line x1="464.50" y1="470.40" x2="464.50" y2="451.14" stroke="#ff2020" stroke-width="0.7" />
<line x1="463.10" y1="470.40" x2="465.90" y2="470.40" stroke="#ff2020" stroke-width="0.7" />
<line x1="463.10" y1="451.14" x2="465.90" y2="451.14" stroke="#ff2020" stroke-width="0.7" />
<line x1="471.95" y1="468.68" x2="471.95" y2="447.36" stroke="#ff2020" stroke-width="0.7" />
<line x1="470.55" y1="468.68" x2="473.35" y2="468.68" stroke="#ff2020" stroke-width="0.7" />
<line x1="470.55" y1="447.36" x2="473.35" y2="447.36" stroke="#ff2020" stroke-width="0.7" />
<line x1="479.40" y1="470.40" x2="479.40" y2="451.14" stroke="#ff2020" stroke-width="0.7" />
<line x1="478.00" y1="470.40" x2="480.80" y2="470.40" stroke="#ff2020" stroke-width="0.7" />
<line x1="478.00" y1="451.14" x2="480.80" y2="451.14" stroke="#ff2020" stroke-width="0.7" />
<line x1="486.85" y1="470.75" x2="486.85" y2="454.24" stroke="#ff2020" stroke-width="0.7" />
<line x1="485.45" y1="470.75" x2="488.25" y2="470.75" stroke="#ff2020" stroke-width="0.7" />
<line x1="485.45" y1="454.24" x2="488.25" y2="454.24" stroke="#ff2020" stroke-width="0.7" />
<g fill="#ff0000"><circle cx="367.65" cy="473.50" r="1.25"/><circle cx="375.10" cy="465.59" r="1.25"/><circle cx="382.55" cy="464.21" r="1.25"/><circle cx="390.00" cy="463.87" r="1.25"/><circle cx="397.45" cy="458.02" r="1.25"/><circle cx="404.90" cy="456.64" r="1.25"/><circle cx="412.35" cy="454.58" r="1.25"/><circle cx="419.80" cy="456.64" r="1.25"/><circle cx="427.25" cy="459.40" r="1.25"/><circle cx="434.70" cy="459.40" r="1.25"/><circle cx="442.15" cy="459.40" r="1.25"/><circle cx="449.60" cy="459.40" r="1.25"/><circle cx="457.05" cy="458.02" r="1.25"/><circle cx="464.50" cy="460.77" r="1.25"/><circle cx="471.95" cy="458.02" r="1.25"/><circle cx="479.40" cy="460.77" r="1.25"/><circle cx="486.85" cy="462.49" r="1.25"/></g>
<polyline points="367.65,473.50 375.10,473.50 382.55,473.50 390.00,461.12 397.45,443.57 404.90,432.91 412.35,428.09 419.80,417.43 427.25,412.96 434.70,404.70 442.15,406.42 449.60,410.89 457.05,412.96 464.50,420.87 471.95,417.43 479.40,412.61 486.85,415.71" fill="none" stroke="#000" stroke-width="0.6"/>
<line x1="390.00" y1="471.44" x2="390.00" y2="450.80" stroke="#000" stroke-width="0.6" />
<line x1="388.60" y1="471.44" x2="391.40" y2="471.44" stroke="#000" stroke-width="0.6" />
<line x1="388.60" y1="450.80" x2="391.40" y2="450.80" stroke="#000" stroke-width="0.6" />
<line x1="397.45" y1="457.33" x2="397.45" y2="429.81" stroke="#000" stroke-width="0.6" />
<line x1="396.05" y1="457.33" x2="398.85" y2="457.33" stroke="#000" stroke-width="0.6" />
<line x1="396.05" y1="429.81" x2="398.85" y2="429.81" stroke="#000" stroke-width="0.6" />
<line x1="404.90" y1="448.39" x2="404.90" y2="417.43" stroke="#000" stroke-width="0.6" />
<line x1="403.50" y1="448.39" x2="406.30" y2="448.39" stroke="#000" stroke-width="0.6" />
<line x1="403.50" y1="417.43" x2="406.30" y2="417.43" stroke="#000" stroke-width="0.6" />
<line x1="412.35" y1="443.23" x2="412.35" y2="412.96" stroke="#000" stroke-width="0.6" />
<line x1="410.95" y1="443.23" x2="413.75" y2="443.23" stroke="#000" stroke-width="0.6" />
<line x1="410.95" y1="412.96" x2="413.75" y2="412.96" stroke="#000" stroke-width="0.6" />
<line x1="419.80" y1="431.88" x2="419.80" y2="402.98" stroke="#000" stroke-width="0.6" />
<line x1="418.40" y1="431.88" x2="421.20" y2="431.88" stroke="#000" stroke-width="0.6" />
<line x1="418.40" y1="402.98" x2="421.20" y2="402.98" stroke="#000" stroke-width="0.6" />
<line x1="427.25" y1="427.40" x2="427.25" y2="398.51" stroke="#000" stroke-width="0.6" />
<line x1="425.85" y1="427.40" x2="428.65" y2="427.40" stroke="#000" stroke-width="0.6" />
<line x1="425.85" y1="398.51" x2="428.65" y2="398.51" stroke="#000" stroke-width="0.6" />
<line x1="434.70" y1="417.43" x2="434.70" y2="391.97" stroke="#000" stroke-width="0.6" />
<line x1="433.30" y1="417.43" x2="436.10" y2="417.43" stroke="#000" stroke-width="0.6" />
<line x1="433.30" y1="391.97" x2="436.10" y2="391.97" stroke="#000" stroke-width="0.6" />
<line x1="442.15" y1="418.80" x2="442.15" y2="394.04" stroke="#000" stroke-width="0.6" />
<line x1="440.75" y1="418.80" x2="443.55" y2="418.80" stroke="#000" stroke-width="0.6" />
<line x1="440.75" y1="394.04" x2="443.55" y2="394.04" stroke="#000" stroke-width="0.6" />
<line x1="449.60" y1="422.59" x2="449.60" y2="399.20" stroke="#000" stroke-width="0.6" />
<line x1="448.20" y1="422.59" x2="451.00" y2="422.59" stroke="#000" stroke-width="0.6" />
<line x1="448.20" y1="399.20" x2="451.00" y2="399.20" stroke="#000" stroke-width="0.6" />
<line x1="457.05" y1="424.65" x2="457.05" y2="401.26" stroke="#000" stroke-width="0.6" />
<line x1="455.65" y1="424.65" x2="458.45" y2="424.65" stroke="#000" stroke-width="0.6" />
<line x1="455.65" y1="401.26" x2="458.45" y2="401.26" stroke="#000" stroke-width="0.6" />
<line x1="464.50" y1="432.91" x2="464.50" y2="408.83" stroke="#000" stroke-width="0.6" />
<line x1="463.10" y1="432.91" x2="465.90" y2="432.91" stroke="#000" stroke-width="0.6" />
<line x1="463.10" y1="408.83" x2="465.90" y2="408.83" stroke="#000" stroke-width="0.6" />
<line x1="471.95" y1="428.44" x2="471.95" y2="406.42" stroke="#000" stroke-width="0.6" />
<line x1="470.55" y1="428.44" x2="473.35" y2="428.44" stroke="#000" stroke-width="0.6" />
<line x1="470.55" y1="406.42" x2="473.35" y2="406.42" stroke="#000" stroke-width="0.6" />
<line x1="479.40" y1="423.28" x2="479.40" y2="401.95" stroke="#000" stroke-width="0.6" />
<line x1="478.00" y1="423.28" x2="480.80" y2="423.28" stroke="#000" stroke-width="0.6" />
<line x1="478.00" y1="401.95" x2="480.80" y2="401.95" stroke="#000" stroke-width="0.6" />
<line x1="486.85" y1="426.37" x2="486.85" y2="405.04" stroke="#000" stroke-width="0.6" />
<line x1="485.45" y1="426.37" x2="488.25" y2="426.37" stroke="#000" stroke-width="0.6" />
<line x1="485.45" y1="405.04" x2="488.25" y2="405.04" stroke="#000" stroke-width="0.6" />
<g fill="#000"><circle cx="367.65" cy="473.50" r="1.25"/><circle cx="375.10" cy="473.50" r="1.25"/><circle cx="382.55" cy="473.50" r="1.25"/><circle cx="390.00" cy="461.12" r="1.25"/><circle cx="397.45" cy="443.57" r="1.25"/><circle cx="404.90" cy="432.91" r="1.25"/><circle cx="412.35" cy="428.09" r="1.25"/><circle cx="419.80" cy="417.43" r="1.25"/><circle cx="427.25" cy="412.96" r="1.25"/><circle cx="434.70" cy="404.70" r="1.25"/><circle cx="442.15" cy="406.42" r="1.25"/><circle cx="449.60" cy="410.89" r="1.25"/><circle cx="457.05" cy="412.96" r="1.25"/><circle cx="464.50" cy="420.87" r="1.25"/><circle cx="471.95" cy="417.43" r="1.25"/><circle cx="479.40" cy="412.61" r="1.25"/><circle cx="486.85" cy="415.71" r="1.25"/></g>
<g fill="#000"><circle cx="332.40" cy="473.50" r="1.25"/><circle cx="335.73" cy="473.50" r="1.25"/><circle cx="339.06" cy="473.50" r="1.25"/><circle cx="342.39" cy="473.50" r="1.25"/><circle cx="345.72" cy="473.50" r="1.25"/><circle cx="349.05" cy="473.50" r="1.25"/><circle cx="352.38" cy="473.50" r="1.25"/><circle cx="355.71" cy="473.50" r="1.25"/><circle cx="359.04" cy="473.50" r="1.25"/></g>
<text transform="translate(419.80,398.98) scale(1,1.07)" font-size="7.60" text-anchor="middle" fill="#000" stroke="#000" stroke-width="0.25">*</text>
<text transform="translate(427.25,390.18) scale(1,1.07)" font-size="7.60" text-anchor="middle" fill="#000" stroke="#000" stroke-width="0.25">*</text>
<text transform="translate(427.25,393.98) scale(1,1.07)" font-size="7.60" text-anchor="middle" fill="#000" stroke="#000" stroke-width="0.25">*</text>
<text transform="translate(434.70,382.08) scale(1,1.07)" font-size="7.60" text-anchor="middle" fill="#000" stroke="#000" stroke-width="0.25">*</text>
<text transform="translate(434.70,385.58) scale(1,1.07)" font-size="7.60" text-anchor="middle" fill="#000" stroke="#000" stroke-width="0.25">*</text>
<text transform="translate(434.70,389.28) scale(1,1.07)" font-size="7.60" text-anchor="middle" fill="#000" stroke="#000" stroke-width="0.25">*</text>
<text transform="translate(442.15,385.58) scale(1,1.07)" font-size="7.60" text-anchor="middle" fill="#000" stroke="#000" stroke-width="0.25">*</text>
<text transform="translate(442.15,389.28) scale(1,1.07)" font-size="7.60" text-anchor="middle" fill="#000" stroke="#000" stroke-width="0.25">*</text>
<text transform="translate(442.15,393.18) scale(1,1.07)" font-size="7.60" text-anchor="middle" fill="#000" stroke="#000" stroke-width="0.25">*</text>
<text transform="translate(449.60,393.98) scale(1,1.07)" font-size="7.60" text-anchor="middle" fill="#000" stroke="#000" stroke-width="0.25">*</text>
<text transform="translate(449.60,397.58) scale(1,1.07)" font-size="7.60" text-anchor="middle" fill="#000" stroke="#000" stroke-width="0.25">*</text>
<text transform="translate(457.05,394.28) scale(1,1.07)" font-size="7.60" text-anchor="middle" fill="#000" stroke="#000" stroke-width="0.25">*</text>
<text transform="translate(457.05,398.08) scale(1,1.07)" font-size="7.60" text-anchor="middle" fill="#000" stroke="#000" stroke-width="0.25">*</text>
<text transform="translate(464.50,403.98) scale(1,1.07)" font-size="7.60" text-anchor="middle" fill="#000" stroke="#000" stroke-width="0.25">*</text>
<text transform="translate(471.95,400.98) scale(1,1.07)" font-size="7.60" text-anchor="middle" fill="#000" stroke="#000" stroke-width="0.25">*</text>
<text transform="translate(479.40,395.48) scale(1,1.07)" font-size="7.60" text-anchor="middle" fill="#000" stroke="#000" stroke-width="0.25">*</text>
<text transform="translate(479.40,399.38) scale(1,1.07)" font-size="7.60" text-anchor="middle" fill="#000" stroke="#000" stroke-width="0.25">*</text>
<text transform="translate(486.85,396.98) scale(1,1.07)" font-size="7.60" text-anchor="middle" fill="#000" stroke="#000" stroke-width="0.25">*</text>
<text transform="translate(486.85,400.98) scale(1,1.07)" font-size="7.60" text-anchor="middle" fill="#000" stroke="#000" stroke-width="0.25">*</text>
<text x="525.20" y="371.80" font-size="10.50" text-anchor="start" fill="#000" stroke="#000" font-weight="bold" stroke-width="0.55">f</text>
<text transform="translate(602.00,400.80) scale(1,1.07)" font-size="7.80" text-anchor="middle" fill="#000" stroke="#000" stroke-width="0.07" >CD4<tspan font-size="4.4" dx="0.35" dy="-3.3">+</tspan></text>
<text x="0.00" y="0.00" font-size="7.80" text-anchor="middle" fill="#000" stroke="#000" stroke-width="0.07" transform="translate(559.60,442.00) rotate(-90) scale(1,1.07)">Cell number (×10<tspan font-size="4.6" dy="-3">3</tspan><tspan dy="3">)</tspan></text>
<line x1="581.70" y1="408.40" x2="581.70" y2="420.40" stroke="#444" stroke-width="0.65" />
<line x1="579.80" y1="420.40" x2="583.60" y2="420.40" stroke="#000" stroke-width="0.6" />
<line x1="581.70" y1="426.60" x2="581.70" y2="475.80" stroke="#444" stroke-width="0.65" />
<line x1="579.80" y1="426.60" x2="583.60" y2="426.60" stroke="#000" stroke-width="0.6" />
<line x1="578.20" y1="408.40" x2="581.70" y2="408.40" stroke="#000" stroke-width="0.55" />
<text transform="translate(575.20,411.35) scale(1,1.1)" font-size="7.70" text-anchor="end" fill="#000" stroke="#000" stroke-width="0.07" >25</text>
<line x1="578.20" y1="416.50" x2="581.70" y2="416.50" stroke="#000" stroke-width="0.55" />
<text transform="translate(575.20,419.45) scale(1,1.1)" font-size="7.70" text-anchor="end" fill="#000" stroke="#000" stroke-width="0.07" >15</text>
<text transform="translate(575.20,429.55) scale(1,1.1)" font-size="7.70" text-anchor="end" fill="#000" stroke="#000" stroke-width="0.07" >10</text>
<line x1="578.20" y1="436.30" x2="581.70" y2="436.30" stroke="#000" stroke-width="0.55" />
<text transform="translate(575.20,439.25) scale(1,1.1)" font-size="7.70" text-anchor="end" fill="#000" stroke="#000" stroke-width="0.07" >8</text>
<line x1="578.20" y1="446.20" x2="581.70" y2="446.20" stroke="#000" stroke-width="0.55" />
<text transform="translate(575.20,449.15) scale(1,1.1)" font-size="7.70" text-anchor="end" fill="#000" stroke="#000" stroke-width="0.07" >6</text>
<line x1="578.20" y1="456.00" x2="581.70" y2="456.00" stroke="#000" stroke-width="0.55" />
<text transform="translate(575.20,458.95) scale(1,1.1)" font-size="7.70" text-anchor="end" fill="#000" stroke="#000" stroke-width="0.07" >4</text>
<line x1="578.20" y1="466.00" x2="581.70" y2="466.00" stroke="#000" stroke-width="0.55" />
<text transform="translate(575.20,468.95) scale(1,1.1)" font-size="7.70" text-anchor="end" fill="#000" stroke="#000" stroke-width="0.07" >2</text>
<line x1="578.20" y1="475.80" x2="581.70" y2="475.80" stroke="#000" stroke-width="0.55" />
<text transform="translate(575.20,478.75) scale(1,1.1)" font-size="7.70" text-anchor="end" fill="#000" stroke="#000" stroke-width="0.07" >0</text>
<line x1="581.70" y1="475.80" x2="623.80" y2="475.80" stroke="#444" stroke-width="0.65" />
<line x1="593.60" y1="475.80" x2="593.60" y2="477.80" stroke="#444" stroke-width="0.6" />
<line x1="612.20" y1="475.80" x2="612.20" y2="477.80" stroke="#444" stroke-width="0.6" />
<rect x="587.40" y="441.20" width="12.40" height="34.60" fill="#fff" stroke="#555" stroke-width="0.6" />
<rect x="606.00" y="469.50" width="12.40" height="6.30" fill="#fff" stroke="#555" stroke-width="0.6" />
<g fill="#000"><circle cx="593.80" cy="411.90" r="1.35"/><circle cx="593.80" cy="417.90" r="1.35"/><circle cx="591.40" cy="432.40" r="1.35"/><circle cx="596.60" cy="432.70" r="1.35"/><circle cx="593.80" cy="443.10" r="1.35"/><circle cx="591.40" cy="450.50" r="1.35"/><circle cx="596.60" cy="450.70" r="1.35"/><circle cx="593.80" cy="454.30" r="1.35"/><circle cx="593.80" cy="462.90" r="1.35"/><circle cx="591.40" cy="471.30" r="1.35"/><circle cx="596.60" cy="471.30" r="1.35"/></g>
<line x1="593.60" y1="450.00" x2="593.60" y2="432.60" stroke="#000" stroke-width="0.6" />
<line x1="592.00" y1="450.00" x2="595.20" y2="450.00" stroke="#000" stroke-width="0.6" />
<line x1="592.00" y1="432.60" x2="595.20" y2="432.60" stroke="#000" stroke-width="0.6" />
<g fill="#ff0000"><circle cx="612.20" cy="435.50" r="1.35"/><circle cx="612.20" cy="459.90" r="1.35"/><circle cx="610.40" cy="469.80" r="1.35"/><circle cx="613.50" cy="471.50" r="1.35"/><circle cx="607.80" cy="474.60" r="1.35"/><circle cx="610.00" cy="474.80" r="1.35"/><circle cx="612.40" cy="474.80" r="1.35"/><circle cx="614.80" cy="474.80" r="1.35"/><circle cx="617.00" cy="474.60" r="1.35"/><circle cx="611.20" cy="473.00" r="1.35"/></g>
<line x1="612.20" y1="473.30" x2="612.20" y2="465.40" stroke="#000" stroke-width="0.6" />
<line x1="610.60" y1="473.30" x2="613.80" y2="473.30" stroke="#000" stroke-width="0.6" />
<line x1="610.60" y1="465.40" x2="613.80" y2="465.40" stroke="#000" stroke-width="0.6" />
<text transform="translate(601.90,413.00) scale(1,1.07)" font-size="7.50" text-anchor="middle" fill="#000" stroke="#000" stroke-width="0.25">*</text>
<text x="0.00" y="519.00" font-size="10.50" text-anchor="start" fill="#000" stroke="#000" font-weight="bold" stroke-width="0.55">g</text>
<text transform="translate(74.10,525.20) scale(1,1.07)" font-size="7.80" text-anchor="middle" fill="#000" stroke="#000" stroke-width="0.07" >IFNγ<tspan font-size="4.4" dx="0.35" dy="-3.3">+</tspan><tspan dx="0.5" dy="3.3">CD4</tspan><tspan font-size="4.4" dx="0.35" dy="-3.3">+</tspan></text>
<text x="0.00" y="0.00" font-size="7.80" text-anchor="middle" fill="#000" stroke="#000" stroke-width="0.07" transform="translate(28.00,571.50) rotate(-90) scale(1,1.07)">Cell number (×10<tspan font-size="4.6" dy="-3">3</tspan><tspan dy="3">)</tspan></text>
<line x1="52.30" y1="536.50" x2="52.30" y2="549.80" stroke="#444" stroke-width="0.65" />
<line x1="50.40" y1="549.80" x2="54.20" y2="549.80" stroke="#000" stroke-width="0.6" />
<line x1="52.30" y1="555.00" x2="52.30" y2="604.40" stroke="#444" stroke-width="0.65" />
<line x1="50.40" y1="555.00" x2="54.20" y2="555.00" stroke="#000" stroke-width="0.6" />
<line x1="48.80" y1="536.50" x2="52.30" y2="536.50" stroke="#000" stroke-width="0.55" />
<text transform="translate(45.80,539.45) scale(1,1.1)" font-size="7.70" text-anchor="end" fill="#000" stroke="#000" stroke-width="0.07" >4.0</text>
<line x1="48.80" y1="546.50" x2="52.30" y2="546.50" stroke="#000" stroke-width="0.55" />
<text transform="translate(45.80,549.45) scale(1,1.1)" font-size="7.70" text-anchor="end" fill="#000" stroke="#000" stroke-width="0.07" >2.5</text>
<text transform="translate(45.80,557.95) scale(1,1.1)" font-size="7.70" text-anchor="end" fill="#000" stroke="#000" stroke-width="0.07" >2.0</text>
<line x1="48.80" y1="567.40" x2="52.30" y2="567.40" stroke="#000" stroke-width="0.55" />
<text transform="translate(45.80,570.35) scale(1,1.1)" font-size="7.70" text-anchor="end" fill="#000" stroke="#000" stroke-width="0.07" >1.5</text>
<line x1="48.80" y1="579.70" x2="52.30" y2="579.70" stroke="#000" stroke-width="0.55" />
<text transform="translate(45.80,582.65) scale(1,1.1)" font-size="7.70" text-anchor="end" fill="#000" stroke="#000" stroke-width="0.07" >1.0</text>
<line x1="48.80" y1="592.30" x2="52.30" y2="592.30" stroke="#000" stroke-width="0.55" />
<text transform="translate(45.80,595.25) scale(1,1.1)" font-size="7.70" text-anchor="end" fill="#000" stroke="#000" stroke-width="0.07" >0.5</text>
<line x1="48.80" y1="604.40" x2="52.30" y2="604.40" stroke="#000" stroke-width="0.55" />
<text transform="translate(45.80,607.35) scale(1,1.1)" font-size="7.70" text-anchor="end" fill="#000" stroke="#000" stroke-width="0.07" >0</text>
<line x1="52.30" y1="604.40" x2="94.80" y2="604.40" stroke="#444" stroke-width="0.65" />
<line x1="65.00" y1="604.40" x2="65.00" y2="606.40" stroke="#444" stroke-width="0.6" />
<line x1="83.00" y1="604.40" x2="83.00" y2="606.40" stroke="#444" stroke-width="0.6" />
<rect x="58.80" y="574.20" width="12.40" height="30.20" fill="#fff" stroke="#555" stroke-width="0.6" />
<rect x="76.90" y="599.40" width="12.20" height="5.00" fill="#fff" stroke="#555" stroke-width="0.6" />
<g fill="#000"><circle cx="64.90" cy="541.60" r="1.35"/><circle cx="64.90" cy="546.60" r="1.35"/><circle cx="64.90" cy="560.40" r="1.35"/><circle cx="64.90" cy="570.80" r="1.35"/><circle cx="62.00" cy="576.90" r="1.35"/><circle cx="67.60" cy="577.20" r="1.35"/><circle cx="64.90" cy="580.60" r="1.35"/><circle cx="62.00" cy="584.80" r="1.35"/><circle cx="67.60" cy="585.10" r="1.35"/><circle cx="64.90" cy="592.30" r="1.35"/><circle cx="64.90" cy="597.70" r="1.35"/><circle cx="64.90" cy="602.00" r="1.35"/></g>
<line x1="65.00" y1="580.50" x2="65.00" y2="567.00" stroke="#000" stroke-width="0.6" />
<line x1="63.40" y1="580.50" x2="66.60" y2="580.50" stroke="#000" stroke-width="0.6" />
<line x1="63.40" y1="567.00" x2="66.60" y2="567.00" stroke="#000" stroke-width="0.6" />
<g fill="#ff0000"><circle cx="83.00" cy="574.20" r="1.35"/><circle cx="83.00" cy="591.00" r="1.35"/><circle cx="80.50" cy="598.50" r="1.35"/><circle cx="85.50" cy="598.50" r="1.35"/><circle cx="79.00" cy="602.00" r="1.35"/><circle cx="81.80" cy="602.40" r="1.35"/><circle cx="84.50" cy="602.40" r="1.35"/><circle cx="87.00" cy="602.00" r="1.35"/><circle cx="83.00" cy="600.50" r="1.35"/></g>
<line x1="83.00" y1="602.50" x2="83.00" y2="596.00" stroke="#000" stroke-width="0.6" />
<line x1="81.40" y1="602.50" x2="84.60" y2="602.50" stroke="#000" stroke-width="0.6" />
<line x1="81.40" y1="596.00" x2="84.60" y2="596.00" stroke="#000" stroke-width="0.6" />
<text transform="translate(72.00,542.60) scale(1,1.07)" font-size="9.00" text-anchor="middle" fill="#000" stroke="#000" stroke-width="0.25">**</text>
<text transform="translate(160.90,525.20) scale(1,1.07)" font-size="7.80" text-anchor="middle" fill="#000" stroke="#000" stroke-width="0.07" >IL-17A<tspan font-size="4.4" dx="0.35" dy="-3.3">+</tspan><tspan dx="0.5" dy="3.3">CD4</tspan><tspan font-size="4.4" dx="0.35" dy="-3.3">+</tspan></text>
<text x="0.00" y="0.00" font-size="7.80" text-anchor="middle" fill="#000" stroke="#000" stroke-width="0.07" transform="translate(115.30,571.50) rotate(-90) scale(1,1.07)">Cell number (×10<tspan font-size="4.6" dy="-3">3</tspan><tspan dy="3">)</tspan></text>
<line x1="139.80" y1="536.50" x2="139.80" y2="549.50" stroke="#444" stroke-width="0.65" />
<line x1="137.90" y1="549.50" x2="141.70" y2="549.50" stroke="#000" stroke-width="0.6" />
<line x1="139.80" y1="555.00" x2="139.80" y2="604.10" stroke="#444" stroke-width="0.65" />
<line x1="137.90" y1="555.00" x2="141.70" y2="555.00" stroke="#000" stroke-width="0.6" />
<line x1="136.30" y1="536.50" x2="139.80" y2="536.50" stroke="#000" stroke-width="0.55" />
<text transform="translate(133.30,539.45) scale(1,1.1)" font-size="7.70" text-anchor="end" fill="#000" stroke="#000" stroke-width="0.07" >2.5</text>
<line x1="136.30" y1="545.60" x2="139.80" y2="545.60" stroke="#000" stroke-width="0.55" />
<text transform="translate(133.30,548.55) scale(1,1.1)" font-size="7.70" text-anchor="end" fill="#000" stroke="#000" stroke-width="0.07" >1.5</text>
<text transform="translate(133.30,557.95) scale(1,1.1)" font-size="7.70" text-anchor="end" fill="#000" stroke="#000" stroke-width="0.07" >1.0</text>
<line x1="136.30" y1="565.00" x2="139.80" y2="565.00" stroke="#000" stroke-width="0.55" />
<text transform="translate(133.30,567.95) scale(1,1.1)" font-size="7.70" text-anchor="end" fill="#000" stroke="#000" stroke-width="0.07" >0.8</text>
<line x1="136.30" y1="574.70" x2="139.80" y2="574.70" stroke="#000" stroke-width="0.55" />
<text transform="translate(133.30,577.65) scale(1,1.1)" font-size="7.70" text-anchor="end" fill="#000" stroke="#000" stroke-width="0.07" >0.6</text>
<line x1="136.30" y1="584.30" x2="139.80" y2="584.30" stroke="#000" stroke-width="0.55" />
<text transform="translate(133.30,587.25) scale(1,1.1)" font-size="7.70" text-anchor="end" fill="#000" stroke="#000" stroke-width="0.07" >0.4</text>
<line x1="136.30" y1="594.10" x2="139.80" y2="594.10" stroke="#000" stroke-width="0.55" />
<text transform="translate(133.30,597.05) scale(1,1.1)" font-size="7.70" text-anchor="end" fill="#000" stroke="#000" stroke-width="0.07" >0.2</text>
<line x1="136.30" y1="604.10" x2="139.80" y2="604.10" stroke="#000" stroke-width="0.55" />
<text transform="translate(133.30,607.05) scale(1,1.1)" font-size="7.70" text-anchor="end" fill="#000" stroke="#000" stroke-width="0.07" >0</text>
<line x1="139.80" y1="604.10" x2="182.30" y2="604.10" stroke="#444" stroke-width="0.65" />
<line x1="152.10" y1="604.10" x2="152.10" y2="606.10" stroke="#444" stroke-width="0.6" />
<line x1="170.30" y1="604.10" x2="170.30" y2="606.10" stroke="#444" stroke-width="0.6" />
<rect x="146.10" y="575.20" width="12.00" height="28.90" fill="#fff" stroke="#555" stroke-width="0.6" />
<rect x="164.20" y="599.50" width="12.20" height="4.60" fill="#fff" stroke="#555" stroke-width="0.6" />
<g fill="#000"><circle cx="152.10" cy="538.00" r="1.35"/><circle cx="152.10" cy="556.20" r="1.35"/><circle cx="149.60" cy="568.30" r="1.35"/><circle cx="154.60" cy="568.80" r="1.35"/><circle cx="152.10" cy="574.20" r="1.35"/><circle cx="152.10" cy="585.10" r="1.35"/><circle cx="149.60" cy="591.80" r="1.35"/><circle cx="154.60" cy="592.30" r="1.35"/><circle cx="152.10" cy="597.70" r="1.35"/><circle cx="149.60" cy="602.00" r="1.35"/><circle cx="154.60" cy="602.00" r="1.35"/></g>
<line x1="152.10" y1="585.00" x2="152.10" y2="565.10" stroke="#000" stroke-width="0.6" />
<line x1="150.50" y1="585.00" x2="153.70" y2="585.00" stroke="#000" stroke-width="0.6" />
<line x1="150.50" y1="565.10" x2="153.70" y2="565.10" stroke="#000" stroke-width="0.6" />
<g fill="#ff0000"><circle cx="170.20" cy="581.40" r="1.35"/><circle cx="170.20" cy="590.60" r="1.35"/><circle cx="170.20" cy="595.70" r="1.35"/><circle cx="165.80" cy="602.20" r="1.35"/><circle cx="168.30" cy="602.40" r="1.35"/><circle cx="171.20" cy="602.40" r="1.35"/><circle cx="174.20" cy="602.20" r="1.35"/><circle cx="176.00" cy="602.00" r="1.35"/></g>
<line x1="170.30" y1="602.00" x2="170.30" y2="597.00" stroke="#000" stroke-width="0.6" />
<line x1="168.70" y1="602.00" x2="171.90" y2="602.00" stroke="#000" stroke-width="0.6" />
<line x1="168.70" y1="597.00" x2="171.90" y2="597.00" stroke="#000" stroke-width="0.6" />
<text transform="translate(160.80,540.30) scale(1,1.07)" font-size="9.00" text-anchor="middle" fill="#000" stroke="#000" stroke-width="0.25">*</text>
<text transform="translate(215.20,525.20) scale(1,1.07)" font-size="7.80" text-anchor="start" fill="#000" stroke="#000" stroke-width="0.07" >IFNγ<tspan font-size="4.4" dx="0.35" dy="-3.3">+</tspan><tspan dx="0.5" dy="3.3">IL-17A</tspan><tspan font-size="4.4" dx="0.35" dy="-3.3">+</tspan><tspan dx="0.5" dy="3.3">CD4</tspan><tspan font-size="4.4" dx="0.35" dy="-3.3">+</tspan></text>
<text x="0.00" y="0.00" font-size="7.80" text-anchor="middle" fill="#000" stroke="#000" stroke-width="0.07" transform="translate(201.30,571.50) rotate(-90) scale(1,1.07)">Cell number (×10<tspan font-size="4.6" dy="-3">3</tspan><tspan dy="3">)</tspan></text>
<line x1="226.60" y1="537.40" x2="226.60" y2="550.00" stroke="#444" stroke-width="0.65" />
<line x1="224.70" y1="550.00" x2="228.50" y2="550.00" stroke="#000" stroke-width="0.6" />
<line x1="226.60" y1="555.30" x2="226.60" y2="604.40" stroke="#444" stroke-width="0.65" />
<line x1="224.70" y1="555.30" x2="228.50" y2="555.30" stroke="#000" stroke-width="0.6" />
<line x1="223.10" y1="537.40" x2="226.60" y2="537.40" stroke="#000" stroke-width="0.55" />
<text transform="translate(220.10,540.35) scale(1,1.1)" font-size="7.70" text-anchor="end" fill="#000" stroke="#000" stroke-width="0.07" >0.6</text>
<line x1="223.10" y1="548.30" x2="226.60" y2="548.30" stroke="#000" stroke-width="0.55" />
<text transform="translate(220.10,551.25) scale(1,1.1)" font-size="7.70" text-anchor="end" fill="#000" stroke="#000" stroke-width="0.07" >0.3</text>
<line x1="223.10" y1="565.40" x2="226.60" y2="565.40" stroke="#000" stroke-width="0.55" />
<text transform="translate(220.10,568.35) scale(1,1.1)" font-size="7.70" text-anchor="end" fill="#000" stroke="#000" stroke-width="0.07" >0.2</text>
<line x1="223.10" y1="585.00" x2="226.60" y2="585.00" stroke="#000" stroke-width="0.55" />
<text transform="translate(220.10,587.95) scale(1,1.1)" font-size="7.70" text-anchor="end" fill="#000" stroke="#000" stroke-width="0.07" >0.1</text>
<line x1="223.10" y1="604.40" x2="226.60" y2="604.40" stroke="#000" stroke-width="0.55" />
<text transform="translate(220.10,607.35) scale(1,1.1)" font-size="7.70" text-anchor="end" fill="#000" stroke="#000" stroke-width="0.07" >0</text>
<line x1="226.60" y1="604.40" x2="268.10" y2="604.40" stroke="#444" stroke-width="0.65" />
<line x1="238.70" y1="604.40" x2="238.70" y2="606.40" stroke="#444" stroke-width="0.6" />
<line x1="256.50" y1="604.40" x2="256.50" y2="606.40" stroke="#444" stroke-width="0.6" />
<rect x="232.40" y="568.30" width="12.60" height="36.10" fill="#fff" stroke="#555" stroke-width="0.6" />
<rect x="250.45" y="599.00" width="12.10" height="5.40" fill="#fff" stroke="#555" stroke-width="0.6" />
<g fill="#000"><circle cx="238.70" cy="540.20" r="1.35"/><circle cx="238.70" cy="548.30" r="1.35"/><circle cx="243.40" cy="546.10" r="1.35"/><circle cx="234.00" cy="569.60" r="1.35"/><circle cx="238.70" cy="569.60" r="1.35"/><circle cx="243.40" cy="569.60" r="1.35"/><circle cx="238.70" cy="572.50" r="1.35"/><circle cx="238.70" cy="575.10" r="1.35"/><circle cx="238.70" cy="585.90" r="1.35"/><circle cx="238.70" cy="594.80" r="1.35"/><circle cx="235.70" cy="599.30" r="1.35"/><circle cx="241.20" cy="599.30" r="1.35"/></g>
<line x1="238.70" y1="577.20" x2="238.70" y2="559.20" stroke="#000" stroke-width="0.6" />
<line x1="237.10" y1="577.20" x2="240.30" y2="577.20" stroke="#000" stroke-width="0.6" />
<line x1="237.10" y1="559.20" x2="240.30" y2="559.20" stroke="#000" stroke-width="0.6" />
<g fill="#ff0000"><circle cx="256.70" cy="580.20" r="1.35"/><circle cx="256.70" cy="585.00" r="1.35"/><circle cx="256.70" cy="594.80" r="1.35"/><circle cx="256.70" cy="599.50" r="1.35"/><circle cx="252.00" cy="602.50" r="1.35"/><circle cx="254.60" cy="602.60" r="1.35"/><circle cx="258.60" cy="602.60" r="1.35"/><circle cx="261.20" cy="602.50" r="1.35"/></g>
<line x1="256.50" y1="602.00" x2="256.50" y2="596.00" stroke="#000" stroke-width="0.6" />
<line x1="254.90" y1="602.00" x2="258.10" y2="602.00" stroke="#000" stroke-width="0.6" />
<line x1="254.90" y1="596.00" x2="258.10" y2="596.00" stroke="#000" stroke-width="0.6" />
<text transform="translate(245.80,541.60) scale(1,1.07)" font-size="9.00" text-anchor="middle" fill="#000" stroke="#000" stroke-width="0.25">**</text>
<text x="299.30" y="518.40" font-size="10.50" text-anchor="start" fill="#000" stroke="#000" font-weight="bold" stroke-width="0.55">h</text>
<text transform="translate(368.40,520.50) scale(1,1.07)" font-size="7.80" text-anchor="middle" fill="#000" stroke="#000" stroke-width="0.07" >PBS</text>
<text transform="translate(432.80,520.50) scale(1,1.07)" font-size="7.80" text-anchor="middle" fill="#ff0000" stroke="#ff0000" stroke-width="0.07" >TGM1–IL-2(WT)</text>
<rect x="336.00" y="524.30" width="63.40" height="62.70" fill="none" stroke="#3a3a3a" stroke-width="0.7" />
<rect x="369.30" y="525.20" width="30.10" height="41.00" fill="none" stroke="#555" stroke-width="0.6" />
<text transform="translate(397.50,534.90) scale(1,1.07)" font-size="7.80" text-anchor="end" fill="#000" stroke="#000" stroke-width="0.07" >13.8</text>
<g stroke="#777" stroke-width="0.4"><line x1="339.00" y1="587.0" x2="339.00" y2="588.3"/><line x1="342.70" y1="587.0" x2="342.70" y2="588.3"/><line x1="346.40" y1="587.0" x2="346.40" y2="588.3"/><line x1="350.10" y1="587.0" x2="350.10" y2="588.3"/><line x1="353.80" y1="587.0" x2="353.80" y2="588.3"/><line x1="357.50" y1="587.0" x2="357.50" y2="588.3"/><line x1="361.20" y1="587.0" x2="361.20" y2="588.3"/><line x1="364.90" y1="587.0" x2="364.90" y2="588.3"/><line x1="368.60" y1="587.0" x2="368.60" y2="588.3"/><line x1="372.30" y1="587.0" x2="372.30" y2="588.3"/><line x1="376.00" y1="587.0" x2="376.00" y2="588.3"/><line x1="379.70" y1="587.0" x2="379.70" y2="588.3"/><line x1="383.40" y1="587.0" x2="383.40" y2="588.3"/><line x1="387.10" y1="587.0" x2="387.10" y2="588.3"/><line x1="390.80" y1="587.0" x2="390.80" y2="588.3"/><line x1="394.50" y1="587.0" x2="394.50" y2="588.3"/><line x1="398.20" y1="587.0" x2="398.20" y2="588.3"/></g>
<g stroke="#777" stroke-width="0.4"><line x1="336.0" y1="526.00" x2="334.8" y2="526.00"/><line x1="336.0" y1="529.70" x2="334.8" y2="529.70"/><line x1="336.0" y1="533.40" x2="334.8" y2="533.40"/><line x1="336.0" y1="537.10" x2="334.8" y2="537.10"/><line x1="336.0" y1="540.80" x2="334.8" y2="540.80"/><line x1="336.0" y1="544.50" x2="334.8" y2="544.50"/><line x1="336.0" y1="548.20" x2="334.8" y2="548.20"/><line x1="336.0" y1="551.90" x2="334.8" y2="551.90"/><line x1="336.0" y1="555.60" x2="334.8" y2="555.60"/><line x1="336.0" y1="559.30" x2="334.8" y2="559.30"/><line x1="336.0" y1="563.00" x2="334.8" y2="563.00"/><line x1="336.0" y1="566.70" x2="334.8" y2="566.70"/><line x1="336.0" y1="570.40" x2="334.8" y2="570.40"/><line x1="336.0" y1="574.10" x2="334.8" y2="574.10"/><line x1="336.0" y1="577.80" x2="334.8" y2="577.80"/><line x1="336.0" y1="581.50" x2="334.8" y2="581.50"/><line x1="336.0" y1="585.20" x2="334.8" y2="585.20"/></g>
<line x1="348.00" y1="587.80" x2="358.00" y2="587.80" stroke="#222" stroke-width="0.9" />
<rect x="401.30" y="524.30" width="63.40" height="62.70" fill="none" stroke="#3a3a3a" stroke-width="0.7" />
<rect x="434.60" y="525.20" width="30.10" height="41.00" fill="none" stroke="#555" stroke-width="0.6" />
<text transform="translate(462.80,534.90) scale(1,1.07)" font-size="7.80" text-anchor="end" fill="#000" stroke="#000" stroke-width="0.07" >8.71</text>
<g stroke="#777" stroke-width="0.4"><line x1="404.30" y1="587.0" x2="404.30" y2="588.3"/><line x1="408.00" y1="587.0" x2="408.00" y2="588.3"/><line x1="411.70" y1="587.0" x2="411.70" y2="588.3"/><line x1="415.40" y1="587.0" x2="415.40" y2="588.3"/><line x1="419.10" y1="587.0" x2="419.10" y2="588.3"/><line x1="422.80" y1="587.0" x2="422.80" y2="588.3"/><line x1="426.50" y1="587.0" x2="426.50" y2="588.3"/><line x1="430.20" y1="587.0" x2="430.20" y2="588.3"/><line x1="433.90" y1="587.0" x2="433.90" y2="588.3"/><line x1="437.60" y1="587.0" x2="437.60" y2="588.3"/><line x1="441.30" y1="587.0" x2="441.30" y2="588.3"/><line x1="445.00" y1="587.0" x2="445.00" y2="588.3"/><line x1="448.70" y1="587.0" x2="448.70" y2="588.3"/><line x1="452.40" y1="587.0" x2="452.40" y2="588.3"/><line x1="456.10" y1="587.0" x2="456.10" y2="588.3"/><line x1="459.80" y1="587.0" x2="459.80" y2="588.3"/><line x1="463.50" y1="587.0" x2="463.50" y2="588.3"/></g>
<g stroke="#777" stroke-width="0.4"><line x1="401.3" y1="526.00" x2="400.1" y2="526.00"/><line x1="401.3" y1="529.70" x2="400.1" y2="529.70"/><line x1="401.3" y1="533.40" x2="400.1" y2="533.40"/><line x1="401.3" y1="537.10" x2="400.1" y2="537.10"/><line x1="401.3" y1="540.80" x2="400.1" y2="540.80"/><line x1="401.3" y1="544.50" x2="400.1" y2="544.50"/><line x1="401.3" y1="548.20" x2="400.1" y2="548.20"/><line x1="401.3" y1="551.90" x2="400.1" y2="551.90"/><line x1="401.3" y1="555.60" x2="400.1" y2="555.60"/><line x1="401.3" y1="559.30" x2="400.1" y2="559.30"/><line x1="401.3" y1="563.00" x2="400.1" y2="563.00"/><line x1="401.3" y1="566.70" x2="400.1" y2="566.70"/><line x1="401.3" y1="570.40" x2="400.1" y2="570.40"/><line x1="401.3" y1="574.10" x2="400.1" y2="574.10"/><line x1="401.3" y1="577.80" x2="400.1" y2="577.80"/><line x1="401.3" y1="581.50" x2="400.1" y2="581.50"/><line x1="401.3" y1="585.20" x2="400.1" y2="585.20"/></g>
<line x1="413.30" y1="587.80" x2="423.30" y2="587.80" stroke="#222" stroke-width="0.9" />
<path fill="#2844a4" d="M368.7 552.4h1v1h-1zM353.8 548.0h1v1h-1zM360.8 542.0h1v1h-1zM368.4 546.3h1v1h-1zM361.9 549.0h1v1h-1zM372.1 546.4h1v1h-1zM380.9 542.6h1v1h-1zM358.3 534.4h1v1h-1zM359.0 551.7h1v1h-1zM360.2 544.8h1v1h-1zM364.8 550.9h1v1h-1zM355.3 547.9h1v1h-1zM362.4 539.4h1v1h-1zM368.5 543.4h1v1h-1zM360.9 536.6h1v1h-1zM372.1 548.6h1v1h-1zM356.3 546.1h1v1h-1zM371.4 540.4h1v1h-1zM361.1 554.9h1v1h-1zM370.9 546.0h1v1h-1zM366.1 544.6h1v1h-1zM360.2 553.2h1v1h-1zM365.9 543.5h1v1h-1zM363.5 539.8h1v1h-1zM372.7 543.2h1v1h-1zM370.1 542.2h1v1h-1zM362.6 544.5h1v1h-1zM366.8 554.0h1v1h-1zM357.8 548.7h1v1h-1zM356.3 554.5h1v1h-1zM353.8 558.5h1v1h-1zM359.0 540.4h1v1h-1zM352.8 540.2h1v1h-1zM366.6 540.4h1v1h-1zM367.1 541.3h1v1h-1zM367.9 536.2h1v1h-1zM368.0 544.3h1v1h-1zM353.3 543.8h1v1h-1zM353.8 548.0h1v1h-1zM359.9 549.7h1v1h-1zM369.1 551.3h1v1h-1zM364.6 537.5h1v1h-1zM364.0 539.6h1v1h-1zM373.8 545.7h1v1h-1zM364.6 548.1h1v1h-1zM369.0 541.5h1v1h-1zM357.9 541.4h1v1h-1zM355.1 545.9h1v1h-1zM371.9 539.1h1v1h-1zM365.1 542.6h1v1h-1zM374.9 541.9h1v1h-1zM377.1 540.3h1v1h-1zM370.1 547.1h1v1h-1zM364.5 544.7h1v1h-1zM359.6 540.5h1v1h-1zM367.2 539.4h1v1h-1zM382.2 537.5h1v1h-1zM365.0 548.2h1v1h-1zM367.6 547.3h1v1h-1zM363.4 542.6h1v1h-1zM364.5 545.0h1v1h-1zM357.0 546.9h1v1h-1zM353.4 546.1h1v1h-1zM360.2 552.1h1v1h-1zM367.7 544.9h1v1h-1zM371.4 543.0h1v1h-1zM366.3 540.4h1v1h-1zM352.2 546.1h1v1h-1zM366.9 538.5h1v1h-1zM360.7 553.2h1v1h-1zM361.3 540.4h1v1h-1zM348.0 545.4h1v1h-1zM358.5 543.5h1v1h-1zM370.9 549.4h1v1h-1zM360.5 552.2h1v1h-1zM368.7 536.0h1v1h-1zM359.1 550.3h1v1h-1zM360.5 538.9h1v1h-1zM367.2 551.3h1v1h-1zM359.7 537.9h1v1h-1zM369.0 543.8h1v1h-1zM360.6 543.5h1v1h-1zM363.5 548.5h1v1h-1zM363.2 545.4h1v1h-1zM370.8 544.1h1v1h-1zM355.5 539.5h1v1h-1zM355.4 550.1h1v1h-1zM373.7 549.4h1v1h-1zM373.8 541.4h1v1h-1zM365.1 555.0h1v1h-1zM368.8 554.2h1v1h-1zM368.2 546.8h1v1h-1zM368.9 535.5h1v1h-1zM365.4 541.8h1v1h-1zM359.5 550.4h1v1h-1zM356.3 552.9h1v1h-1zM359.4 539.8h1v1h-1zM360.0 544.9h1v1h-1zM359.9 549.9h1v1h-1zM358.8 537.8h1v1h-1zM356.4 548.8h1v1h-1zM366.6 551.3h1v1h-1zM375.8 546.5h1v1h-1zM361.2 547.8h1v1h-1zM363.4 546.3h1v1h-1zM362.3 544.7h1v1h-1zM359.9 536.7h1v1h-1zM361.3 537.1h1v1h-1zM358.0 546.4h1v1h-1zM354.5 544.0h1v1h-1zM367.3 534.3h1v1h-1zM365.6 551.3h1v1h-1zM357.7 549.3h1v1h-1zM371.8 538.6h1v1h-1zM363.0 540.9h1v1h-1zM363.5 548.8h1v1h-1zM365.8 545.3h1v1h-1zM352.6 549.2h1v1h-1zM354.3 550.4h1v1h-1zM367.7 538.6h1v1h-1zM359.2 542.0h1v1h-1zM363.1 543.6h1v1h-1zM355.7 545.0h1v1h-1zM369.3 547.2h1v1h-1zM374.7 539.3h1v1h-1zM362.2 536.1h1v1h-1zM359.0 546.9h1v1h-1zM368.2 543.8h1v1h-1zM359.9 553.0h1v1h-1zM367.9 538.8h1v1h-1zM355.2 538.6h1v1h-1zM366.4 545.2h1v1h-1zM353.0 543.9h1v1h-1zM363.8 551.5h1v1h-1zM354.7 532.8h1v1h-1zM365.3 542.4h1v1h-1zM351.0 552.6h1v1h-1zM360.5 551.4h1v1h-1zM354.5 549.9h1v1h-1zM356.0 544.6h1v1h-1zM373.7 544.7h1v1h-1zM357.4 544.6h1v1h-1zM359.3 546.9h1v1h-1zM351.1 543.2h1v1h-1zM368.8 548.9h1v1h-1zM364.3 543.1h1v1h-1zM360.9 545.1h1v1h-1zM356.7 542.7h1v1h-1zM373.3 544.6h1v1h-1zM368.2 543.8h1v1h-1zM359.4 547.8h1v1h-1zM353.4 548.5h1v1h-1zM372.5 535.9h1v1h-1zM376.1 548.1h1v1h-1zM353.9 556.9h1v1h-1zM355.1 546.7h1v1h-1zM365.4 553.0h1v1h-1zM369.9 556.1h1v1h-1zM355.2 549.9h1v1h-1zM364.9 544.6h1v1h-1zM365.1 534.4h1v1h-1zM357.5 540.6h1v1h-1zM358.1 541.8h1v1h-1zM370.5 542.9h1v1h-1zM360.5 550.5h1v1h-1zM358.6 551.1h1v1h-1zM355.0 540.2h1v1h-1zM361.4 548.7h1v1h-1zM351.3 550.1h1v1h-1zM368.2 548.5h1v1h-1zM361.4 540.7h1v1h-1zM352.8 533.5h1v1h-1zM363.1 550.7h1v1h-1zM357.4 553.8h1v1h-1zM366.3 539.8h1v1h-1zM370.3 552.6h1v1h-1zM364.2 547.7h1v1h-1zM350.5 545.7h1v1h-1zM359.9 546.0h1v1h-1zM380.6 539.1h1v1h-1zM356.2 548.1h1v1h-1zM378.8 542.2h1v1h-1zM366.9 541.3h1v1h-1zM367.9 546.9h1v1h-1zM371.5 544.8h1v1h-1zM355.7 546.4h1v1h-1zM362.4 540.5h1v1h-1zM372.6 546.6h1v1h-1zM356.7 550.2h1v1h-1zM372.4 544.9h1v1h-1zM354.4 539.1h1v1h-1zM361.2 547.5h1v1h-1zM362.6 549.3h1v1h-1zM372.2 535.6h1v1h-1zM379.2 539.5h1v1h-1zM368.7 546.9h1v1h-1zM369.8 542.9h1v1h-1zM388.0 543.4h1v1h-1zM378.6 543.4h1v1h-1zM357.7 545.0h1v1h-1zM355.2 550.2h1v1h-1zM357.7 556.5h1v1h-1zM353.5 548.9h1v1h-1zM358.5 537.1h1v1h-1zM355.2 543.9h1v1h-1zM365.3 541.2h1v1h-1zM354.4 544.7h1v1h-1zM362.2 550.8h1v1h-1zM357.6 542.2h1v1h-1zM361.7 544.9h1v1h-1zM365.2 545.0h1v1h-1zM367.4 550.7h1v1h-1zM370.0 543.5h1v1h-1zM356.7 543.5h1v1h-1zM355.5 541.4h1v1h-1zM370.2 545.3h1v1h-1zM366.8 546.3h1v1h-1zM358.4 551.7h1v1h-1zM358.6 545.4h1v1h-1zM363.5 545.5h1v1h-1zM362.4 548.7h1v1h-1zM352.2 548.9h1v1h-1zM361.4 543.1h1v1h-1zM357.3 539.9h1v1h-1zM361.9 554.7h1v1h-1zM363.1 546.7h1v1h-1zM372.9 539.8h1v1h-1zM365.1 550.9h1v1h-1zM375.7 544.6h1v1h-1zM365.4 549.0h1v1h-1zM361.0 542.4h1v1h-1zM369.1 538.2h1v1h-1zM367.2 541.8h1v1h-1zM366.6 540.7h1v1h-1zM359.5 546.3h1v1h-1zM355.0 541.0h1v1h-1zM363.2 549.7h1v1h-1zM357.6 552.9h1v1h-1zM367.1 541.3h1v1h-1zM347.8 546.8h1v1h-1zM349.9 550.5h1v1h-1zM354.8 543.1h1v1h-1zM356.6 548.9h1v1h-1zM353.6 542.5h1v1h-1zM353.6 548.6h1v1h-1zM368.5 543.5h1v1h-1zM344.9 545.1h1v1h-1zM366.5 545.1h1v1h-1zM359.0 551.4h1v1h-1zM365.3 545.7h1v1h-1zM355.5 550.6h1v1h-1zM362.4 544.4h1v1h-1zM352.0 552.7h1v1h-1zM365.6 553.1h1v1h-1zM363.0 546.4h1v1h-1zM352.8 548.5h1v1h-1zM361.6 542.5h1v1h-1zM354.1 543.2h1v1h-1zM355.2 547.0h1v1h-1zM369.3 540.6h1v1h-1zM364.3 542.2h1v1h-1zM353.8 540.5h1v1h-1zM357.3 542.5h1v1h-1zM359.7 531.2h1v1h-1zM372.4 546.8h1v1h-1zM363.9 538.1h1v1h-1zM367.3 548.6h1v1h-1zM369.2 553.2h1v1h-1zM377.3 543.3h1v1h-1zM364.5 536.8h1v1h-1zM368.6 550.1h1v1h-1zM359.8 544.9h1v1h-1zM352.6 549.4h1v1h-1zM355.0 536.7h1v1h-1zM353.3 547.9h1v1h-1zM363.8 542.3h1v1h-1zM364.4 545.7h1v1h-1zM370.6 548.8h1v1h-1zM357.1 540.8h1v1h-1zM352.5 546.9h1v1h-1zM362.0 549.7h1v1h-1zM354.6 546.6h1v1h-1zM354.4 547.5h1v1h-1zM362.0 538.2h1v1h-1zM369.8 543.5h1v1h-1zM355.2 541.4h1v1h-1zM356.2 541.8h1v1h-1zM368.2 544.0h1v1h-1zM365.4 541.1h1v1h-1zM356.3 551.6h1v1h-1zM369.1 546.2h1v1h-1zM364.1 540.8h1v1h-1zM354.0 553.1h1v1h-1zM355.8 532.9h1v1h-1zM355.9 530.1h1v1h-1zM369.0 552.4h1v1h-1zM373.6 545.0h1v1h-1zM355.0 548.2h1v1h-1zM368.7 542.6h1v1h-1zM359.1 543.1h1v1h-1zM364.2 533.9h1v1h-1zM369.6 540.8h1v1h-1zM372.7 535.7h1v1h-1zM367.5 543.8h1v1h-1zM353.9 544.1h1v1h-1zM363.6 553.9h1v1h-1zM357.1 541.2h1v1h-1zM365.2 546.9h1v1h-1zM375.3 545.8h1v1h-1zM361.7 548.9h1v1h-1zM366.7 543.2h1v1h-1zM361.1 551.6h1v1h-1zM369.4 545.3h1v1h-1zM382.1 540.6h1v1h-1zM374.6 542.5h1v1h-1zM373.2 536.4h1v1h-1zM349.0 550.0h1v1h-1zM372.7 547.0h1v1h-1zM362.3 543.6h1v1h-1zM355.1 547.3h1v1h-1zM353.4 541.3h1v1h-1zM358.1 538.4h1v1h-1zM355.7 540.6h1v1h-1zM353.4 547.0h1v1h-1zM362.6 558.2h1v1h-1zM368.1 546.1h1v1h-1zM368.4 544.8h1v1h-1zM367.1 553.3h1v1h-1zM367.4 544.4h1v1h-1zM370.8 549.6h1v1h-1zM364.9 540.4h1v1h-1zM370.8 544.7h1v1h-1zM366.4 540.8h1v1h-1zM368.2 544.9h1v1h-1zM364.9 542.1h1v1h-1zM372.0 541.7h1v1h-1zM358.0 549.8h1v1h-1zM367.0 551.5h1v1h-1zM365.4 544.2h1v1h-1zM377.4 543.5h1v1h-1zM368.4 554.2h1v1h-1zM369.6 536.6h1v1h-1zM363.6 534.6h1v1h-1zM362.7 545.5h1v1h-1zM357.2 544.6h1v1h-1zM369.2 548.8h1v1h-1zM359.1 553.7h1v1h-1zM353.4 548.2h1v1h-1zM353.7 541.0h1v1h-1zM371.8 539.8h1v1h-1zM350.5 538.3h1v1h-1zM368.9 537.3h1v1h-1zM360.6 544.3h1v1h-1zM365.5 550.8h1v1h-1zM364.2 541.1h1v1h-1zM356.4 554.2h1v1h-1zM366.3 539.2h1v1h-1zM373.1 547.8h1v1h-1zM378.7 542.9h1v1h-1zM362.9 541.7h1v1h-1zM356.3 537.8h1v1h-1zM360.0 554.8h1v1h-1zM363.8 548.2h1v1h-1zM362.5 545.6h1v1h-1zM365.4 552.0h1v1h-1zM358.8 549.3h1v1h-1zM356.6 534.6h1v1h-1zM370.5 549.2h1v1h-1zM374.7 545.7h1v1h-1zM365.0 540.7h1v1h-1zM364.1 534.6h1v1h-1zM361.4 552.6h1v1h-1zM359.5 549.1h1v1h-1zM357.1 545.7h1v1h-1zM366.3 544.6h1v1h-1zM367.5 549.6h1v1h-1zM361.8 550.1h1v1h-1zM366.5 545.3h1v1h-1zM362.3 542.0h1v1h-1zM360.8 543.7h1v1h-1zM352.7 544.3h1v1h-1zM373.3 548.7h1v1h-1zM366.7 548.3h1v1h-1zM364.2 551.6h1v1h-1zM365.4 553.9h1v1h-1zM360.5 539.8h1v1h-1zM370.1 543.7h1v1h-1zM356.8 540.3h1v1h-1zM358.0 554.7h1v1h-1zM360.5 549.4h1v1h-1zM368.7 550.9h1v1h-1zM356.8 547.8h1v1h-1zM358.1 535.2h1v1h-1zM359.4 541.1h1v1h-1zM357.7 550.4h1v1h-1zM368.2 543.1h1v1h-1zM361.7 543.0h1v1h-1zM367.8 550.6h1v1h-1zM364.8 546.8h1v1h-1zM377.0 547.8h1v1h-1zM363.9 552.5h1v1h-1zM371.5 541.5h1v1h-1zM356.0 543.5h1v1h-1zM373.9 541.0h1v1h-1zM357.4 549.5h1v1h-1zM353.5 547.4h1v1h-1zM363.4 550.8h1v1h-1zM367.5 550.6h1v1h-1zM363.9 554.5h1v1h-1zM360.5 533.7h1v1h-1zM354.5 546.3h1v1h-1zM348.3 550.8h1v1h-1zM369.5 543.7h1v1h-1zM361.4 551.3h1v1h-1zM371.6 542.1h1v1h-1zM353.8 539.9h1v1h-1zM368.4 551.2h1v1h-1zM373.0 545.7h1v1h-1zM366.0 550.1h1v1h-1zM373.5 540.7h1v1h-1zM377.3 547.5h1v1h-1zM362.8 549.9h1v1h-1zM364.2 537.5h1v1h-1zM357.7 547.6h1v1h-1zM359.5 550.4h1v1h-1zM364.4 543.9h1v1h-1zM364.3 544.1h1v1h-1zM362.5 548.0h1v1h-1zM362.5 543.9h1v1h-1zM360.1 533.4h1v1h-1zM366.7 545.9h1v1h-1zM359.9 547.6h1v1h-1zM363.4 539.6h1v1h-1zM356.6 535.3h1v1h-1zM369.1 548.1h1v1h-1zM356.2 552.2h1v1h-1zM362.2 549.6h1v1h-1zM367.5 538.1h1v1h-1zM359.2 542.3h1v1h-1zM354.7 543.4h1v1h-1zM358.8 544.5h1v1h-1zM369.8 548.3h1v1h-1zM370.6 539.2h1v1h-1zM347.1 545.1h1v1h-1zM368.4 546.2h1v1h-1zM371.1 550.8h1v1h-1zM375.9 545.3h1v1h-1zM357.2 557.3h1v1h-1zM360.7 547.9h1v1h-1zM354.5 547.1h1v1h-1zM362.7 546.1h1v1h-1zM362.8 549.4h1v1h-1zM366.5 543.1h1v1h-1zM359.9 547.4h1v1h-1zM370.1 544.2h1v1h-1zM373.5 545.1h1v1h-1zM349.5 545.7h1v1h-1zM367.3 551.1h1v1h-1zM356.6 547.5h1v1h-1zM350.0 548.3h1v1h-1zM367.9 551.1h1v1h-1zM349.2 545.3h1v1h-1zM368.2 539.7h1v1h-1zM362.9 552.0h1v1h-1zM361.3 541.5h1v1h-1zM371.0 538.2h1v1h-1zM365.9 541.7h1v1h-1zM366.3 545.0h1v1h-1zM357.6 545.6h1v1h-1zM369.6 542.6h1v1h-1zM379.1 537.3h1v1h-1zM357.5 551.9h1v1h-1zM369.5 540.8h1v1h-1zM359.7 544.6h1v1h-1zM355.2 552.0h1v1h-1zM371.1 536.6h1v1h-1zM374.1 549.4h1v1h-1zM369.4 553.4h1v1h-1zM361.4 539.4h1v1h-1zM360.0 554.0h1v1h-1zM355.7 540.4h1v1h-1zM354.4 541.6h1v1h-1zM363.6 546.4h1v1h-1zM367.4 545.3h1v1h-1zM368.2 533.9h1v1h-1zM367.2 552.0h1v1h-1zM359.9 543.0h1v1h-1zM364.1 539.0h1v1h-1zM364.7 546.2h1v1h-1zM368.7 541.0h1v1h-1zM375.5 545.2h1v1h-1zM365.5 558.7h1v1h-1zM367.0 537.9h1v1h-1zM363.0 546.0h1v1h-1zM366.3 536.2h1v1h-1zM356.5 553.9h1v1h-1zM358.6 541.6h1v1h-1zM365.2 539.6h1v1h-1zM351.9 543.2h1v1h-1zM361.3 541.1h1v1h-1zM357.0 545.3h1v1h-1zM350.3 548.6h1v1h-1zM368.6 543.8h1v1h-1zM349.5 546.2h1v1h-1zM363.2 541.7h1v1h-1zM366.3 552.3h1v1h-1zM366.1 537.8h1v1h-1zM369.1 544.4h1v1h-1zM361.9 542.5h1v1h-1zM355.8 552.0h1v1h-1zM358.2 548.7h1v1h-1zM374.1 539.1h1v1h-1zM355.9 540.0h1v1h-1zM358.7 554.1h1v1h-1zM357.7 541.2h1v1h-1zM363.1 538.2h1v1h-1zM359.2 545.8h1v1h-1zM365.6 546.4h1v1h-1zM369.6 539.5h1v1h-1zM367.4 541.8h1v1h-1zM360.7 548.9h1v1h-1zM368.7 543.1h1v1h-1zM373.0 544.0h1v1h-1zM364.0 546.2h1v1h-1zM373.5 544.0h1v1h-1zM364.9 540.7h1v1h-1zM365.1 541.0h1v1h-1zM370.1 548.1h1v1h-1zM352.2 551.5h1v1h-1zM366.1 541.4h1v1h-1zM371.3 547.1h1v1h-1zM346.7 546.8h1v1h-1zM351.7 537.8h1v1h-1zM351.1 545.1h1v1h-1zM366.2 549.7h1v1h-1zM365.9 547.8h1v1h-1zM371.9 544.7h1v1h-1zM357.5 546.2h1v1h-1zM355.0 539.7h1v1h-1zM369.3 547.2h1v1h-1zM356.4 536.2h1v1h-1zM372.1 545.3h1v1h-1zM373.5 541.2h1v1h-1zM364.6 545.5h1v1h-1zM368.8 542.2h1v1h-1zM367.8 542.4h1v1h-1zM365.2 544.3h1v1h-1zM372.8 541.6h1v1h-1zM354.1 545.8h1v1h-1zM362.2 542.8h1v1h-1zM353.0 539.3h1v1h-1zM367.4 546.8h1v1h-1zM363.9 547.5h1v1h-1zM359.1 551.9h1v1h-1zM365.0 544.4h1v1h-1zM366.0 545.1h1v1h-1zM361.8 536.7h1v1h-1zM371.9 545.3h1v1h-1zM357.3 548.7h1v1h-1zM375.2 539.3h1v1h-1zM361.6 542.2h1v1h-1zM350.9 542.3h1v1h-1zM365.3 543.6h1v1h-1zM363.6 548.8h1v1h-1zM359.3 537.6h1v1h-1zM361.6 538.1h1v1h-1zM362.3 540.4h1v1h-1zM360.4 541.1h1v1h-1zM363.9 544.9h1v1h-1zM370.0 540.9h1v1h-1zM357.8 550.0h1v1h-1zM364.8 537.6h1v1h-1zM369.6 547.0h1v1h-1zM368.8 535.8h1v1h-1zM368.2 547.4h1v1h-1zM352.2 542.7h1v1h-1zM371.5 542.5h1v1h-1zM356.2 545.2h1v1h-1zM359.3 546.3h1v1h-1zM352.9 546.0h1v1h-1zM358.8 544.9h1v1h-1zM374.5 540.5h1v1h-1zM358.1 540.1h1v1h-1zM361.8 541.8h1v1h-1zM364.8 542.4h1v1h-1zM363.7 545.1h1v1h-1zM365.5 549.8h1v1h-1zM360.6 545.3h1v1h-1zM359.1 550.4h1v1h-1zM362.3 552.5h1v1h-1zM373.9 541.7h1v1h-1zM368.9 545.3h1v1h-1zM366.8 545.8h1v1h-1zM362.8 542.0h1v1h-1zM359.0 547.6h1v1h-1zM360.3 550.0h1v1h-1zM362.0 548.9h1v1h-1zM364.8 538.3h1v1h-1zM359.2 556.2h1v1h-1zM358.3 547.3h1v1h-1zM356.1 549.6h1v1h-1zM359.2 536.2h1v1h-1zM356.4 548.8h1v1h-1zM364.7 548.9h1v1h-1zM358.1 539.6h1v1h-1zM358.1 548.6h1v1h-1zM370.9 547.2h1v1h-1zM369.4 546.1h1v1h-1zM348.6 554.2h1v1h-1zM363.0 550.1h1v1h-1zM378.6 535.2h1v1h-1zM367.3 537.8h1v1h-1zM361.8 534.8h1v1h-1zM366.5 546.4h1v1h-1zM382.7 541.4h1v1h-1zM355.9 537.1h1v1h-1zM368.7 547.4h1v1h-1zM348.9 544.8h1v1h-1zM362.1 543.8h1v1h-1zM356.6 546.6h1v1h-1zM353.3 552.7h1v1h-1zM361.8 551.1h1v1h-1zM370.8 535.4h1v1h-1zM350.7 547.5h1v1h-1zM374.3 547.6h1v1h-1zM372.0 544.9h1v1h-1zM352.7 547.5h1v1h-1zM362.0 538.7h1v1h-1zM375.6 543.8h1v1h-1zM361.3 550.0h1v1h-1zM355.6 548.2h1v1h-1zM378.0 541.5h1v1h-1zM366.3 539.3h1v1h-1zM355.4 543.1h1v1h-1zM355.6 540.0h1v1h-1zM372.9 542.9h1v1h-1zM364.1 535.1h1v1h-1zM365.7 539.8h1v1h-1zM358.2 551.9h1v1h-1zM354.6 548.4h1v1h-1zM350.1 553.3h1v1h-1zM350.1 550.7h1v1h-1zM365.7 543.2h1v1h-1z"/><path fill="#3a60b4" d="M366.4 543.5h1v1h-1zM371.3 541.1h1v1h-1zM362.1 545.3h1v1h-1zM351.9 540.9h1v1h-1zM366.9 541.9h1v1h-1zM359.1 538.5h1v1h-1zM356.6 537.3h1v1h-1zM364.0 536.5h1v1h-1zM377.4 548.5h1v1h-1zM371.3 551.7h1v1h-1zM371.2 544.3h1v1h-1zM364.2 545.0h1v1h-1zM366.5 546.1h1v1h-1zM359.8 549.6h1v1h-1zM381.0 543.3h1v1h-1zM382.4 547.4h1v1h-1zM367.5 540.3h1v1h-1zM356.6 555.3h1v1h-1zM359.7 538.5h1v1h-1zM367.5 547.9h1v1h-1zM358.7 538.0h1v1h-1zM371.6 544.1h1v1h-1zM357.8 543.7h1v1h-1zM368.4 544.3h1v1h-1zM368.3 550.8h1v1h-1zM354.9 549.5h1v1h-1zM361.2 542.5h1v1h-1zM364.3 535.9h1v1h-1zM359.1 543.5h1v1h-1zM368.8 541.6h1v1h-1zM363.6 553.0h1v1h-1zM356.0 550.0h1v1h-1zM374.1 536.0h1v1h-1zM361.1 537.7h1v1h-1zM370.1 550.1h1v1h-1zM360.4 547.9h1v1h-1zM358.0 541.2h1v1h-1zM375.7 550.8h1v1h-1zM371.6 543.5h1v1h-1zM366.0 549.8h1v1h-1zM359.0 555.7h1v1h-1zM354.0 549.0h1v1h-1zM368.9 539.4h1v1h-1zM365.0 548.2h1v1h-1zM359.4 551.1h1v1h-1zM377.4 542.0h1v1h-1zM368.6 545.1h1v1h-1zM364.7 548.0h1v1h-1zM349.6 546.3h1v1h-1zM371.7 543.7h1v1h-1zM364.1 538.8h1v1h-1zM367.1 549.8h1v1h-1zM356.3 550.0h1v1h-1zM359.4 559.5h1v1h-1zM365.3 542.3h1v1h-1zM367.1 547.1h1v1h-1zM355.0 547.9h1v1h-1zM361.1 545.8h1v1h-1zM358.8 541.8h1v1h-1zM364.3 549.7h1v1h-1zM359.5 547.7h1v1h-1zM354.5 540.3h1v1h-1zM358.2 543.1h1v1h-1zM354.7 545.3h1v1h-1zM366.7 542.3h1v1h-1zM352.2 540.7h1v1h-1zM354.3 538.6h1v1h-1zM363.1 547.3h1v1h-1zM374.7 540.7h1v1h-1zM361.5 544.3h1v1h-1zM354.2 556.6h1v1h-1zM364.1 545.7h1v1h-1zM368.5 548.3h1v1h-1zM366.6 545.8h1v1h-1zM380.7 544.9h1v1h-1zM362.3 548.2h1v1h-1zM350.2 545.8h1v1h-1zM355.5 539.3h1v1h-1zM369.6 550.3h1v1h-1zM361.5 548.7h1v1h-1zM355.1 548.4h1v1h-1zM360.7 543.8h1v1h-1zM350.6 537.5h1v1h-1zM358.1 549.6h1v1h-1zM370.0 547.8h1v1h-1zM364.7 539.8h1v1h-1zM365.2 551.3h1v1h-1zM365.1 543.8h1v1h-1zM358.1 545.5h1v1h-1zM364.8 539.0h1v1h-1zM354.8 544.3h1v1h-1zM356.6 550.7h1v1h-1zM359.8 542.9h1v1h-1zM353.8 543.9h1v1h-1zM363.4 548.6h1v1h-1zM350.0 544.0h1v1h-1zM359.5 544.2h1v1h-1zM369.7 540.5h1v1h-1zM373.7 546.8h1v1h-1zM357.4 547.1h1v1h-1zM373.2 543.4h1v1h-1zM363.2 539.5h1v1h-1zM372.4 545.1h1v1h-1zM358.7 544.9h1v1h-1zM376.0 537.1h1v1h-1zM376.1 539.0h1v1h-1zM363.8 549.6h1v1h-1zM368.0 551.4h1v1h-1zM353.5 538.5h1v1h-1zM355.7 540.0h1v1h-1zM367.4 546.3h1v1h-1zM362.5 548.3h1v1h-1zM361.7 555.4h1v1h-1zM365.5 546.0h1v1h-1zM368.9 543.4h1v1h-1zM360.9 548.6h1v1h-1zM352.3 551.9h1v1h-1zM371.7 548.2h1v1h-1zM364.5 539.7h1v1h-1zM356.2 545.3h1v1h-1zM362.5 535.0h1v1h-1zM356.0 550.7h1v1h-1zM355.8 548.8h1v1h-1zM365.7 551.4h1v1h-1zM367.3 548.5h1v1h-1zM364.8 545.7h1v1h-1zM368.3 548.0h1v1h-1zM354.6 548.1h1v1h-1zM363.5 538.1h1v1h-1zM381.3 533.1h1v1h-1zM370.7 541.4h1v1h-1zM365.2 550.9h1v1h-1zM361.2 552.9h1v1h-1zM368.3 544.5h1v1h-1zM368.3 536.3h1v1h-1zM375.2 543.6h1v1h-1zM365.8 546.5h1v1h-1zM355.4 539.1h1v1h-1zM364.3 554.4h1v1h-1zM354.5 552.2h1v1h-1zM368.2 546.0h1v1h-1zM366.0 552.6h1v1h-1zM368.2 548.0h1v1h-1zM364.8 549.3h1v1h-1zM361.2 536.7h1v1h-1zM365.5 545.7h1v1h-1zM358.2 539.0h1v1h-1zM368.7 548.4h1v1h-1zM365.6 546.4h1v1h-1zM367.3 545.5h1v1h-1zM354.7 551.6h1v1h-1zM368.4 542.3h1v1h-1zM358.6 539.3h1v1h-1zM367.7 550.9h1v1h-1zM368.3 543.7h1v1h-1zM363.3 545.4h1v1h-1zM384.6 540.6h1v1h-1zM356.9 552.1h1v1h-1zM371.2 547.2h1v1h-1zM376.9 541.1h1v1h-1zM366.8 545.1h1v1h-1zM371.3 545.3h1v1h-1zM354.2 553.8h1v1h-1zM346.8 546.5h1v1h-1zM375.3 540.7h1v1h-1zM359.4 541.1h1v1h-1zM356.6 536.2h1v1h-1zM364.8 557.5h1v1h-1zM356.1 553.3h1v1h-1zM371.4 536.8h1v1h-1zM359.8 543.9h1v1h-1zM381.0 545.6h1v1h-1zM363.9 538.8h1v1h-1zM363.1 547.3h1v1h-1zM355.6 543.2h1v1h-1zM364.0 539.7h1v1h-1zM377.4 543.8h1v1h-1zM366.3 538.9h1v1h-1zM352.4 544.9h1v1h-1zM371.5 544.4h1v1h-1zM365.3 542.3h1v1h-1zM364.9 540.9h1v1h-1zM360.5 548.0h1v1h-1zM349.3 544.3h1v1h-1zM367.6 543.1h1v1h-1zM356.5 548.1h1v1h-1zM357.7 547.9h1v1h-1zM371.1 544.4h1v1h-1zM373.2 550.6h1v1h-1zM362.9 543.4h1v1h-1zM357.9 541.6h1v1h-1zM356.0 541.0h1v1h-1zM362.5 555.8h1v1h-1zM367.3 545.3h1v1h-1zM370.7 539.2h1v1h-1zM373.7 550.3h1v1h-1zM363.2 541.6h1v1h-1zM355.3 547.6h1v1h-1zM354.8 546.0h1v1h-1zM361.6 553.4h1v1h-1zM361.5 549.5h1v1h-1zM368.1 541.8h1v1h-1zM362.7 548.0h1v1h-1zM361.0 550.9h1v1h-1zM362.7 551.7h1v1h-1zM356.9 537.0h1v1h-1zM353.3 559.1h1v1h-1zM365.9 540.7h1v1h-1zM362.7 540.9h1v1h-1zM360.2 541.3h1v1h-1zM361.8 542.5h1v1h-1zM353.4 545.8h1v1h-1zM362.3 551.5h1v1h-1zM367.8 549.6h1v1h-1zM354.1 552.9h1v1h-1zM368.8 550.7h1v1h-1zM366.1 541.1h1v1h-1zM360.7 548.4h1v1h-1zM372.4 544.3h1v1h-1zM365.1 552.2h1v1h-1zM366.2 548.6h1v1h-1zM359.4 540.0h1v1h-1zM353.8 546.6h1v1h-1zM358.3 554.0h1v1h-1zM362.2 541.4h1v1h-1zM359.8 543.3h1v1h-1z"/><path fill="#e8281c" d="M357.1 543.7h1v1h-1zM361.7 542.7h1v1h-1zM358.4 545.1h1v1h-1zM358.8 546.2h1v1h-1zM366.2 545.9h1v1h-1zM358.9 548.8h1v1h-1zM359.4 545.1h1v1h-1zM364.2 544.2h1v1h-1zM360.5 549.2h1v1h-1zM359.9 547.6h1v1h-1zM362.6 545.4h1v1h-1zM359.2 549.3h1v1h-1zM360.0 544.3h1v1h-1zM361.6 546.7h1v1h-1zM362.2 542.8h1v1h-1zM358.0 542.7h1v1h-1zM364.8 544.3h1v1h-1zM362.3 544.3h1v1h-1zM365.7 544.5h1v1h-1zM361.5 546.4h1v1h-1zM363.7 545.9h1v1h-1zM362.9 546.5h1v1h-1zM359.9 541.6h1v1h-1zM364.5 546.1h1v1h-1zM361.1 545.5h1v1h-1zM362.8 544.3h1v1h-1zM360.0 541.6h1v1h-1zM363.2 543.3h1v1h-1zM365.9 546.2h1v1h-1zM359.9 544.5h1v1h-1zM358.5 547.5h1v1h-1zM357.7 547.4h1v1h-1zM362.4 544.6h1v1h-1zM362.1 542.6h1v1h-1zM361.9 544.8h1v1h-1zM359.0 547.8h1v1h-1zM365.4 544.9h1v1h-1zM358.4 547.7h1v1h-1zM365.1 548.3h1v1h-1zM362.2 546.3h1v1h-1zM362.9 541.4h1v1h-1zM364.0 544.5h1v1h-1zM362.7 544.3h1v1h-1zM364.5 546.0h1v1h-1z"/><path fill="#f08a20" d="M364.6 540.9h1v1h-1zM360.3 546.1h1v1h-1zM367.0 546.1h1v1h-1zM362.4 547.6h1v1h-1zM356.3 550.1h1v1h-1zM362.3 545.7h1v1h-1zM361.5 546.5h1v1h-1zM356.2 545.6h1v1h-1zM361.2 545.8h1v1h-1zM364.7 540.5h1v1h-1zM358.9 545.7h1v1h-1zM360.5 544.1h1v1h-1zM364.5 549.3h1v1h-1zM367.0 546.2h1v1h-1zM364.0 543.6h1v1h-1zM363.3 542.1h1v1h-1zM369.1 546.4h1v1h-1zM361.2 547.7h1v1h-1zM361.4 546.2h1v1h-1zM361.0 550.2h1v1h-1zM368.4 545.6h1v1h-1zM361.9 548.8h1v1h-1zM356.7 546.9h1v1h-1zM362.5 546.6h1v1h-1zM358.1 549.5h1v1h-1zM364.6 543.0h1v1h-1zM363.9 543.7h1v1h-1zM362.4 548.3h1v1h-1zM366.6 546.9h1v1h-1zM369.1 548.0h1v1h-1zM361.0 541.8h1v1h-1zM366.0 548.1h1v1h-1zM358.4 543.3h1v1h-1zM367.1 542.1h1v1h-1zM358.0 548.7h1v1h-1zM362.4 543.4h1v1h-1zM356.9 548.1h1v1h-1zM353.7 546.7h1v1h-1zM363.4 540.7h1v1h-1zM367.5 548.4h1v1h-1zM363.0 544.2h1v1h-1zM366.3 543.0h1v1h-1zM362.2 541.4h1v1h-1zM358.1 545.7h1v1h-1zM361.8 541.1h1v1h-1zM360.4 548.0h1v1h-1zM359.8 550.9h1v1h-1zM360.5 542.5h1v1h-1zM357.7 548.6h1v1h-1zM362.5 545.3h1v1h-1zM359.3 547.2h1v1h-1zM374.1 546.8h1v1h-1zM358.9 542.8h1v1h-1zM358.9 546.2h1v1h-1zM362.2 545.3h1v1h-1zM359.5 547.2h1v1h-1zM355.4 545.0h1v1h-1zM366.6 543.5h1v1h-1zM366.2 546.4h1v1h-1zM364.1 546.9h1v1h-1zM363.9 544.5h1v1h-1zM367.2 546.6h1v1h-1zM367.0 545.9h1v1h-1zM366.2 551.0h1v1h-1zM360.7 546.8h1v1h-1zM361.8 543.6h1v1h-1zM358.1 549.9h1v1h-1zM367.6 542.8h1v1h-1zM361.1 539.8h1v1h-1zM361.7 540.7h1v1h-1zM358.5 545.8h1v1h-1zM358.7 551.6h1v1h-1zM357.7 547.3h1v1h-1z"/><path fill="#f0c828" d="M364.4 546.9h1v1h-1zM368.0 542.8h1v1h-1zM360.3 549.1h1v1h-1zM363.5 546.3h1v1h-1zM357.5 548.3h1v1h-1zM356.5 543.6h1v1h-1zM361.7 546.6h1v1h-1zM364.1 545.0h1v1h-1zM356.5 546.5h1v1h-1zM356.7 552.1h1v1h-1zM360.2 541.2h1v1h-1zM364.8 545.5h1v1h-1zM364.7 548.1h1v1h-1zM358.9 550.0h1v1h-1zM360.6 545.5h1v1h-1zM365.6 545.6h1v1h-1zM363.9 540.6h1v1h-1zM361.7 548.8h1v1h-1zM362.3 548.3h1v1h-1zM360.0 543.2h1v1h-1zM361.6 546.5h1v1h-1zM360.2 546.4h1v1h-1zM357.8 543.9h1v1h-1zM362.8 542.5h1v1h-1zM360.4 546.4h1v1h-1zM362.8 543.4h1v1h-1zM368.3 546.0h1v1h-1zM355.4 540.5h1v1h-1zM353.9 544.1h1v1h-1zM368.1 540.3h1v1h-1zM359.5 547.1h1v1h-1zM365.3 546.4h1v1h-1zM362.3 543.2h1v1h-1zM360.7 550.2h1v1h-1zM364.0 548.1h1v1h-1zM359.7 547.5h1v1h-1zM362.6 545.7h1v1h-1zM359.1 545.4h1v1h-1zM356.4 547.7h1v1h-1zM365.1 544.1h1v1h-1zM362.5 545.8h1v1h-1zM360.6 541.9h1v1h-1zM365.3 540.7h1v1h-1zM358.4 550.8h1v1h-1zM358.1 547.1h1v1h-1zM362.3 545.1h1v1h-1zM364.5 546.7h1v1h-1zM361.0 548.0h1v1h-1zM369.2 539.3h1v1h-1zM358.9 548.0h1v1h-1zM356.1 550.2h1v1h-1zM364.9 541.6h1v1h-1zM362.8 545.4h1v1h-1zM362.6 546.9h1v1h-1zM363.1 542.5h1v1h-1zM361.3 549.3h1v1h-1zM359.5 547.1h1v1h-1zM363.7 546.1h1v1h-1zM366.4 546.2h1v1h-1zM359.8 544.2h1v1h-1zM364.5 546.4h1v1h-1zM361.6 548.7h1v1h-1zM354.2 548.5h1v1h-1zM360.0 547.1h1v1h-1z"/>
<path fill="#2844a4" d="M424.2 538.0h1v1h-1zM439.2 544.0h1v1h-1zM430.5 541.1h1v1h-1zM423.6 547.1h1v1h-1zM430.1 551.2h1v1h-1zM411.8 545.9h1v1h-1zM423.9 539.6h1v1h-1zM431.4 553.3h1v1h-1zM433.8 542.6h1v1h-1zM433.1 548.4h1v1h-1zM425.1 548.0h1v1h-1zM436.0 543.3h1v1h-1zM426.3 542.3h1v1h-1zM453.3 545.1h1v1h-1zM438.6 538.5h1v1h-1zM430.9 539.2h1v1h-1zM423.9 546.8h1v1h-1zM425.7 549.7h1v1h-1zM427.8 537.8h1v1h-1zM418.6 544.3h1v1h-1zM437.4 537.9h1v1h-1zM421.3 542.5h1v1h-1zM423.9 542.9h1v1h-1zM431.3 545.1h1v1h-1zM433.6 548.1h1v1h-1zM415.6 546.8h1v1h-1zM434.9 548.8h1v1h-1zM433.4 545.6h1v1h-1zM421.0 548.9h1v1h-1zM419.4 535.7h1v1h-1zM446.7 552.4h1v1h-1zM435.6 549.5h1v1h-1zM423.8 548.0h1v1h-1zM427.7 542.8h1v1h-1zM437.3 537.1h1v1h-1zM425.4 541.7h1v1h-1zM426.1 542.4h1v1h-1zM419.0 542.9h1v1h-1zM416.3 545.7h1v1h-1zM427.3 546.8h1v1h-1zM432.4 545.0h1v1h-1zM420.4 548.3h1v1h-1zM422.2 551.1h1v1h-1zM431.1 538.0h1v1h-1zM420.9 545.8h1v1h-1zM427.4 540.6h1v1h-1zM430.5 542.3h1v1h-1zM428.5 546.7h1v1h-1zM418.6 551.4h1v1h-1zM434.3 536.6h1v1h-1zM418.8 540.2h1v1h-1zM430.2 543.5h1v1h-1zM432.3 542.3h1v1h-1zM435.4 539.8h1v1h-1zM425.9 553.5h1v1h-1zM425.1 548.2h1v1h-1zM428.2 541.6h1v1h-1zM425.6 542.4h1v1h-1zM425.9 538.5h1v1h-1zM417.0 546.1h1v1h-1zM431.1 544.6h1v1h-1zM440.3 541.6h1v1h-1zM439.0 543.1h1v1h-1zM429.0 554.5h1v1h-1zM432.6 544.3h1v1h-1zM416.8 538.7h1v1h-1zM432.4 541.6h1v1h-1zM426.4 549.1h1v1h-1zM416.7 550.0h1v1h-1zM422.9 552.5h1v1h-1zM431.9 537.6h1v1h-1zM427.6 550.4h1v1h-1zM433.9 538.4h1v1h-1zM423.6 541.3h1v1h-1zM417.0 548.8h1v1h-1zM419.4 543.9h1v1h-1zM426.2 537.8h1v1h-1zM421.3 549.2h1v1h-1zM427.3 549.6h1v1h-1zM415.9 539.5h1v1h-1zM423.1 548.1h1v1h-1zM442.3 545.8h1v1h-1zM427.8 547.9h1v1h-1zM421.6 535.9h1v1h-1zM428.5 545.4h1v1h-1zM420.8 541.8h1v1h-1zM419.4 545.7h1v1h-1zM426.0 542.9h1v1h-1zM414.9 544.1h1v1h-1zM436.8 545.4h1v1h-1zM421.8 548.2h1v1h-1zM425.4 544.3h1v1h-1zM426.5 543.4h1v1h-1zM441.4 545.6h1v1h-1zM429.2 545.5h1v1h-1zM427.6 543.5h1v1h-1zM432.5 543.6h1v1h-1zM434.9 542.0h1v1h-1zM420.1 540.4h1v1h-1zM432.2 543.6h1v1h-1zM423.7 540.6h1v1h-1zM419.0 547.6h1v1h-1zM427.8 544.1h1v1h-1zM423.2 540.7h1v1h-1zM427.1 540.3h1v1h-1zM418.9 538.6h1v1h-1zM436.6 542.7h1v1h-1zM422.3 543.1h1v1h-1zM424.0 539.7h1v1h-1zM425.6 553.7h1v1h-1zM428.5 537.9h1v1h-1zM430.0 540.0h1v1h-1zM436.0 543.2h1v1h-1zM435.0 540.5h1v1h-1zM426.2 547.5h1v1h-1zM428.6 542.0h1v1h-1zM428.5 544.0h1v1h-1zM430.9 542.5h1v1h-1zM427.5 539.5h1v1h-1zM438.3 536.9h1v1h-1zM419.1 539.4h1v1h-1zM423.8 531.9h1v1h-1zM415.9 541.6h1v1h-1zM418.3 554.1h1v1h-1zM440.1 541.0h1v1h-1zM416.3 548.8h1v1h-1zM427.0 543.6h1v1h-1zM420.7 539.5h1v1h-1zM420.7 544.9h1v1h-1zM425.6 549.0h1v1h-1zM424.6 550.7h1v1h-1zM438.0 541.7h1v1h-1zM433.4 544.9h1v1h-1zM424.8 548.2h1v1h-1zM429.9 552.0h1v1h-1zM435.2 540.0h1v1h-1zM429.4 549.0h1v1h-1zM425.4 543.5h1v1h-1zM432.0 542.2h1v1h-1zM429.1 545.7h1v1h-1zM421.1 556.1h1v1h-1zM430.3 545.9h1v1h-1zM437.7 546.3h1v1h-1zM436.7 539.4h1v1h-1zM422.9 536.1h1v1h-1zM427.2 543.4h1v1h-1zM421.4 546.7h1v1h-1zM439.5 544.4h1v1h-1zM424.5 546.7h1v1h-1zM422.4 552.6h1v1h-1zM424.1 546.7h1v1h-1zM415.9 554.5h1v1h-1zM423.4 543.2h1v1h-1zM422.8 543.1h1v1h-1zM427.2 547.2h1v1h-1zM435.5 543.2h1v1h-1zM432.4 549.5h1v1h-1zM433.0 548.1h1v1h-1zM426.5 536.5h1v1h-1zM439.2 545.4h1v1h-1zM415.5 534.3h1v1h-1zM433.3 534.3h1v1h-1zM428.7 542.4h1v1h-1zM423.8 551.2h1v1h-1zM426.8 553.7h1v1h-1zM420.5 552.6h1v1h-1zM420.4 538.7h1v1h-1zM438.6 536.8h1v1h-1zM434.7 543.9h1v1h-1zM420.7 536.3h1v1h-1zM420.2 548.1h1v1h-1zM424.7 552.6h1v1h-1zM430.3 547.1h1v1h-1zM428.7 543.5h1v1h-1zM448.5 540.0h1v1h-1zM430.5 540.8h1v1h-1zM438.0 539.7h1v1h-1zM440.9 540.9h1v1h-1zM432.6 541.4h1v1h-1zM417.8 540.6h1v1h-1zM420.7 544.3h1v1h-1zM423.4 538.0h1v1h-1zM419.9 547.6h1v1h-1zM425.8 533.2h1v1h-1zM417.1 553.3h1v1h-1zM420.8 555.3h1v1h-1zM415.5 542.6h1v1h-1zM418.7 541.9h1v1h-1zM423.6 555.0h1v1h-1zM433.4 543.3h1v1h-1zM419.6 537.8h1v1h-1zM429.5 542.4h1v1h-1zM423.3 548.3h1v1h-1zM435.8 544.4h1v1h-1zM430.3 542.2h1v1h-1zM423.7 551.7h1v1h-1zM427.5 542.1h1v1h-1zM418.3 539.1h1v1h-1zM419.2 541.8h1v1h-1zM419.7 542.5h1v1h-1zM432.1 545.1h1v1h-1zM432.0 541.0h1v1h-1zM418.8 548.8h1v1h-1zM417.9 541.8h1v1h-1zM417.0 548.5h1v1h-1zM429.8 549.1h1v1h-1zM427.6 546.3h1v1h-1zM419.0 541.0h1v1h-1zM430.8 546.0h1v1h-1zM438.6 546.9h1v1h-1zM428.8 539.8h1v1h-1zM429.2 541.1h1v1h-1zM423.8 537.1h1v1h-1zM424.1 541.5h1v1h-1zM422.6 540.3h1v1h-1zM417.3 545.8h1v1h-1zM422.5 549.4h1v1h-1zM421.2 554.9h1v1h-1zM435.5 545.7h1v1h-1zM435.2 547.1h1v1h-1zM429.1 545.0h1v1h-1zM437.5 542.7h1v1h-1zM420.8 554.1h1v1h-1zM427.4 547.7h1v1h-1zM427.2 540.4h1v1h-1zM430.3 545.6h1v1h-1zM437.9 538.2h1v1h-1zM437.5 543.9h1v1h-1zM423.2 533.0h1v1h-1zM441.9 543.0h1v1h-1zM414.9 539.6h1v1h-1zM415.8 545.0h1v1h-1zM431.7 545.1h1v1h-1zM418.7 544.7h1v1h-1zM422.1 552.7h1v1h-1zM420.4 543.5h1v1h-1zM423.5 540.2h1v1h-1zM429.4 538.6h1v1h-1zM432.4 547.1h1v1h-1zM415.1 539.1h1v1h-1zM434.3 542.3h1v1h-1zM426.9 549.6h1v1h-1zM436.6 541.8h1v1h-1zM425.5 552.3h1v1h-1zM433.4 536.9h1v1h-1zM427.6 545.5h1v1h-1zM426.7 552.4h1v1h-1zM423.0 544.5h1v1h-1zM420.8 546.5h1v1h-1zM420.2 539.4h1v1h-1zM427.3 540.9h1v1h-1zM432.3 546.5h1v1h-1zM424.2 541.8h1v1h-1zM413.0 550.7h1v1h-1zM415.4 543.6h1v1h-1zM416.9 551.8h1v1h-1zM420.7 542.7h1v1h-1zM434.0 534.5h1v1h-1zM410.4 552.1h1v1h-1zM428.2 549.0h1v1h-1zM428.6 548.1h1v1h-1zM430.7 540.0h1v1h-1zM430.9 541.8h1v1h-1zM439.0 542.9h1v1h-1zM425.9 549.4h1v1h-1zM425.6 541.9h1v1h-1zM431.7 544.0h1v1h-1zM413.1 543.6h1v1h-1zM425.8 545.8h1v1h-1zM436.0 543.0h1v1h-1zM425.4 542.2h1v1h-1zM411.5 555.4h1v1h-1zM433.0 541.7h1v1h-1zM429.8 541.1h1v1h-1zM436.3 535.1h1v1h-1zM423.2 548.1h1v1h-1zM425.1 546.8h1v1h-1zM430.6 551.0h1v1h-1zM420.0 549.0h1v1h-1zM432.8 543.1h1v1h-1zM412.8 542.2h1v1h-1zM422.3 543.3h1v1h-1zM420.1 543.5h1v1h-1zM429.8 554.0h1v1h-1zM421.6 541.8h1v1h-1zM428.5 541.3h1v1h-1zM437.2 553.0h1v1h-1zM426.8 537.6h1v1h-1zM444.0 544.0h1v1h-1zM422.0 542.5h1v1h-1zM418.3 542.5h1v1h-1zM428.2 537.6h1v1h-1zM422.3 542.4h1v1h-1zM433.8 540.9h1v1h-1zM438.4 548.9h1v1h-1zM426.4 541.6h1v1h-1zM425.4 550.2h1v1h-1zM431.7 534.8h1v1h-1zM441.8 546.3h1v1h-1zM425.9 541.3h1v1h-1zM434.1 542.8h1v1h-1zM424.8 550.8h1v1h-1zM421.5 549.2h1v1h-1zM422.4 545.2h1v1h-1zM430.8 543.7h1v1h-1zM420.1 551.7h1v1h-1zM425.1 537.5h1v1h-1zM430.5 548.0h1v1h-1zM429.5 546.8h1v1h-1zM416.1 538.1h1v1h-1zM433.9 550.1h1v1h-1zM417.7 546.2h1v1h-1zM422.1 540.1h1v1h-1zM430.4 540.8h1v1h-1zM427.1 539.1h1v1h-1zM437.3 542.4h1v1h-1zM439.6 540.2h1v1h-1zM423.3 543.0h1v1h-1zM440.9 542.2h1v1h-1zM428.8 537.7h1v1h-1zM428.3 546.4h1v1h-1zM424.0 546.8h1v1h-1zM428.8 540.5h1v1h-1zM425.0 544.8h1v1h-1zM432.9 548.1h1v1h-1zM423.9 550.0h1v1h-1zM432.1 541.1h1v1h-1zM428.7 546.2h1v1h-1zM418.9 545.3h1v1h-1zM433.7 544.2h1v1h-1zM428.9 543.7h1v1h-1zM417.0 541.4h1v1h-1zM430.9 544.0h1v1h-1zM426.7 541.1h1v1h-1zM435.9 550.3h1v1h-1zM437.4 542.6h1v1h-1zM438.4 545.3h1v1h-1zM428.8 540.1h1v1h-1zM422.9 551.1h1v1h-1zM443.2 546.1h1v1h-1zM426.4 539.3h1v1h-1zM429.9 538.9h1v1h-1zM417.2 542.1h1v1h-1zM421.0 548.8h1v1h-1zM430.0 543.3h1v1h-1zM412.5 548.4h1v1h-1zM432.2 546.2h1v1h-1zM429.8 548.1h1v1h-1zM422.0 556.4h1v1h-1zM413.0 546.2h1v1h-1zM424.7 546.6h1v1h-1zM418.1 549.9h1v1h-1zM415.4 544.1h1v1h-1zM426.5 550.4h1v1h-1zM419.5 546.1h1v1h-1zM427.5 539.7h1v1h-1zM436.0 541.6h1v1h-1zM416.9 537.5h1v1h-1zM426.7 544.5h1v1h-1zM431.7 545.4h1v1h-1zM429.8 542.6h1v1h-1zM424.9 540.8h1v1h-1zM421.2 541.6h1v1h-1zM432.7 544.0h1v1h-1zM432.7 542.9h1v1h-1zM430.2 544.0h1v1h-1zM430.0 542.5h1v1h-1zM419.6 550.7h1v1h-1zM417.8 541.6h1v1h-1zM420.6 544.3h1v1h-1zM427.8 538.1h1v1h-1zM422.8 538.8h1v1h-1zM425.7 538.7h1v1h-1zM419.4 546.1h1v1h-1zM431.1 540.4h1v1h-1zM421.0 550.5h1v1h-1zM419.3 550.5h1v1h-1zM430.6 531.3h1v1h-1zM430.2 542.3h1v1h-1zM408.8 545.1h1v1h-1zM425.6 540.5h1v1h-1zM440.2 539.9h1v1h-1zM417.6 545.9h1v1h-1zM427.1 547.9h1v1h-1zM427.6 540.2h1v1h-1zM424.6 532.8h1v1h-1zM436.1 541.4h1v1h-1zM415.7 545.4h1v1h-1zM428.1 540.9h1v1h-1zM422.0 548.8h1v1h-1zM423.5 538.9h1v1h-1zM422.1 546.9h1v1h-1zM429.1 544.9h1v1h-1zM416.0 541.6h1v1h-1zM417.1 548.6h1v1h-1zM420.0 546.8h1v1h-1zM415.6 545.7h1v1h-1zM423.4 545.5h1v1h-1zM425.6 543.7h1v1h-1zM442.8 544.9h1v1h-1zM416.3 547.2h1v1h-1zM431.0 546.3h1v1h-1zM426.2 538.9h1v1h-1zM433.3 548.0h1v1h-1zM425.6 554.2h1v1h-1zM428.0 546.6h1v1h-1zM432.2 545.4h1v1h-1zM437.7 542.5h1v1h-1zM430.4 551.3h1v1h-1zM424.2 537.9h1v1h-1zM419.2 545.0h1v1h-1zM431.7 544.1h1v1h-1zM422.1 541.1h1v1h-1zM434.6 544.1h1v1h-1zM427.9 538.4h1v1h-1zM425.3 554.8h1v1h-1zM430.9 542.7h1v1h-1zM429.1 542.0h1v1h-1zM429.5 537.6h1v1h-1zM420.6 549.2h1v1h-1zM432.4 544.6h1v1h-1zM422.0 541.9h1v1h-1zM427.4 539.4h1v1h-1zM418.7 550.5h1v1h-1zM435.3 544.5h1v1h-1zM422.6 538.9h1v1h-1zM433.8 537.5h1v1h-1zM440.7 549.0h1v1h-1zM434.9 544.7h1v1h-1zM416.5 549.7h1v1h-1zM432.7 547.1h1v1h-1zM430.0 541.7h1v1h-1zM429.4 539.8h1v1h-1zM423.8 545.5h1v1h-1zM432.2 549.5h1v1h-1zM422.4 548.4h1v1h-1zM431.0 547.2h1v1h-1zM427.2 537.3h1v1h-1zM431.0 536.0h1v1h-1zM421.3 544.5h1v1h-1zM428.9 543.4h1v1h-1zM423.4 539.5h1v1h-1zM416.4 541.2h1v1h-1zM427.1 556.0h1v1h-1zM422.2 544.6h1v1h-1zM422.7 551.5h1v1h-1zM431.4 539.0h1v1h-1zM431.3 543.6h1v1h-1zM431.1 543.0h1v1h-1zM432.8 546.9h1v1h-1zM420.4 545.2h1v1h-1zM420.2 548.3h1v1h-1zM449.8 538.2h1v1h-1zM432.7 544.8h1v1h-1zM432.9 548.0h1v1h-1zM424.7 548.1h1v1h-1zM432.8 547.2h1v1h-1zM420.7 547.5h1v1h-1zM427.5 550.6h1v1h-1zM429.0 543.8h1v1h-1zM426.6 548.9h1v1h-1zM430.3 542.8h1v1h-1zM422.7 544.3h1v1h-1zM428.5 551.0h1v1h-1zM424.0 548.3h1v1h-1zM414.2 551.4h1v1h-1zM415.6 541.3h1v1h-1zM418.7 539.4h1v1h-1zM428.7 548.8h1v1h-1zM412.6 551.8h1v1h-1zM433.4 555.2h1v1h-1zM432.6 541.8h1v1h-1zM422.1 548.5h1v1h-1zM427.6 546.9h1v1h-1zM422.4 544.3h1v1h-1zM427.4 550.5h1v1h-1zM430.5 542.5h1v1h-1zM435.6 539.6h1v1h-1zM426.0 549.1h1v1h-1zM428.8 545.2h1v1h-1zM432.7 547.8h1v1h-1zM430.3 547.4h1v1h-1zM427.4 549.1h1v1h-1zM428.2 537.9h1v1h-1zM422.7 546.1h1v1h-1zM437.5 546.4h1v1h-1zM420.7 556.8h1v1h-1zM436.4 538.8h1v1h-1zM419.3 546.0h1v1h-1zM430.9 538.5h1v1h-1zM424.2 537.2h1v1h-1zM419.5 538.7h1v1h-1zM433.2 539.7h1v1h-1zM418.0 545.0h1v1h-1zM416.7 539.6h1v1h-1zM434.1 548.3h1v1h-1zM429.5 533.9h1v1h-1zM426.1 544.4h1v1h-1zM443.9 544.5h1v1h-1zM422.0 543.8h1v1h-1zM432.2 547.2h1v1h-1zM433.5 550.8h1v1h-1zM424.7 533.9h1v1h-1zM425.3 540.1h1v1h-1zM423.2 539.7h1v1h-1zM424.5 544.0h1v1h-1zM417.6 549.7h1v1h-1zM421.8 552.0h1v1h-1zM437.0 547.7h1v1h-1zM424.7 541.7h1v1h-1zM436.6 542.6h1v1h-1zM425.4 548.8h1v1h-1zM425.7 551.5h1v1h-1zM424.8 548.8h1v1h-1zM426.3 538.8h1v1h-1zM414.9 546.7h1v1h-1zM423.5 549.3h1v1h-1zM420.1 536.9h1v1h-1zM440.4 542.7h1v1h-1zM414.9 541.9h1v1h-1zM425.2 541.1h1v1h-1zM438.7 541.9h1v1h-1zM429.2 547.9h1v1h-1zM438.5 540.2h1v1h-1zM422.3 542.8h1v1h-1zM441.1 541.0h1v1h-1zM432.9 544.8h1v1h-1zM429.4 541.7h1v1h-1zM426.9 549.1h1v1h-1zM435.7 546.4h1v1h-1zM421.0 545.3h1v1h-1zM429.7 540.6h1v1h-1zM428.9 539.8h1v1h-1zM430.1 545.1h1v1h-1zM428.1 545.3h1v1h-1zM419.8 539.6h1v1h-1zM438.9 551.3h1v1h-1zM421.9 537.0h1v1h-1zM440.6 534.6h1v1h-1zM417.0 534.8h1v1h-1zM436.5 543.4h1v1h-1zM425.2 547.0h1v1h-1zM416.4 551.5h1v1h-1zM425.5 549.6h1v1h-1zM446.7 539.8h1v1h-1zM418.2 551.0h1v1h-1zM428.6 540.5h1v1h-1zM418.5 548.9h1v1h-1zM422.6 546.1h1v1h-1zM430.0 544.2h1v1h-1zM413.0 547.9h1v1h-1zM430.3 537.4h1v1h-1zM421.7 552.2h1v1h-1zM438.0 544.6h1v1h-1zM419.9 549.6h1v1h-1zM415.7 544.0h1v1h-1zM442.0 545.6h1v1h-1zM425.4 540.6h1v1h-1zM429.4 538.4h1v1h-1zM425.4 554.9h1v1h-1zM420.2 550.5h1v1h-1zM421.3 547.8h1v1h-1zM422.2 542.1h1v1h-1zM432.8 538.4h1v1h-1zM426.2 549.3h1v1h-1zM435.5 540.3h1v1h-1zM431.8 546.7h1v1h-1zM420.8 540.3h1v1h-1zM430.4 543.4h1v1h-1zM429.6 546.6h1v1h-1zM428.2 551.6h1v1h-1zM431.7 546.3h1v1h-1zM419.0 549.0h1v1h-1zM424.1 547.7h1v1h-1zM412.5 549.6h1v1h-1zM424.7 539.8h1v1h-1zM417.8 549.6h1v1h-1zM425.2 551.3h1v1h-1zM434.1 534.2h1v1h-1zM423.9 535.5h1v1h-1zM420.2 539.4h1v1h-1zM428.8 542.3h1v1h-1zM422.8 541.8h1v1h-1zM439.4 539.2h1v1h-1zM429.9 539.4h1v1h-1zM414.6 544.7h1v1h-1zM425.7 547.8h1v1h-1zM432.7 544.7h1v1h-1zM415.5 558.4h1v1h-1zM434.4 539.3h1v1h-1zM435.7 534.1h1v1h-1zM432.1 542.3h1v1h-1zM415.3 547.3h1v1h-1zM413.0 550.0h1v1h-1zM420.0 552.7h1v1h-1zM428.2 541.7h1v1h-1zM427.5 545.7h1v1h-1zM419.1 545.0h1v1h-1zM419.8 543.1h1v1h-1zM423.6 539.7h1v1h-1zM430.6 541.4h1v1h-1zM440.8 533.6h1v1h-1zM419.5 542.5h1v1h-1zM416.0 548.9h1v1h-1zM421.8 543.2h1v1h-1zM418.7 546.2h1v1h-1zM427.9 542.2h1v1h-1zM429.8 541.6h1v1h-1zM421.3 540.4h1v1h-1zM424.3 551.9h1v1h-1zM431.0 538.4h1v1h-1zM426.6 537.4h1v1h-1zM421.8 547.6h1v1h-1zM414.2 552.3h1v1h-1zM434.5 545.8h1v1h-1zM420.9 541.0h1v1h-1zM435.1 543.7h1v1h-1zM439.8 547.6h1v1h-1zM424.0 540.3h1v1h-1z"/><path fill="#3a60b4" d="M448.2 539.8h1v1h-1zM430.1 553.5h1v1h-1zM425.8 536.7h1v1h-1zM434.2 537.9h1v1h-1zM420.7 542.8h1v1h-1zM423.4 543.6h1v1h-1zM430.5 550.2h1v1h-1zM415.6 547.6h1v1h-1zM420.4 540.8h1v1h-1zM433.7 549.1h1v1h-1zM410.7 546.8h1v1h-1zM422.2 544.5h1v1h-1zM430.8 547.8h1v1h-1zM416.2 546.8h1v1h-1zM421.6 534.4h1v1h-1zM420.3 551.6h1v1h-1zM426.3 551.1h1v1h-1zM424.4 544.3h1v1h-1zM415.1 538.9h1v1h-1zM431.7 544.7h1v1h-1zM426.3 540.2h1v1h-1zM416.3 550.1h1v1h-1zM416.1 545.0h1v1h-1zM418.9 542.0h1v1h-1zM428.0 544.6h1v1h-1zM430.8 538.8h1v1h-1zM420.2 540.6h1v1h-1zM430.2 541.6h1v1h-1zM431.6 540.0h1v1h-1zM432.2 541.2h1v1h-1zM421.9 550.0h1v1h-1zM428.2 547.8h1v1h-1zM426.2 540.5h1v1h-1zM435.6 542.7h1v1h-1zM433.5 545.2h1v1h-1zM420.9 546.6h1v1h-1zM433.2 538.1h1v1h-1zM418.3 543.0h1v1h-1zM439.8 541.6h1v1h-1zM420.7 539.2h1v1h-1zM419.9 549.7h1v1h-1zM431.3 548.3h1v1h-1zM433.5 543.3h1v1h-1zM427.4 547.5h1v1h-1zM427.0 546.2h1v1h-1zM439.1 542.6h1v1h-1zM432.5 547.1h1v1h-1zM414.1 541.3h1v1h-1zM427.4 549.3h1v1h-1zM419.2 547.6h1v1h-1zM440.1 543.5h1v1h-1zM423.4 531.7h1v1h-1zM446.2 542.0h1v1h-1zM418.5 559.9h1v1h-1zM423.0 542.5h1v1h-1zM439.1 541.6h1v1h-1zM419.4 538.6h1v1h-1zM434.5 543.2h1v1h-1zM426.8 551.4h1v1h-1zM420.7 536.2h1v1h-1zM428.6 547.2h1v1h-1zM417.8 542.6h1v1h-1zM424.9 542.0h1v1h-1zM427.1 549.3h1v1h-1zM422.6 546.2h1v1h-1zM423.7 543.6h1v1h-1zM418.9 540.9h1v1h-1zM436.3 544.7h1v1h-1zM438.5 542.4h1v1h-1zM417.0 543.7h1v1h-1zM436.0 545.0h1v1h-1zM426.6 538.9h1v1h-1zM414.5 543.4h1v1h-1zM419.2 551.9h1v1h-1zM431.1 547.1h1v1h-1zM431.0 545.5h1v1h-1zM422.0 538.3h1v1h-1zM408.8 532.0h1v1h-1zM430.8 545.7h1v1h-1zM424.9 542.8h1v1h-1zM416.7 534.2h1v1h-1zM415.1 547.2h1v1h-1zM420.3 541.4h1v1h-1zM434.5 539.1h1v1h-1zM425.3 541.4h1v1h-1zM430.6 555.0h1v1h-1zM416.7 543.0h1v1h-1zM428.4 540.2h1v1h-1zM420.8 543.7h1v1h-1zM415.2 543.9h1v1h-1zM429.2 549.2h1v1h-1zM411.7 541.3h1v1h-1zM430.2 548.6h1v1h-1zM424.7 547.0h1v1h-1zM432.6 542.7h1v1h-1zM420.6 536.1h1v1h-1zM414.4 548.0h1v1h-1zM421.9 546.5h1v1h-1zM434.4 545.0h1v1h-1zM423.5 542.4h1v1h-1zM428.9 555.5h1v1h-1zM424.9 537.4h1v1h-1zM426.7 535.9h1v1h-1zM433.5 547.0h1v1h-1zM443.5 545.0h1v1h-1zM444.1 537.9h1v1h-1zM425.1 549.4h1v1h-1zM418.8 538.7h1v1h-1zM429.5 545.8h1v1h-1zM423.7 541.8h1v1h-1zM416.1 540.8h1v1h-1zM432.5 537.6h1v1h-1zM427.5 536.8h1v1h-1zM433.1 547.0h1v1h-1zM420.4 543.1h1v1h-1zM422.9 548.7h1v1h-1zM425.8 549.0h1v1h-1zM424.8 537.3h1v1h-1zM439.4 537.4h1v1h-1zM422.2 545.1h1v1h-1zM428.4 538.9h1v1h-1zM417.1 539.1h1v1h-1zM442.5 552.2h1v1h-1zM434.4 544.5h1v1h-1zM427.3 542.6h1v1h-1zM441.1 548.5h1v1h-1zM429.6 548.0h1v1h-1zM425.5 539.8h1v1h-1zM436.5 550.5h1v1h-1zM414.6 543.3h1v1h-1zM418.0 544.7h1v1h-1zM433.2 537.5h1v1h-1zM428.4 544.6h1v1h-1zM422.3 549.7h1v1h-1zM427.0 546.1h1v1h-1zM425.0 541.3h1v1h-1zM422.6 540.2h1v1h-1zM438.1 541.1h1v1h-1zM424.3 543.7h1v1h-1zM436.3 549.0h1v1h-1zM427.2 544.1h1v1h-1zM440.0 543.3h1v1h-1zM425.4 555.0h1v1h-1zM435.7 546.9h1v1h-1zM432.2 539.9h1v1h-1zM427.0 544.3h1v1h-1zM426.8 541.0h1v1h-1zM434.2 548.5h1v1h-1zM441.3 541.3h1v1h-1zM432.5 540.6h1v1h-1zM429.7 544.2h1v1h-1zM420.5 554.5h1v1h-1zM417.7 531.8h1v1h-1zM416.3 543.8h1v1h-1zM429.2 540.1h1v1h-1zM421.9 548.3h1v1h-1zM418.8 543.1h1v1h-1zM429.4 551.1h1v1h-1zM428.5 556.3h1v1h-1zM422.9 546.6h1v1h-1zM424.4 537.0h1v1h-1zM415.1 548.6h1v1h-1zM434.0 548.0h1v1h-1zM416.6 548.8h1v1h-1zM424.2 544.2h1v1h-1zM429.2 548.6h1v1h-1zM430.3 539.9h1v1h-1zM432.7 543.4h1v1h-1zM426.4 546.2h1v1h-1zM420.3 548.9h1v1h-1zM423.5 541.5h1v1h-1zM424.9 548.3h1v1h-1zM428.4 540.4h1v1h-1zM433.3 538.4h1v1h-1zM420.7 548.6h1v1h-1zM433.0 535.5h1v1h-1zM431.4 550.4h1v1h-1zM418.9 547.0h1v1h-1zM431.8 548.2h1v1h-1zM430.9 547.4h1v1h-1zM424.0 548.0h1v1h-1zM430.0 551.9h1v1h-1zM423.0 549.1h1v1h-1zM429.4 546.3h1v1h-1zM432.9 540.1h1v1h-1zM426.7 558.0h1v1h-1zM429.4 548.2h1v1h-1zM438.9 549.4h1v1h-1zM429.0 540.7h1v1h-1zM425.6 552.8h1v1h-1zM431.5 542.1h1v1h-1zM422.9 535.1h1v1h-1zM432.0 546.4h1v1h-1zM428.4 541.7h1v1h-1zM427.7 545.7h1v1h-1zM416.7 543.0h1v1h-1zM431.9 543.1h1v1h-1zM431.5 536.6h1v1h-1zM422.0 546.8h1v1h-1zM431.0 542.1h1v1h-1zM421.7 555.6h1v1h-1zM435.2 547.0h1v1h-1zM424.3 549.1h1v1h-1zM424.7 550.7h1v1h-1zM433.7 544.6h1v1h-1zM415.8 542.7h1v1h-1zM426.4 548.2h1v1h-1zM419.8 553.0h1v1h-1zM432.7 534.4h1v1h-1zM433.9 543.6h1v1h-1zM434.0 542.9h1v1h-1zM429.4 546.5h1v1h-1zM424.7 539.4h1v1h-1zM434.1 541.0h1v1h-1z"/><path fill="#e8281c" d="M426.3 544.5h1v1h-1zM429.8 543.8h1v1h-1zM425.2 546.9h1v1h-1zM423.4 544.1h1v1h-1zM428.0 548.0h1v1h-1zM426.2 548.1h1v1h-1zM429.4 546.5h1v1h-1zM427.3 543.0h1v1h-1zM423.6 541.3h1v1h-1zM424.7 545.5h1v1h-1zM425.2 545.8h1v1h-1zM427.4 543.5h1v1h-1zM425.2 545.3h1v1h-1zM424.6 541.8h1v1h-1zM426.6 544.0h1v1h-1zM426.3 543.8h1v1h-1zM423.6 544.5h1v1h-1zM425.0 547.0h1v1h-1zM425.4 543.9h1v1h-1zM421.8 544.4h1v1h-1zM424.3 547.6h1v1h-1zM425.9 542.7h1v1h-1zM425.3 541.9h1v1h-1zM426.3 543.8h1v1h-1zM426.6 548.6h1v1h-1zM426.6 541.8h1v1h-1zM423.6 544.5h1v1h-1zM422.8 545.6h1v1h-1zM430.1 544.3h1v1h-1zM425.7 541.5h1v1h-1zM421.9 547.5h1v1h-1zM426.1 541.5h1v1h-1zM424.0 546.3h1v1h-1zM429.0 546.8h1v1h-1zM428.0 544.5h1v1h-1zM420.6 546.7h1v1h-1zM425.8 545.3h1v1h-1zM424.5 545.3h1v1h-1zM427.0 544.1h1v1h-1zM426.5 541.9h1v1h-1zM428.9 544.6h1v1h-1zM421.2 546.2h1v1h-1zM421.3 547.6h1v1h-1zM422.9 548.2h1v1h-1zM424.8 546.3h1v1h-1zM420.5 545.2h1v1h-1z"/><path fill="#f08a20" d="M426.3 545.0h1v1h-1zM424.5 551.1h1v1h-1zM423.8 548.0h1v1h-1zM422.1 543.7h1v1h-1zM426.4 543.0h1v1h-1zM419.3 546.3h1v1h-1zM429.6 549.8h1v1h-1zM423.4 540.4h1v1h-1zM430.5 541.3h1v1h-1zM423.9 543.6h1v1h-1zM431.5 543.3h1v1h-1zM428.1 542.7h1v1h-1zM429.3 542.1h1v1h-1zM428.9 547.1h1v1h-1zM426.6 548.7h1v1h-1zM420.8 540.4h1v1h-1zM429.5 550.2h1v1h-1zM425.8 540.9h1v1h-1zM422.0 540.4h1v1h-1zM424.7 546.9h1v1h-1zM417.7 544.9h1v1h-1zM422.9 547.9h1v1h-1zM422.1 545.9h1v1h-1zM423.5 544.7h1v1h-1zM421.8 544.7h1v1h-1zM419.9 547.3h1v1h-1zM430.2 545.7h1v1h-1zM423.3 538.5h1v1h-1zM417.2 545.5h1v1h-1zM423.4 544.7h1v1h-1zM433.1 540.1h1v1h-1zM420.6 548.4h1v1h-1zM421.0 549.0h1v1h-1zM415.4 542.4h1v1h-1zM421.9 550.2h1v1h-1zM421.3 542.1h1v1h-1zM431.4 548.8h1v1h-1zM421.2 542.3h1v1h-1zM422.4 541.5h1v1h-1zM428.7 542.4h1v1h-1zM419.6 539.4h1v1h-1zM428.4 544.0h1v1h-1zM428.5 545.0h1v1h-1zM424.2 541.8h1v1h-1zM428.9 548.2h1v1h-1zM423.1 545.3h1v1h-1zM425.9 542.8h1v1h-1zM426.3 544.0h1v1h-1zM421.8 549.4h1v1h-1zM430.7 543.9h1v1h-1zM421.1 542.1h1v1h-1zM430.2 543.3h1v1h-1zM418.7 548.0h1v1h-1zM425.3 544.6h1v1h-1zM424.6 547.9h1v1h-1z"/><path fill="#f0c828" d="M422.0 543.6h1v1h-1zM420.0 542.6h1v1h-1zM426.6 544.8h1v1h-1zM423.1 543.9h1v1h-1zM427.3 545.1h1v1h-1zM417.8 545.6h1v1h-1zM421.6 545.6h1v1h-1zM423.6 545.6h1v1h-1zM423.9 546.5h1v1h-1zM424.6 543.4h1v1h-1zM420.9 536.8h1v1h-1zM434.7 541.2h1v1h-1zM424.9 545.2h1v1h-1zM422.1 544.2h1v1h-1zM422.5 542.3h1v1h-1zM424.0 543.1h1v1h-1zM424.6 548.3h1v1h-1zM429.8 541.9h1v1h-1zM419.5 539.6h1v1h-1zM423.0 540.8h1v1h-1zM425.8 541.7h1v1h-1zM431.9 546.9h1v1h-1zM428.3 544.5h1v1h-1zM426.8 544.9h1v1h-1zM421.3 544.2h1v1h-1zM424.9 546.7h1v1h-1zM424.4 547.4h1v1h-1zM421.0 545.3h1v1h-1zM431.7 543.6h1v1h-1zM418.1 547.1h1v1h-1zM425.2 543.9h1v1h-1zM425.5 542.7h1v1h-1zM431.8 541.9h1v1h-1zM423.0 547.1h1v1h-1zM425.7 546.9h1v1h-1zM429.0 547.0h1v1h-1zM428.1 548.1h1v1h-1zM424.9 539.2h1v1h-1zM419.5 543.0h1v1h-1zM424.3 545.7h1v1h-1zM430.7 546.4h1v1h-1zM422.6 541.1h1v1h-1zM423.5 545.7h1v1h-1zM419.1 543.4h1v1h-1zM424.7 544.2h1v1h-1zM426.7 543.7h1v1h-1zM422.6 542.6h1v1h-1zM428.0 549.6h1v1h-1zM425.0 548.4h1v1h-1zM425.9 543.3h1v1h-1zM422.8 541.3h1v1h-1zM422.9 544.8h1v1h-1zM419.6 546.2h1v1h-1zM426.1 545.1h1v1h-1zM425.2 543.1h1v1h-1zM429.6 544.6h1v1h-1zM421.6 543.3h1v1h-1zM424.3 543.1h1v1h-1zM420.9 544.8h1v1h-1zM425.6 545.6h1v1h-1zM425.7 543.9h1v1h-1zM429.0 547.4h1v1h-1zM422.5 541.7h1v1h-1zM425.9 544.1h1v1h-1zM427.7 543.3h1v1h-1zM427.5 542.8h1v1h-1z"/>
<text transform="translate(330.40,531.00) scale(1,1.07)" font-size="7.60" text-anchor="end" fill="#000" stroke="#000" stroke-width="0.07" >10<tspan font-size="4.8" dy="-2.8">5</tspan></text>
<text transform="translate(330.40,546.60) scale(1,1.07)" font-size="7.60" text-anchor="end" fill="#000" stroke="#000" stroke-width="0.07" >10<tspan font-size="4.8" dy="-2.8">4</tspan></text>
<text transform="translate(330.40,570.20) scale(1,1.07)" font-size="7.60" text-anchor="end" fill="#000" stroke="#000" stroke-width="0.07" >10<tspan font-size="4.8" dy="-2.8">0</tspan></text>
<text transform="translate(348.80,599.20) scale(1,1.07)" font-size="7.60" text-anchor="start" fill="#000" stroke="#000" stroke-width="0.07" >10<tspan font-size="4.8" dy="-2.8">0</tspan></text>
<text transform="translate(370.60,599.20) scale(1,1.07)" font-size="7.60" text-anchor="start" fill="#000" stroke="#000" stroke-width="0.07" >10<tspan font-size="4.8" dy="-2.8">4</tspan></text>
<text transform="translate(384.50,599.20) scale(1,1.07)" font-size="7.60" text-anchor="start" fill="#000" stroke="#000" stroke-width="0.07" >10<tspan font-size="4.8" dy="-2.8">5</tspan></text>
<text x="0.00" y="0.00" font-size="7.80" text-anchor="middle" fill="#000" stroke="#000" stroke-width="0.07" transform="translate(313.80,555.50) rotate(-90) scale(1,1.07)">CD4-AF700</text>
<text transform="translate(336.00,612.60) scale(1,1.07)" font-size="7.80" text-anchor="start" fill="#000" stroke="#000" stroke-width="0.07" >GM-CSF-PE</text>
<line x1="383.30" y1="609.60" x2="460.50" y2="609.60" stroke="#000" stroke-width="0.75" />
<path d="M464.3,609.6 L460.1,607.9 L460.1,611.3 Z" fill="#000" stroke="none" stroke-width="0.7" />
<text transform="translate(536.50,524.80) scale(1,1.07)" font-size="7.80" text-anchor="middle" fill="#000" stroke="#000" stroke-width="0.07" >GM-CSF<tspan font-size="4.4" dx="0.35" dy="-3.3">+</tspan><tspan dx="0.5" dy="3.3"> in CD4</tspan><tspan font-size="4.4" dx="0.35" dy="-3.3">+</tspan></text>
<text x="0.00" y="0.00" font-size="7.80" text-anchor="middle" fill="#000" stroke="#000" stroke-width="0.07" transform="translate(494.80,570.50) rotate(-90) scale(1,1.07)">Frequency (%)</text>
<line x1="515.60" y1="536.90" x2="515.60" y2="604.40" stroke="#444" stroke-width="0.65" />
<line x1="512.10" y1="604.40" x2="515.60" y2="604.40" stroke="#000" stroke-width="0.55" />
<text transform="translate(509.10,607.35) scale(1,1.1)" font-size="7.70" text-anchor="end" fill="#000" stroke="#000" stroke-width="0.07" >0</text>
<line x1="512.10" y1="590.90" x2="515.60" y2="590.90" stroke="#000" stroke-width="0.55" />
<text transform="translate(509.10,593.85) scale(1,1.1)" font-size="7.70" text-anchor="end" fill="#000" stroke="#000" stroke-width="0.07" >5</text>
<line x1="512.10" y1="577.40" x2="515.60" y2="577.40" stroke="#000" stroke-width="0.55" />
<text transform="translate(509.10,580.35) scale(1,1.1)" font-size="7.70" text-anchor="end" fill="#000" stroke="#000" stroke-width="0.07" >10</text>
<line x1="512.10" y1="563.90" x2="515.60" y2="563.90" stroke="#000" stroke-width="0.55" />
<text transform="translate(509.10,566.85) scale(1,1.1)" font-size="7.70" text-anchor="end" fill="#000" stroke="#000" stroke-width="0.07" >15</text>
<line x1="512.10" y1="550.40" x2="515.60" y2="550.40" stroke="#000" stroke-width="0.55" />
<text transform="translate(509.10,553.35) scale(1,1.1)" font-size="7.70" text-anchor="end" fill="#000" stroke="#000" stroke-width="0.07" >20</text>
<line x1="512.10" y1="536.90" x2="515.60" y2="536.90" stroke="#000" stroke-width="0.55" />
<text transform="translate(509.10,539.85) scale(1,1.1)" font-size="7.70" text-anchor="end" fill="#000" stroke="#000" stroke-width="0.07" >25</text>
<line x1="515.60" y1="604.40" x2="557.60" y2="604.40" stroke="#444" stroke-width="0.65" />
<line x1="527.40" y1="604.40" x2="527.40" y2="606.40" stroke="#444" stroke-width="0.6" />
<line x1="545.60" y1="604.40" x2="545.60" y2="606.40" stroke="#444" stroke-width="0.6" />
<rect x="521.10" y="564.10" width="12.60" height="40.30" fill="#fff" stroke="#555" stroke-width="0.6" />
<rect x="539.30" y="578.00" width="12.60" height="26.40" fill="#fff" stroke="#555" stroke-width="0.6" />
<g fill="#000"><circle cx="527.50" cy="545.60" r="1.35"/><circle cx="527.50" cy="555.40" r="1.35"/><circle cx="525.00" cy="559.00" r="1.35"/><circle cx="530.00" cy="559.60" r="1.35"/><circle cx="527.50" cy="563.40" r="1.35"/><circle cx="522.80" cy="567.10" r="1.35"/><circle cx="525.20" cy="567.80" r="1.35"/><circle cx="530.00" cy="567.80" r="1.35"/><circle cx="532.50" cy="568.80" r="1.35"/><circle cx="527.50" cy="570.10" r="1.35"/><circle cx="525.20" cy="571.20" r="1.35"/><circle cx="530.00" cy="570.60" r="1.35"/><circle cx="527.50" cy="574.30" r="1.35"/></g>
<line x1="527.40" y1="567.10" x2="527.40" y2="560.40" stroke="#000" stroke-width="0.6" />
<line x1="525.80" y1="567.10" x2="529.00" y2="567.10" stroke="#000" stroke-width="0.6" />
<line x1="525.80" y1="560.40" x2="529.00" y2="560.40" stroke="#000" stroke-width="0.6" />
<g fill="#ff0000"><circle cx="543.30" cy="559.20" r="1.35"/><circle cx="548.50" cy="558.20" r="1.35"/><circle cx="543.30" cy="574.70" r="1.35"/><circle cx="548.50" cy="574.70" r="1.35"/><circle cx="545.80" cy="580.60" r="1.35"/><circle cx="545.80" cy="583.60" r="1.35"/><circle cx="545.80" cy="589.00" r="1.35"/><circle cx="545.80" cy="604.60" r="1.35"/></g>
<line x1="545.60" y1="583.10" x2="545.60" y2="572.50" stroke="#000" stroke-width="0.6" />
<line x1="544.00" y1="583.10" x2="547.20" y2="583.10" stroke="#000" stroke-width="0.6" />
<line x1="544.00" y1="572.50" x2="547.20" y2="572.50" stroke="#000" stroke-width="0.6" />
<text transform="translate(536.20,540.00) scale(1,1.07)" font-size="9.00" text-anchor="middle" fill="#000" stroke="#000" stroke-width="0.25">*</text>
<text transform="translate(632.10,524.80) scale(1,1.07)" font-size="7.80" text-anchor="middle" fill="#000" stroke="#000" stroke-width="0.07" >GM-CSF<tspan font-size="4.4" dx="0.35" dy="-3.3">+</tspan><tspan dx="0.5" dy="3.3">CD4</tspan><tspan font-size="4.4" dx="0.35" dy="-3.3">+</tspan></text>
<text x="0.00" y="0.00" font-size="7.80" text-anchor="middle" fill="#000" stroke="#000" stroke-width="0.07" transform="translate(586.30,571.00) rotate(-90) scale(1,1.07)">Cell number (×10<tspan font-size="4.6" dy="-3">3</tspan><tspan dy="3">)</tspan></text>
<line x1="611.10" y1="536.50" x2="611.10" y2="549.80" stroke="#444" stroke-width="0.65" />
<line x1="609.20" y1="549.80" x2="613.00" y2="549.80" stroke="#000" stroke-width="0.6" />
<line x1="611.10" y1="555.00" x2="611.10" y2="604.40" stroke="#444" stroke-width="0.65" />
<line x1="609.20" y1="555.00" x2="613.00" y2="555.00" stroke="#000" stroke-width="0.6" />
<line x1="607.60" y1="536.50" x2="611.10" y2="536.50" stroke="#000" stroke-width="0.55" />
<text transform="translate(604.60,539.45) scale(1,1.1)" font-size="7.70" text-anchor="end" fill="#000" stroke="#000" stroke-width="0.07" >3.0</text>
<line x1="607.60" y1="546.10" x2="611.10" y2="546.10" stroke="#000" stroke-width="0.55" />
<text transform="translate(604.60,549.05) scale(1,1.1)" font-size="7.70" text-anchor="end" fill="#000" stroke="#000" stroke-width="0.07" >1.5</text>
<text transform="translate(604.60,557.95) scale(1,1.1)" font-size="7.70" text-anchor="end" fill="#000" stroke="#000" stroke-width="0.07" >1.0</text>
<line x1="607.60" y1="564.90" x2="611.10" y2="564.90" stroke="#000" stroke-width="0.55" />
<text transform="translate(604.60,567.85) scale(1,1.1)" font-size="7.70" text-anchor="end" fill="#000" stroke="#000" stroke-width="0.07" >0.8</text>
<line x1="607.60" y1="574.60" x2="611.10" y2="574.60" stroke="#000" stroke-width="0.55" />
<text transform="translate(604.60,577.55) scale(1,1.1)" font-size="7.70" text-anchor="end" fill="#000" stroke="#000" stroke-width="0.07" >0.6</text>
<line x1="607.60" y1="584.40" x2="611.10" y2="584.40" stroke="#000" stroke-width="0.55" />
<text transform="translate(604.60,587.35) scale(1,1.1)" font-size="7.70" text-anchor="end" fill="#000" stroke="#000" stroke-width="0.07" >0.4</text>
<line x1="607.60" y1="594.50" x2="611.10" y2="594.50" stroke="#000" stroke-width="0.55" />
<text transform="translate(604.60,597.45) scale(1,1.1)" font-size="7.70" text-anchor="end" fill="#000" stroke="#000" stroke-width="0.07" >0.2</text>
<line x1="607.60" y1="604.40" x2="611.10" y2="604.40" stroke="#000" stroke-width="0.55" />
<text transform="translate(604.60,607.35) scale(1,1.1)" font-size="7.70" text-anchor="end" fill="#000" stroke="#000" stroke-width="0.07" >0</text>
<line x1="611.10" y1="604.40" x2="653.10" y2="604.40" stroke="#444" stroke-width="0.65" />
<line x1="623.30" y1="604.40" x2="623.30" y2="606.40" stroke="#444" stroke-width="0.6" />
<line x1="641.50" y1="604.40" x2="641.50" y2="606.40" stroke="#444" stroke-width="0.6" />
<rect x="617.00" y="572.10" width="12.60" height="32.30" fill="#fff" stroke="#555" stroke-width="0.6" />
<rect x="635.45" y="600.30" width="12.10" height="4.10" fill="#fff" stroke="#555" stroke-width="0.6" />
<g fill="#000"><circle cx="623.40" cy="539.90" r="1.35"/><circle cx="623.40" cy="548.60" r="1.35"/><circle cx="620.30" cy="567.40" r="1.35"/><circle cx="626.20" cy="569.10" r="1.35"/><circle cx="623.40" cy="576.30" r="1.35"/><circle cx="623.40" cy="581.40" r="1.35"/><circle cx="620.30" cy="585.90" r="1.35"/><circle cx="626.20" cy="586.90" r="1.35"/><circle cx="623.40" cy="592.30" r="1.35"/><circle cx="620.30" cy="602.00" r="1.35"/><circle cx="626.20" cy="600.70" r="1.35"/></g>
<line x1="623.30" y1="583.00" x2="623.30" y2="561.20" stroke="#000" stroke-width="0.6" />
<line x1="621.70" y1="583.00" x2="624.90" y2="583.00" stroke="#000" stroke-width="0.6" />
<line x1="621.70" y1="561.20" x2="624.90" y2="561.20" stroke="#000" stroke-width="0.6" />
<g fill="#ff0000"><circle cx="641.70" cy="583.50" r="1.35"/><circle cx="641.70" cy="589.80" r="1.35"/><circle cx="638.50" cy="602.30" r="1.35"/><circle cx="640.80" cy="602.50" r="1.35"/><circle cx="643.50" cy="601.50" r="1.35"/><circle cx="646.00" cy="602.50" r="1.35"/><circle cx="637.00" cy="602.80" r="1.35"/><circle cx="641.60" cy="600.50" r="1.35"/></g>
<line x1="641.50" y1="602.00" x2="641.50" y2="598.00" stroke="#000" stroke-width="0.6" />
<line x1="639.90" y1="602.00" x2="643.10" y2="602.00" stroke="#000" stroke-width="0.6" />
<line x1="639.90" y1="598.00" x2="643.10" y2="598.00" stroke="#000" stroke-width="0.6" />
<text transform="translate(632.90,543.00) scale(1,1.07)" font-size="9.00" text-anchor="middle" fill="#000" stroke="#000" stroke-width="0.25">*</text>
</svg></body></html>
